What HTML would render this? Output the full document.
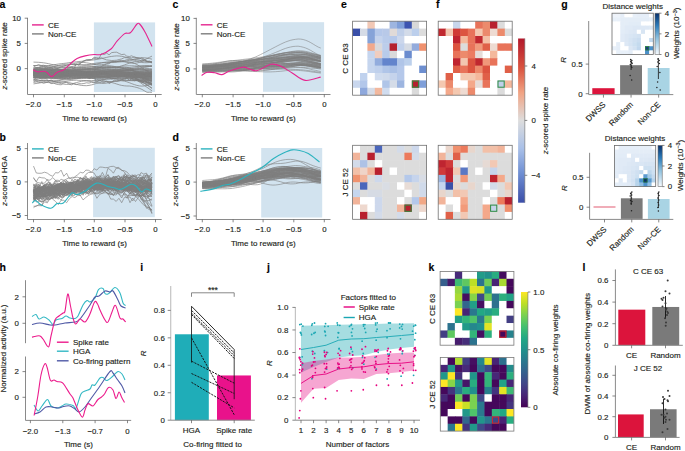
<!DOCTYPE html>
<html><head><meta charset="utf-8"><style>
html,body{margin:0;padding:0;background:#fff;overflow:hidden;}
svg{display:block;}
text{font-family:"Liberation Sans", sans-serif;stroke:#231f20;stroke-width:0.15px;}
</style></head><body>
<svg width="685" height="451" viewBox="0 0 685 451" font-family='"Liberation Sans", sans-serif'>
<rect x="93.9" y="22.4" width="61.2" height="69.6" fill="#d2e3ef" />
<path d="M33.5,73.4 36,73.4 38.5,73.5 41.1,73.5 43.6,73.6 46.1,73.7 48.6,73.8 51.1,73.9 53.7,74 56.2,74.1 58.7,74.1 61.2,74.2 63.8,74.2 66.3,74.2 68.8,74.2 71.3,74.1 73.8,74.1 76.4,74.1 78.9,74 81.4,74 83.9,74 86.4,73.9 89,73.8 91.5,73.8 94,73.7 96.5,73.6 99.1,73.5 101.6,73.4 104.1,73.3 106.6,73.2 109.1,73.1 111.7,73 114.2,73 116.7,72.9 119.2,72.9 121.7,72.9 124.3,72.9 126.8,72.9 129.3,73 131.8,73 134.4,73.1 136.9,73.2 139.4,73.3 141.9,73.3 144.4,73.4 147,73.5 149.5,73.5 152,73.5" fill="none" stroke="#7d7d7d" stroke-width="0.7" stroke-linejoin="round" />
<path d="M33.5,77.9 36,77.8 38.5,77.8 41.1,77.8 43.6,77.8 46.1,77.8 48.6,77.8 51.1,77.9 53.7,77.9 56.2,78 58.7,78.1 61.2,78.1 63.8,78.2 66.3,78.2 68.8,78.2 71.3,78.1 73.8,78.1 76.4,77.9 78.9,77.8 81.4,77.6 83.9,77.5 86.4,77.4 89,77.2 91.5,77.1 94,77.1 96.5,77 99.1,76.9 101.6,76.9 104.1,76.8 106.6,76.7 109.1,76.6 111.7,76.4 114.2,76.3 116.7,76.2 119.2,76.1 121.7,76 124.3,75.9 126.8,75.8 129.3,75.8 131.8,75.8 134.4,75.8 136.9,75.9 139.4,75.9 141.9,75.9 144.4,75.9 147,76 149.5,76 152,76" fill="none" stroke="#7d7d7d" stroke-width="0.7" stroke-linejoin="round" />
<path d="M33.5,77.5 36,77.3 38.5,77.2 41.1,77.1 43.6,77.2 46.1,77.3 48.6,77.5 51.1,77.8 53.7,78.2 56.2,78.5 58.7,78.8 61.2,79 63.8,79.2 66.3,79.2 68.8,79.1 71.3,78.9 73.8,78.6 76.4,78.2 78.9,77.8 81.4,77.3 83.9,76.9 86.4,76.6 89,76.3 91.5,76.1 94,76.1 96.5,76.1 99.1,76.2 101.6,76.5 104.1,76.8 106.6,77.2 109.1,77.7 111.7,78.2 114.2,78.8 116.7,79.3 119.2,79.8 121.7,80.2 124.3,80.5 126.8,80.6 129.3,80.6 131.8,80.5 134.4,80.4 136.9,80.2 139.4,80.1 141.9,80.1 144.4,80.2 147,80.4 149.5,80.7 152,81.2" fill="none" stroke="#7d7d7d" stroke-width="0.7" stroke-linejoin="round" />
<path d="M33.5,72.3 36,72.4 38.5,72.5 41.1,72.4 43.6,72.4 46.1,72.3 48.6,72.2 51.1,72.2 53.7,72.2 56.2,72.4 58.7,72.6 61.2,72.8 63.8,73.1 66.3,73.4 68.8,73.6 71.3,73.7 73.8,73.7 76.4,73.6 78.9,73.4 81.4,73.1 83.9,72.8 86.4,72.4 89,72.1 91.5,71.9 94,71.8 96.5,71.8 99.1,71.9 101.6,72.2 104.1,72.5 106.6,72.8 109.1,73.2 111.7,73.5 114.2,73.7 116.7,73.9 119.2,74.1 121.7,74.1 124.3,74.2 126.8,74.2 129.3,74.2 131.8,74.3 134.4,74.3 136.9,74.4 139.4,74.5 141.9,74.6 144.4,74.7 147,74.7 149.5,74.7 152,74.6" fill="none" stroke="#7d7d7d" stroke-width="0.7" stroke-linejoin="round" />
<path d="M33.5,79.5 36,79.1 38.5,78.8 41.1,78.5 43.6,78.2 46.1,78 48.6,77.8 51.1,77.7 53.7,77.7 56.2,77.7 58.7,77.7 61.2,77.7 63.8,77.7 66.3,77.7 68.8,77.6 71.3,77.5 73.8,77.5 76.4,77.4 78.9,77.4 81.4,77.4 83.9,77.4 86.4,77.5 89,77.5 91.5,77.5 94,77.4 96.5,77.3 99.1,77.1 101.6,76.9 104.1,76.6 106.6,76.3 109.1,76.1 111.7,75.9 114.2,75.7 116.7,75.6 119.2,75.6 121.7,75.7 124.3,75.9 126.8,76 129.3,76.3 131.8,76.5 134.4,76.7 136.9,76.9 139.4,77.1 141.9,77.3 144.4,77.5 147,77.7 149.5,78 152,78.4" fill="none" stroke="#7d7d7d" stroke-width="0.7" stroke-linejoin="round" />
<path d="M33.5,74.6 36,74.6 38.5,74.6 41.1,74.8 43.6,74.9 46.1,75.1 48.6,75.2 51.1,75.2 53.7,75.2 56.2,75 58.7,74.6 61.2,74.3 63.8,73.9 66.3,73.5 68.8,73.2 71.3,73.1 73.8,73 76.4,73.1 78.9,73.3 81.4,73.5 83.9,73.8 86.4,73.9 89,74 91.5,74 94,73.9 96.5,73.7 99.1,73.6 101.6,73.4 104.1,73.3 106.6,73.2 109.1,73.3 111.7,73.4 114.2,73.5 116.7,73.7 119.2,73.9 121.7,74 124.3,74.1 126.8,74.1 129.3,74.1 131.8,74.1 134.4,74.2 136.9,74.3 139.4,74.5 141.9,74.7 144.4,75 147,75.2 149.5,75.3 152,75.4" fill="none" stroke="#7d7d7d" stroke-width="0.7" stroke-linejoin="round" />
<path d="M33.5,69.6 36,69.7 38.5,69.8 41.1,69.9 43.6,70 46.1,70 48.6,70.1 51.1,70.1 53.7,70.1 56.2,70 58.7,70 61.2,69.9 63.8,69.9 66.3,69.8 68.8,69.8 71.3,69.8 73.8,69.8 76.4,69.8 78.9,69.8 81.4,69.8 83.9,69.8 86.4,69.7 89,69.7 91.5,69.6 94,69.5 96.5,69.5 99.1,69.4 101.6,69.4 104.1,69.3 106.6,69.3 109.1,69.3 111.7,69.4 114.2,69.4 116.7,69.5 119.2,69.6 121.7,69.8 124.3,70 126.8,70.2 129.3,70.4 131.8,70.6 134.4,70.8 136.9,71 139.4,71.1 141.9,71.1 144.4,71.2 147,71.1 149.5,71 152,70.9" fill="none" stroke="#7d7d7d" stroke-width="0.7" stroke-linejoin="round" />
<path d="M33.5,75 36,74.9 38.5,75 41.1,75 43.6,75.1 46.1,75.2 48.6,75.4 51.1,75.4 53.7,75.4 56.2,75.2 58.7,74.8 61.2,74.2 63.8,73.5 66.3,72.7 68.8,71.8 71.3,71 73.8,70.3 76.4,69.7 78.9,69.4 81.4,69.3 83.9,69.3 86.4,69.5 89,69.6 91.5,69.7 94,69.7 96.5,69.5 99.1,69.3 101.6,69 104.1,68.8 106.6,68.6 109.1,68.7 111.7,69 114.2,69.5 116.7,70.3 119.2,71.3 121.7,72.3 124.3,73.4 126.8,74.3 129.3,75.1 131.8,75.6 134.4,75.8 136.9,75.9 139.4,75.8 141.9,75.8 144.4,75.8 147,75.9 149.5,76.2 152,76.6" fill="none" stroke="#7d7d7d" stroke-width="0.7" stroke-linejoin="round" />
<path d="M33.5,73.3 36,73.6 38.5,73.9 41.1,74.3 43.6,74.6 46.1,74.9 48.6,75.1 51.1,75.2 53.7,75.2 56.2,75.1 58.7,74.9 61.2,74.7 63.8,74.5 66.3,74.3 68.8,74.2 71.3,74.1 73.8,74.2 76.4,74.4 78.9,74.6 81.4,74.8 83.9,75.1 86.4,75.3 89,75.4 91.5,75.4 94,75.2 96.5,75 99.1,74.7 101.6,74.4 104.1,74.1 106.6,73.8 109.1,73.6 111.7,73.5 114.2,73.4 116.7,73.4 119.2,73.5 121.7,73.6 124.3,73.7 126.8,73.9 129.3,74 131.8,74.2 134.4,74.3 136.9,74.4 139.4,74.5 141.9,74.6 144.4,74.7 147,74.9 149.5,75 152,75.1" fill="none" stroke="#7d7d7d" stroke-width="0.7" stroke-linejoin="round" />
<path d="M33.5,72.6 36,72.6 38.5,72.6 41.1,72.7 43.6,72.7 46.1,72.7 48.6,72.7 51.1,72.7 53.7,72.6 56.2,72.5 58.7,72.4 61.2,72.2 63.8,72 66.3,71.9 68.8,71.7 71.3,71.6 73.8,71.5 76.4,71.5 78.9,71.5 81.4,71.5 83.9,71.5 86.4,71.6 89,71.7 91.5,71.7 94,71.8 96.5,71.8 99.1,71.7 101.6,71.6 104.1,71.4 106.6,71.2 109.1,70.9 111.7,70.6 114.2,70.3 116.7,69.9 119.2,69.6 121.7,69.4 124.3,69.2 126.8,69.1 129.3,69.1 131.8,69.1 134.4,69.3 136.9,69.4 139.4,69.6 141.9,69.9 144.4,70.2 147,70.5 149.5,70.9 152,71.3" fill="none" stroke="#7d7d7d" stroke-width="0.7" stroke-linejoin="round" />
<path d="M33.5,73.3 36,73.3 38.5,73.3 41.1,73.3 43.6,73.4 46.1,73.5 48.6,73.7 51.1,73.9 53.7,74.2 56.2,74.4 58.7,74.6 61.2,74.8 63.8,75.1 66.3,75.3 68.8,75.5 71.3,75.7 73.8,75.9 76.4,76.1 78.9,76.2 81.4,76.3 83.9,76.2 86.4,76.2 89,76 91.5,75.7 94,75.3 96.5,75 99.1,74.6 101.6,74.2 104.1,73.8 106.6,73.6 109.1,73.4 111.7,73.4 114.2,73.4 116.7,73.5 119.2,73.7 121.7,73.9 124.3,74 126.8,74.2 129.3,74.4 131.8,75 134.4,75.6 136.9,76.2 139.4,76.9 141.9,77.7 144.4,78.5 147,79.3 149.5,80.2 152,81.1" fill="none" stroke="#7d7d7d" stroke-width="0.7" stroke-linejoin="round" />
<path d="M33.5,71.7 36,71.3 38.5,70.9 41.1,70.6 43.6,70.4 46.1,70.4 48.6,70.4 51.1,70.5 53.7,70.5 56.2,70.5 58.7,70.5 61.2,70.4 63.8,70.2 66.3,70 68.8,69.8 71.3,69.7 73.8,69.6 76.4,69.6 78.9,69.7 81.4,69.7 83.9,69.7 86.4,69.7 89,69.5 91.5,69.2 94,68.8 96.5,68.3 99.1,67.7 101.6,67.2 104.1,66.8 106.6,66.6 109.1,66.5 111.7,66.6 114.2,66.8 116.7,67.2 119.2,67.7 121.7,68.2 124.3,68.6 126.8,69 129.3,69.4 131.8,70.4 134.4,71.6 136.9,72.9 139.4,74.4 141.9,76.1 144.4,77.9 147,80 149.5,82.2 152,84.5" fill="none" stroke="#7d7d7d" stroke-width="0.7" stroke-linejoin="round" />
<path d="M33.5,72 36,72 38.5,72.1 41.1,72.2 43.6,72.3 46.1,72.5 48.6,72.7 51.1,72.8 53.7,72.9 56.2,72.9 58.7,72.8 61.2,72.6 63.8,72.4 66.3,72.1 68.8,71.8 71.3,71.5 73.8,71.2 76.4,71 78.9,70.9 81.4,70.8 83.9,70.8 86.4,70.7 89,70.8 91.5,70.8 94,70.8 96.5,70.8 99.1,70.8 101.6,70.8 104.1,70.8 106.6,70.9 109.1,71 111.7,71.1 114.2,71.1 116.7,71.2 119.2,71.1 121.7,71 124.3,70.8 126.8,70.6 129.3,70.2 131.8,69.8 134.4,69.4 136.9,69 139.4,68.7 141.9,68.5 144.4,68.4 147,68.5 149.5,68.6 152,68.9" fill="none" stroke="#7d7d7d" stroke-width="0.7" stroke-linejoin="round" />
<path d="M33.5,76.1 36,76.4 38.5,76.7 41.1,77 43.6,77.2 46.1,77.4 48.6,77.4 51.1,77.4 53.7,77.3 56.2,77.2 58.7,77.1 61.2,77 63.8,76.9 66.3,76.9 68.8,76.9 71.3,76.9 73.8,76.9 76.4,76.9 78.9,76.9 81.4,76.9 83.9,76.7 86.4,76.6 89,76.5 91.5,76.3 94,76.3 96.5,76.2 99.1,76.2 101.6,76.2 104.1,76.3 106.6,76.4 109.1,76.4 111.7,76.5 114.2,76.5 116.7,76.5 119.2,76.4 121.7,76.4 124.3,76.5 126.8,76.5 129.3,76.7 131.8,76.9 134.4,77.2 136.9,77.5 139.4,77.8 141.9,78 144.4,78.1 147,78.1 149.5,78 152,77.9" fill="none" stroke="#7d7d7d" stroke-width="0.7" stroke-linejoin="round" />
<path d="M33.5,82.4 36,82 38.5,81.4 41.1,80.9 43.6,80.5 46.1,80.3 48.6,80.4 51.1,80.8 53.7,81.4 56.2,82.2 58.7,82.9 61.2,83.6 63.8,84.1 66.3,84.4 68.8,84.3 71.3,83.9 73.8,83.3 76.4,82.6 78.9,81.9 81.4,81.3 83.9,81 86.4,80.9 89,81.2 91.5,81.6 94,82.1 96.5,82.7 99.1,83.1 101.6,83.4 104.1,83.4 106.6,83.1 109.1,82.6 111.7,82 114.2,81.4 116.7,81 119.2,80.7 121.7,80.8 124.3,81.1 126.8,81.8 129.3,82.7 131.8,83.7 134.4,84.6 136.9,85.4 139.4,85.9 141.9,86.1 144.4,85.9 147,85.4 149.5,84.7 152,83.9" fill="none" stroke="#7d7d7d" stroke-width="0.7" stroke-linejoin="round" />
<path d="M33.5,68.3 36,68.4 38.5,68.5 41.1,68.5 43.6,68.5 46.1,68.5 48.6,68.3 51.1,68.1 53.7,67.8 56.2,67.5 58.7,67.3 61.2,67.1 63.8,66.9 66.3,66.9 68.8,66.9 71.3,67.1 73.8,67.3 76.4,67.6 78.9,67.9 81.4,68.1 83.9,68.3 86.4,68.5 89,68.5 91.5,68.5 94,68.3 96.5,68.1 99.1,67.9 101.6,67.7 104.1,67.5 106.6,67.4 109.1,67.3 111.7,67.4 114.2,67.5 116.7,67.6 119.2,67.7 121.7,67.8 124.3,67.9 126.8,67.8 129.3,67.6 131.8,67.3 134.4,66.9 136.9,66.5 139.4,66.1 141.9,65.8 144.4,65.6 147,65.6 149.5,65.7 152,66" fill="none" stroke="#7d7d7d" stroke-width="0.7" stroke-linejoin="round" />
<path d="M33.5,65.5 36,65.5 38.5,65.4 41.1,65.4 43.6,65.4 46.1,65.5 48.6,65.8 51.1,66 53.7,66.4 56.2,66.7 58.7,67 61.2,67.3 63.8,67.5 66.3,67.6 68.8,67.6 71.3,67.5 73.8,67.3 76.4,67 78.9,66.7 81.4,66.5 83.9,66.3 86.4,66.2 89,66.1 91.5,66.2 94,66.4 96.5,66.6 99.1,66.9 101.6,67.1 104.1,67.3 106.6,67.4 109.1,67.4 111.7,67.3 114.2,67.1 116.7,66.9 119.2,66.6 121.7,66.3 124.3,66.1 126.8,65.9 129.3,65.8 131.8,65.8 134.4,65.9 136.9,66 139.4,66.1 141.9,66.2 144.4,66.2 147,66.1 149.5,66 152,65.8" fill="none" stroke="#7d7d7d" stroke-width="0.7" stroke-linejoin="round" />
<path d="M33.5,77.5 36,77.5 38.5,77.4 41.1,77.4 43.6,77.3 46.1,77.1 48.6,76.9 51.1,76.7 53.7,76.5 56.2,76.2 58.7,75.9 61.2,75.7 63.8,75.5 66.3,75.3 68.8,75.1 71.3,74.9 73.8,74.7 76.4,74.6 78.9,74.4 81.4,74.2 83.9,74 86.4,73.8 89,73.7 91.5,73.5 94,73.4 96.5,73.4 99.1,73.4 101.6,73.5 104.1,73.5 106.6,73.7 109.1,73.8 111.7,74 114.2,74.2 116.7,74.4 119.2,74.6 121.7,74.9 124.3,75.1 126.8,75.4 129.3,75.7 131.8,76 134.4,76.2 136.9,76.5 139.4,76.8 141.9,77 144.4,77.2 147,77.4 149.5,77.6 152,77.8" fill="none" stroke="#7d7d7d" stroke-width="0.7" stroke-linejoin="round" />
<path d="M33.5,73.4 36,73.6 38.5,73.7 41.1,73.7 43.6,73.7 46.1,73.6 48.6,73.5 51.1,73.4 53.7,73.2 56.2,73.1 58.7,73 61.2,72.9 63.8,73 66.3,73 68.8,73.2 71.3,73.3 73.8,73.5 76.4,73.7 78.9,73.8 81.4,74 83.9,74.1 86.4,74.1 89,74.1 91.5,74.1 94,74 96.5,73.9 99.1,73.8 101.6,73.6 104.1,73.5 106.6,73.5 109.1,73.4 111.7,73.4 114.2,73.5 116.7,73.7 119.2,73.9 121.7,74.2 124.3,74.5 126.8,74.8 129.3,75.3 131.8,76.4 134.4,77.7 136.9,79.1 139.4,80.4 141.9,81.8 144.4,83.2 147,84.7 149.5,86.3 152,88.1" fill="none" stroke="#7d7d7d" stroke-width="0.7" stroke-linejoin="round" />
<path d="M33.5,71.4 36,71.6 38.5,71.8 41.1,71.8 43.6,71.6 46.1,71.4 48.6,71.1 51.1,70.7 53.7,70.4 56.2,70.1 58.7,69.9 61.2,69.9 63.8,70 66.3,70.1 68.8,70.3 71.3,70.5 73.8,70.6 76.4,70.5 78.9,70.4 81.4,70.1 83.9,69.8 86.4,69.4 89,69.1 91.5,68.9 94,68.8 96.5,68.8 99.1,68.9 101.6,69 104.1,69.2 106.6,69.3 109.1,69.2 111.7,69.1 114.2,68.8 116.7,68.4 119.2,68 121.7,67.7 124.3,67.4 126.8,67.4 129.3,67.9 131.8,69.3 134.4,71.1 136.9,73.2 139.4,75.5 141.9,77.8 144.4,79.9 147,81.9 149.5,83.7 152,85.2" fill="none" stroke="#7d7d7d" stroke-width="0.7" stroke-linejoin="round" />
<path d="M33.5,71.1 36,71 38.5,71.1 41.1,71.3 43.6,71.5 46.1,71.8 48.6,72.2 51.1,72.6 53.7,73.1 56.2,73.5 58.7,73.9 61.2,74.2 63.8,74.5 66.3,74.7 68.8,74.8 71.3,74.9 73.8,74.9 76.4,74.9 78.9,74.8 81.4,74.8 83.9,74.7 86.4,74.7 89,74.6 91.5,74.6 94,74.6 96.5,74.6 99.1,74.7 101.6,74.8 104.1,74.9 106.6,75.1 109.1,75.3 111.7,75.5 114.2,75.8 116.7,76 119.2,76.2 121.7,76.4 124.3,76.5 126.8,76.6 129.3,76.8 131.8,77.3 134.4,78 136.9,78.8 139.4,79.6 141.9,80.5 144.4,81.5 147,82.5 149.5,83.7 152,84.9" fill="none" stroke="#7d7d7d" stroke-width="0.7" stroke-linejoin="round" />
<path d="M33.5,72 36,72.2 38.5,72.5 41.1,72.8 43.6,72.9 46.1,73 48.6,73 51.1,72.8 53.7,72.7 56.2,72.5 58.7,72.4 61.2,72.3 63.8,72.4 66.3,72.6 68.8,73 71.3,73.4 73.8,73.8 76.4,74.2 78.9,74.6 81.4,74.9 83.9,75 86.4,75.1 89,75 91.5,75 94,74.8 96.5,74.8 99.1,74.7 101.6,74.7 104.1,74.7 106.6,74.7 109.1,74.7 111.7,74.7 114.2,74.6 116.7,74.5 119.2,74.3 121.7,74.1 124.3,74 126.8,73.8 129.3,73.9 131.8,74.4 134.4,75.1 136.9,75.9 139.4,76.8 141.9,77.7 144.4,78.5 147,79.3 149.5,79.9 152,80.5" fill="none" stroke="#7d7d7d" stroke-width="0.7" stroke-linejoin="round" />
<path d="M33.5,73.2 36,73.2 38.5,73.3 41.1,73.3 43.6,73.3 46.1,73.4 48.6,73.4 51.1,73.4 53.7,73.4 56.2,73.5 58.7,73.5 61.2,73.6 63.8,73.6 66.3,73.7 68.8,73.7 71.3,73.7 73.8,73.6 76.4,73.5 78.9,73.3 81.4,73.1 83.9,72.8 86.4,72.5 89,72.3 91.5,72 94,71.8 96.5,71.6 99.1,71.6 101.6,71.5 104.1,71.6 106.6,71.7 109.1,71.8 111.7,72 114.2,72.2 116.7,72.4 119.2,72.6 121.7,72.8 124.3,72.9 126.8,73 129.3,73.1 131.8,73.2 134.4,73.2 136.9,73.2 139.4,73.3 141.9,73.4 144.4,73.5 147,73.6 149.5,73.8 152,74" fill="none" stroke="#7d7d7d" stroke-width="0.7" stroke-linejoin="round" />
<path d="M33.5,74.3 36,74 38.5,73.8 41.1,73.7 43.6,73.6 46.1,73.7 48.6,73.8 51.1,74 53.7,74.2 56.2,74.4 58.7,74.7 61.2,74.9 63.8,75 66.3,75.1 68.8,75.2 71.3,75.2 73.8,75.3 76.4,75.3 78.9,75.4 81.4,75.5 83.9,75.6 86.4,75.8 89,76 91.5,76.1 94,76.2 96.5,76.2 99.1,76.2 101.6,76.1 104.1,76 106.6,75.9 109.1,75.8 111.7,75.7 114.2,75.6 116.7,75.7 119.2,75.7 121.7,75.9 124.3,76 126.8,76.2 129.3,76.4 131.8,76.7 134.4,76.9 136.9,77.2 139.4,77.4 141.9,77.8 144.4,78.1 147,78.5 149.5,78.9 152,79.4" fill="none" stroke="#7d7d7d" stroke-width="0.7" stroke-linejoin="round" />
<path d="M33.5,70.2 36,70 38.5,69.9 41.1,69.9 43.6,70 46.1,70.3 48.6,70.6 51.1,71 53.7,71.4 56.2,71.8 58.7,72 61.2,72.2 63.8,72.3 66.3,72.3 68.8,72.2 71.3,72.1 73.8,72 76.4,71.9 78.9,71.8 81.4,71.8 83.9,71.8 86.4,71.9 89,71.9 91.5,72 94,72 96.5,72 99.1,71.9 101.6,71.8 104.1,71.7 106.6,71.6 109.1,71.5 111.7,71.5 114.2,71.5 116.7,71.5 119.2,71.6 121.7,71.7 124.3,71.9 126.8,72 129.3,72.2 131.8,72.4 134.4,72.5 136.9,72.7 139.4,72.9 141.9,73 144.4,73.2 147,73.3 149.5,73.5 152,73.5" fill="none" stroke="#7d7d7d" stroke-width="0.7" stroke-linejoin="round" />
<path d="M33.5,75.1 36,75 38.5,75 41.1,75 43.6,75.1 46.1,75.2 48.6,75.3 51.1,75.3 53.7,75.3 56.2,75.2 58.7,75.1 61.2,74.9 63.8,74.7 66.3,74.6 68.8,74.4 71.3,74.4 73.8,74.4 76.4,74.6 78.9,74.8 81.4,75.1 83.9,75.4 86.4,75.6 89,75.8 91.5,75.8 94,75.8 96.5,75.6 99.1,75.3 101.6,75 104.1,74.6 106.6,74.3 109.1,74.1 111.7,73.9 114.2,73.9 116.7,73.9 119.2,74.1 121.7,74.3 124.3,74.5 126.8,74.8 129.3,75 131.8,75.2 134.4,75.4 136.9,75.5 139.4,75.7 141.9,75.9 144.4,76.1 147,76.3 149.5,76.6 152,76.9" fill="none" stroke="#7d7d7d" stroke-width="0.7" stroke-linejoin="round" />
<path d="M33.5,70.3 36,70.3 38.5,70.4 41.1,70.5 43.6,70.7 46.1,70.9 48.6,71.1 51.1,71.3 53.7,71.5 56.2,71.7 58.7,71.7 61.2,71.7 63.8,71.6 66.3,71.4 68.8,71.1 71.3,70.8 73.8,70.5 76.4,70.3 78.9,70.1 81.4,70.1 83.9,70.1 86.4,70.2 89,70.4 91.5,70.6 94,70.9 96.5,71.1 99.1,71.3 101.6,71.4 104.1,71.5 106.6,71.5 109.1,71.6 111.7,71.6 114.2,71.7 116.7,71.8 119.2,71.9 121.7,72.1 124.3,72.2 126.8,72.4 129.3,72.6 131.8,72.7 134.4,72.8 136.9,72.9 139.4,73 141.9,73.1 144.4,73.2 147,73.3 149.5,73.5 152,73.6" fill="none" stroke="#7d7d7d" stroke-width="0.7" stroke-linejoin="round" />
<path d="M33.5,75.4 36,75.4 38.5,75.4 41.1,75.4 43.6,75.5 46.1,75.7 48.6,75.9 51.1,76.2 53.7,76.5 56.2,76.9 58.7,77.2 61.2,77.5 63.8,77.8 66.3,78 68.8,78.2 71.3,78.3 73.8,78.4 76.4,78.5 78.9,78.5 81.4,78.5 83.9,78.5 86.4,78.5 89,78.5 91.5,78.5 94,78.4 96.5,78.3 99.1,78.2 101.6,78 104.1,77.8 106.6,77.7 109.1,77.5 111.7,77.3 114.2,77.2 116.7,77.1 119.2,77 121.7,76.9 124.3,76.8 126.8,76.7 129.3,76.7 131.8,76.6 134.4,76.6 136.9,76.5 139.4,76.5 141.9,76.5 144.4,76.5 147,76.5 149.5,76.5 152,76.5" fill="none" stroke="#7d7d7d" stroke-width="0.7" stroke-linejoin="round" />
<path d="M33.5,74.5 36,74.4 38.5,74.3 41.1,74.2 43.6,74 46.1,73.8 48.6,73.6 51.1,73.4 53.7,73.3 56.2,73.2 58.7,73.2 61.2,73.2 63.8,73.2 66.3,73.3 68.8,73.3 71.3,73.3 73.8,73.4 76.4,73.4 78.9,73.4 81.4,73.4 83.9,73.4 86.4,73.4 89,73.4 91.5,73.4 94,73.5 96.5,73.5 99.1,73.6 101.6,73.6 104.1,73.6 106.6,73.7 109.1,73.8 111.7,73.9 114.2,74.1 116.7,74.3 119.2,74.6 121.7,74.9 124.3,75.2 126.8,75.5 129.3,75.9 131.8,76.2 134.4,76.6 136.9,76.9 139.4,77.2 141.9,77.5 144.4,77.9 147,78.2 149.5,78.5 152,78.8" fill="none" stroke="#7d7d7d" stroke-width="0.7" stroke-linejoin="round" />
<path d="M33.5,72.8 36,73 38.5,73.1 41.1,73.2 43.6,73.4 46.1,73.6 48.6,73.7 51.1,73.9 53.7,74.1 56.2,74.3 58.7,74.4 61.2,74.5 63.8,74.5 66.3,74.5 68.8,74.4 71.3,74.3 73.8,74.3 76.4,74.2 78.9,74.3 81.4,74.4 83.9,74.7 86.4,75 89,75.5 91.5,76 94,76.4 96.5,76.8 99.1,77.2 101.6,77.4 104.1,77.5 106.6,77.5 109.1,77.4 111.7,77.2 114.2,77.1 116.7,76.9 119.2,76.9 121.7,76.8 124.3,76.9 126.8,77 129.3,77.1 131.8,77.3 134.4,77.4 136.9,77.5 139.4,77.5 141.9,77.4 144.4,77.2 147,76.9 149.5,76.7 152,76.4" fill="none" stroke="#7d7d7d" stroke-width="0.7" stroke-linejoin="round" />
<path d="M33.5,74 36,73.9 38.5,73.9 41.1,73.8 43.6,73.7 46.1,73.6 48.6,73.5 51.1,73.4 53.7,73.4 56.2,73.4 58.7,73.5 61.2,73.5 63.8,73.6 66.3,73.6 68.8,73.7 71.3,73.8 73.8,73.8 76.4,73.9 78.9,74 81.4,74 83.9,74.2 86.4,74.3 89,74.4 91.5,74.5 94,74.6 96.5,74.7 99.1,74.6 101.6,74.6 104.1,74.4 106.6,74.2 109.1,74 111.7,73.8 114.2,73.6 116.7,73.5 119.2,73.4 121.7,73.4 124.3,73.5 126.8,73.7 129.3,73.9 131.8,74.6 134.4,75.3 136.9,76.1 139.4,76.9 141.9,77.7 144.4,78.5 147,79.4 149.5,80.4 152,81.5" fill="none" stroke="#7d7d7d" stroke-width="0.7" stroke-linejoin="round" />
<path d="M33.5,73 36,72.9 38.5,72.9 41.1,73 43.6,73.2 46.1,73.4 48.6,73.6 51.1,73.8 53.7,73.9 56.2,74 58.7,74.1 61.2,74 63.8,73.9 66.3,73.8 68.8,73.7 71.3,73.6 73.8,73.6 76.4,73.6 78.9,73.8 81.4,74 83.9,74.2 86.4,74.5 89,74.7 91.5,74.9 94,75 96.5,75.1 99.1,75 101.6,74.9 104.1,74.8 106.6,74.7 109.1,74.5 111.7,74.5 114.2,74.5 116.7,74.6 119.2,74.8 121.7,75.1 124.3,75.5 126.8,75.9 129.3,76.4 131.8,77.2 134.4,78.1 136.9,78.9 139.4,79.7 141.9,80.5 144.4,81.2 147,81.9 149.5,82.7 152,83.5" fill="none" stroke="#7d7d7d" stroke-width="0.7" stroke-linejoin="round" />
<path d="M33.5,75.2 36,75.2 38.5,75.2 41.1,75.1 43.6,75.1 46.1,75.1 48.6,75.2 51.1,75.3 53.7,75.5 56.2,75.6 58.7,75.8 61.2,76 63.8,76.1 66.3,76.2 68.8,76.3 71.3,76.2 73.8,76.1 76.4,76 78.9,75.8 81.4,75.5 83.9,75.2 86.4,74.9 89,74.6 91.5,74.4 94,74.1 96.5,73.9 99.1,73.7 101.6,73.6 104.1,73.5 106.6,73.5 109.1,73.5 111.7,73.5 114.2,73.5 116.7,73.6 119.2,73.6 121.7,73.6 124.3,73.6 126.8,73.5 129.3,73.4 131.8,73.3 134.4,73.3 136.9,73.2 139.4,73.2 141.9,73.3 144.4,73.5 147,73.8 149.5,74.1 152,74.5" fill="none" stroke="#7d7d7d" stroke-width="0.7" stroke-linejoin="round" />
<path d="M33.5,73.5 36,73.3 38.5,73.2 41.1,73.1 43.6,73 46.1,73 48.6,73 51.1,73 53.7,72.9 56.2,72.9 58.7,72.8 61.2,72.8 63.8,72.7 66.3,72.7 68.8,72.8 71.3,73 73.8,73.2 76.4,73.5 78.9,73.9 81.4,74.2 83.9,74.5 86.4,74.7 89,74.8 91.5,74.8 94,74.8 96.5,74.6 99.1,74.4 101.6,74.2 104.1,74 106.6,73.8 109.1,73.6 111.7,73.5 114.2,73.3 116.7,73.2 119.2,73.1 121.7,73 124.3,72.9 126.8,72.8 129.3,72.7 131.8,72.6 134.4,72.6 136.9,72.7 139.4,72.9 141.9,73.1 144.4,73.3 147,73.6 149.5,73.7 152,73.8" fill="none" stroke="#7d7d7d" stroke-width="0.7" stroke-linejoin="round" />
<path d="M33.5,70.8 36,71 38.5,71.2 41.1,71.4 43.6,71.6 46.1,71.7 48.6,71.9 51.1,72.1 53.7,72.2 56.2,72.4 58.7,72.6 61.2,72.8 63.8,73.1 66.3,73.4 68.8,73.8 71.3,74.1 73.8,74.5 76.4,74.8 78.9,75 81.4,75.1 83.9,75.2 86.4,75.1 89,75 91.5,74.9 94,74.8 96.5,74.7 99.1,74.6 101.6,74.6 104.1,74.7 106.6,74.8 109.1,75 111.7,75.1 114.2,75.3 116.7,75.5 119.2,75.6 121.7,75.7 124.3,75.8 126.8,75.9 129.3,76 131.8,76.2 134.4,76.4 136.9,76.8 139.4,77.2 141.9,77.6 144.4,78 147,78.3 149.5,78.6 152,78.7" fill="none" stroke="#7d7d7d" stroke-width="0.7" stroke-linejoin="round" />
<path d="M33.5,75.8 36,75.8 38.5,75.6 41.1,75.5 43.6,75.3 46.1,75 48.6,74.8 51.1,74.5 53.7,74.2 56.2,74 58.7,73.9 61.2,73.7 63.8,73.6 66.3,73.6 68.8,73.6 71.3,73.6 73.8,73.6 76.4,73.6 78.9,73.5 81.4,73.5 83.9,73.4 86.4,73.4 89,73.4 91.5,73.5 94,73.7 96.5,73.9 99.1,74.3 101.6,74.6 104.1,75 106.6,75.3 109.1,75.6 111.7,75.7 114.2,75.7 116.7,75.6 119.2,75.3 121.7,75 124.3,74.6 126.8,74.3 129.3,74.1 131.8,74.1 134.4,74.3 136.9,74.7 139.4,75.3 141.9,75.9 144.4,76.6 147,77.1 149.5,77.5 152,77.6" fill="none" stroke="#7d7d7d" stroke-width="0.7" stroke-linejoin="round" />
<path d="M33.5,68 36,67.7 38.5,67.5 41.1,67.4 43.6,67.4 46.1,67.3 48.6,67.2 51.1,66.9 53.7,66.5 56.2,66 58.7,65.4 61.2,64.9 63.8,64.5 66.3,64.2 68.8,64.1 71.3,64.1 73.8,64.3 76.4,64.5 78.9,64.7 81.4,64.8 83.9,64.8 86.4,64.7 89,64.4 91.5,64 94,63.5 96.5,63.1 99.1,62.8 101.6,62.6 104.1,62.4 106.6,62.4 109.1,62.4 111.7,62.3 114.2,62.3 116.7,62.2 119.2,62 121.7,61.8 124.3,61.7 126.8,61.7 129.3,61.9 131.8,62.4 134.4,63.3 136.9,64.5 139.4,66 141.9,67.6 144.4,69.4 147,71 149.5,72.4 152,73.5" fill="none" stroke="#7d7d7d" stroke-width="0.7" stroke-linejoin="round" />
<path d="M33.5,71.8 36,71.9 38.5,71.9 41.1,72 43.6,72.1 46.1,72.2 48.6,72.2 51.1,72.2 53.7,72.1 56.2,72 58.7,71.9 61.2,71.7 63.8,71.6 66.3,71.6 68.8,71.6 71.3,71.6 73.8,71.6 76.4,71.7 78.9,71.7 81.4,71.7 83.9,71.6 86.4,71.4 89,71.2 91.5,71 94,70.8 96.5,70.6 99.1,70.6 101.6,70.6 104.1,70.8 106.6,71 109.1,71.4 111.7,71.9 114.2,72.3 116.7,72.7 119.2,73.1 121.7,73.4 124.3,73.5 126.8,73.6 129.3,73.5 131.8,73.4 134.4,73.2 136.9,73 139.4,72.9 141.9,72.7 144.4,72.5 147,72.3 149.5,72.2 152,72.1" fill="none" stroke="#7d7d7d" stroke-width="0.7" stroke-linejoin="round" />
<path d="M33.5,69.3 36,69.2 38.5,69 41.1,68.9 43.6,68.8 46.1,68.7 48.6,68.7 51.1,68.7 53.7,68.7 56.2,68.8 58.7,68.8 61.2,68.9 63.8,68.9 66.3,68.9 68.8,68.9 71.3,68.8 73.8,68.6 76.4,68.4 78.9,68.2 81.4,67.9 83.9,67.6 86.4,67.4 89,67.3 91.5,67.2 94,67.3 96.5,67.6 99.1,67.9 101.6,68.3 104.1,68.8 106.6,69.3 109.1,69.7 111.7,70.1 114.2,70.3 116.7,70.5 119.2,70.4 121.7,70.3 124.3,70 126.8,69.6 129.3,69.1 131.8,68.6 134.4,68.1 136.9,67.7 139.4,67.3 141.9,66.9 144.4,66.7 147,66.6 149.5,66.5 152,66.4" fill="none" stroke="#7d7d7d" stroke-width="0.7" stroke-linejoin="round" />
<path d="M33.5,73.5 36,73.5 38.5,73.3 41.1,73.1 43.6,72.7 46.1,72.2 48.6,71.5 51.1,70.7 53.7,69.8 56.2,68.8 58.7,67.8 61.2,66.8 63.8,66 66.3,65.3 68.8,64.8 71.3,64.5 73.8,64.5 76.4,64.6 78.9,64.8 81.4,65 83.9,65.2 86.4,65.2 89,65.2 91.5,64.9 94,64.6 96.5,64.1 99.1,63.5 101.6,63 104.1,62.5 106.6,62.1 109.1,61.8 111.7,61.6 114.2,61.6 116.7,61.5 119.2,61.5 121.7,61.4 124.3,61.1 126.8,60.8 129.3,60.3 131.8,59.7 134.4,59.1 136.9,58.5 139.4,58.1 141.9,57.8 144.4,57.8 147,58.1 149.5,58.6 152,59.2" fill="none" stroke="#7d7d7d" stroke-width="0.7" stroke-linejoin="round" />
<path d="M33.5,69.6 36,69.6 38.5,69.5 41.1,69.3 43.6,69.1 46.1,68.9 48.6,68.8 51.1,68.8 53.7,68.9 56.2,69.2 58.7,69.5 61.2,70 63.8,70.6 66.3,71.1 68.8,71.6 71.3,72.1 73.8,72.4 76.4,72.5 78.9,72.6 81.4,72.6 83.9,72.6 86.4,72.5 89,72.5 91.5,72.6 94,72.6 96.5,72.7 99.1,72.8 101.6,72.9 104.1,72.9 106.6,72.9 109.1,72.7 111.7,72.5 114.2,72.2 116.7,71.8 119.2,71.5 121.7,71.2 124.3,70.9 126.8,70.6 129.3,70.4 131.8,70.3 134.4,70.2 136.9,70.1 139.4,70 141.9,69.9 144.4,69.8 147,69.7 149.5,69.7 152,69.8" fill="none" stroke="#7d7d7d" stroke-width="0.7" stroke-linejoin="round" />
<path d="M33.5,75.3 36,75.5 38.5,75.7 41.1,75.8 43.6,75.9 46.1,75.9 48.6,75.9 51.1,75.7 53.7,75.5 56.2,75.2 58.7,75 61.2,74.8 63.8,74.7 66.3,74.6 68.8,74.6 71.3,74.6 73.8,74.7 76.4,74.7 78.9,74.6 81.4,74.4 83.9,74.2 86.4,73.9 89,73.5 91.5,73.1 94,72.8 96.5,72.7 99.1,72.6 101.6,72.7 104.1,72.9 106.6,73.3 109.1,73.6 111.7,74 114.2,74.2 116.7,74.4 119.2,74.5 121.7,74.5 124.3,74.4 126.8,74.3 129.3,74.1 131.8,74 134.4,73.9 136.9,73.8 139.4,73.8 141.9,73.8 144.4,73.8 147,73.7 149.5,73.6 152,73.4" fill="none" stroke="#7d7d7d" stroke-width="0.7" stroke-linejoin="round" />
<path d="M33.5,69.8 36,69.4 38.5,69.1 41.1,68.9 43.6,68.9 46.1,69.1 48.6,69.3 51.1,69.7 53.7,70 56.2,70.4 58.7,70.7 61.2,70.8 63.8,70.9 66.3,70.7 68.8,70.5 71.3,70.1 73.8,69.7 76.4,69.2 78.9,68.8 81.4,68.6 83.9,68.4 86.4,68.5 89,68.6 91.5,68.9 94,69.3 96.5,69.7 99.1,70.1 101.6,70.5 104.1,70.7 106.6,70.8 109.1,70.7 111.7,70.6 114.2,70.3 116.7,69.9 119.2,69.6 121.7,69.2 124.3,68.9 126.8,68.7 129.3,68.6 131.8,68.6 134.4,68.7 136.9,68.9 139.4,69.1 141.9,69.4 144.4,69.6 147,69.7 149.5,69.8 152,69.9" fill="none" stroke="#7d7d7d" stroke-width="0.7" stroke-linejoin="round" />
<path d="M33.5,74.5 36,74.9 38.5,75.2 41.1,75.4 43.6,75.5 46.1,75.5 48.6,75.4 51.1,75.2 53.7,74.9 56.2,74.6 58.7,74.4 61.2,74.2 63.8,74.2 66.3,74.4 68.8,74.6 71.3,74.9 73.8,75.1 76.4,75.3 78.9,75.4 81.4,75.4 83.9,75.2 86.4,74.9 89,74.6 91.5,74.2 94,73.9 96.5,73.7 99.1,73.6 101.6,73.7 104.1,73.9 106.6,74.2 109.1,74.5 111.7,74.8 114.2,75 116.7,75 119.2,75 121.7,74.8 124.3,74.6 126.8,74.3 129.3,74.2 131.8,74.1 134.4,74.2 136.9,74.4 139.4,74.8 141.9,75.2 144.4,75.7 147,76.1 149.5,76.4 152,76.5" fill="none" stroke="#7d7d7d" stroke-width="0.7" stroke-linejoin="round" />
<path d="M33.5,80.4 36,80.5 38.5,80.6 41.1,80.6 43.6,80.6 46.1,80.6 48.6,80.5 51.1,80.4 53.7,80.3 56.2,80.3 58.7,80.2 61.2,80.1 63.8,80 66.3,79.8 68.8,79.7 71.3,79.4 73.8,79.1 76.4,78.8 78.9,78.4 81.4,78.1 83.9,77.7 86.4,77.4 89,77.1 91.5,76.9 94,76.8 96.5,76.7 99.1,76.6 101.6,76.5 104.1,76.4 106.6,76.2 109.1,76 111.7,75.8 114.2,75.5 116.7,75.2 119.2,74.9 121.7,74.7 124.3,74.5 126.8,74.4 129.3,74.4 131.8,74.4 134.4,74.5 136.9,74.6 139.4,74.7 141.9,74.7 144.4,74.8 147,74.8 149.5,74.7 152,74.7" fill="none" stroke="#7d7d7d" stroke-width="0.7" stroke-linejoin="round" />
<path d="M33.5,69.9 36,69.6 38.5,69.4 41.1,69.3 43.6,69.4 46.1,69.6 48.6,69.9 51.1,70.2 53.7,70.5 56.2,70.6 58.7,70.6 61.2,70.4 63.8,70.1 66.3,69.7 68.8,69.3 71.3,68.8 73.8,68.3 76.4,68 78.9,67.7 81.4,67.5 83.9,67.3 86.4,67.2 89,67 91.5,66.8 94,66.6 96.5,66.3 99.1,66 101.6,65.8 104.1,65.6 106.6,65.6 109.1,65.7 111.7,66 114.2,66.4 116.7,67 119.2,67.6 121.7,68.2 124.3,68.9 126.8,69.4 129.3,69.9 131.8,70.2 134.4,70.5 136.9,70.8 139.4,71 141.9,71.2 144.4,71.3 147,71.5 149.5,71.5 152,71.5" fill="none" stroke="#7d7d7d" stroke-width="0.7" stroke-linejoin="round" />
<path d="M33.5,76.5 36,76.6 38.5,76.6 41.1,76.7 43.6,76.8 46.1,76.8 48.6,76.8 51.1,76.8 53.7,76.7 56.2,76.5 58.7,76.3 61.2,76.1 63.8,75.8 66.3,75.5 68.8,75.2 71.3,75 73.8,74.8 76.4,74.7 78.9,74.7 81.4,74.7 83.9,74.8 86.4,74.8 89,74.9 91.5,74.9 94,74.8 96.5,74.7 99.1,74.5 101.6,74.3 104.1,74.1 106.6,73.8 109.1,73.7 111.7,73.5 114.2,73.4 116.7,73.4 119.2,73.5 121.7,73.6 124.3,73.7 126.8,73.8 129.3,73.9 131.8,74 134.4,74.2 136.9,74.3 139.4,74.5 141.9,74.8 144.4,75.2 147,75.6 149.5,76.2 152,76.8" fill="none" stroke="#7d7d7d" stroke-width="0.7" stroke-linejoin="round" />
<path d="M33.5,76.4 36,76.5 38.5,76.5 41.1,76.4 43.6,76.4 46.1,76.3 48.6,76.2 51.1,76.1 53.7,76.1 56.2,76.1 58.7,76.1 61.2,76.2 63.8,76.3 66.3,76.4 68.8,76.5 71.3,76.6 73.8,76.7 76.4,76.8 78.9,76.9 81.4,77 83.9,77.2 86.4,77.3 89,77.4 91.5,77.6 94,77.8 96.5,78 99.1,78.3 101.6,78.5 104.1,78.7 106.6,78.9 109.1,79 111.7,79 114.2,78.9 116.7,78.8 119.2,78.6 121.7,78.4 124.3,78.1 126.8,78 129.3,77.9 131.8,77.9 134.4,78 136.9,78.3 139.4,78.7 141.9,79.1 144.4,79.5 147,79.9 149.5,80.1 152,80.2" fill="none" stroke="#7d7d7d" stroke-width="0.7" stroke-linejoin="round" />
<path d="M33.5,74.8 36,74.9 38.5,74.9 41.1,74.8 43.6,74.7 46.1,74.6 48.6,74.5 51.1,74.4 53.7,74.4 56.2,74.5 58.7,74.7 61.2,75 63.8,75.3 66.3,75.7 68.8,76 71.3,76.3 73.8,76.5 76.4,76.6 78.9,76.6 81.4,76.5 83.9,76.3 86.4,76 89,75.7 91.5,75.4 94,75.2 96.5,74.9 99.1,74.7 101.6,74.6 104.1,74.4 106.6,74.3 109.1,74.2 111.7,74 114.2,73.9 116.7,73.8 119.2,73.7 121.7,73.7 124.3,73.7 126.8,73.6 129.3,73.6 131.8,73.6 134.4,73.6 136.9,73.6 139.4,73.6 141.9,73.5 144.4,73.4 147,73.2 149.5,73.1 152,73" fill="none" stroke="#7d7d7d" stroke-width="0.7" stroke-linejoin="round" />
<path d="M33.5,78.9 36,79.4 38.5,80 41.1,80.7 43.6,81.4 46.1,82.1 48.6,82.6 51.1,82.9 53.7,83.1 56.2,83 58.7,82.7 61.2,82.3 63.8,81.8 66.3,81.3 68.8,80.9 71.3,80.5 73.8,80.3 76.4,80.2 78.9,80.3 81.4,80.4 83.9,80.5 86.4,80.6 89,80.6 91.5,80.6 94,80.5 96.5,80.3 99.1,80 101.6,79.7 104.1,79.4 106.6,79.1 109.1,78.8 111.7,78.5 114.2,78.3 116.7,78.1 119.2,78 121.7,77.9 124.3,77.9 126.8,77.9 129.3,78.1 131.8,78.5 134.4,79.1 136.9,79.7 139.4,80.4 141.9,81.1 144.4,81.9 147,82.8 149.5,83.8 152,84.8" fill="none" stroke="#7d7d7d" stroke-width="0.7" stroke-linejoin="round" />
<path d="M33.5,75.9 36,75.8 38.5,75.7 41.1,75.6 43.6,75.4 46.1,75.3 48.6,75.1 51.1,75 53.7,74.9 56.2,74.8 58.7,74.7 61.2,74.7 63.8,74.6 66.3,74.5 68.8,74.4 71.3,74.2 73.8,74.1 76.4,74 78.9,73.9 81.4,73.8 83.9,73.7 86.4,73.6 89,73.6 91.5,73.6 94,73.7 96.5,73.7 99.1,73.8 101.6,73.9 104.1,73.9 106.6,74 109.1,74 111.7,74 114.2,74 116.7,74 119.2,74 121.7,74 124.3,74 126.8,74.1 129.3,74.3 131.8,74.4 134.4,74.6 136.9,74.8 139.4,74.9 141.9,75 144.4,75 147,74.9 149.5,74.7 152,74.5" fill="none" stroke="#7d7d7d" stroke-width="0.7" stroke-linejoin="round" />
<path d="M33.5,83.9 36,83.5 38.5,83.1 41.1,82.7 43.6,82.4 46.1,82.1 48.6,81.9 51.1,81.8 53.7,81.7 56.2,81.7 58.7,81.7 61.2,81.8 63.8,82 66.3,82.2 68.8,82.6 71.3,83.1 73.8,83.7 76.4,84.3 78.9,84.9 81.4,85.4 83.9,85.6 86.4,85.7 89,85.4 91.5,84.9 94,84.2 96.5,83.4 99.1,82.7 101.6,82.2 104.1,81.8 106.6,81.8 109.1,82 111.7,82.5 114.2,83.2 116.7,84 119.2,84.8 121.7,85.4 124.3,85.8 126.8,86 129.3,86 131.8,86.4 134.4,86.9 136.9,87.5 139.4,88.3 141.9,89.4 144.4,90.8 147,92.3 149.5,92.3 152,92.3" fill="none" stroke="#7d7d7d" stroke-width="0.7" stroke-linejoin="round" />
<path d="M33.5,75.1 36,75.3 38.5,75.5 41.1,75.6 43.6,75.6 46.1,75.4 48.6,75.2 51.1,75 53.7,74.7 56.2,74.5 58.7,74.3 61.2,74.3 63.8,74.3 66.3,74.4 68.8,74.5 71.3,74.7 73.8,74.8 76.4,74.9 78.9,75 81.4,75 83.9,74.9 86.4,74.7 89,74.6 91.5,74.4 94,74.3 96.5,74.3 99.1,74.4 101.6,74.5 104.1,74.7 106.6,74.9 109.1,75.1 111.7,75.3 114.2,75.5 116.7,75.6 119.2,75.6 121.7,75.6 124.3,75.6 126.8,75.6 129.3,75.7 131.8,76.6 134.4,77.7 136.9,79 139.4,80.4 141.9,82 144.4,83.5 147,85.1 149.5,86.8 152,88.4" fill="none" stroke="#7d7d7d" stroke-width="0.7" stroke-linejoin="round" />
<path d="M33.5,72.1 36,72.1 38.5,72.1 41.1,72 43.6,72 46.1,72 48.6,72 51.1,72 53.7,72 56.2,72.1 58.7,72.2 61.2,72.3 63.8,72.4 66.3,72.6 68.8,72.8 71.3,73 73.8,73.3 76.4,73.5 78.9,73.7 81.4,73.8 83.9,73.9 86.4,73.9 89,73.7 91.5,73.5 94,73.3 96.5,73.1 99.1,72.8 101.6,72.6 104.1,72.5 106.6,72.5 109.1,72.5 111.7,72.7 114.2,72.9 116.7,73.1 119.2,73.4 121.7,73.6 124.3,73.7 126.8,73.8 129.3,73.8 131.8,73.7 134.4,73.5 136.9,73.3 139.4,73.1 141.9,72.8 144.4,72.6 147,72.4 149.5,72.2 152,72.1" fill="none" stroke="#7d7d7d" stroke-width="0.7" stroke-linejoin="round" />
<path d="M33.5,73.3 36,73.5 38.5,73.7 41.1,73.8 43.6,73.8 46.1,73.7 48.6,73.5 51.1,73.2 53.7,72.9 56.2,72.5 58.7,72.2 61.2,71.9 63.8,71.8 66.3,71.8 68.8,71.8 71.3,72 73.8,72.2 76.4,72.5 78.9,72.7 81.4,72.8 83.9,72.8 86.4,72.8 89,72.7 91.5,72.5 94,72.4 96.5,72.3 99.1,72.3 101.6,72.4 104.1,72.6 106.6,72.9 109.1,73.3 111.7,73.7 114.2,74.1 116.7,74.4 119.2,74.6 121.7,74.7 124.3,74.7 126.8,74.6 129.3,74.6 131.8,75.2 134.4,76 136.9,77 139.4,78 141.9,79.2 144.4,80.5 147,81.8 149.5,83.2 152,84.5" fill="none" stroke="#7d7d7d" stroke-width="0.7" stroke-linejoin="round" />
<path d="M33.5,70.2 36,70.5 38.5,70.8 41.1,71 43.6,71.2 46.1,71.4 48.6,71.6 51.1,71.8 53.7,72 56.2,72.2 58.7,72.4 61.2,72.6 63.8,72.8 66.3,72.9 68.8,72.9 71.3,72.9 73.8,72.8 76.4,72.7 78.9,72.5 81.4,72.2 83.9,72 86.4,71.8 89,71.6 91.5,71.5 94,71.4 96.5,71.3 99.1,71.3 101.6,71.3 104.1,71.2 106.6,71.2 109.1,71.1 111.7,71.1 114.2,71 116.7,70.9 119.2,70.7 121.7,70.6 124.3,70.4 126.8,70.2 129.3,70 131.8,69.7 134.4,69.3 136.9,68.9 139.4,68.5 141.9,68 144.4,67.4 147,66.9 149.5,66.5 152,66.1" fill="none" stroke="#7d7d7d" stroke-width="0.7" stroke-linejoin="round" />
<path d="M33.5,72.5 36,72.8 38.5,73 41.1,73.1 43.6,73.2 46.1,73.2 48.6,73.1 51.1,72.9 53.7,72.7 56.2,72.5 58.7,72.3 61.2,72.1 63.8,71.9 66.3,71.9 68.8,71.9 71.3,71.9 73.8,72 76.4,72.2 78.9,72.3 81.4,72.5 83.9,72.6 86.4,72.7 89,72.7 91.5,72.7 94,72.6 96.5,72.4 99.1,72.3 101.6,72 104.1,71.8 106.6,71.6 109.1,71.3 111.7,71.1 114.2,70.9 116.7,70.7 119.2,70.6 121.7,70.4 124.3,70.3 126.8,70.2 129.3,70.2 131.8,70.6 134.4,71.2 136.9,71.9 139.4,72.7 141.9,73.6 144.4,74.6 147,75.7 149.5,76.8 152,78" fill="none" stroke="#7d7d7d" stroke-width="0.7" stroke-linejoin="round" />
<path d="M33.5,77.7 36,77.7 38.5,77.8 41.1,77.8 43.6,77.8 46.1,77.7 48.6,77.6 51.1,77.4 53.7,77.2 56.2,76.9 58.7,76.5 61.2,76.1 63.8,75.8 66.3,75.4 68.8,75.1 71.3,74.8 73.8,74.7 76.4,74.7 78.9,74.7 81.4,74.9 83.9,75.2 86.4,75.5 89,75.9 91.5,76.2 94,76.5 96.5,76.7 99.1,76.8 101.6,76.9 104.1,76.9 106.6,76.8 109.1,76.8 111.7,76.7 114.2,76.7 116.7,76.7 119.2,76.8 121.7,76.9 124.3,77.2 126.8,77.5 129.3,77.9 131.8,78.7 134.4,79.5 136.9,80.4 139.4,81.3 141.9,82.2 144.4,83 147,83.8 149.5,84.5 152,85.1" fill="none" stroke="#7d7d7d" stroke-width="0.7" stroke-linejoin="round" />
<path d="M33.5,72.2 36,72 38.5,71.8 41.1,71.7 43.6,71.7 46.1,71.9 48.6,72.1 51.1,72.3 53.7,72.6 56.2,72.9 58.7,73.2 61.2,73.3 63.8,73.4 66.3,73.4 68.8,73.3 71.3,73.1 73.8,72.9 76.4,72.8 78.9,72.8 81.4,72.8 83.9,72.9 86.4,73.1 89,73.2 91.5,73.3 94,73.4 96.5,73.3 99.1,73.1 101.6,72.9 104.1,72.6 106.6,72.3 109.1,72 111.7,71.9 114.2,71.8 116.7,71.8 119.2,71.9 121.7,72.1 124.3,72.3 126.8,72.4 129.3,72.7 131.8,73.5 134.4,74.4 136.9,75.4 139.4,76.5 141.9,77.7 144.4,79.1 147,80.7 149.5,82.4 152,84.3" fill="none" stroke="#7d7d7d" stroke-width="0.7" stroke-linejoin="round" />
<path d="M33.5,75.2 36,75.7 38.5,76.1 41.1,76.4 43.6,76.5 46.1,76.5 48.6,76.3 51.1,76.1 53.7,75.8 56.2,75.5 58.7,75.2 61.2,74.9 63.8,74.6 66.3,74.3 68.8,74.1 71.3,73.9 73.8,73.8 76.4,73.6 78.9,73.5 81.4,73.5 83.9,73.5 86.4,73.6 89,73.9 91.5,74.2 94,74.6 96.5,75.1 99.1,75.5 101.6,75.9 104.1,76.2 106.6,76.4 109.1,76.5 111.7,76.4 114.2,76.2 116.7,76 119.2,75.8 121.7,75.5 124.3,75.3 126.8,75.2 129.3,75.1 131.8,75.1 134.4,75.2 136.9,75.2 139.4,75.3 141.9,75.3 144.4,75.2 147,75.1 149.5,74.9 152,74.8" fill="none" stroke="#7d7d7d" stroke-width="0.7" stroke-linejoin="round" />
<path d="M33.5,77 36,77.2 38.5,77.3 41.1,77.5 43.6,77.6 46.1,77.7 48.6,77.7 51.1,77.7 53.7,77.6 56.2,77.5 58.7,77.3 61.2,77 63.8,76.7 66.3,76.4 68.8,76.1 71.3,75.7 73.8,75.4 76.4,75.1 78.9,74.8 81.4,74.7 83.9,74.6 86.4,74.5 89,74.5 91.5,74.5 94,74.4 96.5,74.3 99.1,74.2 101.6,73.9 104.1,73.7 106.6,73.4 109.1,73 111.7,72.7 114.2,72.4 116.7,72.2 119.2,72.1 121.7,72.1 124.3,72.2 126.8,72.5 129.3,72.7 131.8,73 134.4,73.4 136.9,73.7 139.4,73.9 141.9,74.1 144.4,74.2 147,74.3 149.5,74.3 152,74.3" fill="none" stroke="#7d7d7d" stroke-width="0.7" stroke-linejoin="round" />
<path d="M33.5,68.3 36,68 38.5,67.6 41.1,67.2 43.6,66.7 46.1,66.2 48.6,65.7 51.1,65.2 53.7,64.8 56.2,64.4 58.7,64 61.2,63.7 63.8,63.4 66.3,63.1 68.8,62.7 71.3,62.4 73.8,62.1 76.4,61.8 78.9,61.5 81.4,61.3 83.9,61 86.4,60.7 89,60.5 91.5,60.2 94,59.9 96.5,59.5 99.1,59 101.6,58.5 104.1,58 106.6,57.4 109.1,56.8 111.7,56.4 114.2,56.1 116.7,55.9 119.2,56 121.7,56.3 124.3,56.8 126.8,57.5 129.3,58.4 131.8,59.4 134.4,60.3 136.9,61.2 139.4,61.9 141.9,62.5 144.4,62.7 147,62.7 149.5,62.5 152,62.1" fill="none" stroke="#7d7d7d" stroke-width="0.7" stroke-linejoin="round" />
<path d="M33.5,72 36,71.9 38.5,71.8 41.1,71.7 43.6,71.6 46.1,71.4 48.6,71.3 51.1,71.2 53.7,71.1 56.2,71 58.7,71 61.2,70.9 63.8,70.8 66.3,70.8 68.8,70.8 71.3,70.8 73.8,70.9 76.4,71 78.9,71.2 81.4,71.4 83.9,71.6 86.4,71.8 89,72 91.5,72.2 94,72.3 96.5,72.4 99.1,72.4 101.6,72.5 104.1,72.5 106.6,72.5 109.1,72.5 111.7,72.4 114.2,72.4 116.7,72.4 119.2,72.4 121.7,72.3 124.3,72.2 126.8,72.1 129.3,72 131.8,71.8 134.4,71.7 136.9,71.6 139.4,71.6 141.9,71.7 144.4,72 147,72.3 149.5,72.7 152,73.1" fill="none" stroke="#7d7d7d" stroke-width="0.7" stroke-linejoin="round" />
<path d="M33.5,71.8 36,72.2 38.5,72.7 41.1,73.2 43.6,73.8 46.1,74.3 48.6,74.8 51.1,75.2 53.7,75.6 56.2,75.9 58.7,76.1 61.2,76.3 63.8,76.4 66.3,76.6 68.8,76.7 71.3,76.8 73.8,77 76.4,77.1 78.9,77.3 81.4,77.5 83.9,77.7 86.4,77.9 89,78 91.5,78 94,77.9 96.5,77.8 99.1,77.5 101.6,77.2 104.1,76.8 106.6,76.4 109.1,76 111.7,75.6 114.2,75.4 116.7,75.2 119.2,75.1 121.7,75.1 124.3,75.1 126.8,75.2 129.3,75.2 131.8,75.2 134.4,75 136.9,74.8 139.4,74.5 141.9,74.1 144.4,73.7 147,73.3 149.5,73 152,72.9" fill="none" stroke="#7d7d7d" stroke-width="0.7" stroke-linejoin="round" />
<path d="M33.5,77.4 36,77.5 38.5,77.7 41.1,77.8 43.6,78 46.1,78.2 48.6,78.3 51.1,78.5 53.7,78.6 56.2,78.6 58.7,78.6 61.2,78.5 63.8,78.4 66.3,78.2 68.8,78 71.3,77.7 73.8,77.4 76.4,77 78.9,76.6 81.4,76.1 83.9,75.6 86.4,75.1 89,74.6 91.5,74.2 94,73.8 96.5,73.6 99.1,73.6 101.6,73.7 104.1,73.9 106.6,74.3 109.1,74.9 111.7,75.5 114.2,76.2 116.7,76.9 119.2,77.5 121.7,78.1 124.3,78.5 126.8,78.8 129.3,79.1 131.8,79.6 134.4,80.1 136.9,80.5 139.4,81 141.9,81.4 144.4,81.9 147,82.3 149.5,82.8 152,83.4" fill="none" stroke="#7d7d7d" stroke-width="0.7" stroke-linejoin="round" />
<path d="M33.5,75.6 36,75.5 38.5,75.4 41.1,75.4 43.6,75.4 46.1,75.4 48.6,75.5 51.1,75.7 53.7,75.9 56.2,76 58.7,76.1 61.2,76.1 63.8,76.1 66.3,75.9 68.8,75.7 71.3,75.4 73.8,75.2 76.4,75 78.9,74.9 81.4,74.9 83.9,75.1 86.4,75.3 89,75.5 91.5,75.7 94,75.9 96.5,76.1 99.1,76.1 101.6,76.1 104.1,76 106.6,75.9 109.1,75.7 111.7,75.6 114.2,75.6 116.7,75.6 119.2,75.7 121.7,75.9 124.3,76.1 126.8,76.3 129.3,76.5 131.8,76.6 134.4,76.7 136.9,76.7 139.4,76.7 141.9,76.7 144.4,76.6 147,76.6 149.5,76.7 152,76.9" fill="none" stroke="#7d7d7d" stroke-width="0.7" stroke-linejoin="round" />
<path d="M33.5,77.1 36,77 38.5,77.1 41.1,77.2 43.6,77.3 46.1,77.5 48.6,77.5 51.1,77.3 53.7,77.1 56.2,76.6 58.7,76.1 61.2,75.5 63.8,75 66.3,74.6 68.8,74.3 71.3,74.2 73.8,74.3 76.4,74.6 78.9,75 81.4,75.6 83.9,76.2 86.4,76.8 89,77.5 91.5,78.1 94,78.7 96.5,79.3 99.1,79.9 101.6,80.4 104.1,80.9 106.6,81.3 109.1,81.5 111.7,81.5 114.2,81.3 116.7,80.9 119.2,80.4 121.7,79.7 124.3,78.9 126.8,78.2 129.3,77.8 131.8,78.2 134.4,79.1 136.9,80.4 139.4,81.9 141.9,83.7 144.4,85.5 147,87.3 149.5,89.1 152,90.8" fill="none" stroke="#7d7d7d" stroke-width="0.7" stroke-linejoin="round" />
<path d="M33.5,62.1 36,62.2 38.5,62.3 41.1,62.5 43.6,62.8 46.1,63.2 48.6,63.7 51.1,64.3 53.7,64.8 56.2,65.3 58.7,65.7 61.2,65.8 63.8,65.7 66.3,65.4 68.8,64.9 71.3,64.2 73.8,63.6 76.4,63 78.9,62.6 81.4,62.4 83.9,62.5 86.4,62.8 89,63.2 91.5,63.8 94,64.3 96.5,64.7 99.1,64.8 101.6,64.7 104.1,64.3 106.6,63.6 109.1,62.9 111.7,62.2 114.2,61.6 116.7,61.2 119.2,61.1 121.7,61.3 124.3,61.7 126.8,62.3 129.3,62.8 131.8,63.2 134.4,63.3 136.9,63 139.4,62.4 141.9,61.3 144.4,60 147,58.6 149.5,57.3 152,56.1" fill="none" stroke="#7d7d7d" stroke-width="0.7" stroke-linejoin="round" />
<path d="M33.5,72.2 36,72.2 38.5,72.2 41.1,72.2 43.6,72.1 46.1,72.1 48.6,72 51.1,71.9 53.7,71.8 56.2,71.7 58.7,71.6 61.2,71.5 63.8,71.4 66.3,71.3 68.8,71.3 71.3,71.3 73.8,71.3 76.4,71.3 78.9,71.4 81.4,71.4 83.9,71.5 86.4,71.6 89,71.8 91.5,71.9 94,72 96.5,72.2 99.1,72.4 101.6,72.6 104.1,72.8 106.6,73 109.1,73.3 111.7,73.6 114.2,73.9 116.7,74.2 119.2,74.6 121.7,74.9 124.3,75.2 126.8,75.4 129.3,75.7 131.8,76.1 134.4,76.6 136.9,77.1 139.4,77.6 141.9,78 144.4,78.5 147,78.9 149.5,79.4 152,80" fill="none" stroke="#7d7d7d" stroke-width="0.7" stroke-linejoin="round" />
<path d="M33.5,74.2 36,74.1 38.5,74.1 41.1,74.2 43.6,74.3 46.1,74.5 48.6,74.8 51.1,75 53.7,75.3 56.2,75.5 58.7,75.6 61.2,75.6 63.8,75.5 66.3,75.3 68.8,75 71.3,74.5 73.8,74.1 76.4,73.6 78.9,73.2 81.4,72.9 83.9,72.7 86.4,72.6 89,72.6 91.5,72.7 94,72.8 96.5,73 99.1,73.2 101.6,73.4 104.1,73.6 106.6,73.8 109.1,73.9 111.7,74.1 114.2,74.3 116.7,74.4 119.2,74.6 121.7,74.8 124.3,74.9 126.8,75 129.3,75.1 131.8,75.2 134.4,75.2 136.9,75.1 139.4,75.1 141.9,75 144.4,75 147,75 149.5,75.1 152,75.2" fill="none" stroke="#7d7d7d" stroke-width="0.7" stroke-linejoin="round" />
<path d="M33.5,71.2 36,70.9 38.5,70.5 41.1,70.2 43.6,69.9 46.1,69.7 48.6,69.6 51.1,69.6 53.7,69.6 56.2,69.7 58.7,69.8 61.2,70 63.8,70.1 66.3,70.3 68.8,70.5 71.3,70.7 73.8,70.9 76.4,71.1 78.9,71.3 81.4,71.5 83.9,71.6 86.4,71.7 89,71.7 91.5,71.6 94,71.5 96.5,71.3 99.1,71.2 101.6,71 104.1,70.9 106.6,70.9 109.1,70.9 111.7,71 114.2,71.2 116.7,71.5 119.2,71.8 121.7,72 124.3,72.3 126.8,72.4 129.3,72.5 131.8,72.5 134.4,72.5 136.9,72.5 139.4,72.6 141.9,72.7 144.4,73 147,73.4 149.5,73.9 152,74.4" fill="none" stroke="#7d7d7d" stroke-width="0.7" stroke-linejoin="round" />
<path d="M33.5,73.2 36,73.1 38.5,73.1 41.1,73.1 43.6,73.2 46.1,73.5 48.6,73.8 51.1,74.2 53.7,74.6 56.2,75 58.7,75.4 61.2,75.6 63.8,75.7 66.3,75.6 68.8,75.5 71.3,75.2 73.8,75 76.4,74.7 78.9,74.4 81.4,74.3 83.9,74.2 86.4,74.1 89,74.1 91.5,74.1 94,74 96.5,73.8 99.1,73.6 101.6,73.3 104.1,72.9 106.6,72.6 109.1,72.2 111.7,71.8 114.2,71.5 116.7,71.3 119.2,71.2 121.7,71.2 124.3,71.2 126.8,71.3 129.3,71.5 131.8,72.2 134.4,73 136.9,74 139.4,75.1 141.9,76.3 144.4,77.6 147,79.1 149.5,80.7 152,82.4" fill="none" stroke="#7d7d7d" stroke-width="0.7" stroke-linejoin="round" />
<path d="M33.5,74.3 36,74.2 38.5,74 41.1,73.8 43.6,73.6 46.1,73.4 48.6,73.3 51.1,73.2 53.7,73.2 56.2,73.3 58.7,73.5 61.2,73.6 63.8,73.7 66.3,73.9 68.8,73.9 71.3,73.9 73.8,73.8 76.4,73.7 78.9,73.5 81.4,73.4 83.9,73.3 86.4,73.3 89,73.3 91.5,73.4 94,73.5 96.5,73.7 99.1,73.7 101.6,73.8 104.1,73.7 106.6,73.6 109.1,73.4 111.7,73.1 114.2,72.8 116.7,72.6 119.2,72.4 121.7,72.2 124.3,72.1 126.8,72 129.3,72 131.8,71.9 134.4,71.8 136.9,71.7 139.4,71.4 141.9,71.1 144.4,70.8 147,70.5 149.5,70.2 152,70" fill="none" stroke="#7d7d7d" stroke-width="0.7" stroke-linejoin="round" />
<path d="M33.5,72 36,72.2 38.5,72.4 41.1,72.7 43.6,72.9 46.1,73.2 48.6,73.4 51.1,73.5 53.7,73.5 56.2,73.5 58.7,73.3 61.2,73.1 63.8,72.8 66.3,72.5 68.8,72.1 71.3,71.8 73.8,71.5 76.4,71.3 78.9,71.1 81.4,71 83.9,71 86.4,71.1 89,71.3 91.5,71.5 94,71.7 96.5,71.9 99.1,72.2 101.6,72.4 104.1,72.6 106.6,72.8 109.1,73 111.7,73.1 114.2,73.2 116.7,73.3 119.2,73.4 121.7,73.5 124.3,73.5 126.8,73.6 129.3,73.7 131.8,73.7 134.4,73.8 136.9,73.8 139.4,73.8 141.9,73.7 144.4,73.6 147,73.5 149.5,73.3 152,73.1" fill="none" stroke="#7d7d7d" stroke-width="0.7" stroke-linejoin="round" />
<path d="M33.5,74.6 36,74.8 38.5,75.2 41.1,75.6 43.6,76.1 46.1,76.6 48.6,77.1 51.1,77.6 53.7,77.8 56.2,78 58.7,77.9 61.2,77.7 63.8,77.4 66.3,76.9 68.8,76.4 71.3,75.8 73.8,75.2 76.4,74.8 78.9,74.4 81.4,74.1 83.9,74 86.4,73.9 89,73.9 91.5,74 94,74.1 96.5,74.3 99.1,74.5 101.6,74.7 104.1,74.8 106.6,75 109.1,75.2 111.7,75.3 114.2,75.5 116.7,75.5 119.2,75.5 121.7,75.5 124.3,75.3 126.8,75.1 129.3,74.8 131.8,74.5 134.4,74.2 136.9,73.9 139.4,73.8 141.9,73.7 144.4,73.7 147,73.8 149.5,74 152,74.2" fill="none" stroke="#7d7d7d" stroke-width="0.7" stroke-linejoin="round" />
<path d="M33.5,76 36,76.2 38.5,76.5 41.1,76.7 43.6,76.8 46.1,76.8 48.6,76.8 51.1,76.7 53.7,76.5 56.2,76.3 58.7,76.2 61.2,76 63.8,75.9 66.3,75.8 68.8,75.6 71.3,75.5 73.8,75.3 76.4,75.1 78.9,74.9 81.4,74.6 83.9,74.3 86.4,74 89,73.7 91.5,73.4 94,73.3 96.5,73.2 99.1,73.2 101.6,73.3 104.1,73.5 106.6,73.7 109.1,73.9 111.7,74.2 114.2,74.5 116.7,74.7 119.2,74.9 121.7,75.1 124.3,75.3 126.8,75.4 129.3,75.4 131.8,75.5 134.4,75.4 136.9,75.4 139.4,75.3 141.9,75.2 144.4,75.1 147,75 149.5,75 152,75.1" fill="none" stroke="#7d7d7d" stroke-width="0.7" stroke-linejoin="round" />
<path d="M33.5,73.1 36,73.1 38.5,73.1 41.1,73.2 43.6,73.4 46.1,73.5 48.6,73.7 51.1,73.8 53.7,73.9 56.2,74 58.7,74 61.2,74.1 63.8,74.1 66.3,74.2 68.8,74.3 71.3,74.4 73.8,74.5 76.4,74.6 78.9,74.6 81.4,74.5 83.9,74.4 86.4,74.2 89,74 91.5,73.7 94,73.5 96.5,73.3 99.1,73.2 101.6,73.2 104.1,73.2 106.6,73.3 109.1,73.5 111.7,73.8 114.2,74 116.7,74.3 119.2,74.5 121.7,74.7 124.3,74.8 126.8,75 129.3,75.1 131.8,75.2 134.4,75.3 136.9,75.4 139.4,75.5 141.9,75.6 144.4,75.7 147,75.7 149.5,75.7 152,75.7" fill="none" stroke="#7d7d7d" stroke-width="0.7" stroke-linejoin="round" />
<path d="M33.5,74.2 36,74.3 38.5,74.2 41.1,74.1 43.6,73.9 46.1,73.8 48.6,73.6 51.1,73.5 53.7,73.4 56.2,73.3 58.7,73.1 61.2,73 63.8,72.8 66.3,72.6 68.8,72.3 71.3,72.1 73.8,71.9 76.4,71.8 78.9,71.8 81.4,71.8 83.9,72 86.4,72.2 89,72.4 91.5,72.7 94,72.9 96.5,73 99.1,73.1 101.6,73.1 104.1,73.1 106.6,73.1 109.1,73.1 111.7,73.2 114.2,73.4 116.7,73.7 119.2,74.1 121.7,74.5 124.3,74.8 126.8,75.1 129.3,75.3 131.8,75.4 134.4,75.2 136.9,75 139.4,74.5 141.9,74 144.4,73.5 147,73 149.5,72.6 152,72.4" fill="none" stroke="#7d7d7d" stroke-width="0.7" stroke-linejoin="round" />
<path d="M33.5,67.9 36,68.4 38.5,68.8 41.1,69.2 43.6,69.5 46.1,69.7 48.6,69.7 51.1,69.7 53.7,69.7 56.2,69.6 58.7,69.5 61.2,69.5 63.8,69.6 66.3,69.8 68.8,69.9 71.3,70.1 73.8,70.2 76.4,70.3 78.9,70.2 81.4,69.9 83.9,69.6 86.4,69.1 89,68.6 91.5,68.1 94,67.6 96.5,67.3 99.1,67.1 101.6,67.1 104.1,67.2 106.6,67.3 109.1,67.5 111.7,67.5 114.2,67.4 116.7,67.1 119.2,66.6 121.7,65.9 124.3,65 126.8,64.1 129.3,63.1 131.8,62.3 134.4,61.6 136.9,61.1 139.4,60.8 141.9,60.8 144.4,61 147,61.3 149.5,61.8 152,62.2" fill="none" stroke="#7d7d7d" stroke-width="0.7" stroke-linejoin="round" />
<path d="M33.5,75.2 36,75.5 38.5,75.7 41.1,75.8 43.6,75.8 46.1,75.7 48.6,75.6 51.1,75.4 53.7,75.2 56.2,75 58.7,74.9 61.2,74.8 63.8,74.7 66.3,74.7 68.8,74.7 71.3,74.8 73.8,74.9 76.4,75 78.9,75.2 81.4,75.3 83.9,75.5 86.4,75.7 89,75.9 91.5,76.1 94,76.3 96.5,76.5 99.1,76.7 101.6,76.8 104.1,77 106.6,77.2 109.1,77.5 111.7,77.8 114.2,78.2 116.7,78.6 119.2,79 121.7,79.5 124.3,79.9 126.8,80.3 129.3,80.5 131.8,80.7 134.4,80.7 136.9,80.7 139.4,80.5 141.9,80.4 144.4,80.1 147,80 149.5,79.9 152,79.9" fill="none" stroke="#7d7d7d" stroke-width="0.7" stroke-linejoin="round" />
<path d="M33.5,66 36,67.4 38.5,67.3 41.1,66.4 43.6,66.6 46.1,67.8 48.6,67.1 51.1,67.5 53.7,69.7 56.2,69.1 58.7,69 61.2,70.1 63.8,71.4 66.3,69.7 68.8,68.5 71.3,67 73.8,68.8 76.4,63.8 78.9,65.2 81.4,62.3 83.9,60.9 86.4,59.9 89,59.5 91.5,59.6 94,57.4 96.5,57.6 99.1,58.3 101.6,53.6 104.1,54.6 106.6,53.2 109.1,54.8 111.7,52.6 114.2,52.3 116.7,52.2 119.2,53.5 121.7,54.6 124.3,54.2 126.8,56.2 129.3,56.5 131.8,55.8 134.4,57.4 136.9,57.6 139.4,58.5 141.9,57.9 144.4,59.4 147,61.3 149.5,61.1 152,63.2" fill="none" stroke="#7d7d7d" stroke-width="0.7" stroke-linejoin="round" />
<path d="M33.5,81.7 36,80.9 38.5,82.7 41.1,82.2 43.6,83.3 46.1,82.5 48.6,81.6 51.1,83.6 53.7,83.1 56.2,84.2 58.7,84.6 61.2,84.8 63.8,82.9 66.3,82.3 68.8,83.8 71.3,84.9 73.8,83.9 76.4,84.6 78.9,83.7 81.4,83.8 83.9,83.5 86.4,82.8 89,83.1 91.5,82.3 94,82.7 96.5,81.1 99.1,81.2 101.6,79.7 104.1,79.8 106.6,78.6 109.1,77.9 111.7,79 114.2,78.3 116.7,78.1 119.2,76.6 121.7,75.6 124.3,76.2 126.8,77.2 129.3,76.1 131.8,78.8 134.4,77 136.9,79.4 139.4,81.8 141.9,78.5 144.4,80.1 147,82.8 149.5,82.4 152,83.2" fill="none" stroke="#7d7d7d" stroke-width="0.7" stroke-linejoin="round" />
<path d="M33.5,70 36,71.1 38.5,71.1 41.1,70.9 43.6,71.6 46.1,71.5 48.6,72.4 51.1,71.3 53.7,72.7 56.2,71.8 58.7,72.3 61.2,71.2 63.8,68.9 66.3,69.1 68.8,67.4 71.3,66.7 73.8,66.1 76.4,64.8 78.9,63.8 81.4,62.7 83.9,61 86.4,60 89,59.9 91.5,59.5 94,58.6 96.5,58.7 99.1,58.2 101.6,57.8 104.1,59.1 106.6,59.9 109.1,60.2 111.7,60.5 114.2,60.4 116.7,60.2 119.2,59.5 121.7,58.9 124.3,57.7 126.8,57.8 129.3,57.5 131.8,58 134.4,56.8 136.9,57.8 139.4,57.9 141.9,59.3 144.4,59.9 147,61.6 149.5,61.8 152,61.4" fill="none" stroke="#7d7d7d" stroke-width="0.7" stroke-linejoin="round" />
<path d="M33.5,80.1 36,77.9 38.5,77.5 41.1,79.1 43.6,79 46.1,78.7 48.6,81 51.1,80 53.7,81.4 56.2,81.1 58.7,80.7 61.2,79.8 63.8,78.9 66.3,77.8 68.8,79 71.3,74.7 73.8,74.8 76.4,74.7 78.9,75.6 81.4,75.4 83.9,75.1 86.4,75.8 89,78.8 91.5,77.4 94,76.2 96.5,82.2 99.1,80.1 101.6,81.5 104.1,82.4 106.6,81 109.1,83.7 111.7,82 114.2,80.2 116.7,81.4 119.2,81 121.7,80 124.3,80.2 126.8,77.9 129.3,80.3 131.8,78.5 134.4,80.8 136.9,79.1 139.4,80.2 141.9,83.1 144.4,80.7 147,82.1 149.5,81.7 152,79.8" fill="none" stroke="#7d7d7d" stroke-width="0.7" stroke-linejoin="round" />
<path d="M33.5,65.5 36,65.7 38.5,64.6 41.1,65.6 43.6,65.3 46.1,66.3 48.6,67.4 51.1,67.5 53.7,67.3 56.2,68 58.7,69.1 61.2,69.6 63.8,70.4 66.3,71.3 68.8,70.6 71.3,72.3 73.8,73.6 76.4,74 78.9,73.9 81.4,74.1 83.9,74.3 86.4,74.1 89,72.9 91.5,72.7 94,71.1 96.5,68.6 99.1,68 101.6,66.4 104.1,64.9 106.6,64.2 109.1,63.7 111.7,61.9 114.2,62 116.7,61.9 119.2,60.8 121.7,60.4 124.3,60.6 126.8,59.7 129.3,59.6 131.8,60.4 134.4,59.4 136.9,59.6 139.4,60 141.9,61 144.4,60.9 147,61.3 149.5,61.6 152,62.6" fill="none" stroke="#7d7d7d" stroke-width="0.7" stroke-linejoin="round" />
<path d="M33.2,69.7 C33.9,70 35.4,71.5 37.2,71.8 C39,72.1 42.3,71.2 43.9,71.3 C45.5,71.4 45.7,71.6 47,72.5 C48.3,73.4 50.2,76.6 51.9,76.6 C53.6,76.6 55.2,73.4 57.2,72.3 C59.2,71.2 61.4,71.3 63.8,69.7 C66.2,68.1 69.6,64.4 71.8,62.5 C74,60.6 74.9,59.6 77.1,58.5 C79.3,57.4 82.2,56.6 85.1,55.9 C88,55.2 91.8,54.7 94.4,54.5 C97.1,54.3 98.2,55.4 101,54.5 C103.8,53.6 108.3,51.2 111,49 C113.7,46.8 114.7,43.8 117,41.2 C119.3,38.6 122.5,35 124.7,33.6 C126.9,32.2 128.2,34.3 130.3,32.7 C132.4,31.1 135.4,25.4 137,24 C138.6,22.6 138.3,22.7 139.6,24 C140.9,25.3 142.9,28.2 145,31.9 C147.1,35.6 150.8,44 152,46.4" fill="none" stroke="#e5258f" stroke-width="1.1" stroke-linejoin="round" />
<line x1="27.5" y1="17.8" x2="27.5" y2="94.5" stroke="#8a8a8a" stroke-width="1" />
<line x1="24.7" y1="18.2" x2="27.5" y2="18.2" stroke="#555555" stroke-width="0.7" />
<text x="21" y="21.03" font-size="7.9" text-anchor="end" fill="#231f20">10</text>
<line x1="24.7" y1="43.4" x2="27.5" y2="43.4" stroke="#555555" stroke-width="0.7" />
<text x="21" y="46.23" font-size="7.9" text-anchor="end" fill="#231f20">5</text>
<line x1="24.7" y1="68.6" x2="27.5" y2="68.6" stroke="#555555" stroke-width="0.7" />
<text x="21" y="71.43" font-size="7.9" text-anchor="end" fill="#231f20">0</text>
<line x1="27.5" y1="94.5" x2="161.7" y2="94.5" stroke="#8a8a8a" stroke-width="1" />
<line x1="33.5" y1="94.5" x2="33.5" y2="97.3" stroke="#555555" stroke-width="0.7" />
<text x="33.5" y="107.1" font-size="7.8" text-anchor="middle" fill="#231f20">−2.0</text>
<line x1="64.3" y1="94.5" x2="64.3" y2="97.3" stroke="#555555" stroke-width="0.7" />
<text x="64.3" y="107.1" font-size="7.8" text-anchor="middle" fill="#231f20">−1.5</text>
<line x1="94.3" y1="94.5" x2="94.3" y2="97.3" stroke="#555555" stroke-width="0.7" />
<text x="94.3" y="107.1" font-size="7.8" text-anchor="middle" fill="#231f20">−1.0</text>
<line x1="125" y1="94.5" x2="125" y2="97.3" stroke="#555555" stroke-width="0.7" />
<text x="125" y="107.1" font-size="7.8" text-anchor="middle" fill="#231f20">−0.5</text>
<line x1="155.5" y1="94.5" x2="155.5" y2="97.3" stroke="#555555" stroke-width="0.7" />
<text x="155.5" y="107.1" font-size="7.8" text-anchor="middle" fill="#231f20">0</text>
<text x="94.5" y="121.1" font-size="8.0" text-anchor="middle" fill="#231f20">Time to reward (s)</text>
<text x="7" y="56" font-size="8.0" text-anchor="middle" fill="#231f20" transform="rotate(-90 7 56)"><tspan font-style="italic">z</tspan>-scored spike rate</text>
<line x1="32" y1="24.9" x2="43.7" y2="24.9" stroke="#e5258f" stroke-width="1.4" />
<line x1="32" y1="33.9" x2="43.7" y2="33.9" stroke="#7d7d7d" stroke-width="1.4" />
<text x="48" y="27.7" font-size="8.0" text-anchor="start" fill="#231f20">CE</text>
<text x="48" y="36.7" font-size="8.0" text-anchor="start" fill="#231f20">Non-CE</text>
<text x="-0.6" y="8" font-size="10.5" text-anchor="start" fill="#000" font-weight="bold">a</text>
<rect x="93.1" y="147.8" width="61.7" height="69.4" fill="#d2e3ef" />
<path d="M33.5,201.6 36.3,198.5 39,200.7 41.8,202.1 44.5,200.5 47.3,201.4 50,198.3 52.8,196.1 55.5,198.1 58.3,195.8 61.1,192.2 63.8,194.4 66.6,192.5 69.3,194.4 72.1,193.7 74.8,193 77.6,187.8 80.3,192.5 83.1,192.6 85.9,192.4 88.6,191.4 91.4,189.7 94.1,190.4 96.9,186.8 99.6,190.2 102.4,188.1 105.2,190.6 107.9,190.3 110.7,194.7 113.4,192.7 116.2,193.2 118.9,194 121.7,198 124.4,192.7 127.2,195.4 130,195.7 132.7,195.3 135.5,195.1 138.2,193.6 141,196.2 143.7,194.9 146.5,192 149.2,191.6 152,192.1" fill="none" stroke="#7d7d7d" stroke-width="0.65" stroke-linejoin="round" />
<path d="M33.5,197.6 36.3,195.2 39,193.5 41.8,193.1 44.5,195.6 47.3,195.1 50,195.4 52.8,192.9 55.5,197.6 58.3,191.4 61.1,194.5 63.8,194.8 66.6,192.5 69.3,191.1 72.1,192.4 74.8,191 77.6,192.4 80.3,189.8 83.1,188.9 85.9,190.3 88.6,186.2 91.4,187.5 94.1,186.7 96.9,188.1 99.6,186.6 102.4,184.4 105.2,188.1 107.9,184.1 110.7,184.3 113.4,184.1 116.2,188.5 118.9,184.5 121.7,183.2 124.4,185.9 127.2,184.5 130,189.1 132.7,183.3 135.5,185.6 138.2,182.6 141,187.6 143.7,183 146.5,185 149.2,183.3 152,186.9" fill="none" stroke="#7d7d7d" stroke-width="0.65" stroke-linejoin="round" />
<path d="M33.5,195.6 36.3,193.5 39,195.6 41.8,198.3 44.5,194.9 47.3,192.5 50,195.7 52.8,196 55.5,192.7 58.3,194.3 61.1,196.5 63.8,194.9 66.6,195 69.3,192.2 72.1,191.6 74.8,188.7 77.6,188.6 80.3,192.2 83.1,188.1 85.9,186.9 88.6,187.5 91.4,186.3 94.1,188.9 96.9,189.3 99.6,185.4 102.4,188.8 105.2,190.6 107.9,184.8 110.7,188.4 113.4,188.3 116.2,191.1 118.9,191.8 121.7,192.1 124.4,191 127.2,189.7 130,194.6 132.7,188.8 135.5,192.1 138.2,191.6 141,188.1 143.7,189.3 146.5,191.9 149.2,185.4 152,190.2" fill="none" stroke="#7d7d7d" stroke-width="0.65" stroke-linejoin="round" />
<path d="M33.5,190.5 36.3,190.1 39,191.2 41.8,187.6 44.5,191.8 47.3,188.2 50,187.6 52.8,186.8 55.5,185.2 58.3,187.6 61.1,183.8 63.8,184.8 66.6,185.4 69.3,186.5 72.1,186.1 74.8,183.1 77.6,185.5 80.3,183.4 83.1,181.1 85.9,180.5 88.6,178.8 91.4,181.5 94.1,182.4 96.9,178 99.6,179.1 102.4,177.6 105.2,179.7 107.9,177.5 110.7,178.1 113.4,178.2 116.2,178.4 118.9,178.6 121.7,179.1 124.4,179.6 127.2,178.9 130,182.6 132.7,179.3 135.5,183.5 138.2,181.9 141,184.1 143.7,184.4 146.5,180.1 149.2,184.3 152,186" fill="none" stroke="#7d7d7d" stroke-width="0.65" stroke-linejoin="round" />
<path d="M33.5,184.3 36.3,188.4 39,186.5 41.8,189 44.5,188.8 47.3,188.6 50,187.9 52.8,184.9 55.5,185.7 58.3,185.2 61.1,184.7 63.8,183 66.6,185 69.3,184.2 72.1,183.3 74.8,184.2 77.6,183.2 80.3,183.8 83.1,178.5 85.9,179.4 88.6,180.6 91.4,181.2 94.1,176.8 96.9,180.1 99.6,180.7 102.4,179.8 105.2,179.7 107.9,177.5 110.7,180.1 113.4,176.1 116.2,181.5 118.9,178.4 121.7,181.2 124.4,175.4 127.2,178.8 130,177.8 132.7,175.6 135.5,174.9 138.2,179.5 141,178.6 143.7,181.2 146.5,178.9 149.2,179.7 152,180.2" fill="none" stroke="#7d7d7d" stroke-width="0.65" stroke-linejoin="round" />
<path d="M33.5,198.4 36.3,197.3 39,192.4 41.8,192.2 44.5,195.7 47.3,195.8 50,194 52.8,192.8 55.5,193.7 58.3,189.4 61.1,190.8 63.8,189.8 66.6,185.3 69.3,188.1 72.1,187 74.8,185.9 77.6,185.7 80.3,187.8 83.1,186.9 85.9,188.2 88.6,183.2 91.4,185.1 94.1,188.5 96.9,186.8 99.6,185.8 102.4,186.6 105.2,184.4 107.9,185.4 110.7,189 113.4,188.2 116.2,190.5 118.9,187.7 121.7,187.9 124.4,183.3 127.2,188.2 130,192.3 132.7,189.7 135.5,188.3 138.2,190.9 141,190.2 143.7,189.2 146.5,187.8 149.2,188.6 152,189.6" fill="none" stroke="#7d7d7d" stroke-width="0.65" stroke-linejoin="round" />
<path d="M33.5,197.8 36.3,196.9 39,200.5 41.8,195.9 44.5,195.1 47.3,199.4 50,199.4 52.8,195.7 55.5,196.9 58.3,199.3 61.1,192.7 63.8,193.1 66.6,193.5 69.3,187.9 72.1,190.7 74.8,191.6 77.6,189.2 80.3,190.7 83.1,189.7 85.9,187.2 88.6,188.7 91.4,188.4 94.1,184.4 96.9,185.9 99.6,185.9 102.4,186.3 105.2,186.2 107.9,184.1 110.7,186.5 113.4,182.6 116.2,187.4 118.9,185.7 121.7,187.6 124.4,185.6 127.2,184.2 130,182.8 132.7,187.2 135.5,186.3 138.2,187.1 141,187.8 143.7,188.3 146.5,185.6 149.2,188.5 152,184.9" fill="none" stroke="#7d7d7d" stroke-width="0.65" stroke-linejoin="round" />
<path d="M33.5,194.3 36.3,197 39,193.4 41.8,193.7 44.5,189.9 47.3,193.6 50,192 52.8,189.5 55.5,186.1 58.3,188 61.1,185.2 63.8,186.1 66.6,188 69.3,188 72.1,188.8 74.8,191 77.6,187.3 80.3,192.4 83.1,187.9 85.9,188.9 88.6,191.6 91.4,193.9 94.1,193.8 96.9,193.1 99.6,192.7 102.4,193.3 105.2,191.4 107.9,193.8 110.7,192.1 113.4,195.6 116.2,191.8 118.9,193.9 121.7,195.9 124.4,193.8 127.2,195.5 130,202.7 132.7,198 135.5,201.5 138.2,197.5 141,195.5 143.7,201.5 146.5,200.5 149.2,200.7 152,198.8" fill="none" stroke="#7d7d7d" stroke-width="0.65" stroke-linejoin="round" />
<path d="M33.5,202.2 36.3,195.9 39,198.4 41.8,198 44.5,198.6 47.3,199.4 50,195.7 52.8,195.3 55.5,192.2 58.3,195 61.1,188.8 63.8,190.2 66.6,190.5 69.3,190.7 72.1,190.2 74.8,190.2 77.6,188.5 80.3,187 83.1,187 85.9,188.9 88.6,186.5 91.4,187.2 94.1,184.9 96.9,181.3 99.6,183.2 102.4,184.6 105.2,187 107.9,186.6 110.7,187.4 113.4,183.2 116.2,186.3 118.9,185.1 121.7,186.6 124.4,185.5 127.2,183.3 130,187.5 132.7,187.1 135.5,188.3 138.2,185.3 141,188.8 143.7,188.9 146.5,189.2 149.2,189.2 152,185.8" fill="none" stroke="#7d7d7d" stroke-width="0.65" stroke-linejoin="round" />
<path d="M33.5,193.7 36.3,190.6 39,191.1 41.8,190.1 44.5,186.9 47.3,190.1 50,189 52.8,192.6 55.5,189.4 58.3,188.7 61.1,189.7 63.8,189 66.6,183.4 69.3,188.6 72.1,187.9 74.8,187.3 77.6,183.4 80.3,181.5 83.1,184.4 85.9,185.5 88.6,184 91.4,180.3 94.1,183.2 96.9,178.3 99.6,178.3 102.4,181 105.2,180.1 107.9,180.1 110.7,178.7 113.4,183.5 116.2,179.3 118.9,182.2 121.7,183.2 124.4,182 127.2,183.1 130,185.2 132.7,186.8 135.5,185.8 138.2,181.4 141,180.4 143.7,182.6 146.5,181.3 149.2,184.2 152,183.2" fill="none" stroke="#7d7d7d" stroke-width="0.65" stroke-linejoin="round" />
<path d="M33.5,199.1 36.3,196.3 39,196.8 41.8,198.7 44.5,193.5 47.3,193.6 50,196.2 52.8,193.3 55.5,196 58.3,192.2 61.1,194.2 63.8,194.6 66.6,192.9 69.3,192.8 72.1,190.2 74.8,189.4 77.6,189.1 80.3,189.8 83.1,195.3 85.9,188 88.6,191.3 91.4,186.9 94.1,184.8 96.9,186 99.6,186.8 102.4,186.2 105.2,186 107.9,186.9 110.7,187.2 113.4,188.3 116.2,184.8 118.9,187.4 121.7,185.9 124.4,188.3 127.2,187.8 130,188.4 132.7,187.4 135.5,187 138.2,188.5 141,190.7 143.7,191.5 146.5,187.5 149.2,191.6 152,192" fill="none" stroke="#7d7d7d" stroke-width="0.65" stroke-linejoin="round" />
<path d="M33.5,199.1 36.3,193.7 39,192.9 41.8,190.8 44.5,191.3 47.3,191 50,191 52.8,189.3 55.5,186.9 58.3,190.7 61.1,188.8 63.8,190.1 66.6,184.3 69.3,184.8 72.1,185.8 74.8,189.4 77.6,186.7 80.3,187.2 83.1,186.3 85.9,186.6 88.6,185 91.4,186.5 94.1,184 96.9,184.9 99.6,185.5 102.4,184.7 105.2,184.7 107.9,181.8 110.7,183.4 113.4,182.2 116.2,183.6 118.9,186 121.7,182 124.4,186.2 127.2,183.3 130,184 132.7,187.8 135.5,186.3 138.2,185.4 141,186 143.7,187 146.5,183.9 149.2,186.3 152,185.5" fill="none" stroke="#7d7d7d" stroke-width="0.65" stroke-linejoin="round" />
<path d="M33.5,194.2 36.3,193.1 39,194.4 41.8,193.8 44.5,196.8 47.3,195.2 50,193.8 52.8,191.6 55.5,193.6 58.3,193.6 61.1,190.8 63.8,190 66.6,187.7 69.3,187.9 72.1,189.7 74.8,188.8 77.6,189 80.3,188.9 83.1,189.2 85.9,190.9 88.6,193 91.4,189.8 94.1,191.7 96.9,187.1 99.6,186.6 102.4,189.3 105.2,184.5 107.9,184 110.7,185.4 113.4,182.6 116.2,182.3 118.9,188.3 121.7,184.4 124.4,185.9 127.2,186.5 130,186.1 132.7,189.8 135.5,190.2 138.2,191.1 141,191.2 143.7,190 146.5,192.3 149.2,191.2 152,187.8" fill="none" stroke="#7d7d7d" stroke-width="0.65" stroke-linejoin="round" />
<path d="M33.5,192.2 36.3,193.3 39,190.9 41.8,192.8 44.5,196.2 47.3,189.3 50,191 52.8,192.8 55.5,190.4 58.3,191.2 61.1,185.3 63.8,188.2 66.6,192 69.3,188.1 72.1,189.8 74.8,185.2 77.6,190.4 80.3,192 83.1,187.1 85.9,187.2 88.6,186.7 91.4,189.5 94.1,184.4 96.9,181.8 99.6,188.3 102.4,182.4 105.2,185.6 107.9,180.1 110.7,183.6 113.4,184.7 116.2,182.3 118.9,183.2 121.7,185.2 124.4,182.6 127.2,185 130,187.6 132.7,181 135.5,186.1 138.2,187.3 141,186.2 143.7,190.2 146.5,190.1 149.2,188.5 152,188.4" fill="none" stroke="#7d7d7d" stroke-width="0.65" stroke-linejoin="round" />
<path d="M33.5,193.3 36.3,194.6 39,193.5 41.8,192.6 44.5,189 47.3,188.6 50,191.5 52.8,187.7 55.5,190.4 58.3,189.1 61.1,187.7 63.8,188.2 66.6,183.8 69.3,187.4 72.1,189.8 74.8,185 77.6,188.2 80.3,188.1 83.1,193.2 85.9,185.9 88.6,186.3 91.4,186.3 94.1,185.9 96.9,184.5 99.6,187.6 102.4,185.7 105.2,188.8 107.9,188.1 110.7,185.4 113.4,186.6 116.2,189.6 118.9,186.1 121.7,186.7 124.4,187.3 127.2,184.5 130,186.5 132.7,190.5 135.5,192.2 138.2,190 141,199.6 143.7,200.1 146.5,203.1 149.2,206.8 152,213.9" fill="none" stroke="#7d7d7d" stroke-width="0.65" stroke-linejoin="round" />
<path d="M33.5,191.1 36.3,195.4 39,195.9 41.8,192.5 44.5,191.7 47.3,188.1 50,190.3 52.8,192.4 55.5,188.7 58.3,191.3 61.1,192.1 63.8,184.4 66.6,188.6 69.3,188 72.1,188.4 74.8,186.1 77.6,189 80.3,187.3 83.1,191.5 85.9,192.3 88.6,187.1 91.4,187.1 94.1,189 96.9,189.4 99.6,189.3 102.4,190.7 105.2,186.3 107.9,187.9 110.7,188.2 113.4,188.8 116.2,187.9 118.9,189.4 121.7,189.2 124.4,192.8 127.2,189.5 130,186.8 132.7,193.4 135.5,194.6 138.2,195.1 141,197.7 143.7,201.2 146.5,208.3 149.2,207.1 152,213" fill="none" stroke="#7d7d7d" stroke-width="0.65" stroke-linejoin="round" />
<path d="M33.5,192.6 36.3,194.3 39,196.2 41.8,197 44.5,192.8 47.3,195.4 50,191.8 52.8,187.3 55.5,187.1 58.3,186.9 61.1,183.2 63.8,186 66.6,182.8 69.3,183.6 72.1,183.7 74.8,180.7 77.6,182.8 80.3,177 83.1,181.2 85.9,175.9 88.6,181.2 91.4,177.5 94.1,180.3 96.9,180 99.6,176.8 102.4,175.6 105.2,179.1 107.9,174.6 110.7,178.5 113.4,176.9 116.2,176.5 118.9,176 121.7,180.3 124.4,173.8 127.2,175.8 130,177.9 132.7,179.6 135.5,181.4 138.2,181.4 141,178.3 143.7,180.2 146.5,181.7 149.2,180.6 152,176.9" fill="none" stroke="#7d7d7d" stroke-width="0.65" stroke-linejoin="round" />
<path d="M33.5,188.9 36.3,190.1 39,187.8 41.8,189.2 44.5,190.6 47.3,188.4 50,184.7 52.8,189 55.5,185.1 58.3,184.1 61.1,183.1 63.8,186.6 66.6,180.4 69.3,183.1 72.1,182.9 74.8,182.3 77.6,180.4 80.3,181.4 83.1,181.9 85.9,179.4 88.6,183.2 91.4,183.7 94.1,180.1 96.9,179.9 99.6,178.9 102.4,182.8 105.2,178.8 107.9,180.1 110.7,178 113.4,183.9 116.2,181.5 118.9,182.5 121.7,185.1 124.4,183.5 127.2,180.2 130,183.6 132.7,185 135.5,183.1 138.2,183.9 141,184.9 143.7,189.3 146.5,189.2 149.2,188.7 152,193.6" fill="none" stroke="#7d7d7d" stroke-width="0.65" stroke-linejoin="round" />
<path d="M33.5,195.5 36.3,196 39,196.7 41.8,195.9 44.5,193 47.3,192.3 50,188.6 52.8,190.7 55.5,186.5 58.3,187.3 61.1,187.2 63.8,190.6 66.6,189 69.3,184.8 72.1,182.9 74.8,184.5 77.6,182.7 80.3,184.3 83.1,183.8 85.9,184.3 88.6,181.5 91.4,183.1 94.1,184.8 96.9,185.6 99.6,184.5 102.4,185.2 105.2,187.4 107.9,182.6 110.7,185.3 113.4,185.8 116.2,183.4 118.9,184.8 121.7,187.6 124.4,187.4 127.2,191.4 130,191.6 132.7,195.6 135.5,189.8 138.2,196.3 141,192.3 143.7,195.9 146.5,197 149.2,196.4 152,196.2" fill="none" stroke="#7d7d7d" stroke-width="0.65" stroke-linejoin="round" />
<path d="M33.5,198.5 36.3,191.3 39,191.3 41.8,192.5 44.5,194.4 47.3,193 50,195 52.8,191.5 55.5,194.8 58.3,193 61.1,190.1 63.8,193.4 66.6,191.2 69.3,189.3 72.1,191.4 74.8,186.1 77.6,187.3 80.3,190.7 83.1,188 85.9,189.2 88.6,188.6 91.4,186.6 94.1,187.3 96.9,183.3 99.6,185.7 102.4,182 105.2,183.6 107.9,181.9 110.7,184.7 113.4,184.8 116.2,186.2 118.9,183.1 121.7,182.4 124.4,180.1 127.2,181.4 130,183 132.7,183.4 135.5,181.9 138.2,182.3 141,179.4 143.7,180.7 146.5,184.7 149.2,185.2 152,182.1" fill="none" stroke="#7d7d7d" stroke-width="0.65" stroke-linejoin="round" />
<path d="M33.5,190.3 36.3,191 39,188.9 41.8,188.6 44.5,192.8 47.3,188.1 50,188.7 52.8,187.3 55.5,187.7 58.3,190.4 61.1,189.7 63.8,183.5 66.6,185.8 69.3,188.3 72.1,184.3 74.8,185 77.6,187.2 80.3,187.6 83.1,185.9 85.9,182 88.6,182.3 91.4,182.3 94.1,181 96.9,180.2 99.6,185.1 102.4,181.6 105.2,182.6 107.9,183.3 110.7,182 113.4,181.2 116.2,181.5 118.9,183.7 121.7,181.9 124.4,177.4 127.2,183.3 130,185.5 132.7,184 135.5,186 138.2,188.9 141,194.7 143.7,193.7 146.5,200.1 149.2,204.1 152,206.5" fill="none" stroke="#7d7d7d" stroke-width="0.65" stroke-linejoin="round" />
<path d="M33.5,195.2 36.3,195.5 39,193.9 41.8,194.4 44.5,193.2 47.3,194.8 50,193.3 52.8,193.9 55.5,193.2 58.3,191.5 61.1,191 63.8,192.4 66.6,186.8 69.3,189.5 72.1,191.3 74.8,186.2 77.6,189.4 80.3,187.1 83.1,188.3 85.9,188.1 88.6,188.3 91.4,189.5 94.1,187.8 96.9,183.2 99.6,190.2 102.4,185.2 105.2,184.2 107.9,187.2 110.7,188.6 113.4,182.9 116.2,188.5 118.9,184.4 121.7,187.1 124.4,187.4 127.2,185.8 130,185 132.7,184.5 135.5,186.9 138.2,189 141,190.9 143.7,190.7 146.5,193.7 149.2,199.1 152,200.2" fill="none" stroke="#7d7d7d" stroke-width="0.65" stroke-linejoin="round" />
<path d="M33.5,207.7 36.3,205.6 39,205.6 41.8,205.8 44.5,199.1 47.3,196.3 50,193.5 52.8,190.4 55.5,188.7 58.3,190.1 61.1,192.3 63.8,192.1 66.6,186.4 69.3,186.8 72.1,187 74.8,187.5 77.6,186.7 80.3,187.4 83.1,189.3 85.9,191.3 88.6,187 91.4,191.1 94.1,192.8 96.9,194 99.6,193 102.4,190.7 105.2,191.5 107.9,194.2 110.7,194.3 113.4,194.7 116.2,195 118.9,188.6 121.7,188 124.4,182 127.2,186.7 130,185.1 132.7,183.7 135.5,187 138.2,190.5 141,191.2 143.7,190.7 146.5,191.7 149.2,194.1 152,193.6" fill="none" stroke="#7d7d7d" stroke-width="0.65" stroke-linejoin="round" />
<path d="M33.5,193.4 36.3,196.2 39,191.3 41.8,195 44.5,194.1 47.3,193.5 50,193.7 52.8,191 55.5,191.2 58.3,187.6 61.1,188.8 63.8,188.1 66.6,188.6 69.3,190 72.1,186.8 74.8,187.6 77.6,183.8 80.3,185.4 83.1,182.1 85.9,183.8 88.6,183.7 91.4,185 94.1,185.3 96.9,184.8 99.6,184.7 102.4,188 105.2,185.9 107.9,181.8 110.7,186.7 113.4,186.7 116.2,187.2 118.9,188.4 121.7,183.3 124.4,185.4 127.2,184.9 130,182.1 132.7,180.9 135.5,187.3 138.2,183.9 141,185 143.7,186 146.5,186.5 149.2,188 152,185.3" fill="none" stroke="#7d7d7d" stroke-width="0.65" stroke-linejoin="round" />
<path d="M33.5,191.4 36.3,189.3 39,188.8 41.8,190.4 44.5,192.7 47.3,191.1 50,190.7 52.8,188.3 55.5,190.3 58.3,185.8 61.1,184.2 63.8,185.4 66.6,184.1 69.3,186.5 72.1,187.2 74.8,185.2 77.6,181.2 80.3,180.9 83.1,183.2 85.9,179.8 88.6,182.6 91.4,179.1 94.1,181 96.9,182.5 99.6,179.6 102.4,181.9 105.2,181.6 107.9,182 110.7,178.6 113.4,179.3 116.2,179.6 118.9,180.6 121.7,177.4 124.4,180.9 127.2,181.5 130,177.7 132.7,177.5 135.5,179.7 138.2,184 141,182.4 143.7,180.5 146.5,181.8 149.2,178.8 152,183.9" fill="none" stroke="#7d7d7d" stroke-width="0.65" stroke-linejoin="round" />
<path d="M33.5,187.7 36.3,188.2 39,190 41.8,189.3 44.5,185.6 47.3,190.2 50,189.7 52.8,188 55.5,188.3 58.3,187.3 61.1,185.2 63.8,182.6 66.6,189 69.3,185.5 72.1,185.1 74.8,185.1 77.6,184.9 80.3,184.9 83.1,182.1 85.9,184.6 88.6,183.6 91.4,183 94.1,182.3 96.9,182.2 99.6,179.5 102.4,180.9 105.2,180.3 107.9,180.7 110.7,182.6 113.4,182.7 116.2,183.7 118.9,181.9 121.7,184.1 124.4,185.2 127.2,183.1 130,182.7 132.7,187 135.5,180.4 138.2,183.2 141,183 143.7,180.3 146.5,181.7 149.2,182.6 152,177.3" fill="none" stroke="#7d7d7d" stroke-width="0.65" stroke-linejoin="round" />
<path d="M33.5,189.6 36.3,190.5 39,189.2 41.8,190.6 44.5,185.8 47.3,184.4 50,188.8 52.8,187 55.5,187.7 58.3,184.4 61.1,185.4 63.8,185.4 66.6,185.4 69.3,184.1 72.1,185.5 74.8,181.8 77.6,183.8 80.3,181 83.1,181.4 85.9,179.5 88.6,181.6 91.4,179.8 94.1,183.6 96.9,180.8 99.6,182.3 102.4,181.4 105.2,181.5 107.9,179.8 110.7,185.5 113.4,181.4 116.2,185.3 118.9,180.7 121.7,187 124.4,185.4 127.2,186.9 130,180.9 132.7,186.7 135.5,184.6 138.2,186.5 141,189.6 143.7,187.6 146.5,186.2 149.2,188 152,185.8" fill="none" stroke="#7d7d7d" stroke-width="0.65" stroke-linejoin="round" />
<path d="M33.5,197.2 36.3,191.6 39,189.7 41.8,192.6 44.5,195.9 47.3,189.3 50,192.9 52.8,190.9 55.5,193.2 58.3,193.6 61.1,193 63.8,188.5 66.6,187.5 69.3,193.2 72.1,190.2 74.8,184.6 77.6,188.1 80.3,189.5 83.1,186.5 85.9,186.3 88.6,185.9 91.4,186.4 94.1,186 96.9,186.4 99.6,185 102.4,187.2 105.2,186.2 107.9,185.9 110.7,183.2 113.4,185.1 116.2,186.5 118.9,185.9 121.7,186.7 124.4,185.9 127.2,187.2 130,184.6 132.7,185 135.5,186.9 138.2,187 141,184.2 143.7,184.7 146.5,186 149.2,189 152,190.1" fill="none" stroke="#7d7d7d" stroke-width="0.65" stroke-linejoin="round" />
<path d="M33.5,189.8 36.3,189.6 39,190.1 41.8,187.6 44.5,185.9 47.3,189.4 50,189 52.8,192.1 55.5,187.6 58.3,187.7 61.1,190.5 63.8,185.5 66.6,184.7 69.3,187 72.1,186.2 74.8,187.2 77.6,183.8 80.3,187.7 83.1,185.1 85.9,180.6 88.6,183.8 91.4,182.9 94.1,184.1 96.9,186.4 99.6,184.7 102.4,184.3 105.2,187.4 107.9,185.1 110.7,183.5 113.4,183.7 116.2,188.5 118.9,187.1 121.7,188.1 124.4,183 127.2,183.9 130,183.9 132.7,187.2 135.5,188.1 138.2,186.3 141,186.8 143.7,189 146.5,187.5 149.2,186.8 152,187.7" fill="none" stroke="#7d7d7d" stroke-width="0.65" stroke-linejoin="round" />
<path d="M33.5,192.3 36.3,194 39,192.8 41.8,192.4 44.5,193.3 47.3,193.3 50,192.3 52.8,190.9 55.5,190.7 58.3,190 61.1,189.8 63.8,190.9 66.6,189.4 69.3,190.3 72.1,186.5 74.8,192.2 77.6,188.6 80.3,183.5 83.1,188.3 85.9,189.4 88.6,187 91.4,184.4 94.1,187 96.9,185.7 99.6,186.7 102.4,187.6 105.2,180.9 107.9,186.4 110.7,187.4 113.4,187.2 116.2,185.6 118.9,185.6 121.7,185 124.4,186.1 127.2,188.9 130,184.9 132.7,186.2 135.5,185.9 138.2,188.1 141,186.6 143.7,187.2 146.5,186.4 149.2,189.4 152,186.8" fill="none" stroke="#7d7d7d" stroke-width="0.65" stroke-linejoin="round" />
<path d="M33.5,206.2 36.3,206.4 39,204.3 41.8,205.2 44.5,201.8 47.3,202.9 50,198.6 52.8,196.9 55.5,195.8 58.3,194.8 61.1,192.7 63.8,197.1 66.6,188.8 69.3,189.3 72.1,187.4 74.8,187.1 77.6,188.5 80.3,186.6 83.1,184.4 85.9,183.1 88.6,187.2 91.4,188 94.1,183.8 96.9,188.2 99.6,182.7 102.4,186.4 105.2,188 107.9,184.6 110.7,183.4 113.4,189.5 116.2,184.1 118.9,187.8 121.7,184.7 124.4,188.3 127.2,190.7 130,187.8 132.7,189.1 135.5,189.5 138.2,193.3 141,198.3 143.7,203.1 146.5,206.3 149.2,208.1 152,210.8" fill="none" stroke="#7d7d7d" stroke-width="0.65" stroke-linejoin="round" />
<path d="M33.5,194.7 36.3,198.5 39,194.7 41.8,196.1 44.5,194.7 47.3,193 50,194.9 52.8,194.9 55.5,198.1 58.3,197.7 61.1,195 63.8,192.9 66.6,192.5 69.3,189.9 72.1,192.7 74.8,192 77.6,189.9 80.3,191.3 83.1,191.1 85.9,192.7 88.6,188.5 91.4,191.9 94.1,188.3 96.9,191.4 99.6,186.2 102.4,189.8 105.2,186.2 107.9,190.7 110.7,188.5 113.4,185.5 116.2,189.2 118.9,187.4 121.7,188.2 124.4,191.3 127.2,186.1 130,185.6 132.7,188 135.5,184.4 138.2,186.3 141,185.9 143.7,183.2 146.5,183.7 149.2,177.5 152,184" fill="none" stroke="#7d7d7d" stroke-width="0.65" stroke-linejoin="round" />
<path d="M33.5,199.5 36.3,196.6 39,196.6 41.8,195.7 44.5,196.4 47.3,192.2 50,193.4 52.8,198.2 55.5,193.9 58.3,192.7 61.1,190.7 63.8,192.9 66.6,192.7 69.3,193.1 72.1,190.2 74.8,191.8 77.6,191.7 80.3,191.8 83.1,189.4 85.9,191.6 88.6,194.2 91.4,190.4 94.1,193.4 96.9,191.8 99.6,192 102.4,190.5 105.2,190.8 107.9,193.8 110.7,193.1 113.4,195.3 116.2,190 118.9,192.6 121.7,191.1 124.4,194.7 127.2,198.4 130,192.2 132.7,195.4 135.5,195.8 138.2,196.3 141,195.4 143.7,195.6 146.5,199.4 149.2,194.1 152,196.8" fill="none" stroke="#7d7d7d" stroke-width="0.65" stroke-linejoin="round" />
<path d="M33.5,190.6 36.3,193.4 39,189.7 41.8,187 44.5,184.9 47.3,186.2 50,186.8 52.8,187.6 55.5,188.4 58.3,187.1 61.1,185.4 63.8,187.7 66.6,184.4 69.3,188 72.1,189.4 74.8,187.8 77.6,188.6 80.3,187.4 83.1,181.9 85.9,183.6 88.6,182.2 91.4,180.1 94.1,179.9 96.9,183.4 99.6,180.2 102.4,182.2 105.2,182.8 107.9,181.7 110.7,184.8 113.4,183.3 116.2,182 118.9,180.8 121.7,183.1 124.4,183.2 127.2,181.6 130,181 132.7,182.1 135.5,180.9 138.2,183.8 141,183.6 143.7,182.7 146.5,184.5 149.2,185.6 152,182.2" fill="none" stroke="#7d7d7d" stroke-width="0.65" stroke-linejoin="round" />
<path d="M33.5,189.8 36.3,194.4 39,193.1 41.8,194.9 44.5,192.9 47.3,193.4 50,188.2 52.8,189.4 55.5,186.9 58.3,188.4 61.1,187.4 63.8,183.6 66.6,187.5 69.3,188.8 72.1,184.5 74.8,187 77.6,185.3 80.3,182.2 83.1,184.8 85.9,181 88.6,183.4 91.4,178.9 94.1,178.9 96.9,182.2 99.6,181.8 102.4,183.1 105.2,181.4 107.9,179.9 110.7,184.8 113.4,180.3 116.2,184.3 118.9,183.2 121.7,184.6 124.4,177.1 127.2,180.8 130,180.5 132.7,182.4 135.5,179.4 138.2,185.6 141,181.7 143.7,177.7 146.5,182.3 149.2,181.3 152,179.8" fill="none" stroke="#7d7d7d" stroke-width="0.65" stroke-linejoin="round" />
<path d="M33.5,190.5 36.3,191.2 39,187.3 41.8,188.7 44.5,191.3 47.3,194 50,193 52.8,190.1 55.5,191.7 58.3,187.7 61.1,187.5 63.8,186.5 66.6,184.9 69.3,184.5 72.1,186.6 74.8,185.3 77.6,180.1 80.3,186.7 83.1,185.2 85.9,182.3 88.6,184.6 91.4,185.7 94.1,186.4 96.9,182.5 99.6,181 102.4,179.6 105.2,181.4 107.9,179.1 110.7,182.8 113.4,180.6 116.2,182.5 118.9,181.4 121.7,180.6 124.4,180.3 127.2,184.2 130,180.1 132.7,183.4 135.5,184.6 138.2,183.3 141,186 143.7,183.5 146.5,183.1 149.2,183.9 152,182.3" fill="none" stroke="#7d7d7d" stroke-width="0.65" stroke-linejoin="round" />
<path d="M33.5,197.9 36.3,196.1 39,196.5 41.8,196 44.5,195.6 47.3,196.8 50,197.4 52.8,194.2 55.5,194.1 58.3,195.1 61.1,195.3 63.8,190 66.6,195.4 69.3,193.9 72.1,192.5 74.8,194.5 77.6,191.4 80.3,187.5 83.1,188.5 85.9,188.5 88.6,188.2 91.4,188.8 94.1,187.1 96.9,189.1 99.6,189.5 102.4,188.4 105.2,186.6 107.9,187.3 110.7,186.3 113.4,191.1 116.2,185 118.9,183.1 121.7,185.4 124.4,189.2 127.2,190.9 130,189.5 132.7,192.4 135.5,189.6 138.2,192 141,189.1 143.7,188.2 146.5,194.4 149.2,190.1 152,192.1" fill="none" stroke="#7d7d7d" stroke-width="0.65" stroke-linejoin="round" />
<path d="M33.5,191.7 36.3,187.4 39,187.3 41.8,188.5 44.5,190.6 47.3,188.8 50,188.6 52.8,192.3 55.5,189.5 58.3,188.5 61.1,188.8 63.8,185.4 66.6,185.2 69.3,188.3 72.1,186.1 74.8,187.8 77.6,185.3 80.3,188.3 83.1,185.2 85.9,186.3 88.6,185.1 91.4,187.1 94.1,189.3 96.9,183.2 99.6,186.8 102.4,183.9 105.2,185.8 107.9,185.5 110.7,183.5 113.4,186.4 116.2,184.5 118.9,189.9 121.7,185.6 124.4,187.8 127.2,187.6 130,187.3 132.7,186.6 135.5,184.1 138.2,190.6 141,187.1 143.7,188.8 146.5,185.7 149.2,189.1 152,187.9" fill="none" stroke="#7d7d7d" stroke-width="0.65" stroke-linejoin="round" />
<path d="M33.5,186.3 36.3,183.2 39,184.9 41.8,187 44.5,184.9 47.3,182.9 50,182.2 52.8,186.6 55.5,184.5 58.3,186.6 61.1,186 63.8,186.2 66.6,189.7 69.3,191.6 72.1,187.7 74.8,184.5 77.6,185.8 80.3,185.8 83.1,180.7 85.9,185.9 88.6,181.1 91.4,182.8 94.1,181.1 96.9,180.9 99.6,178.6 102.4,183.6 105.2,183.3 107.9,185.4 110.7,181.3 113.4,182.4 116.2,180.1 118.9,182.2 121.7,180.4 124.4,177.4 127.2,179.3 130,177.2 132.7,176.4 135.5,176.9 138.2,178 141,172.6 143.7,174 146.5,173.1 149.2,179.7 152,180.4" fill="none" stroke="#7d7d7d" stroke-width="0.65" stroke-linejoin="round" />
<path d="M33.5,194.8 36.3,189.8 39,189.7 41.8,194.1 44.5,188.4 47.3,188.4 50,190.2 52.8,187.1 55.5,191.3 58.3,190.4 61.1,190.7 63.8,189.8 66.6,185.7 69.3,189.3 72.1,188.4 74.8,187.5 77.6,185 80.3,185.7 83.1,183.2 85.9,186 88.6,186.8 91.4,185.2 94.1,184 96.9,185.7 99.6,183.4 102.4,180.4 105.2,184.7 107.9,183.4 110.7,180.8 113.4,184.3 116.2,184.6 118.9,185 121.7,182.3 124.4,182.2 127.2,183.7 130,183.6 132.7,181.4 135.5,182.2 138.2,186.3 141,183.4 143.7,182.9 146.5,181.5 149.2,183.1 152,183.9" fill="none" stroke="#7d7d7d" stroke-width="0.65" stroke-linejoin="round" />
<path d="M33.5,189.6 36.3,190.9 39,191.1 41.8,189.7 44.5,190.9 47.3,189.2 50,187.7 52.8,188.1 55.5,190.3 58.3,191.9 61.1,189.4 63.8,189.4 66.6,186.8 69.3,189.2 72.1,188.4 74.8,186.1 77.6,187.8 80.3,186.7 83.1,182.8 85.9,182.9 88.6,184.3 91.4,184.9 94.1,187.1 96.9,184.2 99.6,185.1 102.4,184.9 105.2,186.3 107.9,185.5 110.7,186 113.4,185.3 116.2,183.5 118.9,185.6 121.7,189.5 124.4,188.2 127.2,189.4 130,187.9 132.7,185.5 135.5,186 138.2,188.1 141,186.8 143.7,189 146.5,190.4 149.2,190.4 152,189.3" fill="none" stroke="#7d7d7d" stroke-width="0.65" stroke-linejoin="round" />
<path d="M33.5,191.1 36.3,195.4 39,193.7 41.8,195.4 44.5,194.4 47.3,192.6 50,191.2 52.8,189.1 55.5,189 58.3,187.8 61.1,188.5 63.8,190 66.6,186.6 69.3,189 72.1,188.5 74.8,183.8 77.6,184.4 80.3,185 83.1,183.6 85.9,183.2 88.6,187.3 91.4,184.9 94.1,186.7 96.9,184.1 99.6,185.2 102.4,181 105.2,182.3 107.9,184.5 110.7,182.8 113.4,184.8 116.2,182.2 118.9,181 121.7,181.1 124.4,184.9 127.2,181.7 130,180 132.7,180.5 135.5,179.1 138.2,183.8 141,180.5 143.7,182.7 146.5,181 149.2,180.4 152,179.6" fill="none" stroke="#7d7d7d" stroke-width="0.65" stroke-linejoin="round" />
<path d="M33.5,195.7 36.3,200.6 39,197.1 41.8,195.4 44.5,200.4 47.3,198 50,199.2 52.8,197.7 55.5,198.1 58.3,194.9 61.1,197 63.8,197.4 66.6,194.5 69.3,196.2 72.1,195.5 74.8,189.8 77.6,194.8 80.3,193.5 83.1,191.7 85.9,193 88.6,194.1 91.4,187.4 94.1,190.1 96.9,189.3 99.6,188.8 102.4,189.9 105.2,190.3 107.9,188.2 110.7,184.2 113.4,187.5 116.2,187.6 118.9,191.7 121.7,188.8 124.4,190.8 127.2,186.9 130,188.5 132.7,187.8 135.5,187.9 138.2,188.7 141,190.3 143.7,186.3 146.5,189.8 149.2,189.2 152,187.4" fill="none" stroke="#7d7d7d" stroke-width="0.65" stroke-linejoin="round" />
<path d="M33.5,190.9 36.3,189.7 39,192.3 41.8,190.9 44.5,189.4 47.3,192.6 50,189.3 52.8,184.8 55.5,182.9 58.3,186.4 61.1,182.1 63.8,186 66.6,186.1 69.3,188.4 72.1,182.1 74.8,184.4 77.6,179.3 80.3,183.1 83.1,183.7 85.9,187.8 88.6,182 91.4,185.8 94.1,185.4 96.9,189 99.6,182.7 102.4,182 105.2,184.3 107.9,182.4 110.7,181.5 113.4,180.2 116.2,181.8 118.9,178.9 121.7,182.7 124.4,183.5 127.2,183.3 130,187.4 132.7,184.9 135.5,182.2 138.2,184.3 141,187.2 143.7,186 146.5,191.9 149.2,190.7 152,191.7" fill="none" stroke="#7d7d7d" stroke-width="0.65" stroke-linejoin="round" />
<path d="M33.5,191.9 36.3,189.5 39,189.5 41.8,187.9 44.5,186.7 47.3,188.1 50,182.8 52.8,187.6 55.5,186.1 58.3,184.7 61.1,187.5 63.8,184.2 66.6,184.3 69.3,186.1 72.1,181.9 74.8,185.1 77.6,184.3 80.3,186 83.1,186.5 85.9,183.7 88.6,182.3 91.4,181.9 94.1,179.1 96.9,184.7 99.6,182.2 102.4,183.5 105.2,177.6 107.9,181.2 110.7,180.9 113.4,181.7 116.2,177.4 118.9,179.3 121.7,177.5 124.4,181.1 127.2,174.8 130,176.4 132.7,176.8 135.5,176.7 138.2,180.7 141,182.1 143.7,182 146.5,184 149.2,186.6 152,187.5" fill="none" stroke="#7d7d7d" stroke-width="0.65" stroke-linejoin="round" />
<path d="M33.5,191.4 36.3,193.2 39,193 41.8,190.6 44.5,186.7 47.3,187.1 50,189.2 52.8,185.6 55.5,189.1 58.3,184.8 61.1,187.4 63.8,185.2 66.6,185.4 69.3,187 72.1,185.8 74.8,188.4 77.6,186.5 80.3,184.5 83.1,178.9 85.9,185.4 88.6,186.5 91.4,188.4 94.1,184.3 96.9,189 99.6,187 102.4,184.5 105.2,187.2 107.9,182.1 110.7,183.3 113.4,186.9 116.2,187.5 118.9,189.6 121.7,190.4 124.4,187.6 127.2,187.8 130,188.8 132.7,189.3 135.5,191.2 138.2,189.6 141,193.1 143.7,190.4 146.5,187.6 149.2,187.9 152,191.3" fill="none" stroke="#7d7d7d" stroke-width="0.65" stroke-linejoin="round" />
<path d="M33.5,194 36.3,190.5 39,189.4 41.8,190.8 44.5,192 47.3,187.9 50,192.5 52.8,191.5 55.5,185.5 58.3,184.7 61.1,183.2 63.8,184.8 66.6,186.4 69.3,184.7 72.1,182.5 74.8,184.6 77.6,184 80.3,184.6 83.1,183.5 85.9,179.1 88.6,179.3 91.4,182.1 94.1,181.7 96.9,180.7 99.6,178.5 102.4,181.5 105.2,179.5 107.9,183 110.7,181.1 113.4,177.8 116.2,176.7 118.9,180.3 121.7,179.3 124.4,175.9 127.2,177.7 130,177.7 132.7,175.5 135.5,176.2 138.2,174.6 141,175.4 143.7,178.2 146.5,177.5 149.2,177.5 152,180.1" fill="none" stroke="#7d7d7d" stroke-width="0.65" stroke-linejoin="round" />
<path d="M33.5,197.8 36.3,196.8 39,197.6 41.8,196.5 44.5,194.5 47.3,198.7 50,192.6 52.8,194.9 55.5,190.6 58.3,192.1 61.1,190.4 63.8,191.7 66.6,191 69.3,193 72.1,194.5 74.8,191.2 77.6,190.4 80.3,187.1 83.1,194.2 85.9,190.5 88.6,188.1 91.4,192.6 94.1,190.9 96.9,186.6 99.6,187.8 102.4,191.9 105.2,187.4 107.9,187.7 110.7,188.7 113.4,189.9 116.2,190.8 118.9,193.3 121.7,192.9 124.4,190.5 127.2,191.4 130,187.8 132.7,191.7 135.5,195.8 138.2,192.5 141,192.2 143.7,193 146.5,194.3 149.2,196.3 152,191.9" fill="none" stroke="#7d7d7d" stroke-width="0.65" stroke-linejoin="round" />
<path d="M33.5,194.3 36.3,193.7 39,194.2 41.8,191.7 44.5,192.7 47.3,192.5 50,187.3 52.8,189.1 55.5,188 58.3,190 61.1,188 63.8,188.1 66.6,187.2 69.3,184.9 72.1,189.7 74.8,188.8 77.6,189.5 80.3,196 83.1,192.1 85.9,189.6 88.6,188.6 91.4,191.1 94.1,188.2 96.9,188.2 99.6,191.7 102.4,188.4 105.2,187.8 107.9,190 110.7,192.4 113.4,187.5 116.2,190.2 118.9,190.3 121.7,189.2 124.4,190.2 127.2,187.1 130,187.5 132.7,186.7 135.5,187.8 138.2,190.4 141,189.2 143.7,187.1 146.5,189.3 149.2,182.6 152,187.9" fill="none" stroke="#7d7d7d" stroke-width="0.65" stroke-linejoin="round" />
<path d="M33.5,191.1 36.3,188.3 39,189.9 41.8,193.7 44.5,188.6 47.3,189.7 50,189.3 52.8,187.4 55.5,188.7 58.3,190.1 61.1,187.7 63.8,187.9 66.6,187.7 69.3,186.4 72.1,185.6 74.8,186 77.6,185.7 80.3,184.4 83.1,185.8 85.9,185.9 88.6,180.8 91.4,183.3 94.1,182.8 96.9,183.1 99.6,182.9 102.4,183.1 105.2,183.1 107.9,184.7 110.7,181.3 113.4,184.2 116.2,181 118.9,186.6 121.7,185.2 124.4,181.7 127.2,184.1 130,185.2 132.7,183.2 135.5,185.7 138.2,183.6 141,188 143.7,185.2 146.5,186.2 149.2,184.6 152,184.3" fill="none" stroke="#7d7d7d" stroke-width="0.65" stroke-linejoin="round" />
<path d="M33.5,190.5 36.3,191.7 39,187.6 41.8,187.4 44.5,188.5 47.3,186.9 50,186.6 52.8,187.8 55.5,185.3 58.3,187.2 61.1,185.3 63.8,188 66.6,185.8 69.3,184.9 72.1,186.9 74.8,185.9 77.6,185.8 80.3,183.3 83.1,185.8 85.9,183.7 88.6,181.7 91.4,184.1 94.1,188 96.9,185 99.6,183.5 102.4,186.2 105.2,183.8 107.9,184.8 110.7,185.4 113.4,187 116.2,187.9 118.9,187.9 121.7,187.9 124.4,187.5 127.2,188.2 130,189.9 132.7,189.4 135.5,188.8 138.2,192.6 141,190.9 143.7,190.9 146.5,189.7 149.2,189.9 152,189.9" fill="none" stroke="#7d7d7d" stroke-width="0.65" stroke-linejoin="round" />
<path d="M33.5,191.4 36.3,185.6 39,188.4 41.8,189.6 44.5,188.8 47.3,187.6 50,187.3 52.8,188.3 55.5,187 58.3,186.2 61.1,190.8 63.8,188.9 66.6,189.3 69.3,187 72.1,184.2 74.8,185.6 77.6,188.9 80.3,187.6 83.1,185.4 85.9,188.4 88.6,187.7 91.4,186.8 94.1,190.5 96.9,185.4 99.6,186 102.4,185.5 105.2,188.5 107.9,188.5 110.7,188.8 113.4,187.9 116.2,188.7 118.9,188.8 121.7,185.7 124.4,186.3 127.2,189.8 130,189.6 132.7,185.3 135.5,189.5 138.2,186.9 141,187 143.7,191.2 146.5,190.6 149.2,189.5 152,190.6" fill="none" stroke="#7d7d7d" stroke-width="0.65" stroke-linejoin="round" />
<path d="M33.5,190.7 36.3,193.9 39,191.1 41.8,190.6 44.5,194.3 47.3,189.2 50,191.6 52.8,191 55.5,193.1 58.3,190.8 61.1,189.5 63.8,189.6 66.6,187.6 69.3,190.4 72.1,182.8 74.8,186.4 77.6,187.6 80.3,184.7 83.1,184 85.9,181 88.6,183.5 91.4,181.2 94.1,183.6 96.9,178 99.6,181.4 102.4,179.1 105.2,184.8 107.9,181.8 110.7,184.8 113.4,181.7 116.2,181.2 118.9,185.2 121.7,184.1 124.4,184.1 127.2,184.9 130,183.6 132.7,184.2 135.5,185.2 138.2,182.4 141,181.5 143.7,184.9 146.5,183.4 149.2,182.3 152,182.8" fill="none" stroke="#7d7d7d" stroke-width="0.65" stroke-linejoin="round" />
<path d="M33.5,195.3 36.3,193.3 39,191.9 41.8,191.4 44.5,190.6 47.3,193.2 50,189.9 52.8,190.8 55.5,191 58.3,189.9 61.1,186 63.8,184 66.6,188.1 69.3,182.1 72.1,182.7 74.8,186.3 77.6,186.4 80.3,185.4 83.1,182.9 85.9,184.7 88.6,185.4 91.4,182.3 94.1,186.6 96.9,182.5 99.6,180.6 102.4,182.1 105.2,181 107.9,181.2 110.7,180.5 113.4,181.5 116.2,183.6 118.9,183 121.7,183.5 124.4,181.7 127.2,181.5 130,183.8 132.7,185.7 135.5,185.3 138.2,184.1 141,181.3 143.7,183.8 146.5,185.3 149.2,187.3 152,184.5" fill="none" stroke="#7d7d7d" stroke-width="0.65" stroke-linejoin="round" />
<path d="M33.5,191.7 36.3,197.7 39,194.2 41.8,194.5 44.5,197.3 47.3,191.8 50,192 52.8,192.3 55.5,192.1 58.3,184.4 61.1,191 63.8,193.6 66.6,191.8 69.3,190.4 72.1,189.8 74.8,188.3 77.6,189.1 80.3,185.1 83.1,186.2 85.9,187.3 88.6,185.9 91.4,184.9 94.1,182.6 96.9,183.1 99.6,184.4 102.4,183.3 105.2,182.3 107.9,178.2 110.7,182.6 113.4,180 116.2,179.2 118.9,182 121.7,179.7 124.4,179.7 127.2,180.9 130,179.1 132.7,178.4 135.5,178.4 138.2,181.1 141,180.6 143.7,176.6 146.5,183.1 149.2,180.7 152,179.8" fill="none" stroke="#7d7d7d" stroke-width="0.65" stroke-linejoin="round" />
<path d="M33.5,191.7 36.3,192.4 39,189.6 41.8,191 44.5,188.1 47.3,187.6 50,192.4 52.8,190.6 55.5,190.1 58.3,191.6 61.1,191.4 63.8,189 66.6,189.2 69.3,191.4 72.1,188.5 74.8,185.5 77.6,187.7 80.3,186.4 83.1,181.3 85.9,181.8 88.6,187.6 91.4,187.6 94.1,184.8 96.9,187.9 99.6,186.1 102.4,186.1 105.2,183.8 107.9,189.3 110.7,188.7 113.4,187.1 116.2,183.3 118.9,185.9 121.7,189 124.4,185 127.2,184.5 130,186.2 132.7,186.4 135.5,185.3 138.2,184.3 141,187 143.7,187 146.5,188.6 149.2,189.5 152,190.4" fill="none" stroke="#7d7d7d" stroke-width="0.65" stroke-linejoin="round" />
<path d="M33.5,190.2 36.3,187.9 39,192.5 41.8,192.5 44.5,194.2 47.3,189.6 50,187.7 52.8,189.3 55.5,186.7 58.3,189.4 61.1,187.5 63.8,190.7 66.6,194.1 69.3,193.8 72.1,195.4 74.8,195.3 77.6,190.8 80.3,188.8 83.1,185.9 85.9,188.9 88.6,188.5 91.4,189.6 94.1,185.2 96.9,186.1 99.6,187.9 102.4,185.7 105.2,186.3 107.9,191.3 110.7,187 113.4,188.6 116.2,189.8 118.9,189.8 121.7,185.5 124.4,185.6 127.2,184.8 130,190.3 132.7,189.5 135.5,187 138.2,191.4 141,190.9 143.7,193.1 146.5,186.3 149.2,187.8 152,189.1" fill="none" stroke="#7d7d7d" stroke-width="0.65" stroke-linejoin="round" />
<path d="M33.5,200.3 36.3,198.3 39,198.5 41.8,197.1 44.5,194.1 47.3,196.3 50,193.5 52.8,192.9 55.5,196.9 58.3,195.4 61.1,193.3 63.8,192.9 66.6,190.3 69.3,193.6 72.1,187.7 74.8,186.9 77.6,187.9 80.3,189.6 83.1,186.7 85.9,187.5 88.6,185.4 91.4,186.7 94.1,185.3 96.9,187.6 99.6,184.1 102.4,190.9 105.2,188.2 107.9,185.1 110.7,188.8 113.4,184.8 116.2,189 118.9,187.3 121.7,189.9 124.4,189.6 127.2,188.6 130,188.9 132.7,188.9 135.5,183.6 138.2,187.3 141,189.1 143.7,185.9 146.5,186.8 149.2,186.8 152,186.3" fill="none" stroke="#7d7d7d" stroke-width="0.65" stroke-linejoin="round" />
<path d="M33.5,187.5 36.3,188.5 39,187.7 41.8,181.6 44.5,187.9 47.3,189.9 50,188.5 52.8,190.6 55.5,191.3 58.3,191.1 61.1,189.1 63.8,189.5 66.6,191.5 69.3,189 72.1,187.7 74.8,189.4 77.6,186.4 80.3,186.8 83.1,189.5 85.9,186.1 88.6,181.8 91.4,181.5 94.1,183.8 96.9,181.5 99.6,184.2 102.4,185.4 105.2,181.2 107.9,180.9 110.7,179.3 113.4,179.1 116.2,177.4 118.9,178.3 121.7,176.3 124.4,175.9 127.2,178.1 130,177.1 132.7,182.5 135.5,181.2 138.2,177.6 141,177.7 143.7,181.3 146.5,182.8 149.2,185.6 152,182.9" fill="none" stroke="#7d7d7d" stroke-width="0.65" stroke-linejoin="round" />
<path d="M33.5,192.6 36.3,194.2 39,192.9 41.8,191.1 44.5,191.9 47.3,186.2 50,191.3 52.8,190.1 55.5,189 58.3,188.1 61.1,186.3 63.8,185.9 66.6,187.6 69.3,187.4 72.1,186.4 74.8,184.7 77.6,184.8 80.3,186.8 83.1,189.4 85.9,181.2 88.6,183.1 91.4,184.2 94.1,184 96.9,185.7 99.6,186.9 102.4,185.9 105.2,185.8 107.9,186.6 110.7,187.9 113.4,185.4 116.2,183.2 118.9,184.7 121.7,183.3 124.4,186.9 127.2,183.3 130,183 132.7,185 135.5,185.6 138.2,181.2 141,182.9 143.7,180 146.5,181.3 149.2,179.3 152,181.3" fill="none" stroke="#7d7d7d" stroke-width="0.65" stroke-linejoin="round" />
<path d="M33.5,200.3 36.3,195.9 39,199.2 41.8,195.3 44.5,195 47.3,192.4 50,190.6 52.8,192.1 55.5,192.9 58.3,193.2 61.1,191.6 63.8,189.3 66.6,192.5 69.3,187.8 72.1,187.3 74.8,185.6 77.6,187.1 80.3,186.1 83.1,187.5 85.9,187 88.6,189.5 91.4,185.9 94.1,183.1 96.9,185.5 99.6,184.9 102.4,187.1 105.2,182.2 107.9,186.1 110.7,182.9 113.4,184.1 116.2,186 118.9,182.2 121.7,184.1 124.4,183.8 127.2,183.4 130,184.6 132.7,185.6 135.5,184.5 138.2,186.6 141,186.1 143.7,187.8 146.5,189.5 149.2,188 152,187.7" fill="none" stroke="#7d7d7d" stroke-width="0.65" stroke-linejoin="round" />
<path d="M33.5,201.7 36.3,198.2 39,199.8 41.8,201.9 44.5,201 47.3,197.3 50,199.2 52.8,198 55.5,196.6 58.3,197.4 61.1,200.2 63.8,195.8 66.6,194.6 69.3,193.8 72.1,191.3 74.8,192.4 77.6,190.5 80.3,187.9 83.1,190.5 85.9,185.9 88.6,185.2 91.4,186.5 94.1,184.1 96.9,185.7 99.6,188.8 102.4,185.2 105.2,187 107.9,187.2 110.7,188.1 113.4,186.2 116.2,188.1 118.9,190.6 121.7,188.5 124.4,188.1 127.2,191 130,190.6 132.7,190.9 135.5,191.8 138.2,190.6 141,190 143.7,188.9 146.5,190.7 149.2,191.3 152,191.2" fill="none" stroke="#7d7d7d" stroke-width="0.65" stroke-linejoin="round" />
<path d="M33.5,192.4 36.3,188.3 39,188 41.8,189.8 44.5,187.2 47.3,190.3 50,192.2 52.8,189 55.5,189.7 58.3,190.4 61.1,189.7 63.8,182.6 66.6,187.8 69.3,186.9 72.1,188 74.8,186.2 77.6,186.3 80.3,185.9 83.1,186.6 85.9,186.3 88.6,184.7 91.4,182.8 94.1,179.8 96.9,182.2 99.6,181.2 102.4,183.8 105.2,184.8 107.9,186.6 110.7,183.5 113.4,186.9 116.2,183 118.9,179.2 121.7,181.7 124.4,180.6 127.2,183.8 130,186 132.7,184.6 135.5,184.4 138.2,181.1 141,179.3 143.7,184.1 146.5,183.2 149.2,182.9 152,183.6" fill="none" stroke="#7d7d7d" stroke-width="0.65" stroke-linejoin="round" />
<path d="M33.5,190.9 36.3,191.9 39,191 41.8,189.5 44.5,195.6 47.3,191.8 50,191.9 52.8,191.1 55.5,193.6 58.3,187.9 61.1,190.4 63.8,188.9 66.6,189.1 69.3,191 72.1,188.2 74.8,190.1 77.6,187.5 80.3,185.5 83.1,184.4 85.9,184 88.6,184.5 91.4,180.7 94.1,184.4 96.9,187.9 99.6,186.9 102.4,186.7 105.2,185.3 107.9,185.5 110.7,185.6 113.4,180.8 116.2,184 118.9,185.2 121.7,185.7 124.4,186.3 127.2,183.7 130,185.6 132.7,184.4 135.5,192.1 138.2,185.4 141,183.7 143.7,181.7 146.5,185.1 149.2,188.3 152,184" fill="none" stroke="#7d7d7d" stroke-width="0.65" stroke-linejoin="round" />
<path d="M33.5,189.8 36.3,192.4 39,193.5 41.8,195 44.5,197.1 47.3,195.4 50,193.9 52.8,193.9 55.5,192.4 58.3,190.2 61.1,189.8 63.8,189.2 66.6,187.9 69.3,188.4 72.1,188.6 74.8,187.5 77.6,191.3 80.3,185.3 83.1,189.3 85.9,184.6 88.6,185.3 91.4,182.6 94.1,184.2 96.9,186 99.6,182.4 102.4,184.5 105.2,185 107.9,185.5 110.7,184 113.4,184.5 116.2,185.7 118.9,189.2 121.7,187.5 124.4,187.2 127.2,184.9 130,188.5 132.7,190.3 135.5,188.5 138.2,191.3 141,191.2 143.7,190.6 146.5,193.4 149.2,188.6 152,189.4" fill="none" stroke="#7d7d7d" stroke-width="0.65" stroke-linejoin="round" />
<path d="M33.5,196.3 36.3,191.3 39,189.1 41.8,187.1 44.5,189.6 47.3,183.3 50,185.1 52.8,186.8 55.5,185.5 58.3,186.5 61.1,187.2 63.8,184.6 66.6,186 69.3,187.4 72.1,185.7 74.8,184.7 77.6,186.7 80.3,182.8 83.1,187.5 85.9,182.5 88.6,184.1 91.4,187.3 94.1,185.1 96.9,182.9 99.6,185.3 102.4,187.1 105.2,184.7 107.9,181.2 110.7,187.6 113.4,183.5 116.2,184.3 118.9,184.2 121.7,184.5 124.4,184.3 127.2,181.8 130,183.7 132.7,188.9 135.5,186.9 138.2,195.4 141,195.1 143.7,199.6 146.5,201.6 149.2,207.2 152,210.2" fill="none" stroke="#7d7d7d" stroke-width="0.65" stroke-linejoin="round" />
<path d="M33.5,184.2 36.3,185.5 39,186.4 41.8,189.3 44.5,185.1 47.3,184.9 50,187.2 52.8,184.7 55.5,183.4 58.3,185.2 61.1,183 63.8,184 66.6,187.5 69.3,184.7 72.1,184.1 74.8,181.8 77.6,183.7 80.3,182.3 83.1,182.8 85.9,180.7 88.6,180.2 91.4,178.4 94.1,178.5 96.9,179.4 99.6,178.8 102.4,178.5 105.2,178 107.9,174.8 110.7,182.1 113.4,177.7 116.2,176.9 118.9,175.5 121.7,179.8 124.4,177.3 127.2,176.4 130,179 132.7,181.9 135.5,179.2 138.2,180.9 141,177.3 143.7,179.7 146.5,174.2 149.2,176.5 152,177.5" fill="none" stroke="#7d7d7d" stroke-width="0.65" stroke-linejoin="round" />
<path d="M33.5,188.9 36.3,184.1 39,187.9 41.8,188.9 44.5,186.4 47.3,187 50,191.6 52.8,187.4 55.5,190 58.3,188.4 61.1,184.7 63.8,186.9 66.6,183.8 69.3,184.5 72.1,179.6 74.8,183.1 77.6,184.9 80.3,184.9 83.1,184.7 85.9,183.1 88.6,183.7 91.4,182.3 94.1,184.1 96.9,184.3 99.6,183.9 102.4,184.5 105.2,183.4 107.9,182.2 110.7,182 113.4,184.4 116.2,186.8 118.9,185.3 121.7,183.6 124.4,189.1 127.2,185.7 130,184.8 132.7,188.4 135.5,191.3 138.2,188.1 141,191.1 143.7,196.6 146.5,196.2 149.2,198.9 152,206.2" fill="none" stroke="#7d7d7d" stroke-width="0.65" stroke-linejoin="round" />
<path d="M33.5,197.7 36.3,196.3 39,195.5 41.8,195.2 44.5,196.1 47.3,194.3 50,196.5 52.8,198.9 55.5,193.4 58.3,196.1 61.1,194.5 63.8,194.7 66.6,191 69.3,194 72.1,190.9 74.8,192 77.6,193 80.3,193.3 83.1,189 85.9,188.6 88.6,187.2 91.4,184.7 94.1,187.2 96.9,187.1 99.6,187.9 102.4,187.6 105.2,188.6 107.9,189.7 110.7,184.2 113.4,191.2 116.2,187 118.9,186.6 121.7,187.3 124.4,189.7 127.2,188.9 130,190 132.7,191.6 135.5,189.9 138.2,190.7 141,190.9 143.7,188.5 146.5,191.8 149.2,189.3 152,191.5" fill="none" stroke="#7d7d7d" stroke-width="0.65" stroke-linejoin="round" />
<path d="M33.5,192.8 36.3,194.5 39,189.4 41.8,194.9 44.5,194.5 47.3,192.3 50,193.6 52.8,189.3 55.5,194.5 58.3,192.1 61.1,189.4 63.8,187.9 66.6,186.3 69.3,187 72.1,183.1 74.8,187.8 77.6,186.3 80.3,184.6 83.1,186.2 85.9,185.4 88.6,184.9 91.4,184.4 94.1,184.7 96.9,183.3 99.6,184.9 102.4,181.4 105.2,185.2 107.9,178.5 110.7,179.4 113.4,180.7 116.2,183.4 118.9,184.4 121.7,181.3 124.4,183.6 127.2,183.1 130,185.5 132.7,182.1 135.5,185.3 138.2,183.3 141,186.4 143.7,184.3 146.5,182.4 149.2,184.8 152,185.6" fill="none" stroke="#7d7d7d" stroke-width="0.65" stroke-linejoin="round" />
<path d="M33.5,184.7 36.3,191 39,184.7 41.8,189.5 44.5,185.3 47.3,188.2 50,190.6 52.8,188.2 55.5,188.3 58.3,188.6 61.1,188.5 63.8,192.8 66.6,190.4 69.3,189.8 72.1,191 74.8,191.3 77.6,190.4 80.3,186.4 83.1,185.8 85.9,188.7 88.6,189.7 91.4,185.1 94.1,190.3 96.9,187 99.6,188.5 102.4,189.8 105.2,186 107.9,186.3 110.7,183.2 113.4,181.9 116.2,186.7 118.9,184.7 121.7,184.7 124.4,187.5 127.2,188 130,183.2 132.7,186.8 135.5,186.3 138.2,187.1 141,187.1 143.7,188.2 146.5,185.6 149.2,184.1 152,186.1" fill="none" stroke="#7d7d7d" stroke-width="0.65" stroke-linejoin="round" />
<path d="M33.5,198.4 36.3,198.5 39,195 41.8,196.4 44.5,193 47.3,193.8 50,190.5 52.8,192.3 55.5,191.9 58.3,193.6 61.1,191.5 63.8,188.1 66.6,184.1 69.3,192.6 72.1,192.9 74.8,191 77.6,191.1 80.3,193.3 83.1,191.7 85.9,194.4 88.6,191.5 91.4,188.9 94.1,187.3 96.9,190.5 99.6,190.6 102.4,189.2 105.2,187.9 107.9,188.9 110.7,191.1 113.4,189.1 116.2,188.1 118.9,191.5 121.7,192.9 124.4,189.7 127.2,190.2 130,189.8 132.7,193.1 135.5,196.5 138.2,198.5 141,202.3 143.7,204.9 146.5,207.1 149.2,209.7 152,209.4" fill="none" stroke="#7d7d7d" stroke-width="0.65" stroke-linejoin="round" />
<path d="M33.5,190.3 36.3,188.8 39,186.9 41.8,190.6 44.5,189.3 47.3,190.3 50,185.7 52.8,187.1 55.5,188.3 58.3,190.4 61.1,187.7 63.8,185.4 66.6,187.6 69.3,187.6 72.1,185.1 74.8,188 77.6,184.9 80.3,183.3 83.1,185.3 85.9,184.9 88.6,182.6 91.4,183 94.1,183.1 96.9,182.1 99.6,181.8 102.4,183.7 105.2,183 107.9,180.7 110.7,179.4 113.4,178.9 116.2,182.9 118.9,179.2 121.7,179.8 124.4,181.1 127.2,180.1 130,179.4 132.7,177.7 135.5,183 138.2,180 141,181.3 143.7,181.4 146.5,178.9 149.2,179.5 152,183.1" fill="none" stroke="#7d7d7d" stroke-width="0.65" stroke-linejoin="round" />
<path d="M33.5,197.9 36.3,202.1 39,201.1 41.8,201.4 44.5,196.1 47.3,200 50,195.4 52.8,193.4 55.5,195.5 58.3,193.2 61.1,197.9 63.8,194 66.6,195.8 69.3,192 72.1,191.9 74.8,193.1 77.6,189.8 80.3,190.8 83.1,192.2 85.9,191.9 88.6,193.3 91.4,190.4 94.1,185.6 96.9,190.4 99.6,188 102.4,189.7 105.2,187.2 107.9,187.9 110.7,189.2 113.4,192 116.2,189.5 118.9,186.1 121.7,188.5 124.4,186.5 127.2,188.3 130,190.7 132.7,186.4 135.5,186.5 138.2,188.1 141,187.7 143.7,186.4 146.5,188.2 149.2,186.8 152,188.3" fill="none" stroke="#7d7d7d" stroke-width="0.65" stroke-linejoin="round" />
<path d="M33.5,196.8 36.3,192.9 39,194.4 41.8,188.8 44.5,188 47.3,187.2 50,188.4 52.8,190.6 55.5,187.9 58.3,190.1 61.1,188.8 63.8,191.8 66.6,191.4 69.3,189.4 72.1,186.8 74.8,189.7 77.6,185 80.3,183.4 83.1,190.3 85.9,187.4 88.6,188.7 91.4,187 94.1,187.5 96.9,186.5 99.6,184.4 102.4,184.1 105.2,184.9 107.9,185 110.7,184.6 113.4,184.6 116.2,184.2 118.9,186 121.7,186.1 124.4,190.5 127.2,187.6 130,186.5 132.7,189.8 135.5,192.8 138.2,187.5 141,190.5 143.7,195.2 146.5,190.1 149.2,188.8 152,189.4" fill="none" stroke="#7d7d7d" stroke-width="0.65" stroke-linejoin="round" />
<path d="M33.5,187.1 36.3,186.5 39,188.5 41.8,187.4 44.5,191.6 47.3,189.1 50,190.3 52.8,192.2 55.5,189.8 58.3,189.8 61.1,188.9 63.8,186.9 66.6,184.4 69.3,186.5 72.1,185.4 74.8,188.2 77.6,185.3 80.3,183.5 83.1,184.3 85.9,185.1 88.6,187.2 91.4,188.3 94.1,186.9 96.9,189.3 99.6,189.2 102.4,185.3 105.2,188.9 107.9,184 110.7,190.2 113.4,187.1 116.2,190.4 118.9,188.3 121.7,190.8 124.4,189 127.2,189.6 130,190.4 132.7,188.8 135.5,187.2 138.2,191.3 141,188.7 143.7,190.4 146.5,190.7 149.2,186.7 152,194.9" fill="none" stroke="#7d7d7d" stroke-width="0.65" stroke-linejoin="round" />
<path d="M33.5,195.3 36.3,193.8 39,194.8 41.8,194.6 44.5,197.3 47.3,196.2 50,193.2 52.8,196.3 55.5,192.4 58.3,193.7 61.1,193.4 63.8,190 66.6,191.6 69.3,191 72.1,189.6 74.8,187.1 77.6,181.2 80.3,189.6 83.1,185.3 85.9,185.5 88.6,183.3 91.4,185.9 94.1,189.9 96.9,183 99.6,187.5 102.4,185.5 105.2,188 107.9,187.5 110.7,186.6 113.4,184.3 116.2,184.7 118.9,187.7 121.7,185.9 124.4,187.7 127.2,186.9 130,186.8 132.7,185.8 135.5,188.1 138.2,187.2 141,186.8 143.7,187.4 146.5,189.6 149.2,185.6 152,190.2" fill="none" stroke="#7d7d7d" stroke-width="0.65" stroke-linejoin="round" />
<path d="M33.5,189.8 36.3,185.1 39,184.7 41.8,186.7 44.5,184.7 47.3,184.2 50,185.3 52.8,185.1 55.5,185 58.3,184 61.1,185.8 63.8,183.3 66.6,185.9 69.3,182.8 72.1,182.9 74.8,184.3 77.6,180.5 80.3,178.3 83.1,179.3 85.9,184.3 88.6,179.5 91.4,181.6 94.1,182.3 96.9,183.5 99.6,182.7 102.4,180.4 105.2,182.3 107.9,184.4 110.7,185.2 113.4,185 116.2,183.3 118.9,180.9 121.7,186.3 124.4,184.3 127.2,185.2 130,186.2 132.7,184.7 135.5,185.2 138.2,189.7 141,189.7 143.7,186.1 146.5,188 149.2,187.8 152,189.7" fill="none" stroke="#7d7d7d" stroke-width="0.65" stroke-linejoin="round" />
<path d="M33.5,200 36.3,197.2 39,195.8 41.8,200.1 44.5,195.9 47.3,196.1 50,195.1 52.8,193.8 55.5,195.2 58.3,194.6 61.1,191.1 63.8,190.3 66.6,192.3 69.3,193.3 72.1,185.7 74.8,187.5 77.6,188.5 80.3,190.8 83.1,189.7 85.9,187.9 88.6,189.8 91.4,184.8 94.1,187.3 96.9,186.7 99.6,189.2 102.4,188.9 105.2,188.5 107.9,186.2 110.7,186.8 113.4,186.4 116.2,184.9 118.9,184.8 121.7,182.4 124.4,185.5 127.2,187.2 130,185.5 132.7,182.7 135.5,186.3 138.2,184.8 141,185.2 143.7,183.5 146.5,183.6 149.2,185.6 152,184.6" fill="none" stroke="#7d7d7d" stroke-width="0.65" stroke-linejoin="round" />
<path d="M33.5,192.5 36.3,192 39,194.1 41.8,191.8 44.5,190.8 47.3,190.2 50,190.4 52.8,188.9 55.5,186.2 58.3,189.1 61.1,188.8 63.8,188.7 66.6,182.8 69.3,184.1 72.1,185.8 74.8,185.5 77.6,188.2 80.3,187.4 83.1,186.7 85.9,186.8 88.6,188.2 91.4,187.6 94.1,184.7 96.9,184.7 99.6,188.8 102.4,184.5 105.2,182.2 107.9,185.5 110.7,183.6 113.4,186.5 116.2,182.2 118.9,185.7 121.7,186 124.4,184.5 127.2,179.8 130,185.4 132.7,186.7 135.5,183.5 138.2,183.6 141,180.5 143.7,185.3 146.5,185.2 149.2,182.3 152,180.6" fill="none" stroke="#7d7d7d" stroke-width="0.65" stroke-linejoin="round" />
<path d="M33.5,166.1 36.3,173 39,173.3 41.8,173.2 44.5,172.2 47.3,173.1 50,175.1 52.8,176.3 55.5,172.6 58.3,173 61.1,170.1 63.8,176.3 66.6,173.2 69.3,178.7 72.1,177.3 74.8,177.5 77.6,177.2 80.3,178.4 83.1,178.3 85.9,177.8 88.6,178.9 91.4,176.7 94.1,178.2 96.9,178.2 99.6,175.7 102.4,179 105.2,180.7 107.9,182.8 110.7,184.5 113.4,185.1 116.2,189 118.9,186.1 121.7,186.2 124.4,187.7 127.2,191.4 130,193.8 132.7,191.7 135.5,190.5 138.2,188.9 141,190.5 143.7,190.3 146.5,186.4 149.2,190.4 152,186.8" fill="none" stroke="#7d7d7d" stroke-width="0.65" stroke-linejoin="round" />
<path d="M33.5,178.4 36.3,181.6 39,177.1 41.8,177.8 44.5,178 47.3,179.9 50,180.2 52.8,177.6 55.5,180.4 58.3,180.2 61.1,183.2 63.8,181.4 66.6,180.8 69.3,182.7 72.1,182.7 74.8,179.1 77.6,180.8 80.3,184.2 83.1,183.8 85.9,183.1 88.6,180.9 91.4,185.5 94.1,181.2 96.9,176 99.6,177.6 102.4,172.4 105.2,177.9 107.9,168.3 110.7,170 113.4,173.2 116.2,168.2 118.9,168.6 121.7,169.9 124.4,172 127.2,176.5 130,180 132.7,181.4 135.5,182.3 138.2,183 141,186 143.7,186.1 146.5,185.4 149.2,187 152,183.5" fill="none" stroke="#7d7d7d" stroke-width="0.65" stroke-linejoin="round" />
<path d="M33.5,189.1 36.3,191.8 39,190.6 41.8,190.6 44.5,189.7 47.3,187.1 50,187.8 52.8,187 55.5,185.4 58.3,183.5 61.1,184.1 63.8,183.8 66.6,182.5 69.3,182.9 72.1,182.5 74.8,181.3 77.6,182 80.3,179.2 83.1,178.1 85.9,174.4 88.6,172.4 91.4,172.5 94.1,168.7 96.9,170.1 99.6,167 102.4,167.2 105.2,167.7 107.9,167.5 110.7,166.5 113.4,166.3 116.2,167.6 118.9,167.4 121.7,170.6 124.4,170.7 127.2,172.2 130,175.6 132.7,175 135.5,177.6 138.2,179.4 141,177.7 143.7,177.3 146.5,175.9 149.2,176.9 152,174.6" fill="none" stroke="#7d7d7d" stroke-width="0.65" stroke-linejoin="round" />
<path d="M33.5,187 36.3,188.5 39,189 41.8,192.3 44.5,195.7 47.3,195 50,196.2 52.8,199.3 55.5,201.4 58.3,204.6 61.1,200.2 63.8,200.3 66.6,202.7 69.3,198.8 72.1,196.5 74.8,197.6 77.6,195.6 80.3,195.5 83.1,199.9 85.9,197.4 88.6,195.4 91.4,193.9 94.1,192.3 96.9,198.3 99.6,194.5 102.4,193.2 105.2,192.8 107.9,192.8 110.7,199.1 113.4,199.1 116.2,201.4 118.9,198.3 121.7,202.7 124.4,197.4 127.2,197.2 130,197 132.7,201 135.5,196.9 138.2,193.1 141,196.7 143.7,194.2 146.5,194.1 149.2,192.5 152,194.1" fill="none" stroke="#7d7d7d" stroke-width="0.65" stroke-linejoin="round" />
<path d="M33.5,185.5 36.3,186.8 39,186.7 41.8,187 44.5,185.6 47.3,186.2 50,183.7 52.8,186.1 55.5,181 58.3,181.7 61.1,179.3 63.8,180.3 66.6,179 69.3,177.6 72.1,179.3 74.8,176.8 77.6,174.8 80.3,172.3 83.1,173 85.9,170.1 88.6,170.3 91.4,172 94.1,173.1 96.9,177.8 99.6,176.9 102.4,181 105.2,181.8 107.9,187.4 110.7,189.2 113.4,188.1 116.2,190.9 118.9,188.3 121.7,189.3 124.4,188.8 127.2,188.6 130,189.9 132.7,188.8 135.5,191.8 138.2,195.5 141,193.3 143.7,196.8 146.5,194.9 149.2,196.4 152,195.5" fill="none" stroke="#7d7d7d" stroke-width="0.65" stroke-linejoin="round" />
<path d="M33.5,177.4 36.3,182 39,182.9 41.8,183.3 44.5,183.2 47.3,179.6 50,184.5 52.8,184.2 55.5,180.3 58.3,184.5 61.1,182.5 63.8,180 66.6,182.8 69.3,184.3 72.1,184.9 74.8,185.2 77.6,184.1 80.3,181.9 83.1,178.9 85.9,178.9 88.6,181.8 91.4,182.5 94.1,180.4 96.9,186.4 99.6,184.3 102.4,184.2 105.2,185.3 107.9,183.7 110.7,179.5 113.4,182 116.2,179.2 118.9,178.3 121.7,177.1 124.4,180.6 127.2,176.8 130,180.3 132.7,180.5 135.5,180.5 138.2,180.4 141,180.1 143.7,174.9 146.5,175.9 149.2,175.8 152,173" fill="none" stroke="#7d7d7d" stroke-width="0.65" stroke-linejoin="round" />
<path d="M32.3,203 C32.8,202.6 33.9,200.2 35.4,200.5 C36.9,200.8 38.4,203.5 41,204.8 C43.6,206.1 48.2,208.5 50.9,208.3 C53.6,208.1 54.9,204.5 57,203.6 C59.1,202.7 60.8,204.8 63.3,203 C65.8,201.2 69.7,194.4 72,193 C74.3,191.6 74.7,194.9 76.9,194.6 C79.1,194.3 81.7,193.1 85,191.2 C88.3,189.3 93,183.9 96.8,183.1 C100.6,182.3 105,185.7 108,186.5 C111,187.3 112.8,187.5 115,188 C117.2,188.5 118.3,189.9 121,189.3 C123.7,188.7 128.4,184.9 130.9,184.3 C133.4,183.8 134.2,184.8 136,186 C137.8,187.2 139.8,191.3 141.5,191.8 C143.2,192.3 144.3,189.2 146,189 C147.7,188.8 150.5,190.6 151.4,190.9" fill="none" stroke="#2cb3bf" stroke-width="1.1" stroke-linejoin="round" />
<line x1="27.5" y1="143" x2="27.5" y2="219.5" stroke="#8a8a8a" stroke-width="1" />
<line x1="24.7" y1="148.6" x2="27.5" y2="148.6" stroke="#555555" stroke-width="0.7" />
<text x="21" y="151.43" font-size="7.9" text-anchor="end" fill="#231f20">5</text>
<line x1="24.7" y1="181.9" x2="27.5" y2="181.9" stroke="#555555" stroke-width="0.7" />
<text x="21" y="184.73" font-size="7.9" text-anchor="end" fill="#231f20">0</text>
<line x1="24.7" y1="215.5" x2="27.5" y2="215.5" stroke="#555555" stroke-width="0.7" />
<text x="21" y="218.33" font-size="7.9" text-anchor="end" fill="#231f20">−5</text>
<line x1="27.5" y1="219.5" x2="161.7" y2="219.5" stroke="#8a8a8a" stroke-width="1" />
<line x1="33.5" y1="219.5" x2="33.5" y2="222.3" stroke="#555555" stroke-width="0.7" />
<text x="33.5" y="232.1" font-size="7.8" text-anchor="middle" fill="#231f20">−2.0</text>
<line x1="64.3" y1="219.5" x2="64.3" y2="222.3" stroke="#555555" stroke-width="0.7" />
<text x="64.3" y="232.1" font-size="7.8" text-anchor="middle" fill="#231f20">−1.5</text>
<line x1="94.3" y1="219.5" x2="94.3" y2="222.3" stroke="#555555" stroke-width="0.7" />
<text x="94.3" y="232.1" font-size="7.8" text-anchor="middle" fill="#231f20">−1.0</text>
<line x1="125" y1="219.5" x2="125" y2="222.3" stroke="#555555" stroke-width="0.7" />
<text x="125" y="232.1" font-size="7.8" text-anchor="middle" fill="#231f20">−0.5</text>
<line x1="155.5" y1="219.5" x2="155.5" y2="222.3" stroke="#555555" stroke-width="0.7" />
<text x="155.5" y="232.1" font-size="7.8" text-anchor="middle" fill="#231f20">0</text>
<text x="94.5" y="246.1" font-size="8.0" text-anchor="middle" fill="#231f20">Time to reward (s)</text>
<text x="7" y="181" font-size="8.0" text-anchor="middle" fill="#231f20" transform="rotate(-90 7 181)"><tspan font-style="italic">z</tspan>-scored HGA</text>
<line x1="32" y1="148.9" x2="43.7" y2="148.9" stroke="#2cb3bf" stroke-width="1.4" />
<line x1="32" y1="157.9" x2="43.7" y2="157.9" stroke="#7d7d7d" stroke-width="1.4" />
<text x="48" y="151.7" font-size="8.0" text-anchor="start" fill="#231f20">CE</text>
<text x="48" y="160.7" font-size="8.0" text-anchor="start" fill="#231f20">Non-CE</text>
<text x="-0.6" y="141.2" font-size="10.5" text-anchor="start" fill="#000" font-weight="bold">b</text>
<rect x="263" y="22.2" width="61.1" height="69.6" fill="#d2e3ef" />
<path d="M202.3,67.2 204.8,67.1 207.3,66.9 209.9,66.7 212.4,66.5 214.9,66.2 217.4,65.9 219.9,65.6 222.5,65.3 225,65 227.5,64.7 230,64.4 232.6,64.2 235.1,63.9 237.6,63.6 240.1,63.4 242.6,63.1 245.2,62.8 247.7,62.5 250.2,62.2 252.7,61.9 255.2,61.6 257.8,61.2 260.3,60.8 262.8,60.4 265.3,60.1 267.9,59.7 270.4,59.4 272.9,59 275.4,58.8 277.9,58.5 280.5,58.2 283,58 285.5,57.8 288,57.6 290.5,57.5 293.1,57.3 295.6,57.1 298.1,57 300.6,57 303.2,57.1 305.7,57.2 308.2,57.5 310.7,57.9 313.2,58.3 315.8,58.7 318.3,59.2 320.8,59.5" fill="none" stroke="#7d7d7d" stroke-width="0.55" stroke-linejoin="round" />
<path d="M202.3,69.7 204.8,69.7 207.3,69.7 209.9,69.6 212.4,69.5 214.9,69.3 217.4,69.1 219.9,68.9 222.5,68.8 225,68.6 227.5,68.4 230,68.3 232.6,68.2 235.1,68.2 237.6,68.2 240.1,68.3 242.6,68.3 245.2,68.4 247.7,68.4 250.2,68.4 252.7,68.3 255.2,68.1 257.8,67.9 260.3,67.7 262.8,67.3 265.3,67 267.9,66.7 270.4,66.4 272.9,66.1 275.4,65.8 277.9,65.6 280.5,65.3 283,65.1 285.5,64.8 288,64.5 290.5,64.2 293.1,63.7 295.6,63.2 298.1,62.7 300.6,62.4 303.2,62.1 305.7,62 308.2,62.1 310.7,62.4 313.2,62.9 315.8,63.5 318.3,64.2 320.8,65" fill="none" stroke="#7d7d7d" stroke-width="0.55" stroke-linejoin="round" />
<path d="M202.3,67.6 204.8,67.5 207.3,67.4 209.9,67.3 212.4,67.1 214.9,67 217.4,66.8 219.9,66.6 222.5,66.4 225,66.2 227.5,66 230,65.8 232.6,65.6 235.1,65.4 237.6,65.3 240.1,65.1 242.6,64.9 245.2,64.6 247.7,64.4 250.2,64.1 252.7,63.9 255.2,63.6 257.8,63.2 260.3,62.9 262.8,62.5 265.3,62.1 267.9,61.7 270.4,61.4 272.9,61 275.4,60.6 277.9,60.2 280.5,59.9 283,59.6 285.5,59.3 288,59.1 290.5,58.8 293.1,58.6 295.6,58.4 298.1,58.3 300.6,58.3 303.2,58.5 305.7,58.7 308.2,59 310.7,59.3 313.2,59.8 315.8,60.2 318.3,60.6 320.8,61" fill="none" stroke="#7d7d7d" stroke-width="0.55" stroke-linejoin="round" />
<path d="M202.3,70.6 204.8,70.6 207.3,70.6 209.9,70.5 212.4,70.5 214.9,70.4 217.4,70.3 219.9,70.3 222.5,70.2 225,70.2 227.5,70.2 230,70.2 232.6,70.3 235.1,70.3 237.6,70.5 240.1,70.6 242.6,70.7 245.2,70.8 247.7,70.9 250.2,71 252.7,71 255.2,71 257.8,70.9 260.3,70.8 262.8,70.6 265.3,70.4 267.9,70.1 270.4,69.7 272.9,69.4 275.4,68.9 277.9,68.5 280.5,68.1 283,67.6 285.5,67.2 288,66.8 290.5,66.5 293.1,66.1 295.6,65.8 298.1,65.6 300.6,65.5 303.2,65.5 305.7,65.5 308.2,65.6 310.7,65.7 313.2,65.9 315.8,65.9 318.3,66 320.8,66" fill="none" stroke="#7d7d7d" stroke-width="0.55" stroke-linejoin="round" />
<path d="M202.3,66.2 204.8,66.1 207.3,65.9 209.9,65.7 212.4,65.5 214.9,65.3 217.4,65 219.9,64.8 222.5,64.6 225,64.4 227.5,64.2 230,64 232.6,63.8 235.1,63.6 237.6,63.4 240.1,63.1 242.6,62.9 245.2,62.5 247.7,62.2 250.2,61.8 252.7,61.4 255.2,60.9 257.8,60.4 260.3,59.8 262.8,59.2 265.3,58.5 267.9,57.9 270.4,57.3 272.9,56.7 275.4,56.1 277.9,55.7 280.5,55.3 283,55 285.5,54.8 288,54.8 290.5,54.9 293.1,55 295.6,55.2 298.1,55.6 300.6,56 303.2,56.6 305.7,57.1 308.2,57.7 310.7,58.4 313.2,58.9 315.8,59.3 318.3,59.6 320.8,59.8" fill="none" stroke="#7d7d7d" stroke-width="0.55" stroke-linejoin="round" />
<path d="M202.3,67.6 204.8,67.5 207.3,67.4 209.9,67.2 212.4,67 214.9,66.8 217.4,66.6 219.9,66.3 222.5,66 225,65.8 227.5,65.5 230,65.2 232.6,64.9 235.1,64.7 237.6,64.4 240.1,64.2 242.6,63.9 245.2,63.6 247.7,63.4 250.2,63.1 252.7,62.8 255.2,62.5 257.8,62.2 260.3,61.9 262.8,61.5 265.3,61.2 267.9,60.8 270.4,60.4 272.9,60 275.4,59.5 277.9,59.1 280.5,58.6 283,58.1 285.5,57.7 288,57.3 290.5,57 293.1,56.7 295.6,56.5 298.1,56.4 300.6,56.5 303.2,56.8 305.7,57.3 308.2,57.8 310.7,58.5 313.2,59.1 315.8,59.8 318.3,60.4 320.8,60.9" fill="none" stroke="#7d7d7d" stroke-width="0.55" stroke-linejoin="round" />
<path d="M202.3,71.3 204.8,71.4 207.3,71.4 209.9,71.4 212.4,71.3 214.9,71.2 217.4,71 219.9,70.9 222.5,70.7 225,70.5 227.5,70.3 230,70.2 232.6,70 235.1,69.9 237.6,69.8 240.1,69.7 242.6,69.6 245.2,69.5 247.7,69.3 250.2,69.2 252.7,69 255.2,68.8 257.8,68.7 260.3,68.5 262.8,68.3 265.3,68.2 267.9,68.2 270.4,68.1 272.9,68.1 275.4,68 277.9,68 280.5,67.9 283,67.7 285.5,67.5 288,67.2 290.5,66.9 293.1,66.5 295.6,66 298.1,65.7 300.6,65.4 303.2,65.3 305.7,65.4 308.2,65.7 310.7,66.1 313.2,66.5 315.8,67 318.3,67.6 320.8,68" fill="none" stroke="#7d7d7d" stroke-width="0.55" stroke-linejoin="round" />
<path d="M202.3,68 204.8,67.9 207.3,67.8 209.9,67.7 212.4,67.6 214.9,67.4 217.4,67.3 219.9,67.2 222.5,67.1 225,66.9 227.5,66.8 230,66.7 232.6,66.6 235.1,66.5 237.6,66.3 240.1,66.2 242.6,66.1 245.2,65.9 247.7,65.8 250.2,65.6 252.7,65.4 255.2,65.3 257.8,65.1 260.3,64.9 262.8,64.7 265.3,64.6 267.9,64.4 270.4,64.1 272.9,63.9 275.4,63.6 277.9,63.3 280.5,62.9 283,62.5 285.5,62.1 288,61.6 290.5,61.2 293.1,60.8 295.6,60.4 298.1,60.2 300.6,60.1 303.2,60.2 305.7,60.5 308.2,61 310.7,61.6 313.2,62.2 315.8,62.9 318.3,63.6 320.8,64.2" fill="none" stroke="#7d7d7d" stroke-width="0.55" stroke-linejoin="round" />
<path d="M202.3,65.7 204.8,65.6 207.3,65.4 209.9,65.2 212.4,64.9 214.9,64.7 217.4,64.4 219.9,64.1 222.5,63.8 225,63.5 227.5,63.2 230,62.8 232.6,62.5 235.1,62.2 237.6,61.8 240.1,61.5 242.6,61.2 245.2,60.8 247.7,60.5 250.2,60.2 252.7,59.9 255.2,59.7 257.8,59.4 260.3,59.1 262.8,58.8 265.3,58.6 267.9,58.2 270.4,57.9 272.9,57.5 275.4,57 277.9,56.4 280.5,55.9 283,55.3 285.5,54.7 288,54.1 290.5,53.6 293.1,53.2 295.6,52.8 298.1,52.6 300.6,52.7 303.2,53 305.7,53.4 308.2,54 310.7,54.7 313.2,55.4 315.8,56.1 318.3,56.7 320.8,57.3" fill="none" stroke="#7d7d7d" stroke-width="0.55" stroke-linejoin="round" />
<path d="M202.3,68.6 204.8,68.5 207.3,68.4 209.9,68.2 212.4,68 214.9,67.8 217.4,67.5 219.9,67.3 222.5,67 225,66.8 227.5,66.6 230,66.4 232.6,66.2 235.1,65.9 237.6,65.7 240.1,65.5 242.6,65.2 245.2,64.9 247.7,64.5 250.2,64.2 252.7,63.8 255.2,63.5 257.8,63.1 260.3,62.8 262.8,62.4 265.3,62.1 267.9,61.8 270.4,61.6 272.9,61.3 275.4,61 277.9,60.7 280.5,60.4 283,60 285.5,59.7 288,59.3 290.5,59 293.1,58.6 295.6,58.3 298.1,58.2 300.6,58.2 303.2,58.3 305.7,58.7 308.2,59.1 310.7,59.7 313.2,60.2 315.8,60.8 318.3,61.4 320.8,61.8" fill="none" stroke="#7d7d7d" stroke-width="0.55" stroke-linejoin="round" />
<path d="M202.3,70.3 204.8,70.2 207.3,70.2 209.9,70.1 212.4,70.1 214.9,70 217.4,70 219.9,70 222.5,70 225,70 227.5,70 230,70 232.6,70 235.1,70 237.6,70 240.1,69.9 242.6,69.8 245.2,69.7 247.7,69.5 250.2,69.3 252.7,69.1 255.2,68.9 257.8,68.7 260.3,68.5 262.8,68.3 265.3,68.1 267.9,68 270.4,67.8 272.9,67.6 275.4,67.3 277.9,67.1 280.5,66.8 283,66.5 285.5,66.1 288,65.8 290.5,65.5 293.1,65.2 295.6,65 298.1,64.9 300.6,64.9 303.2,65.2 305.7,65.5 308.2,66 310.7,66.6 313.2,67.3 315.8,67.9 318.3,68.6 320.8,69.1" fill="none" stroke="#7d7d7d" stroke-width="0.55" stroke-linejoin="round" />
<path d="M202.3,68.7 204.8,68.5 207.3,68.2 209.9,67.9 212.4,67.7 214.9,67.4 217.4,67.2 219.9,67 222.5,66.9 225,66.8 227.5,66.8 230,66.8 232.6,66.8 235.1,66.7 237.6,66.6 240.1,66.5 242.6,66.3 245.2,66.1 247.7,65.7 250.2,65.3 252.7,64.9 255.2,64.4 257.8,63.8 260.3,63.3 262.8,62.8 265.3,62.3 267.9,61.8 270.4,61.4 272.9,61 275.4,60.7 277.9,60.4 280.5,60.1 283,59.9 285.5,59.7 288,59.5 290.5,59.3 293.1,59.2 295.6,59 298.1,59 300.6,59 303.2,59.2 305.7,59.4 308.2,59.8 310.7,60.2 313.2,60.6 315.8,61 318.3,61.5 320.8,61.8" fill="none" stroke="#7d7d7d" stroke-width="0.55" stroke-linejoin="round" />
<path d="M202.3,70.6 204.8,70.6 207.3,70.6 209.9,70.5 212.4,70.5 214.9,70.4 217.4,70.3 219.9,70.2 222.5,70.1 225,70 227.5,69.8 230,69.7 232.6,69.5 235.1,69.3 237.6,69.1 240.1,68.9 242.6,68.7 245.2,68.6 247.7,68.4 250.2,68.3 252.7,68.2 255.2,68 257.8,67.9 260.3,67.7 262.8,67.5 265.3,67.3 267.9,67 270.4,66.8 272.9,66.4 275.4,66.1 277.9,65.8 280.5,65.4 283,65.1 285.5,64.9 288,64.7 290.5,64.5 293.1,64.4 295.6,64.4 298.1,64.4 300.6,64.5 303.2,64.8 305.7,65.1 308.2,65.4 310.7,65.9 313.2,66.3 315.8,66.7 318.3,67.1 320.8,67.5" fill="none" stroke="#7d7d7d" stroke-width="0.55" stroke-linejoin="round" />
<path d="M202.3,72.4 204.8,72.4 207.3,72.3 209.9,72.2 212.4,72 214.9,71.9 217.4,71.8 219.9,71.7 222.5,71.5 225,71.4 227.5,71.3 230,71.1 232.6,71 235.1,70.8 237.6,70.6 240.1,70.4 242.6,70.2 245.2,70 247.7,69.9 250.2,69.7 252.7,69.5 255.2,69.3 257.8,69.1 260.3,69 262.8,68.9 265.3,68.9 267.9,68.9 270.4,68.9 272.9,68.9 275.4,68.9 277.9,69 280.5,69.1 283,69.1 285.5,69.2 288,69.3 290.5,69.4 293.1,69.4 295.6,69.5 298.1,69.5 300.6,69.7 303.2,69.9 305.7,70.2 308.2,70.5 310.7,70.9 313.2,71.3 315.8,71.7 318.3,72.1 320.8,72.4" fill="none" stroke="#7d7d7d" stroke-width="0.55" stroke-linejoin="round" />
<path d="M202.3,69.7 204.8,69.6 207.3,69.5 209.9,69.4 212.4,69.3 214.9,69.2 217.4,69.2 219.9,69.2 222.5,69.2 225,69.2 227.5,69.3 230,69.4 232.6,69.5 235.1,69.6 237.6,69.6 240.1,69.7 242.6,69.7 245.2,69.7 247.7,69.6 250.2,69.5 252.7,69.4 255.2,69.2 257.8,69.1 260.3,68.9 262.8,68.7 265.3,68.6 267.9,68.4 270.4,68.2 272.9,68 275.4,67.8 277.9,67.5 280.5,67.2 283,66.8 285.5,66.4 288,66 290.5,65.6 293.1,65.1 295.6,64.6 298.1,64.3 300.6,64.1 303.2,64.1 305.7,64.2 308.2,64.5 310.7,65 313.2,65.5 315.8,66 318.3,66.5 320.8,67" fill="none" stroke="#7d7d7d" stroke-width="0.55" stroke-linejoin="round" />
<path d="M202.3,69.7 204.8,69.6 207.3,69.5 209.9,69.4 212.4,69.2 214.9,69.1 217.4,68.9 219.9,68.7 222.5,68.5 225,68.4 227.5,68.2 230,68 232.6,67.8 235.1,67.6 237.6,67.4 240.1,67.1 242.6,66.9 245.2,66.5 247.7,66.2 250.2,65.8 252.7,65.4 255.2,65 257.8,64.6 260.3,64.2 262.8,63.9 265.3,63.6 267.9,63.3 270.4,63.1 272.9,62.9 275.4,62.7 277.9,62.4 280.5,62.2 283,61.9 285.5,61.6 288,61.2 290.5,60.8 293.1,60.4 295.6,60.1 298.1,59.8 300.6,59.8 303.2,59.9 305.7,60.2 308.2,60.7 310.7,61.3 313.2,62 315.8,62.6 318.3,63.3 320.8,63.9" fill="none" stroke="#7d7d7d" stroke-width="0.55" stroke-linejoin="round" />
<path d="M202.3,67.6 204.8,67.4 207.3,67.2 209.9,67 212.4,66.8 214.9,66.6 217.4,66.4 219.9,66.2 222.5,66 225,65.8 227.5,65.6 230,65.4 232.6,65.2 235.1,65 237.6,64.7 240.1,64.5 242.6,64.2 245.2,63.9 247.7,63.7 250.2,63.4 252.7,63 255.2,62.7 257.8,62.3 260.3,61.9 262.8,61.5 265.3,61 267.9,60.5 270.4,60 272.9,59.5 275.4,59 277.9,58.4 280.5,57.9 283,57.5 285.5,57.1 288,56.7 290.5,56.4 293.1,56.2 295.6,55.9 298.1,55.9 300.6,55.9 303.2,56.1 305.7,56.3 308.2,56.7 310.7,57.2 313.2,57.6 315.8,58.1 318.3,58.7 320.8,59.1" fill="none" stroke="#7d7d7d" stroke-width="0.55" stroke-linejoin="round" />
<path d="M202.3,68.7 204.8,68.6 207.3,68.5 209.9,68.4 212.4,68.2 214.9,68 217.4,67.8 219.9,67.6 222.5,67.4 225,67.2 227.5,67 230,66.7 232.6,66.5 235.1,66.2 237.6,65.9 240.1,65.7 242.6,65.4 245.2,65.1 247.7,64.9 250.2,64.7 252.7,64.5 255.2,64.3 257.8,64.1 260.3,63.9 262.8,63.7 265.3,63.4 267.9,63.2 270.4,62.8 272.9,62.5 275.4,62.1 277.9,61.7 280.5,61.4 283,61 285.5,60.8 288,60.6 290.5,60.5 293.1,60.5 295.6,60.6 298.1,60.8 300.6,61.1 303.2,61.5 305.7,62 308.2,62.4 310.7,62.9 313.2,63.4 315.8,63.7 318.3,64 320.8,64.2" fill="none" stroke="#7d7d7d" stroke-width="0.55" stroke-linejoin="round" />
<path d="M202.3,70.2 204.8,70.4 207.3,70.4 209.9,70.5 212.4,70.6 214.9,70.6 217.4,70.6 219.9,70.5 222.5,70.4 225,70.3 227.5,70.2 230,70.1 232.6,70 235.1,69.9 237.6,69.8 240.1,69.7 242.6,69.5 245.2,69.4 247.7,69.2 250.2,69 252.7,68.8 255.2,68.6 257.8,68.3 260.3,68.1 262.8,67.8 265.3,67.5 267.9,67.3 270.4,67.1 272.9,66.9 275.4,66.7 277.9,66.6 280.5,66.5 283,66.3 285.5,66.1 288,65.9 290.5,65.7 293.1,65.3 295.6,64.9 298.1,64.6 300.6,64.3 303.2,64.1 305.7,64 308.2,64 310.7,64.2 313.2,64.4 315.8,64.6 318.3,65 320.8,65.3" fill="none" stroke="#7d7d7d" stroke-width="0.55" stroke-linejoin="round" />
<path d="M202.3,69.8 204.8,69.8 207.3,69.7 209.9,69.6 212.4,69.4 214.9,69.2 217.4,68.9 219.9,68.6 222.5,68.3 225,68 227.5,67.7 230,67.4 232.6,67.1 235.1,66.8 237.6,66.7 240.1,66.5 242.6,66.4 245.2,66.4 247.7,66.3 250.2,66.3 252.7,66.3 255.2,66.2 257.8,66.1 260.3,66 262.8,65.8 265.3,65.5 267.9,65.3 270.4,64.9 272.9,64.6 275.4,64.3 277.9,64 280.5,63.7 283,63.5 285.5,63.3 288,63.2 290.5,63.1 293.1,63.1 295.6,63.1 298.1,63.2 300.6,63.3 303.2,63.5 305.7,63.8 308.2,64.1 310.7,64.5 313.2,64.9 315.8,65.3 318.3,65.8 320.8,66.2" fill="none" stroke="#7d7d7d" stroke-width="0.55" stroke-linejoin="round" />
<path d="M202.3,64.1 204.8,63.9 207.3,63.7 209.9,63.4 212.4,63.1 214.9,62.8 217.4,62.5 219.9,62.2 222.5,61.9 225,61.6 227.5,61.3 230,61 232.6,60.7 235.1,60.4 237.6,60.1 240.1,59.8 242.6,59.5 245.2,59.2 247.7,58.9 250.2,58.6 252.7,58.2 255.2,57.9 257.8,57.6 260.3,57.2 262.8,56.9 265.3,56.5 267.9,56.1 270.4,55.7 272.9,55.2 275.4,54.7 277.9,54.2 280.5,53.7 283,53.2 285.5,52.7 288,52.3 290.5,51.9 293.1,51.6 295.6,51.4 298.1,51.3 300.6,51.5 303.2,51.7 305.7,52.2 308.2,52.7 310.7,53.3 313.2,53.8 315.8,54.4 318.3,54.9 320.8,55.3" fill="none" stroke="#7d7d7d" stroke-width="0.55" stroke-linejoin="round" />
<path d="M202.3,67.1 204.8,66.9 207.3,66.7 209.9,66.5 212.4,66.2 214.9,66 217.4,65.8 219.9,65.5 222.5,65.3 225,65.1 227.5,64.9 230,64.7 232.6,64.5 235.1,64.3 237.6,64.1 240.1,63.9 242.6,63.7 245.2,63.4 247.7,63.2 250.2,62.9 252.7,62.5 255.2,62.1 257.8,61.7 260.3,61.2 262.8,60.7 265.3,60.1 267.9,59.5 270.4,58.9 272.9,58.3 275.4,57.7 277.9,57.2 280.5,56.6 283,56.1 285.5,55.6 288,55.2 290.5,54.9 293.1,54.5 295.6,54.3 298.1,54.1 300.6,54.1 303.2,54.3 305.7,54.5 308.2,54.9 310.7,55.3 313.2,55.8 315.8,56.3 318.3,56.7 320.8,57.1" fill="none" stroke="#7d7d7d" stroke-width="0.55" stroke-linejoin="round" />
<path d="M202.3,66.9 204.8,66.8 207.3,66.6 209.9,66.3 212.4,66.1 214.9,65.8 217.4,65.5 219.9,65.2 222.5,65 225,64.8 227.5,64.5 230,64.3 232.6,64.1 235.1,63.9 237.6,63.6 240.1,63.4 242.6,63.1 245.2,62.7 247.7,62.3 250.2,61.9 252.7,61.4 255.2,60.9 257.8,60.4 260.3,59.9 262.8,59.4 265.3,59 267.9,58.7 270.4,58.4 272.9,58.2 275.4,58 277.9,57.8 280.5,57.6 283,57.3 285.5,57 288,56.7 290.5,56.3 293.1,55.8 295.6,55.3 298.1,54.9 300.6,54.7 303.2,54.7 305.7,54.9 308.2,55.3 310.7,55.9 313.2,56.6 315.8,57.4 318.3,58.2 320.8,58.9" fill="none" stroke="#7d7d7d" stroke-width="0.55" stroke-linejoin="round" />
<path d="M202.3,68.6 204.8,68.5 207.3,68.4 209.9,68.3 212.4,68.2 214.9,68.1 217.4,67.9 219.9,67.8 222.5,67.6 225,67.4 227.5,67.2 230,67 232.6,66.8 235.1,66.5 237.6,66.3 240.1,66 242.6,65.7 245.2,65.4 247.7,65.2 250.2,64.9 252.7,64.7 255.2,64.4 257.8,64.2 260.3,64 262.8,63.7 265.3,63.4 267.9,63.1 270.4,62.8 272.9,62.5 275.4,62.1 277.9,61.7 280.5,61.3 283,60.9 285.5,60.6 288,60.3 290.5,60 293.1,59.8 295.6,59.6 298.1,59.6 300.6,59.7 303.2,60 305.7,60.5 308.2,61 310.7,61.6 313.2,62.3 315.8,63 318.3,63.6 320.8,64.2" fill="none" stroke="#7d7d7d" stroke-width="0.55" stroke-linejoin="round" />
<path d="M202.3,68.7 204.8,68.6 207.3,68.6 209.9,68.6 212.4,68.6 214.9,68.7 217.4,68.7 219.9,68.8 222.5,68.8 225,68.8 227.5,68.8 230,68.7 232.6,68.5 235.1,68.3 237.6,68.1 240.1,67.9 242.6,67.6 245.2,67.4 247.7,67.1 250.2,66.9 252.7,66.7 255.2,66.5 257.8,66.2 260.3,66 262.8,65.8 265.3,65.6 267.9,65.3 270.4,65.1 272.9,64.9 275.4,64.6 277.9,64.4 280.5,64.2 283,64 285.5,63.8 288,63.6 290.5,63.4 293.1,63.3 295.6,63 298.1,62.9 300.6,62.9 303.2,62.9 305.7,63 308.2,63.3 310.7,63.7 313.2,64.1 315.8,64.6 318.3,65.2 320.8,65.7" fill="none" stroke="#7d7d7d" stroke-width="0.55" stroke-linejoin="round" />
<path d="M202.3,65.5 204.8,65.4 207.3,65.4 209.9,65.3 212.4,65.1 214.9,65 217.4,64.9 219.9,64.7 222.5,64.5 225,64.3 227.5,64 230,63.7 232.6,63.4 235.1,63 237.6,62.6 240.1,62.2 242.6,61.8 245.2,61.4 247.7,61 250.2,60.6 252.7,60.3 255.2,60 257.8,59.7 260.3,59.3 262.8,59 265.3,58.6 267.9,58.2 270.4,57.8 272.9,57.3 275.4,56.8 277.9,56.2 280.5,55.6 283,55 285.5,54.5 288,53.9 290.5,53.4 293.1,53 295.6,52.7 298.1,52.6 300.6,52.6 303.2,52.9 305.7,53.3 308.2,53.9 310.7,54.6 313.2,55.3 315.8,56 318.3,56.7 320.8,57.2" fill="none" stroke="#7d7d7d" stroke-width="0.55" stroke-linejoin="round" />
<path d="M202.3,70 204.8,69.9 207.3,69.7 209.9,69.5 212.4,69.3 214.9,69.1 217.4,68.8 219.9,68.6 222.5,68.4 225,68.3 227.5,68.1 230,68 232.6,68 235.1,67.9 237.6,67.9 240.1,67.9 242.6,67.9 245.2,67.9 247.7,67.9 250.2,67.8 252.7,67.7 255.2,67.6 257.8,67.4 260.3,67.2 262.8,67 265.3,66.7 267.9,66.4 270.4,66.1 272.9,65.8 275.4,65.5 277.9,65.2 280.5,64.9 283,64.6 285.5,64.4 288,64.1 290.5,64 293.1,63.8 295.6,63.7 298.1,63.7 300.6,63.9 303.2,64.1 305.7,64.5 308.2,65 310.7,65.5 313.2,66.1 315.8,66.6 318.3,67.2 320.8,67.6" fill="none" stroke="#7d7d7d" stroke-width="0.55" stroke-linejoin="round" />
<path d="M202.3,65.4 204.8,65.3 207.3,65.1 209.9,64.9 212.4,64.7 214.9,64.5 217.4,64.2 219.9,64 222.5,63.7 225,63.5 227.5,63.2 230,62.9 232.6,62.6 235.1,62.3 237.6,62 240.1,61.7 242.6,61.4 245.2,61 247.7,60.7 250.2,60.4 252.7,60 255.2,59.6 257.8,59.2 260.3,58.7 262.8,58.2 265.3,57.6 267.9,57 270.4,56.4 272.9,55.8 275.4,55.2 277.9,54.6 280.5,54.1 283,53.6 285.5,53.2 288,52.8 290.5,52.5 293.1,52.3 295.6,52 298.1,51.9 300.6,52 303.2,52.2 305.7,52.5 308.2,53 310.7,53.7 313.2,54.3 315.8,55.1 318.3,55.8 320.8,56.5" fill="none" stroke="#7d7d7d" stroke-width="0.55" stroke-linejoin="round" />
<path d="M202.3,66.8 204.8,66.7 207.3,66.6 209.9,66.4 212.4,66.3 214.9,66 217.4,65.8 219.9,65.5 222.5,65.3 225,65 227.5,64.6 230,64.3 232.6,63.9 235.1,63.6 237.6,63.2 240.1,62.8 242.6,62.4 245.2,62.1 247.7,61.7 250.2,61.4 252.7,61 255.2,60.7 257.8,60.3 260.3,60 262.8,59.6 265.3,59.2 267.9,58.9 270.4,58.5 272.9,58.2 275.4,57.8 277.9,57.5 280.5,57.2 283,56.9 285.5,56.6 288,56.4 290.5,56.3 293.1,56.1 295.6,55.9 298.1,55.9 300.6,55.9 303.2,56 305.7,56.2 308.2,56.5 310.7,56.8 313.2,57.1 315.8,57.4 318.3,57.7 320.8,57.9" fill="none" stroke="#7d7d7d" stroke-width="0.55" stroke-linejoin="round" />
<path d="M202.3,69.6 204.8,69.5 207.3,69.5 209.9,69.4 212.4,69.3 214.9,69.2 217.4,69.1 219.9,69.1 222.5,69 225,69 227.5,68.9 230,68.9 232.6,68.8 235.1,68.7 237.6,68.7 240.1,68.6 242.6,68.4 245.2,68.3 247.7,68.1 250.2,67.9 252.7,67.7 255.2,67.5 257.8,67.3 260.3,67.1 262.8,67 265.3,66.8 267.9,66.7 270.4,66.6 272.9,66.5 275.4,66.5 277.9,66.5 280.5,66.5 283,66.6 285.5,66.7 288,66.8 290.5,66.9 293.1,66.9 295.6,67 298.1,67.1 300.6,67.3 303.2,67.4 305.7,67.6 308.2,67.9 310.7,68.1 313.2,68.3 315.8,68.4 318.3,68.6 320.8,68.6" fill="none" stroke="#7d7d7d" stroke-width="0.55" stroke-linejoin="round" />
<path d="M202.3,68.1 204.8,67.9 207.3,67.7 209.9,67.5 212.4,67.3 214.9,67 217.4,66.7 219.9,66.4 222.5,66 225,65.7 227.5,65.3 230,64.9 232.6,64.5 235.1,64.2 237.6,63.8 240.1,63.5 242.6,63.2 245.2,62.8 247.7,62.6 250.2,62.3 252.7,62 255.2,61.7 257.8,61.4 260.3,61.1 262.8,60.7 265.3,60.4 267.9,60 270.4,59.6 272.9,59.2 275.4,58.9 277.9,58.5 280.5,58.2 283,58 285.5,57.8 288,57.7 290.5,57.6 293.1,57.5 295.6,57.4 298.1,57.5 300.6,57.6 303.2,57.8 305.7,58.2 308.2,58.6 310.7,59.1 313.2,59.6 315.8,60.2 318.3,60.9 320.8,61.4" fill="none" stroke="#7d7d7d" stroke-width="0.55" stroke-linejoin="round" />
<path d="M202.3,64.2 204.8,64.1 207.3,64 209.9,63.9 212.4,63.8 214.9,63.6 217.4,63.4 219.9,63.1 222.5,62.8 225,62.5 227.5,62.2 230,61.9 232.6,61.5 235.1,61.2 237.6,60.8 240.1,60.5 242.6,60.3 245.2,60 247.7,59.7 250.2,59.5 252.7,59.2 255.2,58.9 257.8,58.6 260.3,58.2 262.8,57.7 265.3,57.2 267.9,56.6 270.4,56.1 272.9,55.5 275.4,54.9 277.9,54.3 280.5,53.7 283,53.1 285.5,52.6 288,52.2 290.5,51.7 293.1,51.3 295.6,51 298.1,50.8 300.6,50.8 303.2,51 305.7,51.4 308.2,51.9 310.7,52.6 313.2,53.4 315.8,54.3 318.3,55.2 320.8,55.9" fill="none" stroke="#7d7d7d" stroke-width="0.55" stroke-linejoin="round" />
<path d="M202.3,66.7 204.8,66.6 207.3,66.5 209.9,66.4 212.4,66.2 214.9,65.9 217.4,65.7 219.9,65.4 222.5,65 225,64.7 227.5,64.3 230,63.8 232.6,63.4 235.1,62.9 237.6,62.5 240.1,62 242.6,61.6 245.2,61.1 247.7,60.7 250.2,60.2 252.7,59.8 255.2,59.3 257.8,58.8 260.3,58.2 262.8,57.6 265.3,57 267.9,56.3 270.4,55.7 272.9,55.1 275.4,54.5 277.9,53.9 280.5,53.5 283,53.1 285.5,52.8 288,52.7 290.5,52.6 293.1,52.5 295.6,52.5 298.1,52.5 300.6,52.7 303.2,53 305.7,53.3 308.2,53.7 310.7,54.1 313.2,54.6 315.8,55 318.3,55.5 320.8,56" fill="none" stroke="#7d7d7d" stroke-width="0.55" stroke-linejoin="round" />
<path d="M202.3,65.7 204.8,65.7 207.3,65.6 209.9,65.6 212.4,65.4 214.9,65.3 217.4,65 219.9,64.8 222.5,64.5 225,64.2 227.5,63.8 230,63.4 232.6,63 235.1,62.7 237.6,62.4 240.1,62.1 242.6,61.8 245.2,61.6 247.7,61.4 250.2,61.2 252.7,60.9 255.2,60.6 257.8,60.3 260.3,59.9 262.8,59.5 265.3,58.9 267.9,58.4 270.4,57.8 272.9,57.2 275.4,56.7 277.9,56.1 280.5,55.7 283,55.3 285.5,55 288,54.8 290.5,54.6 293.1,54.5 295.6,54.4 298.1,54.3 300.6,54.4 303.2,54.6 305.7,54.9 308.2,55.3 310.7,55.8 313.2,56.3 315.8,56.9 318.3,57.4 320.8,58" fill="none" stroke="#7d7d7d" stroke-width="0.55" stroke-linejoin="round" />
<path d="M202.3,66 204.8,65.9 207.3,65.8 209.9,65.6 212.4,65.4 214.9,65.1 217.4,64.8 219.9,64.5 222.5,64.1 225,63.8 227.5,63.4 230,63 232.6,62.6 235.1,62.3 237.6,61.9 240.1,61.6 242.6,61.2 245.2,60.9 247.7,60.6 250.2,60.4 252.7,60.1 255.2,59.9 257.8,59.7 260.3,59.5 262.8,59.3 265.3,59.1 267.9,59 270.4,58.8 272.9,58.7 275.4,58.5 277.9,58.4 280.5,58.1 283,57.9 285.5,57.7 288,57.4 290.5,57.1 293.1,56.8 295.6,56.4 298.1,56.2 300.6,56 303.2,56 305.7,56 308.2,56.2 310.7,56.5 313.2,56.9 315.8,57.2 318.3,57.7 320.8,58" fill="none" stroke="#7d7d7d" stroke-width="0.55" stroke-linejoin="round" />
<path d="M202.3,69.9 204.8,69.9 207.3,69.8 209.9,69.7 212.4,69.6 214.9,69.5 217.4,69.4 219.9,69.3 222.5,69.2 225,69.1 227.5,69 230,69 232.6,68.9 235.1,68.9 237.6,68.8 240.1,68.8 242.6,68.7 245.2,68.6 247.7,68.4 250.2,68.2 252.7,68 255.2,67.7 257.8,67.3 260.3,67 262.8,66.6 265.3,66.2 267.9,65.8 270.4,65.4 272.9,65 275.4,64.7 277.9,64.3 280.5,64 283,63.8 285.5,63.5 288,63.3 290.5,63.1 293.1,62.9 295.6,62.7 298.1,62.6 300.6,62.6 303.2,62.8 305.7,63.2 308.2,63.6 310.7,64.2 313.2,64.9 315.8,65.6 318.3,66.4 320.8,67.2" fill="none" stroke="#7d7d7d" stroke-width="0.55" stroke-linejoin="round" />
<path d="M202.3,67.3 204.8,67.1 207.3,67 209.9,66.8 212.4,66.6 214.9,66.4 217.4,66.2 219.9,66.1 222.5,66 225,65.9 227.5,65.9 230,65.8 232.6,65.8 235.1,65.8 237.6,65.7 240.1,65.6 242.6,65.5 245.2,65.3 247.7,65 250.2,64.8 252.7,64.5 255.2,64.1 257.8,63.8 260.3,63.4 262.8,63 265.3,62.6 267.9,62.1 270.4,61.7 272.9,61.3 275.4,60.8 277.9,60.3 280.5,59.8 283,59.4 285.5,59 288,58.6 290.5,58.3 293.1,58 295.6,57.8 298.1,57.8 300.6,57.9 303.2,58.1 305.7,58.4 308.2,58.9 310.7,59.3 313.2,59.8 315.8,60.1 318.3,60.5 320.8,60.7" fill="none" stroke="#7d7d7d" stroke-width="0.55" stroke-linejoin="round" />
<path d="M202.3,67.3 204.8,67.3 207.3,67.2 209.9,67.1 212.4,67 214.9,67 217.4,66.9 219.9,66.8 222.5,66.7 225,66.5 227.5,66.4 230,66.2 232.6,66 235.1,65.7 237.6,65.5 240.1,65.1 242.6,64.8 245.2,64.4 247.7,64.1 250.2,63.7 252.7,63.3 255.2,62.9 257.8,62.5 260.3,62 262.8,61.6 265.3,61.2 267.9,60.9 270.4,60.5 272.9,60.1 275.4,59.8 277.9,59.4 280.5,59.1 283,58.8 285.5,58.5 288,58.2 290.5,58 293.1,57.7 295.6,57.4 298.1,57.3 300.6,57.3 303.2,57.4 305.7,57.7 308.2,58.1 310.7,58.7 313.2,59.3 315.8,59.9 318.3,60.6 320.8,61.3" fill="none" stroke="#7d7d7d" stroke-width="0.55" stroke-linejoin="round" />
<path d="M202.3,69.6 204.8,69.5 207.3,69.4 209.9,69.3 212.4,69.1 214.9,69 217.4,68.8 219.9,68.7 222.5,68.6 225,68.4 227.5,68.3 230,68.1 232.6,67.9 235.1,67.7 237.6,67.4 240.1,67.2 242.6,66.9 245.2,66.6 247.7,66.3 250.2,66 252.7,65.8 255.2,65.5 257.8,65.2 260.3,64.9 262.8,64.6 265.3,64.2 267.9,63.8 270.4,63.4 272.9,62.9 275.4,62.3 277.9,61.7 280.5,61.1 283,60.4 285.5,59.8 288,59.3 290.5,58.8 293.1,58.5 295.6,58.2 298.1,58.1 300.6,58.3 303.2,58.6 305.7,59.1 308.2,59.8 310.7,60.5 313.2,61.3 315.8,62.1 318.3,62.8 320.8,63.5" fill="none" stroke="#7d7d7d" stroke-width="0.55" stroke-linejoin="round" />
<path d="M202.3,67.7 204.8,67.6 207.3,67.5 209.9,67.4 212.4,67.3 214.9,67.1 217.4,66.9 219.9,66.7 222.5,66.5 225,66.2 227.5,65.9 230,65.6 232.6,65.3 235.1,64.9 237.6,64.6 240.1,64.3 242.6,64.1 245.2,63.8 247.7,63.6 250.2,63.5 252.7,63.3 255.2,63.1 257.8,62.9 260.3,62.7 262.8,62.4 265.3,62.1 267.9,61.7 270.4,61.4 272.9,60.9 275.4,60.5 277.9,60.1 280.5,59.8 283,59.5 285.5,59.3 288,59.1 290.5,59 293.1,58.9 295.6,58.9 298.1,58.9 300.6,59 303.2,59.2 305.7,59.5 308.2,59.7 310.7,60.1 313.2,60.4 315.8,60.8 318.3,61.1 320.8,61.4" fill="none" stroke="#7d7d7d" stroke-width="0.55" stroke-linejoin="round" />
<path d="M202.3,66.7 204.8,66.6 207.3,66.5 209.9,66.3 212.4,66.2 214.9,65.9 217.4,65.7 219.9,65.5 222.5,65.3 225,65 227.5,64.8 230,64.6 232.6,64.4 235.1,64.1 237.6,63.9 240.1,63.7 242.6,63.5 245.2,63.3 247.7,63.1 250.2,62.8 252.7,62.6 255.2,62.4 257.8,62.1 260.3,61.8 262.8,61.6 265.3,61.3 267.9,61 270.4,60.8 272.9,60.5 275.4,60.2 277.9,60 280.5,59.7 283,59.4 285.5,59.1 288,58.8 290.5,58.5 293.1,58.2 295.6,57.9 298.1,57.6 300.6,57.4 303.2,57.3 305.7,57.3 308.2,57.4 310.7,57.6 313.2,57.9 315.8,58.1 318.3,58.5 320.8,58.7" fill="none" stroke="#7d7d7d" stroke-width="0.55" stroke-linejoin="round" />
<path d="M202.3,70 204.8,69.9 207.3,69.7 209.9,69.6 212.4,69.4 214.9,69.1 217.4,68.9 219.9,68.7 222.5,68.4 225,68.1 227.5,67.8 230,67.5 232.6,67.3 235.1,67 237.6,66.8 240.1,66.6 242.6,66.5 245.2,66.4 247.7,66.3 250.2,66.3 252.7,66.3 255.2,66.2 257.8,66.2 260.3,66.2 262.8,66.1 265.3,66 267.9,65.8 270.4,65.7 272.9,65.5 275.4,65.4 277.9,65.3 280.5,65.2 283,65.1 285.5,65.1 288,65.1 290.5,65.2 293.1,65.2 295.6,65.3 298.1,65.4 300.6,65.6 303.2,65.8 305.7,66 308.2,66.3 310.7,66.6 313.2,66.9 315.8,67.2 318.3,67.5 320.8,67.7" fill="none" stroke="#7d7d7d" stroke-width="0.55" stroke-linejoin="round" />
<path d="M202.3,70.5 204.8,70.6 207.3,70.6 209.9,70.6 212.4,70.5 214.9,70.4 217.4,70.3 219.9,70.1 222.5,70.1 225,70 227.5,70.1 230,70.2 232.6,70.3 235.1,70.5 237.6,70.6 240.1,70.7 242.6,70.7 245.2,70.5 247.7,70.2 250.2,69.7 252.7,69.1 255.2,68.3 257.8,67.6 260.3,66.8 262.8,66.2 265.3,65.8 267.9,65.5 270.4,65.4 272.9,65.6 275.4,65.9 277.9,66.3 280.5,66.7 283,67 285.5,67.2 288,67.2 290.5,66.9 293.1,66.5 295.6,65.9 298.1,65.3 300.6,64.7 303.2,64.3 305.7,64.1 308.2,64.2 310.7,64.5 313.2,64.9 315.8,65.5 318.3,66.1 320.8,66.5" fill="none" stroke="#7d7d7d" stroke-width="0.55" stroke-linejoin="round" />
<path d="M202.3,67.6 204.8,67.5 207.3,67.4 209.9,67.2 212.4,67 214.9,66.9 217.4,66.6 219.9,66.4 222.5,66.2 225,65.9 227.5,65.7 230,65.4 232.6,65.1 235.1,64.9 237.6,64.8 240.1,64.7 242.6,64.6 245.2,64.7 247.7,64.7 250.2,64.8 252.7,64.9 255.2,64.9 257.8,64.9 260.3,64.8 262.8,64.5 265.3,64.2 267.9,63.8 270.4,63.2 272.9,62.7 275.4,62.1 277.9,61.5 280.5,61 283,60.6 285.5,60.4 288,60.2 290.5,60.2 293.1,60.3 295.6,60.4 298.1,60.6 300.6,60.8 303.2,61.2 305.7,61.5 308.2,61.9 310.7,62.4 313.2,62.8 315.8,63.2 318.3,63.7 320.8,64.2" fill="none" stroke="#7d7d7d" stroke-width="0.55" stroke-linejoin="round" />
<path d="M202.3,65.9 204.8,65.8 207.3,65.7 209.9,65.6 212.4,65.3 214.9,65.1 217.4,64.8 219.9,64.5 222.5,64.2 225,63.9 227.5,63.6 230,63.2 232.6,62.9 235.1,62.6 237.6,62.3 240.1,61.9 242.6,61.6 245.2,61.2 247.7,60.8 250.2,60.4 252.7,59.9 255.2,59.4 257.8,58.8 260.3,58.3 262.8,57.7 265.3,57.2 267.9,56.6 270.4,56.1 272.9,55.7 275.4,55.3 277.9,55 280.5,54.7 283,54.5 285.5,54.3 288,54.2 290.5,54.1 293.1,54 295.6,53.9 298.1,53.9 300.6,54 303.2,54.2 305.7,54.5 308.2,54.9 310.7,55.4 313.2,55.9 315.8,56.4 318.3,56.9 320.8,57.3" fill="none" stroke="#7d7d7d" stroke-width="0.55" stroke-linejoin="round" />
<path d="M202.3,71.5 204.8,71.5 207.3,71.4 209.9,71.4 212.4,71.4 214.9,71.4 217.4,71.5 219.9,71.6 222.5,71.8 225,71.9 227.5,72 230,72 232.6,72 235.1,71.8 237.6,71.5 240.1,71.1 242.6,70.6 245.2,70 247.7,69.4 250.2,68.8 252.7,68.3 255.2,67.8 257.8,67.3 260.3,67 262.8,66.8 265.3,66.7 267.9,66.6 270.4,66.6 272.9,66.5 275.4,66.5 277.9,66.3 280.5,66.1 283,65.8 285.5,65.5 288,65.1 290.5,64.8 293.1,64.4 295.6,64.1 298.1,63.9 300.6,63.9 303.2,64 305.7,64.4 308.2,64.8 310.7,65.4 313.2,66 315.8,66.5 318.3,67.1 320.8,67.6" fill="none" stroke="#7d7d7d" stroke-width="0.55" stroke-linejoin="round" />
<path d="M202.3,67.2 204.8,67 207.3,66.8 209.9,66.6 212.4,66.4 214.9,66.2 217.4,66 219.9,65.9 222.5,65.7 225,65.7 227.5,65.6 230,65.5 232.6,65.5 235.1,65.4 237.6,65.3 240.1,65.1 242.6,64.9 245.2,64.6 247.7,64.3 250.2,63.9 252.7,63.5 255.2,63 257.8,62.6 260.3,62.1 262.8,61.7 265.3,61.4 267.9,61 270.4,60.8 272.9,60.5 275.4,60.3 277.9,60.1 280.5,59.8 283,59.5 285.5,59.2 288,58.9 290.5,58.5 293.1,58.1 295.6,57.7 298.1,57.3 300.6,57.2 303.2,57.1 305.7,57.3 308.2,57.6 310.7,58.2 313.2,58.8 315.8,59.5 318.3,60.2 320.8,60.9" fill="none" stroke="#7d7d7d" stroke-width="0.55" stroke-linejoin="round" />
<path d="M202.3,72.1 204.8,72.1 207.3,72.1 209.9,72 212.4,72 214.9,72 217.4,71.9 219.9,71.8 222.5,71.7 225,71.6 227.5,71.5 230,71.3 232.6,71.2 235.1,71 237.6,70.9 240.1,70.8 242.6,70.6 245.2,70.5 247.7,70.4 250.2,70.3 252.7,70.3 255.2,70.2 257.8,70.1 260.3,70.1 262.8,70 265.3,69.9 267.9,69.7 270.4,69.6 272.9,69.4 275.4,69.2 277.9,69 280.5,68.7 283,68.5 285.5,68.3 288,68.1 290.5,67.9 293.1,67.7 295.6,67.6 298.1,67.6 300.6,67.7 303.2,67.9 305.7,68.3 308.2,68.7 310.7,69.3 313.2,69.9 315.8,70.4 318.3,71 320.8,71.5" fill="none" stroke="#7d7d7d" stroke-width="0.55" stroke-linejoin="round" />
<path d="M202.3,68.5 204.8,68.5 207.3,68.4 209.9,68.4 212.4,68.3 214.9,68.2 217.4,68.1 219.9,68.1 222.5,68 225,67.8 227.5,67.7 230,67.6 232.6,67.4 235.1,67.2 237.6,67 240.1,66.8 242.6,66.6 245.2,66.3 247.7,66.1 250.2,65.8 252.7,65.5 255.2,65.2 257.8,64.8 260.3,64.5 262.8,64.1 265.3,63.7 267.9,63.3 270.4,63 272.9,62.6 275.4,62.3 277.9,62 280.5,61.7 283,61.5 285.5,61.3 288,61.2 290.5,61.2 293.1,61.2 295.6,61.1 298.1,61.2 300.6,61.4 303.2,61.7 305.7,62.1 308.2,62.5 310.7,63 313.2,63.5 315.8,64 318.3,64.5 320.8,64.8" fill="none" stroke="#7d7d7d" stroke-width="0.55" stroke-linejoin="round" />
<path d="M202.3,71.1 204.8,70.7 207.3,70.4 209.9,70 212.4,69.6 214.9,69.2 217.4,68.9 219.9,68.6 222.5,68.4 225,68.2 227.5,68.1 230,68.1 232.6,68 235.1,67.9 237.6,67.8 240.1,67.7 242.6,67.5 245.2,67.3 247.7,67 250.2,66.8 252.7,66.5 255.2,66.2 257.8,65.9 260.3,65.7 262.8,65.4 265.3,65.2 267.9,64.9 270.4,64.6 272.9,64.2 275.4,63.8 277.9,63.3 280.5,62.8 283,62.3 285.5,61.8 288,61.3 290.5,60.9 293.1,60.5 295.6,60.2 298.1,60.1 300.6,60.2 303.2,60.3 305.7,60.7 308.2,61.1 310.7,61.6 313.2,62.1 315.8,62.6 318.3,63.1 320.8,63.6" fill="none" stroke="#7d7d7d" stroke-width="0.55" stroke-linejoin="round" />
<path d="M202.3,70.3 204.8,70 207.3,69.7 209.9,69.4 212.4,69 214.9,68.7 217.4,68.4 219.9,68.1 222.5,67.9 225,67.7 227.5,67.6 230,67.5 232.6,67.5 235.1,67.3 237.6,67.2 240.1,66.9 242.6,66.6 245.2,66.2 247.7,65.7 250.2,65.2 252.7,64.7 255.2,64.2 257.8,63.8 260.3,63.5 262.8,63.2 265.3,63.1 267.9,63 270.4,62.8 272.9,62.7 275.4,62.5 277.9,62.2 280.5,61.8 283,61.3 285.5,60.8 288,60.2 290.5,59.8 293.1,59.4 295.6,59.2 298.1,59.2 300.6,59.5 303.2,60.1 305.7,60.9 308.2,61.7 310.7,62.7 313.2,63.5 315.8,64.3 318.3,64.9 320.8,65.2" fill="none" stroke="#7d7d7d" stroke-width="0.55" stroke-linejoin="round" />
<path d="M202.3,70.1 204.8,70.3 207.3,70.3 209.9,70.3 212.4,70.2 214.9,69.9 217.4,69.6 219.9,69.2 222.5,68.7 225,68.3 227.5,67.8 230,67.4 232.6,67.1 235.1,66.9 237.6,66.7 240.1,66.6 242.6,66.6 245.2,66.6 247.7,66.7 250.2,66.7 252.7,66.6 255.2,66.5 257.8,66.3 260.3,66.1 262.8,65.7 265.3,65.3 267.9,64.8 270.4,64.3 272.9,63.6 275.4,63 277.9,62.3 280.5,61.6 283,60.8 285.5,60.1 288,59.4 290.5,58.7 293.1,58.1 295.6,57.5 298.1,57.1 300.6,57 303.2,57 305.7,57.3 308.2,57.7 310.7,58.4 313.2,59.1 315.8,59.8 318.3,60.5 320.8,61.1" fill="none" stroke="#7d7d7d" stroke-width="0.55" stroke-linejoin="round" />
<path d="M202.3,67.2 204.8,67 207.3,66.8 209.9,66.6 212.4,66.3 214.9,66.1 217.4,65.8 219.9,65.5 222.5,65.1 225,64.8 227.5,64.4 230,64 232.6,63.6 235.1,63.2 237.6,62.7 240.1,62.2 242.6,61.5 245.2,60.8 247.7,60 250.2,59.1 252.7,58.1 255.2,57.1 257.8,55.9 260.3,54.7 262.8,53.4 265.3,52.2 267.9,50.8 270.4,49.5 272.9,48.2 275.4,46.9 277.9,45.6 280.5,44.3 283,43.1 285.5,42 288,41.1 290.5,40.3 293.1,39.7 295.6,39.3 298.1,39 300.6,39.1 303.2,39.5 305.7,40.3 308.2,41.3 310.7,42.6 313.2,44.1 315.8,45.7 318.3,47.1 320.8,48.1" fill="none" stroke="#7d7d7d" stroke-width="0.55" stroke-linejoin="round" />
<path d="M202.3,67.7 204.8,67.5 207.3,67.3 209.9,67.1 212.4,66.8 214.9,66.6 217.4,66.3 219.9,66 222.5,65.6 225,65.3 227.5,65 230,64.6 232.6,64.3 235.1,63.9 237.6,63.6 240.1,63.2 242.6,62.8 245.2,62.3 247.7,61.8 250.2,61.1 252.7,60.5 255.2,59.7 257.8,58.9 260.3,58.1 262.8,57.2 265.3,56.3 267.9,55.4 270.4,54.5 272.9,53.5 275.4,52.5 277.9,51.5 280.5,50.4 283,49.3 285.5,48.4 288,47.6 290.5,47 293.1,46.5 295.6,46.3 298.1,46.2 300.6,46.6 303.2,47.2 305.7,48 308.2,49.1 310.7,50.4 313.2,51.9 315.8,53.4 318.3,54.7 320.8,55.8" fill="none" stroke="#7d7d7d" stroke-width="0.55" stroke-linejoin="round" />
<path d="M202.3,71.3 204.8,71.3 207.3,71.2 209.9,71.2 212.4,71.1 214.9,71 217.4,70.9 219.9,70.8 222.5,70.7 225,70.7 227.5,70.6 230,70.6 232.6,70.6 235.1,70.6 237.6,70.6 240.1,70.7 242.6,70.8 245.2,70.9 247.7,71 250.2,71.2 252.7,71.3 255.2,71.5 257.8,71.6 260.3,71.7 262.8,71.8 265.3,71.9 267.9,71.9 270.4,71.9 272.9,71.8 275.4,71.7 277.9,71.5 280.5,71.3 283,71 285.5,70.7 288,70.5 290.5,70.4 293.1,70.3 295.6,70.3 298.1,70.4 300.6,70.6 303.2,70.8 305.7,71.1 308.2,71.4 310.7,71.8 313.2,72.2 315.8,72.5 318.3,72.8 320.8,73.1" fill="none" stroke="#7d7d7d" stroke-width="0.55" stroke-linejoin="round" />
<path d="M202.3,64.7 204.8,64.6 207.3,64.5 209.9,64.3 212.4,64.1 214.9,63.7 217.4,63.3 219.9,62.8 222.5,62.1 225,61.5 227.5,61 230,60.6 232.6,60.5 235.1,60.6 237.6,60.8 240.1,61.2 242.6,61.6 245.2,61.9 247.7,62.1 250.2,62.1 252.7,62 255.2,61.7 257.8,61.5 260.3,61.4 262.8,61.4 265.3,61.5 267.9,61.7 270.4,62 272.9,62.3 275.4,62.6 277.9,62.9 280.5,63.1 283,63.3 285.5,63.5 288,63.7 290.5,63.9 293.1,64.2 295.6,64.5 298.1,64.8 300.6,65.1 303.2,65.5 305.7,65.8 308.2,66.2 310.7,66.5 313.2,66.9 315.8,67.2 318.3,67.4 320.8,67.6" fill="none" stroke="#7d7d7d" stroke-width="0.55" stroke-linejoin="round" />
<path d="M201.6,75.4 C202.5,74.9 205,72.8 207.2,72.3 C209.4,71.8 212.1,72.3 214.6,72.7 C217.1,73.1 219.5,74.9 222,74.6 C224.5,74.3 226,72.3 229.5,71.1 C233,69.8 239.8,67.4 243.2,67.1 C246.6,66.8 247.6,68.6 250,69.2 C252.4,69.8 253.9,71.3 257.4,70.5 C260.9,69.7 267.2,65 271.1,64.3 C275,63.6 277.5,64.8 281,66.2 C284.5,67.7 288.2,70.6 292.2,73 C296.2,75.4 300.4,79.7 305.2,80.4 C309.9,81.1 318.1,77.6 320.7,77.1" fill="none" stroke="#e5258f" stroke-width="1.1" stroke-linejoin="round" />
<line x1="196.3" y1="17.8" x2="196.3" y2="94.5" stroke="#8a8a8a" stroke-width="1" />
<line x1="193.5" y1="18.4" x2="196.3" y2="18.4" stroke="#555555" stroke-width="0.7" />
<text x="189.8" y="21.23" font-size="7.9" text-anchor="end" fill="#231f20">10</text>
<line x1="193.5" y1="43.4" x2="196.3" y2="43.4" stroke="#555555" stroke-width="0.7" />
<text x="189.8" y="46.23" font-size="7.9" text-anchor="end" fill="#231f20">5</text>
<line x1="193.5" y1="68.9" x2="196.3" y2="68.9" stroke="#555555" stroke-width="0.7" />
<text x="189.8" y="71.73" font-size="7.9" text-anchor="end" fill="#231f20">0</text>
<line x1="196.3" y1="94.5" x2="330.5" y2="94.5" stroke="#8a8a8a" stroke-width="1" />
<line x1="202.3" y1="94.5" x2="202.3" y2="97.3" stroke="#555555" stroke-width="0.7" />
<text x="202.3" y="107.1" font-size="7.8" text-anchor="middle" fill="#231f20">−2.0</text>
<line x1="233.1" y1="94.5" x2="233.1" y2="97.3" stroke="#555555" stroke-width="0.7" />
<text x="233.1" y="107.1" font-size="7.8" text-anchor="middle" fill="#231f20">−1.5</text>
<line x1="263.1" y1="94.5" x2="263.1" y2="97.3" stroke="#555555" stroke-width="0.7" />
<text x="263.1" y="107.1" font-size="7.8" text-anchor="middle" fill="#231f20">−1.0</text>
<line x1="293.8" y1="94.5" x2="293.8" y2="97.3" stroke="#555555" stroke-width="0.7" />
<text x="293.8" y="107.1" font-size="7.8" text-anchor="middle" fill="#231f20">−0.5</text>
<line x1="324.3" y1="94.5" x2="324.3" y2="97.3" stroke="#555555" stroke-width="0.7" />
<text x="324.3" y="107.1" font-size="7.8" text-anchor="middle" fill="#231f20">0</text>
<text x="263.3" y="121.1" font-size="8.0" text-anchor="middle" fill="#231f20">Time to reward (s)</text>
<text x="178.6" y="57" font-size="8.0" text-anchor="middle" fill="#231f20" transform="rotate(-90 178.6 57)"><tspan font-style="italic">z</tspan>-scored spike rate</text>
<line x1="200.8" y1="24.8" x2="212.5" y2="24.8" stroke="#e5258f" stroke-width="1.4" />
<line x1="200.8" y1="33.8" x2="212.5" y2="33.8" stroke="#7d7d7d" stroke-width="1.4" />
<text x="216.8" y="27.6" font-size="8.0" text-anchor="start" fill="#231f20">CE</text>
<text x="216.8" y="36.6" font-size="8.0" text-anchor="start" fill="#231f20">Non-CE</text>
<text x="172.4" y="7.8" font-size="10.5" text-anchor="start" fill="#000" font-weight="bold">c</text>
<rect x="261.2" y="148" width="61" height="69.5" fill="#d2e3ef" />
<path d="M202.3,183.6 204.8,183.6 207.3,183.6 209.9,183.5 212.4,183.3 214.9,183.1 217.4,183 219.9,182.9 222.5,182.9 225,183 227.5,183 230,182.9 232.6,182.6 235.1,182.1 237.6,181.4 240.1,180.7 242.6,180.1 245.2,179.6 247.7,179.4 250.2,179.2 252.7,179.1 255.2,178.7 257.8,178 260.3,177 262.8,175.8 265.3,174.6 267.9,173.6 270.4,173 272.9,172.8 275.4,172.9 277.9,173.2 280.5,173.4 283,173.4 285.5,173 288,172.3 290.5,171.5 293.1,170.8 295.6,170.3 298.1,170.2 300.6,170.4 303.2,171 305.7,171.7 308.2,172.4 310.7,173.1 313.2,173.9 315.8,174.7 318.3,175.6 320.8,176.5" fill="none" stroke="#7d7d7d" stroke-width="0.6" stroke-linejoin="round" />
<path d="M202.3,187.4 204.8,187.3 207.3,187.2 209.9,187 212.4,186.7 214.9,186.3 217.4,185.9 219.9,185.7 222.5,185.5 225,185.3 227.5,185.2 230,185.1 232.6,184.9 235.1,184.6 237.6,184.2 240.1,183.7 242.6,183.1 245.2,182.5 247.7,181.9 250.2,181.4 252.7,180.8 255.2,180.2 257.8,179.6 260.3,178.9 262.8,178.3 265.3,177.7 267.9,177.2 270.4,176.9 272.9,176.8 275.4,176.7 277.9,176.6 280.5,176.4 283,176 285.5,175.6 288,175.1 290.5,174.7 293.1,174.4 295.6,174.3 298.1,174.4 300.6,174.7 303.2,175.1 305.7,175.7 308.2,176.3 310.7,177 313.2,177.8 315.8,178.7 318.3,179.7 320.8,180.5" fill="none" stroke="#7d7d7d" stroke-width="0.6" stroke-linejoin="round" />
<path d="M202.3,183.4 204.8,183.3 207.3,183.3 209.9,183.2 212.4,183.2 214.9,183.1 217.4,182.9 219.9,182.6 222.5,182.3 225,182 227.5,181.7 230,181.4 232.6,181.1 235.1,180.9 237.6,180.7 240.1,180.4 242.6,180 245.2,179.4 247.7,178.7 250.2,177.9 252.7,177 255.2,176.1 257.8,175.2 260.3,174.4 262.8,173.6 265.3,172.8 267.9,172 270.4,171.3 272.9,170.5 275.4,169.9 277.9,169.5 280.5,169.2 283,169.2 285.5,169.5 288,170.1 290.5,170.7 293.1,171.3 295.6,171.9 298.1,172.4 300.6,172.9 303.2,173.5 305.7,174.2 308.2,175.1 310.7,176.1 313.2,177.1 315.8,178.1 318.3,179 320.8,179.7" fill="none" stroke="#7d7d7d" stroke-width="0.6" stroke-linejoin="round" />
<path d="M202.3,180.5 204.8,180.3 207.3,180.1 209.9,179.9 212.4,179.7 214.9,179.5 217.4,179.1 219.9,178.6 222.5,178 225,177.4 227.5,176.6 230,176 232.6,175.5 235.1,175.1 237.6,175 240.1,174.9 242.6,174.9 245.2,174.8 247.7,174.7 250.2,174.5 252.7,174.3 255.2,174.1 257.8,174 260.3,174 262.8,174.1 265.3,174.3 267.9,174.3 270.4,174.2 272.9,174 275.4,173.5 277.9,172.9 280.5,172.2 283,171.5 285.5,170.9 288,170.3 290.5,169.8 293.1,169.3 295.6,168.8 298.1,168.4 300.6,168 303.2,167.8 305.7,167.9 308.2,168.1 310.7,168.5 313.2,169.1 315.8,169.9 318.3,170.6 320.8,171.4" fill="none" stroke="#7d7d7d" stroke-width="0.6" stroke-linejoin="round" />
<path d="M202.3,186.5 204.8,186.4 207.3,186.3 209.9,186.2 212.4,185.9 214.9,185.5 217.4,185 219.9,184.4 222.5,183.7 225,183 227.5,182.4 230,181.9 232.6,181.5 235.1,181.2 237.6,181 240.1,180.6 242.6,180.2 245.2,179.6 247.7,179 250.2,178.4 252.7,177.9 255.2,177.5 257.8,177.3 260.3,177.1 262.8,177.1 265.3,177 267.9,176.8 270.4,176.6 272.9,176.3 275.4,176 277.9,175.7 280.5,175.5 283,175.5 285.5,175.6 288,175.7 290.5,175.8 293.1,175.8 295.6,175.7 298.1,175.7 300.6,175.8 303.2,176.1 305.7,176.6 308.2,177.2 310.7,178 313.2,178.8 315.8,179.4 318.3,179.8 320.8,180" fill="none" stroke="#7d7d7d" stroke-width="0.6" stroke-linejoin="round" />
<path d="M202.3,186.9 204.8,187 207.3,187 209.9,187 212.4,187 214.9,187 217.4,186.8 219.9,186.5 222.5,186.2 225,185.7 227.5,185.3 230,184.9 232.6,184.7 235.1,184.5 237.6,184.3 240.1,184 242.6,183.5 245.2,182.7 247.7,181.8 250.2,180.7 252.7,179.7 255.2,178.6 257.8,177.7 260.3,176.9 262.8,176.3 265.3,175.6 267.9,175.1 270.4,174.6 272.9,174.2 275.4,173.9 277.9,173.7 280.5,173.7 283,173.6 285.5,173.5 288,173.2 290.5,172.6 293.1,171.9 295.6,171.2 298.1,170.7 300.6,170.5 303.2,170.7 305.7,171.3 308.2,172.1 310.7,173.1 313.2,173.9 315.8,174.6 318.3,175.2 320.8,175.6" fill="none" stroke="#7d7d7d" stroke-width="0.6" stroke-linejoin="round" />
<path d="M202.3,186.3 204.8,186.3 207.3,186.2 209.9,186.1 212.4,185.9 214.9,185.6 217.4,185.3 219.9,185 222.5,184.6 225,184.2 227.5,183.8 230,183.4 232.6,183 235.1,182.7 237.6,182.4 240.1,182 242.6,181.6 245.2,181 247.7,180.4 250.2,179.7 252.7,179 255.2,178.3 257.8,177.6 260.3,177 262.8,176.5 265.3,176.1 267.9,175.7 270.4,175.3 272.9,174.9 275.4,174.6 277.9,174.2 280.5,173.9 283,173.8 285.5,173.7 288,173.8 290.5,174 293.1,174.2 295.6,174.4 298.1,174.6 300.6,174.8 303.2,175.1 305.7,175.5 308.2,175.9 310.7,176.5 313.2,177.1 315.8,177.8 318.3,178.6 320.8,179.2" fill="none" stroke="#7d7d7d" stroke-width="0.6" stroke-linejoin="round" />
<path d="M202.3,183.2 204.8,183.1 207.3,183 209.9,182.8 212.4,182.5 214.9,182.1 217.4,181.6 219.9,181.1 222.5,180.6 225,180.2 227.5,179.9 230,179.6 232.6,179.4 235.1,179.2 237.6,178.8 240.1,178.3 242.6,177.6 245.2,176.8 247.7,175.8 250.2,174.9 252.7,174 255.2,173.2 257.8,172.5 260.3,171.7 262.8,171 265.3,170.3 267.9,169.5 270.4,168.7 272.9,168 275.4,167.3 277.9,166.8 280.5,166.5 283,166.4 285.5,166.5 288,166.8 290.5,167.1 293.1,167.4 295.6,167.7 298.1,167.8 300.6,168 303.2,168.2 305.7,168.4 308.2,168.7 310.7,169.1 313.2,169.5 315.8,169.9 318.3,170.3 320.8,170.5" fill="none" stroke="#7d7d7d" stroke-width="0.6" stroke-linejoin="round" />
<path d="M202.3,184.4 204.8,184.4 207.3,184.3 209.9,184.2 212.4,184 214.9,183.7 217.4,183.3 219.9,182.9 222.5,182.5 225,182 227.5,181.6 230,181.3 232.6,181 235.1,180.7 237.6,180.5 240.1,180.3 242.6,180.1 245.2,179.7 247.7,179.2 250.2,178.6 252.7,177.9 255.2,177.1 257.8,176.3 260.3,175.7 262.8,175.1 265.3,174.6 267.9,174.2 270.4,173.7 272.9,173.2 275.4,172.6 277.9,171.9 280.5,171.1 283,170.5 285.5,170.1 288,170 290.5,170.1 293.1,170.3 295.6,170.5 298.1,170.7 300.6,170.8 303.2,171 305.7,171.2 308.2,171.6 310.7,172.3 313.2,173 315.8,173.9 318.3,174.8 320.8,175.5" fill="none" stroke="#7d7d7d" stroke-width="0.6" stroke-linejoin="round" />
<path d="M202.3,185.6 204.8,185.8 207.3,186 209.9,186.2 212.4,186.2 214.9,186.1 217.4,185.9 219.9,185.7 222.5,185.5 225,185.3 227.5,185.1 230,184.9 232.6,184.7 235.1,184.5 237.6,184.4 240.1,184.3 242.6,184.2 245.2,184.1 247.7,184 250.2,183.9 252.7,183.6 255.2,183.2 257.8,182.6 260.3,181.7 262.8,180.6 265.3,179.3 267.9,178 270.4,176.7 272.9,175.7 275.4,174.8 277.9,174.2 280.5,173.9 283,173.9 285.5,174 288,174.3 290.5,174.6 293.1,174.9 295.6,174.9 298.1,174.8 300.6,174.6 303.2,174.3 305.7,174 308.2,173.8 310.7,174 313.2,174.3 315.8,175 318.3,175.9 320.8,176.8" fill="none" stroke="#7d7d7d" stroke-width="0.6" stroke-linejoin="round" />
<path d="M202.3,188.6 204.8,188.8 207.3,188.8 209.9,188.9 212.4,188.9 214.9,188.8 217.4,188.8 219.9,188.8 222.5,188.8 225,188.8 227.5,188.7 230,188.6 232.6,188.3 235.1,187.9 237.6,187.5 240.1,187 242.6,186.5 245.2,185.9 247.7,185.3 250.2,184.6 252.7,184 255.2,183.2 257.8,182.5 260.3,181.8 262.8,181.1 265.3,180.6 267.9,180.3 270.4,180 272.9,179.7 275.4,179.4 277.9,178.9 280.5,178.2 283,177.4 285.5,176.5 288,175.7 290.5,175 293.1,174.5 295.6,174.1 298.1,173.9 300.6,173.8 303.2,173.7 305.7,173.7 308.2,173.7 310.7,173.8 313.2,174 315.8,174.4 318.3,175 320.8,175.6" fill="none" stroke="#7d7d7d" stroke-width="0.6" stroke-linejoin="round" />
<path d="M202.3,182.2 204.8,182.1 207.3,182 209.9,181.9 212.4,181.7 214.9,181.5 217.4,181.3 219.9,181 222.5,180.6 225,180.2 227.5,179.7 230,179.2 232.6,178.8 235.1,178.4 237.6,178.1 240.1,177.8 242.6,177.5 245.2,177.1 247.7,176.6 250.2,176.1 252.7,175.5 255.2,174.9 257.8,174.3 260.3,173.9 262.8,173.5 265.3,173.2 267.9,173 270.4,172.8 272.9,172.7 275.4,172.5 277.9,172.4 280.5,172.3 283,172.2 285.5,172.2 288,172.2 290.5,172.3 293.1,172.3 295.6,172.3 298.1,172.5 300.6,172.8 303.2,173.3 305.7,174 308.2,174.7 310.7,175.6 313.2,176.2 315.8,176.7 318.3,177 320.8,177.1" fill="none" stroke="#7d7d7d" stroke-width="0.6" stroke-linejoin="round" />
<path d="M202.3,183.4 204.8,183.5 207.3,183.6 209.9,183.5 212.4,183.2 214.9,182.7 217.4,182 219.9,181.3 222.5,180.5 225,179.8 227.5,179.2 230,178.7 232.6,178.3 235.1,177.8 237.6,177.3 240.1,176.8 242.6,176.2 245.2,175.6 247.7,175.2 250.2,174.8 252.7,174.6 255.2,174.3 257.8,173.8 260.3,173.1 262.8,172.2 265.3,171 267.9,169.9 270.4,168.8 272.9,168 275.4,167.5 277.9,167.2 280.5,167 283,166.9 285.5,166.7 288,166.4 290.5,166.1 293.1,165.8 295.6,165.6 298.1,165.7 300.6,165.9 303.2,166.3 305.7,166.7 308.2,167 310.7,167.4 313.2,167.8 315.8,168.4 318.3,169.2 320.8,170.2" fill="none" stroke="#7d7d7d" stroke-width="0.6" stroke-linejoin="round" />
<path d="M202.3,184.3 204.8,184.4 207.3,184.4 209.9,184.3 212.4,184.1 214.9,183.9 217.4,183.6 219.9,183.3 222.5,183 225,182.8 227.5,182.4 230,181.9 232.6,181.3 235.1,180.4 237.6,179.5 240.1,178.6 242.6,177.8 245.2,177.2 247.7,176.8 250.2,176.4 252.7,175.9 255.2,175.3 257.8,174.4 260.3,173.3 262.8,172.2 265.3,171.2 267.9,170.4 270.4,170 272.9,169.9 275.4,170 277.9,170.2 280.5,170.4 283,170.5 285.5,170.5 288,170.5 290.5,170.7 293.1,170.9 295.6,171.1 298.1,171.4 300.6,171.6 303.2,171.7 305.7,171.8 308.2,171.8 310.7,171.9 313.2,172.2 315.8,172.8 318.3,173.5 320.8,174.3" fill="none" stroke="#7d7d7d" stroke-width="0.6" stroke-linejoin="round" />
<path d="M202.3,183 204.8,182.9 207.3,182.7 209.9,182.6 212.4,182.4 214.9,182.2 217.4,182 219.9,181.8 222.5,181.4 225,180.9 227.5,180.2 230,179.5 232.6,178.8 235.1,178.2 237.6,177.8 240.1,177.5 242.6,177.2 245.2,177 247.7,176.6 250.2,176.2 252.7,175.6 255.2,174.9 257.8,174.3 260.3,173.8 262.8,173.6 265.3,173.5 267.9,173.4 270.4,173.4 272.9,173.1 275.4,172.6 277.9,171.8 280.5,170.8 283,169.9 285.5,169.2 288,168.8 290.5,168.6 293.1,168.7 295.6,168.8 298.1,168.9 300.6,169.1 303.2,169.4 305.7,169.8 308.2,170.4 310.7,171.2 313.2,172.1 315.8,172.9 318.3,173.7 320.8,174.3" fill="none" stroke="#7d7d7d" stroke-width="0.6" stroke-linejoin="round" />
<path d="M202.3,182.8 204.8,183 207.3,183.2 209.9,183.4 212.4,183.5 214.9,183.5 217.4,183.3 219.9,183 222.5,182.6 225,182.2 227.5,181.8 230,181.5 232.6,181.3 235.1,181 237.6,180.7 240.1,180.2 242.6,179.6 245.2,179 247.7,178.4 250.2,177.8 252.7,177.4 255.2,177 257.8,176.7 260.3,176.4 262.8,176 265.3,175.5 267.9,174.9 270.4,174.3 272.9,173.8 275.4,173.3 277.9,172.8 280.5,172.3 283,171.9 285.5,171.4 288,171 290.5,170.7 293.1,170.7 295.6,170.8 298.1,171.3 300.6,172 303.2,172.9 305.7,173.7 308.2,174.4 310.7,175 313.2,175.6 315.8,176.1 318.3,176.6 320.8,177.3" fill="none" stroke="#7d7d7d" stroke-width="0.6" stroke-linejoin="round" />
<path d="M202.3,182.6 204.8,182.4 207.3,182.2 209.9,181.9 212.4,181.5 214.9,181.1 217.4,180.7 219.9,180.2 222.5,179.6 225,179 227.5,178.3 230,177.6 232.6,177.1 235.1,176.7 237.6,176.5 240.1,176.3 242.6,176.2 245.2,175.9 247.7,175.5 250.2,175.1 252.7,174.5 255.2,174 257.8,173.6 260.3,173.3 262.8,173 265.3,172.7 267.9,172.4 270.4,171.9 272.9,171.3 275.4,170.6 277.9,169.9 280.5,169.3 283,168.8 285.5,168.5 288,168.3 290.5,168.2 293.1,168 295.6,167.8 298.1,167.8 300.6,168.1 303.2,168.8 305.7,169.8 308.2,171.2 310.7,172.7 313.2,174.1 315.8,175.2 318.3,176.1 320.8,176.6" fill="none" stroke="#7d7d7d" stroke-width="0.6" stroke-linejoin="round" />
<path d="M202.3,186.9 204.8,186.9 207.3,186.8 209.9,186.7 212.4,186.5 214.9,186.2 217.4,185.9 219.9,185.5 222.5,185.1 225,184.7 227.5,184.3 230,183.9 232.6,183.6 235.1,183.3 237.6,183 240.1,182.8 242.6,182.6 245.2,182.4 247.7,182.2 250.2,182 252.7,181.8 255.2,181.6 257.8,181.2 260.3,180.8 262.8,180.2 265.3,179.6 267.9,178.8 270.4,178.1 272.9,177.5 275.4,176.9 277.9,176.5 280.5,176.2 283,176 285.5,176 288,176.1 290.5,176.2 293.1,176.3 295.6,176.5 298.1,176.8 300.6,177.2 303.2,177.7 305.7,178.2 308.2,178.9 310.7,179.5 313.2,180 315.8,180.5 318.3,180.9 320.8,181.2" fill="none" stroke="#7d7d7d" stroke-width="0.6" stroke-linejoin="round" />
<path d="M202.3,186.3 204.8,186.2 207.3,186 209.9,185.9 212.4,185.8 214.9,185.7 217.4,185.7 219.9,185.7 222.5,185.7 225,185.6 227.5,185.3 230,184.9 232.6,184.4 235.1,183.8 237.6,183.3 240.1,182.9 242.6,182.5 245.2,182.2 247.7,182 250.2,181.6 252.7,181.1 255.2,180.5 257.8,179.7 260.3,178.8 262.8,177.9 265.3,177.1 267.9,176.4 270.4,175.9 272.9,175.4 275.4,175 277.9,174.5 280.5,174 283,173.5 285.5,173 288,172.7 290.5,172.7 293.1,172.8 295.6,173.2 298.1,173.8 300.6,174.6 303.2,175.3 305.7,175.9 308.2,176.5 310.7,177.1 313.2,177.5 315.8,178.1 318.3,178.7 320.8,179.3" fill="none" stroke="#7d7d7d" stroke-width="0.6" stroke-linejoin="round" />
<path d="M202.3,185.7 204.8,185.7 207.3,185.6 209.9,185.5 212.4,185.2 214.9,184.8 217.4,184.4 219.9,184 222.5,183.6 225,183.2 227.5,182.9 230,182.6 232.6,182.4 235.1,182.1 237.6,181.7 240.1,181 242.6,180.3 245.2,179.3 247.7,178.4 250.2,177.4 252.7,176.7 255.2,176.1 257.8,175.6 260.3,175.2 262.8,174.8 265.3,174.4 267.9,173.8 270.4,173.1 272.9,172.5 275.4,171.9 277.9,171.4 280.5,171.1 283,171 285.5,171 288,171 290.5,171 293.1,170.9 295.6,170.7 298.1,170.6 300.6,170.6 303.2,170.9 305.7,171.3 308.2,171.8 310.7,172.5 313.2,173.1 315.8,173.7 318.3,174.4 320.8,175" fill="none" stroke="#7d7d7d" stroke-width="0.6" stroke-linejoin="round" />
<path d="M202.3,185.7 204.8,185.4 207.3,185.2 209.9,185.1 212.4,185 214.9,185 217.4,185.1 219.9,185 222.5,184.9 225,184.6 227.5,184.1 230,183.5 232.6,182.9 235.1,182.4 237.6,181.9 240.1,181.4 242.6,180.8 245.2,180.2 247.7,179.4 250.2,178.6 252.7,177.8 255.2,177.1 257.8,176.5 260.3,176.1 262.8,175.7 265.3,175.3 267.9,174.8 270.4,174.1 272.9,173.3 275.4,172.3 277.9,171.2 280.5,170.3 283,169.6 285.5,169.3 288,169.3 290.5,169.5 293.1,169.8 295.6,170.2 298.1,170.7 300.6,171.3 303.2,172 305.7,172.9 308.2,173.7 310.7,174.5 313.2,175.2 315.8,175.6 318.3,175.9 320.8,176" fill="none" stroke="#7d7d7d" stroke-width="0.6" stroke-linejoin="round" />
<path d="M202.3,184 204.8,183.5 207.3,183 209.9,182.4 212.4,181.8 214.9,181.4 217.4,181.1 219.9,180.9 222.5,180.8 225,180.7 227.5,180.5 230,180.1 232.6,179.5 235.1,178.6 237.6,177.7 240.1,176.7 242.6,175.7 245.2,174.9 247.7,174.3 250.2,173.7 252.7,173.3 255.2,172.8 257.8,172.3 260.3,171.8 262.8,171.3 265.3,170.9 267.9,170.6 270.4,170.5 272.9,170.5 275.4,170.5 277.9,170.4 280.5,170.1 283,169.7 285.5,169.1 288,168.6 290.5,168.1 293.1,167.7 295.6,167.4 298.1,167.4 300.6,167.6 303.2,167.9 305.7,168.3 308.2,168.7 310.7,169.1 313.2,169.6 315.8,170.2 318.3,170.9 320.8,171.7" fill="none" stroke="#7d7d7d" stroke-width="0.6" stroke-linejoin="round" />
<path d="M202.3,183.2 204.8,183.5 207.3,183.7 209.9,183.9 212.4,184 214.9,184 217.4,184.1 219.9,184.1 222.5,184 225,183.9 227.5,183.8 230,183.5 232.6,183 235.1,182.4 237.6,181.7 240.1,180.8 242.6,179.9 245.2,179.1 247.7,178.3 250.2,177.7 252.7,177.2 255.2,176.8 257.8,176.4 260.3,175.9 262.8,175.2 265.3,174.3 267.9,173.3 270.4,172.1 272.9,170.9 275.4,169.8 277.9,169 280.5,168.4 283,168.2 285.5,168.2 288,168.4 290.5,168.6 293.1,168.6 295.6,168.5 298.1,168.3 300.6,168.1 303.2,168 305.7,168.1 308.2,168.4 310.7,169.1 313.2,170 315.8,171 318.3,172.1 320.8,173.1" fill="none" stroke="#7d7d7d" stroke-width="0.6" stroke-linejoin="round" />
<path d="M202.3,185.9 204.8,185.8 207.3,185.7 209.9,185.6 212.4,185.5 214.9,185.5 217.4,185.5 219.9,185.4 222.5,185.4 225,185.3 227.5,185 230,184.6 232.6,184 235.1,183.3 237.6,182.6 240.1,181.9 242.6,181.3 245.2,180.9 247.7,180.6 250.2,180.6 252.7,180.6 255.2,180.7 257.8,180.7 260.3,180.7 262.8,180.5 265.3,180 267.9,179.4 270.4,178.7 272.9,178.1 275.4,177.6 277.9,177.2 280.5,177.2 283,177.3 285.5,177.7 288,178 290.5,178.2 293.1,178.3 295.6,178.2 298.1,178.1 300.6,178.2 303.2,178.5 305.7,179 308.2,179.7 310.7,180.5 313.2,181.1 315.8,181.4 318.3,181.4 320.8,181.1" fill="none" stroke="#7d7d7d" stroke-width="0.6" stroke-linejoin="round" />
<path d="M202.3,184.4 204.8,184.3 207.3,184.1 209.9,183.8 212.4,183.4 214.9,183 217.4,182.6 219.9,182.1 222.5,181.6 225,181.1 227.5,180.6 230,180.2 232.6,179.8 235.1,179.4 237.6,178.9 240.1,178.4 242.6,177.9 245.2,177.2 247.7,176.4 250.2,175.6 252.7,174.7 255.2,173.8 257.8,172.9 260.3,172 262.8,171.1 265.3,170.3 267.9,169.6 270.4,169.1 272.9,168.7 275.4,168.5 277.9,168.4 280.5,168.5 283,168.8 285.5,169.1 288,169.4 290.5,169.7 293.1,169.8 295.6,169.7 298.1,169.6 300.6,169.6 303.2,169.6 305.7,169.8 308.2,170.2 310.7,170.8 313.2,171.5 315.8,172.2 318.3,173 320.8,173.8" fill="none" stroke="#7d7d7d" stroke-width="0.6" stroke-linejoin="round" />
<path d="M202.3,183.3 204.8,183.3 207.3,183.4 209.9,183.4 212.4,183.4 214.9,183.2 217.4,182.9 219.9,182.5 222.5,182.1 225,181.5 227.5,181 230,180.5 232.6,180.1 235.1,179.6 237.6,179.2 240.1,178.7 242.6,178.2 245.2,177.6 247.7,177 250.2,176.5 252.7,176 255.2,175.4 257.8,174.8 260.3,174.1 262.8,173.3 265.3,172.3 267.9,171.3 270.4,170.4 272.9,169.6 275.4,169 277.9,168.6 280.5,168.4 283,168.2 285.5,168.1 288,167.9 290.5,167.8 293.1,167.8 295.6,168 298.1,168.4 300.6,169 303.2,169.8 305.7,170.7 308.2,171.4 310.7,172 313.2,172.4 315.8,172.8 318.3,173.2 320.8,173.7" fill="none" stroke="#7d7d7d" stroke-width="0.6" stroke-linejoin="round" />
<path d="M202.3,182.1 204.8,182 207.3,182 209.9,181.9 212.4,181.7 214.9,181.6 217.4,181.4 219.9,181.1 222.5,180.8 225,180.4 227.5,179.9 230,179.3 232.6,178.6 235.1,177.9 237.6,177.1 240.1,176.3 242.6,175.6 245.2,174.9 247.7,174.4 250.2,174.1 252.7,173.9 255.2,173.7 257.8,173.6 260.3,173.5 262.8,173.2 265.3,172.8 267.9,172.3 270.4,171.6 272.9,170.8 275.4,170.1 277.9,169.5 280.5,169.1 283,168.9 285.5,169 288,169.2 290.5,169.4 293.1,169.7 295.6,169.8 298.1,170 300.6,170.3 303.2,170.6 305.7,171 308.2,171.5 310.7,172 313.2,172.4 315.8,172.6 318.3,172.8 320.8,172.8" fill="none" stroke="#7d7d7d" stroke-width="0.6" stroke-linejoin="round" />
<path d="M202.3,185.5 204.8,185.6 207.3,185.7 209.9,185.7 212.4,185.6 214.9,185.6 217.4,185.5 219.9,185.4 222.5,185.2 225,185 227.5,184.6 230,184.1 232.6,183.6 235.1,182.9 237.6,182.3 240.1,181.6 242.6,181 245.2,180.4 247.7,179.9 250.2,179.4 252.7,179 255.2,178.7 257.8,178.4 260.3,178.1 262.8,177.8 265.3,177.6 267.9,177.3 270.4,177.1 272.9,176.7 275.4,176.2 277.9,175.6 280.5,174.9 283,174.3 285.5,173.7 288,173.4 290.5,173.3 293.1,173.4 295.6,173.7 298.1,174.2 300.6,174.7 303.2,175.4 305.7,176.1 308.2,176.9 310.7,177.6 313.2,178.4 315.8,179 318.3,179.6 320.8,180" fill="none" stroke="#7d7d7d" stroke-width="0.6" stroke-linejoin="round" />
<path d="M202.3,185.1 204.8,184.7 207.3,184.4 209.9,184.1 212.4,183.7 214.9,183.4 217.4,183.1 219.9,182.7 222.5,182.3 225,181.9 227.5,181.4 230,180.9 232.6,180.6 235.1,180.3 237.6,180.1 240.1,179.9 242.6,179.7 245.2,179.4 247.7,178.9 250.2,178.2 252.7,177.3 255.2,176.3 257.8,175.1 260.3,173.8 262.8,172.5 265.3,171.3 267.9,170.3 270.4,169.5 272.9,169 275.4,168.7 277.9,168.6 280.5,168.7 283,168.8 285.5,169.1 288,169.3 290.5,169.6 293.1,169.9 295.6,170.3 298.1,170.8 300.6,171.3 303.2,172 305.7,172.6 308.2,173.2 310.7,173.6 313.2,173.9 315.8,174 318.3,174.1 320.8,174.2" fill="none" stroke="#7d7d7d" stroke-width="0.6" stroke-linejoin="round" />
<path d="M202.3,182.4 204.8,182.5 207.3,182.5 209.9,182.3 212.4,182 214.9,181.4 217.4,180.9 219.9,180.3 222.5,179.8 225,179.4 227.5,179.2 230,179 232.6,178.8 235.1,178.6 237.6,178.3 240.1,177.8 242.6,177.3 245.2,176.7 247.7,176.3 250.2,176 252.7,175.8 255.2,175.7 257.8,175.6 260.3,175.4 262.8,175.1 265.3,174.4 267.9,173.6 270.4,172.6 272.9,171.6 275.4,170.6 277.9,169.7 280.5,169 283,168.4 285.5,168.1 288,168 290.5,167.9 293.1,167.9 295.6,168 298.1,168.1 300.6,168.5 303.2,169 305.7,169.6 308.2,170.2 310.7,170.8 313.2,171.3 315.8,171.7 318.3,172 320.8,172.1" fill="none" stroke="#7d7d7d" stroke-width="0.6" stroke-linejoin="round" />
<path d="M202.3,187.2 204.8,187 207.3,186.8 209.9,186.5 212.4,186.3 214.9,186 217.4,185.7 219.9,185.4 222.5,185.1 225,184.7 227.5,184.3 230,183.9 232.6,183.5 235.1,183.2 237.6,182.9 240.1,182.6 242.6,182.3 245.2,181.9 247.7,181.4 250.2,180.9 252.7,180.2 255.2,179.6 257.8,178.9 260.3,178.3 262.8,177.9 265.3,177.5 267.9,177.3 270.4,177.1 272.9,177 275.4,176.7 277.9,176.4 280.5,176 283,175.6 285.5,175.3 288,175.2 290.5,175.2 293.1,175.5 295.6,175.9 298.1,176.3 300.6,176.7 303.2,176.9 305.7,177.1 308.2,177.2 310.7,177.3 313.2,177.5 315.8,177.8 318.3,178.3 320.8,178.8" fill="none" stroke="#7d7d7d" stroke-width="0.6" stroke-linejoin="round" />
<path d="M202.3,182.2 204.8,182 207.3,181.8 209.9,181.6 212.4,181.2 214.9,180.7 217.4,180.1 219.9,179.5 222.5,178.7 225,177.9 227.5,177.1 230,176.4 232.6,175.7 235.1,175.3 237.6,174.9 240.1,174.5 242.6,174.2 245.2,173.8 247.7,173.2 250.2,172.4 252.7,171.4 255.2,170.3 257.8,169.1 260.3,167.8 262.8,166.6 265.3,165.6 267.9,164.7 270.4,164.2 272.9,163.9 275.4,163.7 277.9,163.6 280.5,163.5 283,163.3 285.5,163 288,162.5 290.5,162 293.1,161.5 295.6,161.1 298.1,161 300.6,161.2 303.2,161.8 305.7,162.6 308.2,163.6 310.7,164.7 313.2,165.7 315.8,166.6 318.3,167.4 320.8,168.1" fill="none" stroke="#7d7d7d" stroke-width="0.6" stroke-linejoin="round" />
<path d="M202.3,183.4 204.8,183.3 207.3,183.2 209.9,183 212.4,182.7 214.9,182.3 217.4,181.8 219.9,181.3 222.5,180.7 225,180.1 227.5,179.5 230,178.8 232.6,178.1 235.1,177.4 237.6,176.6 240.1,175.7 242.6,174.9 245.2,174 247.7,173.3 250.2,172.6 252.7,171.9 255.2,171.2 257.8,170.4 260.3,169.5 262.8,168.4 265.3,167.1 267.9,165.8 270.4,164.5 272.9,163.3 275.4,162.2 277.9,161.3 280.5,160.5 283,160 285.5,159.6 288,159.4 290.5,159.4 293.1,159.6 295.6,160.1 298.1,160.8 300.6,161.9 303.2,163.2 305.7,164.7 308.2,166.1 310.7,167.6 313.2,169 315.8,170.2 318.3,171.2 320.8,172.1" fill="none" stroke="#7d7d7d" stroke-width="0.6" stroke-linejoin="round" />
<path d="M202.3,188.2 204.8,188.4 207.3,188.5 209.9,188.6 212.4,188.5 214.9,188.4 217.4,188.1 219.9,187.8 222.5,187.4 225,187.1 227.5,186.9 230,186.7 232.6,186.5 235.1,186.3 237.6,186.1 240.1,185.7 242.6,185.2 245.2,184.6 247.7,183.9 250.2,183.4 252.7,182.9 255.2,182.5 257.8,182.2 260.3,181.9 262.8,181.5 265.3,180.9 267.9,180.3 270.4,179.6 272.9,178.9 275.4,178.4 277.9,178.2 280.5,178.2 283,178.3 285.5,178.6 288,178.8 290.5,178.8 293.1,178.7 295.6,178.4 298.1,178.1 300.6,178 303.2,178 305.7,178.2 308.2,178.6 310.7,179 313.2,179.2 315.8,179.2 318.3,179 320.8,178.6" fill="none" stroke="#7d7d7d" stroke-width="0.6" stroke-linejoin="round" />
<path d="M202.3,184.6 204.8,184.4 207.3,184.2 209.9,184 212.4,183.8 214.9,183.7 217.4,183.8 219.9,184 222.5,184.2 225,184.2 227.5,183.9 230,183.4 232.6,182.6 235.1,181.6 237.6,180.8 240.1,180 242.6,179.5 245.2,179.1 247.7,178.8 250.2,178.4 252.7,177.8 255.2,177 257.8,176.1 260.3,175.1 262.8,174.1 265.3,173.2 267.9,172.3 270.4,171.4 272.9,170.4 275.4,169.4 277.9,168.3 280.5,167.4 283,166.8 285.5,166.6 288,167 290.5,167.8 293.1,168.9 295.6,170 298.1,170.9 300.6,171.8 303.2,172.4 305.7,173 308.2,173.5 310.7,174.1 313.2,174.8 315.8,175.4 318.3,176 320.8,176.4" fill="none" stroke="#7d7d7d" stroke-width="0.6" stroke-linejoin="round" />
<path d="M202.3,186.3 204.8,186.3 207.3,186.3 209.9,186.1 212.4,186 214.9,185.7 217.4,185.5 219.9,185.3 222.5,185 225,184.8 227.5,184.5 230,184.1 232.6,183.7 235.1,183.3 237.6,182.8 240.1,182.2 242.6,181.6 245.2,181.1 247.7,180.6 250.2,180.1 252.7,179.7 255.2,179.4 257.8,179 260.3,178.6 262.8,178.2 265.3,177.5 267.9,176.8 270.4,176 272.9,175.2 275.4,174.4 277.9,173.7 280.5,173.3 283,173 285.5,173 288,173.1 290.5,173.4 293.1,173.7 295.6,174 298.1,174.4 300.6,174.8 303.2,175.4 305.7,176 308.2,176.7 310.7,177.5 313.2,178.3 315.8,179 318.3,179.6 320.8,180.1" fill="none" stroke="#7d7d7d" stroke-width="0.6" stroke-linejoin="round" />
<path d="M202.3,183.3 204.8,182.9 207.3,182.4 209.9,181.9 212.4,181.3 214.9,180.9 217.4,180.6 219.9,180.4 222.5,180.3 225,180.2 227.5,179.9 230,179.5 232.6,178.9 235.1,178.3 237.6,177.8 240.1,177.4 242.6,177.1 245.2,177 247.7,176.8 250.2,176.4 252.7,175.7 255.2,174.9 257.8,173.9 260.3,172.9 262.8,172.2 265.3,171.7 267.9,171.5 270.4,171.4 272.9,171.3 275.4,171 277.9,170.3 280.5,169.5 283,168.6 285.5,167.9 288,167.5 290.5,167.4 293.1,167.7 295.6,168.2 298.1,168.7 300.6,169.2 303.2,169.7 305.7,170 308.2,170.4 310.7,170.9 313.2,171.4 315.8,171.9 318.3,172.3 320.8,172.6" fill="none" stroke="#7d7d7d" stroke-width="0.6" stroke-linejoin="round" />
<path d="M202.3,186.6 204.8,186.4 207.3,186.3 209.9,186.2 212.4,186.1 214.9,185.9 217.4,185.7 219.9,185.3 222.5,184.7 225,183.8 227.5,182.9 230,182 232.6,181.3 235.1,180.9 237.6,180.9 240.1,181.1 242.6,181.4 245.2,181.6 247.7,181.6 250.2,181.3 252.7,180.8 255.2,180.1 257.8,179.3 260.3,178.6 262.8,178.1 265.3,177.6 267.9,177.3 270.4,176.9 272.9,176.4 275.4,175.7 277.9,174.9 280.5,174 283,173.3 285.5,172.7 288,172.5 290.5,172.6 293.1,172.9 295.6,173.3 298.1,173.8 300.6,174.3 303.2,174.9 305.7,175.6 308.2,176.6 310.7,177.7 313.2,178.8 315.8,179.9 318.3,180.7 320.8,181.1" fill="none" stroke="#7d7d7d" stroke-width="0.6" stroke-linejoin="round" />
<path d="M202.3,188.1 204.8,188.1 207.3,188.1 209.9,187.9 212.4,187.7 214.9,187.5 217.4,187.3 219.9,187.2 222.5,187.2 225,187.1 227.5,187 230,186.8 232.6,186.5 235.1,186 237.6,185.4 240.1,184.9 242.6,184.4 245.2,184.2 247.7,184.2 250.2,184.4 252.7,184.7 255.2,184.8 257.8,184.7 260.3,184.1 262.8,183.1 265.3,181.7 267.9,180.1 270.4,178.5 272.9,177.1 275.4,176 277.9,175.4 280.5,175.2 283,175.2 285.5,175.4 288,175.6 290.5,175.7 293.1,175.7 295.6,175.6 298.1,175.6 300.6,175.7 303.2,176 305.7,176.5 308.2,177.2 310.7,177.8 313.2,178.4 315.8,178.8 318.3,179.1 320.8,179.2" fill="none" stroke="#7d7d7d" stroke-width="0.6" stroke-linejoin="round" />
<path d="M202.3,185.1 204.8,185 207.3,184.9 209.9,184.6 212.4,184.2 214.9,183.6 217.4,183.1 219.9,182.5 222.5,182.1 225,181.7 227.5,181.4 230,181.2 232.6,181 235.1,180.8 237.6,180.5 240.1,180 242.6,179.6 245.2,179.2 247.7,178.8 250.2,178.6 252.7,178.4 255.2,178.3 257.8,178.1 260.3,177.8 262.8,177.2 265.3,176.6 267.9,175.8 270.4,175.1 272.9,174.6 275.4,174.3 277.9,174.1 280.5,174.2 283,174.3 285.5,174.3 288,174.2 290.5,173.9 293.1,173.6 295.6,173.4 298.1,173.4 300.6,173.7 303.2,174.5 305.7,175.4 308.2,176.4 310.7,177.4 313.2,178.1 315.8,178.6 318.3,178.9 320.8,179.1" fill="none" stroke="#7d7d7d" stroke-width="0.6" stroke-linejoin="round" />
<path d="M202.3,185.1 204.8,185 207.3,184.8 209.9,184.6 212.4,184.3 214.9,184 217.4,183.7 219.9,183.4 222.5,183 225,182.5 227.5,181.9 230,181.3 232.6,180.6 235.1,180 237.6,179.4 240.1,179 242.6,178.7 245.2,178.5 247.7,178.2 250.2,178 252.7,177.7 255.2,177.3 257.8,176.9 260.3,176.4 262.8,175.8 265.3,175.3 267.9,174.8 270.4,174.3 272.9,173.8 275.4,173.3 277.9,172.8 280.5,172.4 283,172.2 285.5,172.1 288,172.2 290.5,172.6 293.1,173.2 295.6,173.8 298.1,174.6 300.6,175.2 303.2,175.8 305.7,176.1 308.2,176.3 310.7,176.3 313.2,176.2 315.8,176.2 318.3,176.2 320.8,176.2" fill="none" stroke="#7d7d7d" stroke-width="0.6" stroke-linejoin="round" />
<path d="M202.3,185.1 204.8,185.2 207.3,185.3 209.9,185.3 212.4,185.3 214.9,185.2 217.4,185.1 219.9,185 222.5,184.9 225,184.8 227.5,184.7 230,184.5 232.6,184.3 235.1,184 237.6,183.6 240.1,183.2 242.6,182.6 245.2,182.2 247.7,181.9 250.2,181.6 252.7,181.5 255.2,181.5 257.8,181.3 260.3,181.1 262.8,180.6 265.3,180.1 267.9,179.5 270.4,179 272.9,178.6 275.4,178.4 277.9,178.2 280.5,178 283,177.8 285.5,177.4 288,177 290.5,176.5 293.1,176.1 295.6,175.8 298.1,175.7 300.6,175.8 303.2,176 305.7,176.1 308.2,176.2 310.7,176.2 313.2,176.2 315.8,176.1 318.3,176.1 320.8,176.2" fill="none" stroke="#7d7d7d" stroke-width="0.6" stroke-linejoin="round" />
<path d="M202.3,188 204.8,187.8 207.3,187.6 209.9,187.4 212.4,187.3 214.9,187.1 217.4,186.9 219.9,186.7 222.5,186.4 225,185.9 227.5,185.3 230,184.5 232.6,183.8 235.1,183.1 237.6,182.6 240.1,182.1 242.6,181.7 245.2,181.2 247.7,180.5 250.2,179.8 252.7,178.9 255.2,178 257.8,177.2 260.3,176.6 262.8,176.3 265.3,176 267.9,175.9 270.4,175.7 272.9,175.5 275.4,175.2 277.9,174.9 280.5,174.7 283,174.7 285.5,175.1 288,175.7 290.5,176.4 293.1,177.2 295.6,177.9 298.1,178.4 300.6,179 303.2,179.4 305.7,179.9 308.2,180.5 310.7,181.1 313.2,181.6 315.8,182 318.3,182.3 320.8,182.6" fill="none" stroke="#7d7d7d" stroke-width="0.6" stroke-linejoin="round" />
<path d="M202.3,185.2 204.8,185.1 207.3,185 209.9,185 212.4,184.8 214.9,184.7 217.4,184.5 219.9,184.2 222.5,183.9 225,183.5 227.5,183 230,182.4 232.6,181.7 235.1,181 237.6,180.3 240.1,179.7 242.6,179.1 245.2,178.7 247.7,178.3 250.2,178.1 252.7,177.8 255.2,177.6 257.8,177.2 260.3,176.8 262.8,176.3 265.3,175.7 267.9,175.1 270.4,174.6 272.9,174.3 275.4,174 277.9,173.8 280.5,173.8 283,173.8 285.5,173.9 288,174 290.5,174.1 293.1,174.2 295.6,174.3 298.1,174.4 300.6,174.5 303.2,174.7 305.7,174.9 308.2,175.2 310.7,175.6 313.2,176.2 315.8,176.8 318.3,177.6 320.8,178.5" fill="none" stroke="#7d7d7d" stroke-width="0.6" stroke-linejoin="round" />
<path d="M202.3,182 204.8,181.9 207.3,181.8 209.9,181.8 212.4,181.8 214.9,181.8 217.4,181.7 219.9,181.6 222.5,181.3 225,180.9 227.5,180.4 230,179.8 232.6,179.1 235.1,178.4 237.6,177.7 240.1,177 242.6,176.3 245.2,175.7 247.7,175.1 250.2,174.6 252.7,174.1 255.2,173.6 257.8,173.2 260.3,172.8 262.8,172.5 265.3,172.1 267.9,171.7 270.4,171.3 272.9,171 275.4,170.6 277.9,170.3 280.5,170 283,169.7 285.5,169.4 288,169.1 290.5,168.8 293.1,168.6 295.6,168.3 298.1,168.2 300.6,168.2 303.2,168.5 305.7,169.1 308.2,169.8 310.7,170.6 313.2,171.5 315.8,172.2 318.3,172.8 320.8,173.1" fill="none" stroke="#7d7d7d" stroke-width="0.6" stroke-linejoin="round" />
<path d="M202.3,185.1 204.8,185.1 207.3,185.1 209.9,184.9 212.4,184.5 214.9,184 217.4,183.5 219.9,182.9 222.5,182.4 225,181.9 227.5,181.6 230,181.4 232.6,181.3 235.1,181.2 237.6,181.1 240.1,180.9 242.6,180.6 245.2,180.3 247.7,179.8 250.2,179.3 252.7,178.8 255.2,178.2 257.8,177.6 260.3,177.1 262.8,176.5 265.3,176.1 267.9,175.6 270.4,175.3 272.9,175 275.4,174.6 277.9,174.3 280.5,173.9 283,173.4 285.5,173 288,172.6 290.5,172.1 293.1,171.8 295.6,171.5 298.1,171.4 300.6,171.5 303.2,171.8 305.7,172.2 308.2,172.7 310.7,173.3 313.2,173.9 315.8,174.4 318.3,174.8 320.8,175" fill="none" stroke="#7d7d7d" stroke-width="0.6" stroke-linejoin="round" />
<path d="M202.3,184 204.8,183.8 207.3,183.4 209.9,183 212.4,182.5 214.9,182.1 217.4,181.7 219.9,181.5 222.5,181.4 225,181.5 227.5,181.6 230,181.6 232.6,181.5 235.1,181.2 237.6,180.8 240.1,180.2 242.6,179.7 245.2,179.3 247.7,179.2 250.2,179.2 252.7,179.3 255.2,179.4 257.8,179.4 260.3,179.2 262.8,179 265.3,178.6 267.9,178.3 270.4,177.9 272.9,177.7 275.4,177.5 277.9,177.2 280.5,177 283,176.7 285.5,176.4 288,176.2 290.5,176.1 293.1,176.2 295.6,176.4 298.1,176.7 300.6,177 303.2,177.3 305.7,177.6 308.2,177.8 310.7,178 313.2,178.4 315.8,178.8 318.3,179.2 320.8,179.7" fill="none" stroke="#7d7d7d" stroke-width="0.6" stroke-linejoin="round" />
<path d="M202.3,188 204.8,187.9 207.3,187.7 209.9,187.5 212.4,187.4 214.9,187.3 217.4,187.1 219.9,187 222.5,186.8 225,186.4 227.5,185.9 230,185.3 232.6,184.7 235.1,184.1 237.6,183.7 240.1,183.4 242.6,183.3 245.2,183.2 247.7,183.2 250.2,183 252.7,182.7 255.2,182.3 257.8,181.9 260.3,181.5 262.8,181.1 265.3,180.8 267.9,180.5 270.4,180.1 272.9,179.6 275.4,179 277.9,178.4 280.5,177.8 283,177.5 285.5,177.3 288,177.2 290.5,177.2 293.1,177.2 295.6,176.9 298.1,176.7 300.6,176.4 303.2,176.4 305.7,176.7 308.2,177.3 310.7,178.3 313.2,179.5 315.8,180.6 318.3,181.6 320.8,182.3" fill="none" stroke="#7d7d7d" stroke-width="0.6" stroke-linejoin="round" />
<path d="M202.3,185.1 204.8,184.9 207.3,184.8 209.9,184.5 212.4,184.2 214.9,183.9 217.4,183.7 219.9,183.5 222.5,183.3 225,183 227.5,182.8 230,182.4 232.6,181.9 235.1,181.3 237.6,180.5 240.1,179.7 242.6,178.9 245.2,178.1 247.7,177.5 250.2,176.9 252.7,176.5 255.2,176.2 257.8,175.8 260.3,175.4 262.8,174.9 265.3,174.2 267.9,173.4 270.4,172.6 272.9,171.7 275.4,171 277.9,170.5 280.5,170.1 283,170 285.5,170 288,170.2 290.5,170.4 293.1,170.6 295.6,170.9 298.1,171.1 300.6,171.5 303.2,172 305.7,172.6 308.2,173.2 310.7,173.9 313.2,174.5 315.8,175.1 318.3,175.7 320.8,176.1" fill="none" stroke="#7d7d7d" stroke-width="0.6" stroke-linejoin="round" />
<path d="M202.3,183.5 204.8,183.4 207.3,183.2 209.9,183 212.4,182.8 214.9,182.6 217.4,182.5 219.9,182.4 222.5,182.4 225,182.3 227.5,182.1 230,181.8 232.6,181.3 235.1,180.8 237.6,180.1 240.1,179.5 242.6,179 245.2,178.5 247.7,178.1 250.2,177.7 252.7,177.3 255.2,177 257.8,176.5 260.3,176.1 262.8,175.7 265.3,175.3 267.9,174.9 270.4,174.6 272.9,174.4 275.4,174.1 277.9,173.7 280.5,173.2 283,172.6 285.5,172 288,171.4 290.5,170.9 293.1,170.4 295.6,170.2 298.1,170.1 300.6,170.3 303.2,170.7 305.7,171.3 308.2,171.9 310.7,172.6 313.2,173.4 315.8,174.1 318.3,174.8 320.8,175.4" fill="none" stroke="#7d7d7d" stroke-width="0.6" stroke-linejoin="round" />
<path d="M202.3,185.9 204.8,185.9 207.3,185.7 209.9,185.5 212.4,185.1 214.9,184.7 217.4,184.3 219.9,183.8 222.5,183.4 225,183 227.5,182.7 230,182.3 232.6,181.9 235.1,181.4 237.6,180.9 240.1,180.2 242.6,179.6 245.2,179 247.7,178.5 250.2,178.2 252.7,178.1 255.2,178.1 257.8,178.2 260.3,178.3 262.8,178.2 265.3,178 267.9,177.4 270.4,176.7 272.9,175.9 275.4,175 277.9,174.2 280.5,173.7 283,173.5 285.5,173.6 288,174 290.5,174.6 293.1,175.3 295.6,176 298.1,176.7 300.6,177.4 303.2,178.1 305.7,178.8 308.2,179.6 310.7,180.3 313.2,181 315.8,181.6 318.3,182.1 320.8,182.5" fill="none" stroke="#7d7d7d" stroke-width="0.6" stroke-linejoin="round" />
<path d="M202.3,186.8 204.8,186.9 207.3,186.9 209.9,186.8 212.4,186.7 214.9,186.5 217.4,186.2 219.9,185.9 222.5,185.7 225,185.6 227.5,185.6 230,185.6 232.6,185.6 235.1,185.5 237.6,185.1 240.1,184.4 242.6,183.5 245.2,182.5 247.7,181.5 250.2,180.6 252.7,179.9 255.2,179.5 257.8,179.2 260.3,179 262.8,178.8 265.3,178.5 267.9,178.1 270.4,177.8 272.9,177.4 275.4,177 277.9,176.8 280.5,176.6 283,176.6 285.5,176.5 288,176.6 290.5,176.5 293.1,176.5 295.6,176.4 298.1,176.4 300.6,176.4 303.2,176.5 305.7,176.5 308.2,176.7 310.7,177 313.2,177.4 315.8,178 318.3,178.8 320.8,179.8" fill="none" stroke="#7d7d7d" stroke-width="0.6" stroke-linejoin="round" />
<path d="M202.3,184.3 204.8,184.3 207.3,184.3 209.9,184.3 212.4,184.1 214.9,183.9 217.4,183.7 219.9,183.4 222.5,183.1 225,182.7 227.5,182.2 230,181.7 232.6,181.2 235.1,180.6 237.6,179.9 240.1,179.3 242.6,178.6 245.2,178 247.7,177.4 250.2,176.8 252.7,176.4 255.2,176 257.8,175.6 260.3,175.1 262.8,174.7 265.3,174.1 267.9,173.6 270.4,173.1 272.9,172.6 275.4,172.1 277.9,171.7 280.5,171.4 283,171.3 285.5,171.2 288,171.2 290.5,171.2 293.1,171.1 295.6,171 298.1,170.8 300.6,170.6 303.2,170.5 305.7,170.4 308.2,170.4 310.7,170.5 313.2,170.7 315.8,171.1 318.3,171.7 320.8,172.3" fill="none" stroke="#7d7d7d" stroke-width="0.6" stroke-linejoin="round" />
<path d="M202.3,184.9 204.8,184.8 207.3,184.6 209.9,184.5 212.4,184.3 214.9,184.2 217.4,184.1 219.9,184.1 222.5,184 225,183.9 227.5,183.7 230,183.5 232.6,183.1 235.1,182.7 237.6,182.2 240.1,181.7 242.6,181.3 245.2,180.9 247.7,180.6 250.2,180.3 252.7,180 255.2,179.8 257.8,179.4 260.3,179 262.8,178.6 265.3,178.1 267.9,177.5 270.4,176.9 272.9,176.3 275.4,175.7 277.9,175 280.5,174.4 283,173.9 285.5,173.6 288,173.5 290.5,173.6 293.1,173.8 295.6,174.2 298.1,174.6 300.6,175.2 303.2,175.7 305.7,176.2 308.2,176.6 310.7,177 313.2,177.3 315.8,177.5 318.3,177.7 320.8,177.8" fill="none" stroke="#7d7d7d" stroke-width="0.6" stroke-linejoin="round" />
<path d="M202.3,185.2 204.8,185.4 207.3,185.5 209.9,185.5 212.4,185.4 214.9,185.2 217.4,184.9 219.9,184.7 222.5,184.4 225,184.2 227.5,184 230,183.8 232.6,183.5 235.1,183.1 237.6,182.6 240.1,182 242.6,181.4 245.2,180.8 247.7,180.3 250.2,180 252.7,179.7 255.2,179.5 257.8,179.3 260.3,179.1 262.8,178.7 265.3,178.2 267.9,177.7 270.4,177.3 272.9,177 275.4,176.9 277.9,176.9 280.5,176.9 283,176.9 285.5,176.7 288,176.3 290.5,175.6 293.1,174.9 295.6,174.3 298.1,174 300.6,174.3 303.2,175.1 305.7,176.3 308.2,177.8 310.7,179.4 313.2,180.7 315.8,181.6 318.3,182.1 320.8,182.1" fill="none" stroke="#7d7d7d" stroke-width="0.6" stroke-linejoin="round" />
<path d="M202.3,182.2 204.8,182 207.3,181.8 209.9,181.7 212.4,181.6 214.9,181.5 217.4,181.3 219.9,181.1 222.5,180.7 225,180.1 227.5,179.5 230,178.7 232.6,178 235.1,177.4 237.6,177 240.1,176.6 242.6,176.4 245.2,176.1 247.7,175.7 250.2,175.1 252.7,174.5 255.2,173.8 257.8,173.3 260.3,172.8 262.8,172.6 265.3,172.5 267.9,172.6 270.4,172.6 272.9,172.5 275.4,172.3 277.9,171.9 280.5,171.3 283,170.7 285.5,170.3 288,169.9 290.5,169.8 293.1,169.7 295.6,169.7 298.1,169.8 300.6,170.1 303.2,170.4 305.7,170.9 308.2,171.6 310.7,172.4 313.2,173.2 315.8,174.1 318.3,174.8 320.8,175.3" fill="none" stroke="#7d7d7d" stroke-width="0.6" stroke-linejoin="round" />
<path d="M202.3,182.9 204.8,182.7 207.3,182.6 209.9,182.5 212.4,182.3 214.9,182.1 217.4,181.8 219.9,181.6 222.5,181.3 225,181 227.5,180.6 230,180.2 232.6,179.8 235.1,179.4 237.6,179 240.1,178.6 242.6,178.1 245.2,177.5 247.7,176.9 250.2,176.2 252.7,175.6 255.2,174.9 257.8,174.3 260.3,173.7 262.8,173.1 265.3,172.3 267.9,171.6 270.4,170.8 272.9,169.9 275.4,169.2 277.9,168.6 280.5,168.2 283,168 285.5,168 288,168.2 290.5,168.5 293.1,168.7 295.6,168.9 298.1,169.1 300.6,169.3 303.2,169.6 305.7,169.9 308.2,170.3 310.7,170.7 313.2,171.1 315.8,171.4 318.3,171.8 320.8,172" fill="none" stroke="#7d7d7d" stroke-width="0.6" stroke-linejoin="round" />
<path d="M202.3,186.8 204.8,186.5 207.3,186.2 209.9,186 212.4,185.8 214.9,185.5 217.4,185.3 219.9,185 222.5,184.8 225,184.5 227.5,184.1 230,183.8 232.6,183.5 235.1,183.2 237.6,182.7 240.1,182.2 242.6,181.5 245.2,180.7 247.7,179.9 250.2,179.2 252.7,178.6 255.2,178.1 257.8,177.8 260.3,177.6 262.8,177.3 265.3,176.8 267.9,176.2 270.4,175.5 272.9,174.7 275.4,173.9 277.9,173.3 280.5,172.8 283,172.6 285.5,172.5 288,172.5 290.5,172.4 293.1,172.1 295.6,171.8 298.1,171.5 300.6,171.4 303.2,171.6 305.7,172.1 308.2,172.8 310.7,173.7 313.2,174.5 315.8,175.2 318.3,175.8 320.8,176.2" fill="none" stroke="#7d7d7d" stroke-width="0.6" stroke-linejoin="round" />
<path d="M202.3,182.5 204.8,182.2 207.3,181.9 209.9,181.4 212.4,180.9 214.9,180.3 217.4,179.7 219.9,179.1 222.5,178.6 225,178.1 227.5,177.6 230,177.1 232.6,176.6 235.1,176.2 237.6,175.9 240.1,175.5 242.6,175.1 245.2,174.8 247.7,174.4 250.2,173.9 252.7,173.5 255.2,173 257.8,172.5 260.3,172 262.8,171.7 265.3,171.5 267.9,171.4 270.4,171.3 272.9,171.1 275.4,170.7 277.9,170.2 280.5,169.6 283,169 285.5,168.6 288,168.4 290.5,168.6 293.1,169 295.6,169.6 298.1,170.2 300.6,170.7 303.2,171 305.7,171.1 308.2,171.2 310.7,171.2 313.2,171.2 315.8,171.3 318.3,171.5 320.8,171.8" fill="none" stroke="#7d7d7d" stroke-width="0.6" stroke-linejoin="round" />
<path d="M202.3,184.2 204.8,183.8 207.3,183.5 209.9,183.2 212.4,182.9 214.9,182.6 217.4,182.2 219.9,181.6 222.5,180.9 225,180.2 227.5,179.4 230,178.7 232.6,178.1 235.1,177.8 237.6,177.4 240.1,177.1 242.6,176.5 245.2,175.8 247.7,174.9 250.2,174 252.7,173 255.2,172.3 257.8,171.7 260.3,171.3 262.8,170.9 265.3,170.6 267.9,170.2 270.4,169.8 272.9,169.4 275.4,169.1 277.9,169 280.5,168.9 283,169 285.5,169 288,168.9 290.5,168.7 293.1,168.4 295.6,168.1 298.1,168.2 300.6,168.6 303.2,169.5 305.7,170.6 308.2,171.7 310.7,172.7 313.2,173.2 315.8,173.3 318.3,173.2 320.8,173" fill="none" stroke="#7d7d7d" stroke-width="0.6" stroke-linejoin="round" />
<path d="M202.3,186.6 204.8,186.3 207.3,186 209.9,185.7 212.4,185.3 214.9,185 217.4,184.7 219.9,184.4 222.5,184.1 225,183.9 227.5,183.7 230,183.4 232.6,183.2 235.1,182.9 237.6,182.6 240.1,182.1 242.6,181.5 245.2,180.8 247.7,179.9 250.2,178.9 252.7,177.8 255.2,176.7 257.8,175.7 260.3,174.8 262.8,174 265.3,173.4 267.9,172.9 270.4,172.4 272.9,172 275.4,171.6 277.9,171.1 280.5,170.5 283,169.9 285.5,169.4 288,169.1 290.5,169 293.1,169.3 295.6,169.9 298.1,170.9 300.6,172 303.2,173.2 305.7,174.3 308.2,175.3 310.7,176 313.2,176.5 315.8,176.7 318.3,176.7 320.8,176.6" fill="none" stroke="#7d7d7d" stroke-width="0.6" stroke-linejoin="round" />
<path d="M202.3,185.6 204.8,185.4 207.3,185 209.9,184.7 212.4,184.4 214.9,184.1 217.4,183.8 219.9,183.5 222.5,183.2 225,182.7 227.5,182.1 230,181.4 232.6,180.7 235.1,180.1 237.6,179.6 240.1,179.3 242.6,179 245.2,178.8 247.7,178.5 250.2,178.1 252.7,177.6 255.2,177 257.8,176.4 260.3,175.9 262.8,175.6 265.3,175.4 267.9,175.5 270.4,175.6 272.9,175.6 275.4,175.6 277.9,175.4 280.5,175 283,174.5 285.5,173.9 288,173.4 290.5,172.9 293.1,172.6 295.6,172.5 298.1,172.5 300.6,172.8 303.2,173.3 305.7,173.8 308.2,174.4 310.7,175 313.2,175.5 315.8,175.9 318.3,176.3 320.8,176.7" fill="none" stroke="#7d7d7d" stroke-width="0.6" stroke-linejoin="round" />
<path d="M202.3,184.6 204.8,184.5 207.3,184.3 209.9,184.1 212.4,183.9 214.9,183.6 217.4,183.4 219.9,183.2 222.5,183 225,182.7 227.5,182.3 230,181.7 232.6,180.9 235.1,180 237.6,178.9 240.1,177.8 242.6,176.8 245.2,176.2 247.7,175.9 250.2,175.9 252.7,176.1 255.2,176.7 257.8,177.4 260.3,178 262.8,178.5 265.3,178.9 267.9,179.3 270.4,179.6 272.9,180 275.4,180.5 277.9,181.1 280.5,181.7 283,182.5 285.5,183.2 288,183.7 290.5,183.9 293.1,183.9 295.6,183.7 298.1,183.2 300.6,182.6 303.2,182.2 305.7,182 308.2,181.9 310.7,182.1 313.2,182.4 315.8,182.9 318.3,183.3 320.8,183.6" fill="none" stroke="#7d7d7d" stroke-width="0.6" stroke-linejoin="round" />
<path d="M202.3,184 204.8,183.9 207.3,183.9 209.9,183.8 212.4,183.6 214.9,183.3 217.4,183 219.9,182.6 222.5,182.2 225,181.7 227.5,181.1 230,180.5 232.6,179.8 235.1,179.2 237.6,178.5 240.1,178 242.6,177.7 245.2,177.6 247.7,177.9 250.2,178.4 252.7,179.2 255.2,180.2 257.8,181.3 260.3,182.3 262.8,183.2 265.3,183.9 267.9,184.5 270.4,184.9 272.9,185.1 275.4,185 277.9,184.7 280.5,184.3 283,183.7 285.5,183 288,182.4 290.5,182.1 293.1,182 295.6,182.1 298.1,182.4 300.6,182.7 303.2,182.9 305.7,182.9 308.2,182.8 310.7,182.4 313.2,181.8 315.8,181.1 318.3,180.6 320.8,180.1" fill="none" stroke="#7d7d7d" stroke-width="0.6" stroke-linejoin="round" />
<path d="M200.4,191.4 C202.6,191 209.6,189.9 213.4,188.9 C217.2,187.9 220.6,186 223.3,185.2 C226,184.4 226.8,185.2 229.5,184.3 C232.2,183.4 236,181.7 239.4,180 C242.8,178.3 246.2,176.1 250,174 C253.8,171.9 258.5,169.8 262.4,167.2 C266.3,164.6 270.1,160.9 273.6,158.5 C277.1,156.1 280.4,154.4 283.5,153 C286.6,151.6 289.5,150.3 292.2,149.9 C294.9,149.5 296.9,149.9 299.6,150.5 C302.3,151.1 305,151.7 308.3,153.6 C311.6,155.5 317.6,160.6 319.5,162" fill="none" stroke="#2cb3bf" stroke-width="1.1" stroke-linejoin="round" />
<line x1="196.3" y1="143" x2="196.3" y2="219.5" stroke="#8a8a8a" stroke-width="1" />
<line x1="193.5" y1="148.6" x2="196.3" y2="148.6" stroke="#555555" stroke-width="0.7" />
<text x="189.8" y="151.43" font-size="7.9" text-anchor="end" fill="#231f20">5</text>
<line x1="193.5" y1="182.1" x2="196.3" y2="182.1" stroke="#555555" stroke-width="0.7" />
<text x="189.8" y="184.93" font-size="7.9" text-anchor="end" fill="#231f20">0</text>
<line x1="193.5" y1="216" x2="196.3" y2="216" stroke="#555555" stroke-width="0.7" />
<text x="189.8" y="218.83" font-size="7.9" text-anchor="end" fill="#231f20">−5</text>
<line x1="196.3" y1="219.5" x2="330.5" y2="219.5" stroke="#8a8a8a" stroke-width="1" />
<line x1="202.3" y1="219.5" x2="202.3" y2="222.3" stroke="#555555" stroke-width="0.7" />
<text x="202.3" y="232.1" font-size="7.8" text-anchor="middle" fill="#231f20">−2.0</text>
<line x1="233.1" y1="219.5" x2="233.1" y2="222.3" stroke="#555555" stroke-width="0.7" />
<text x="233.1" y="232.1" font-size="7.8" text-anchor="middle" fill="#231f20">−1.5</text>
<line x1="263.1" y1="219.5" x2="263.1" y2="222.3" stroke="#555555" stroke-width="0.7" />
<text x="263.1" y="232.1" font-size="7.8" text-anchor="middle" fill="#231f20">−1.0</text>
<line x1="293.8" y1="219.5" x2="293.8" y2="222.3" stroke="#555555" stroke-width="0.7" />
<text x="293.8" y="232.1" font-size="7.8" text-anchor="middle" fill="#231f20">−0.5</text>
<line x1="324.3" y1="219.5" x2="324.3" y2="222.3" stroke="#555555" stroke-width="0.7" />
<text x="324.3" y="232.1" font-size="7.8" text-anchor="middle" fill="#231f20">0</text>
<text x="263.3" y="246.1" font-size="8.0" text-anchor="middle" fill="#231f20">Time to reward (s)</text>
<text x="177.5" y="181" font-size="8.0" text-anchor="middle" fill="#231f20" transform="rotate(-90 177.5 181)"><tspan font-style="italic">z</tspan>-scored HGA</text>
<line x1="200.8" y1="148.9" x2="212.5" y2="148.9" stroke="#2cb3bf" stroke-width="1.4" />
<line x1="200.8" y1="157.9" x2="212.5" y2="157.9" stroke="#7d7d7d" stroke-width="1.4" />
<text x="216.8" y="151.7" font-size="8.0" text-anchor="start" fill="#231f20">CE</text>
<text x="216.8" y="160.7" font-size="8.0" text-anchor="start" fill="#231f20">Non-CE</text>
<text x="172.4" y="141.2" font-size="10.5" text-anchor="start" fill="#000" font-weight="bold">d</text>
<rect x="352.6" y="21.2" width="7.85" height="7.85" fill="#ffffff" />
<rect x="360" y="21.2" width="7.85" height="7.85" fill="#ffffff" />
<rect x="367.4" y="21.2" width="7.85" height="7.85" fill="#f2c8b5" />
<rect x="374.8" y="21.2" width="7.85" height="7.85" fill="#ffffff" />
<rect x="382.2" y="21.2" width="7.85" height="7.85" fill="#ffffff" />
<rect x="389.6" y="21.2" width="7.85" height="7.85" fill="#9db5e0" />
<rect x="397" y="21.2" width="7.85" height="7.85" fill="#7f9fd9" />
<rect x="404.4" y="21.2" width="7.85" height="7.85" fill="#3c54b0" />
<rect x="411.8" y="21.2" width="7.85" height="7.85" fill="#d8d8d8" />
<rect x="419.2" y="21.2" width="7.4" height="7.85" fill="#ffffff" />
<rect x="352.6" y="28.6" width="7.85" height="7.85" fill="#3a4fa8" />
<rect x="360" y="28.6" width="7.85" height="7.85" fill="#d5dbe6" />
<rect x="367.4" y="28.6" width="7.85" height="7.85" fill="#86a3d8" />
<rect x="374.8" y="28.6" width="7.85" height="7.85" fill="#b5c8ea" />
<rect x="382.2" y="28.6" width="7.85" height="7.85" fill="#b8c9e8" />
<rect x="389.6" y="28.6" width="7.85" height="7.85" fill="#e0dad8" />
<rect x="397" y="28.6" width="7.85" height="7.85" fill="#c0cfe9" />
<rect x="404.4" y="28.6" width="7.85" height="7.85" fill="#d3dbe9" />
<rect x="411.8" y="28.6" width="7.85" height="7.85" fill="#bccfec" />
<rect x="419.2" y="28.6" width="7.4" height="7.85" fill="#dcdcdc" />
<rect x="352.6" y="36" width="7.85" height="7.85" fill="#ffffff" />
<rect x="360" y="36" width="7.85" height="7.85" fill="#ffffff" />
<rect x="367.4" y="36" width="7.85" height="7.85" fill="#86a3d8" />
<rect x="374.8" y="36" width="7.85" height="7.85" fill="#c5d3ec" />
<rect x="382.2" y="36" width="7.85" height="7.85" fill="#b9cbea" />
<rect x="389.6" y="36" width="7.85" height="7.85" fill="#b5c8ea" />
<rect x="397" y="36" width="7.85" height="7.85" fill="#ccd7ec" />
<rect x="404.4" y="36" width="7.85" height="7.85" fill="#ffffff" />
<rect x="411.8" y="36" width="7.85" height="7.85" fill="#ffffff" />
<rect x="419.2" y="36" width="7.4" height="7.85" fill="#ffffff" />
<rect x="352.6" y="43.4" width="7.85" height="7.85" fill="#ffffff" />
<rect x="360" y="43.4" width="7.85" height="7.85" fill="#ffffff" />
<rect x="367.4" y="43.4" width="7.85" height="7.85" fill="#f2a98c" />
<rect x="374.8" y="43.4" width="7.85" height="7.85" fill="#d9d9dc" />
<rect x="382.2" y="43.4" width="7.85" height="7.85" fill="#bccdea" />
<rect x="389.6" y="43.4" width="7.85" height="7.85" fill="#b5202e" />
<rect x="397" y="43.4" width="7.85" height="7.85" fill="#c2d1ec" />
<rect x="404.4" y="43.4" width="7.85" height="7.85" fill="#d6dbe4" />
<rect x="411.8" y="43.4" width="7.85" height="7.85" fill="#93abdc" />
<rect x="419.2" y="43.4" width="7.4" height="7.85" fill="#f0916e" />
<rect x="352.6" y="50.8" width="7.85" height="7.85" fill="#ffffff" />
<rect x="360" y="50.8" width="7.85" height="7.85" fill="#ffffff" />
<rect x="367.4" y="50.8" width="7.85" height="7.85" fill="#c5d5ee" />
<rect x="374.8" y="50.8" width="7.85" height="7.85" fill="#f0cdbf" />
<rect x="382.2" y="50.8" width="7.85" height="7.85" fill="#b8cbea" />
<rect x="389.6" y="50.8" width="7.85" height="7.85" fill="#dadada" />
<rect x="397" y="50.8" width="7.85" height="7.85" fill="#ffffff" />
<rect x="404.4" y="50.8" width="7.85" height="7.85" fill="#6b8ccf" />
<rect x="411.8" y="50.8" width="7.85" height="7.85" fill="#ffffff" />
<rect x="419.2" y="50.8" width="7.4" height="7.85" fill="#ffffff" />
<rect x="352.6" y="58.2" width="7.85" height="7.85" fill="#ffffff" />
<rect x="360" y="58.2" width="7.85" height="7.85" fill="#ffffff" />
<rect x="367.4" y="58.2" width="7.85" height="7.85" fill="#c5d5ee" />
<rect x="374.8" y="58.2" width="7.85" height="7.85" fill="#92acdd" />
<rect x="382.2" y="58.2" width="7.85" height="7.85" fill="#6384cc" />
<rect x="389.6" y="58.2" width="7.85" height="7.85" fill="#6384cc" />
<rect x="397" y="58.2" width="7.85" height="7.85" fill="#b0c5e8" />
<rect x="404.4" y="58.2" width="7.85" height="7.85" fill="#bcd0ec" />
<rect x="411.8" y="58.2" width="7.85" height="7.85" fill="#ffffff" />
<rect x="419.2" y="58.2" width="7.4" height="7.85" fill="#ffffff" />
<rect x="352.6" y="65.6" width="7.85" height="7.85" fill="#ffffff" />
<rect x="360" y="65.6" width="7.85" height="7.85" fill="#ffffff" />
<rect x="367.4" y="65.6" width="7.85" height="7.85" fill="#c5d5ee" />
<rect x="374.8" y="65.6" width="7.85" height="7.85" fill="#bfd0ec" />
<rect x="382.2" y="65.6" width="7.85" height="7.85" fill="#b0c5e8" />
<rect x="389.6" y="65.6" width="7.85" height="7.85" fill="#aac0e6" />
<rect x="397" y="65.6" width="7.85" height="7.85" fill="#b5c8ea" />
<rect x="404.4" y="65.6" width="7.85" height="7.85" fill="#ffffff" />
<rect x="411.8" y="65.6" width="7.85" height="7.85" fill="#ffffff" />
<rect x="419.2" y="65.6" width="7.4" height="7.85" fill="#6e8fd0" />
<rect x="352.6" y="73" width="7.85" height="7.85" fill="#ffffff" />
<rect x="360" y="73" width="7.85" height="7.85" fill="#c0d2ee" />
<rect x="367.4" y="73" width="7.85" height="7.85" fill="#ffffff" />
<rect x="374.8" y="73" width="7.85" height="7.85" fill="#d0dcef" />
<rect x="382.2" y="73" width="7.85" height="7.85" fill="#cfdaec" />
<rect x="389.6" y="73" width="7.85" height="7.85" fill="#c5d3ec" />
<rect x="397" y="73" width="7.85" height="7.85" fill="#b5c8ea" />
<rect x="404.4" y="73" width="7.85" height="7.85" fill="#ffffff" />
<rect x="411.8" y="73" width="7.85" height="7.85" fill="#ffffff" />
<rect x="419.2" y="73" width="7.4" height="7.85" fill="#ffffff" />
<rect x="352.6" y="80.4" width="7.85" height="7.85" fill="#c9d7ee" />
<rect x="360" y="80.4" width="7.85" height="7.85" fill="#b3c7ea" />
<rect x="367.4" y="80.4" width="7.85" height="7.85" fill="#ffffff" />
<rect x="374.8" y="80.4" width="7.85" height="7.85" fill="#ffffff" />
<rect x="382.2" y="80.4" width="7.85" height="7.85" fill="#b0c5e8" />
<rect x="389.6" y="80.4" width="7.85" height="7.85" fill="#d5dce8" />
<rect x="397" y="80.4" width="7.85" height="7.85" fill="#9db5e0" />
<rect x="404.4" y="80.4" width="7.85" height="7.85" fill="#ffffff" />
<rect x="411.8" y="80.4" width="7.85" height="7.85" fill="#b5202e" />
<rect x="419.2" y="80.4" width="7.4" height="7.85" fill="#7f9fd9" />
<rect x="352.6" y="87.8" width="7.85" height="7.4" fill="#ffffff" />
<rect x="360" y="87.8" width="7.85" height="7.4" fill="#8ea8dc" />
<rect x="367.4" y="87.8" width="7.85" height="7.4" fill="#d5dce8" />
<rect x="374.8" y="87.8" width="7.85" height="7.4" fill="#f2b89e" />
<rect x="382.2" y="87.8" width="7.85" height="7.4" fill="#d0dcef" />
<rect x="389.6" y="87.8" width="7.85" height="7.4" fill="#ffffff" />
<rect x="397" y="87.8" width="7.85" height="7.4" fill="#ffffff" />
<rect x="404.4" y="87.8" width="7.85" height="7.4" fill="#ffffff" />
<rect x="411.8" y="87.8" width="7.85" height="7.4" fill="#dadada" />
<rect x="419.2" y="87.8" width="7.4" height="7.4" fill="#ffffff" />
<rect x="412.4" y="81" width="6.2" height="6.2" fill="none" stroke="#2e8b3e" stroke-width="1"/>
<rect x="352.6" y="21.2" width="74" height="74" fill="none" stroke="#707070" stroke-width="0.8"/>
<rect x="438.2" y="21.2" width="7.85" height="7.85" fill="#ffffff" />
<rect x="445.6" y="21.2" width="7.85" height="7.85" fill="#ffffff" />
<rect x="453" y="21.2" width="7.85" height="7.85" fill="#c8d6ec" />
<rect x="460.4" y="21.2" width="7.85" height="7.85" fill="#ffffff" />
<rect x="467.8" y="21.2" width="7.85" height="7.85" fill="#ffffff" />
<rect x="475.2" y="21.2" width="7.85" height="7.85" fill="#e8735a" />
<rect x="482.6" y="21.2" width="7.85" height="7.85" fill="#ec8a6c" />
<rect x="490" y="21.2" width="7.85" height="7.85" fill="#b8202e" />
<rect x="497.4" y="21.2" width="7.85" height="7.85" fill="#dcdcdc" />
<rect x="504.8" y="21.2" width="7.4" height="7.85" fill="#ffffff" />
<rect x="438.2" y="28.6" width="7.85" height="7.85" fill="#c0282f" />
<rect x="445.6" y="28.6" width="7.85" height="7.85" fill="#f2c6b0" />
<rect x="453" y="28.6" width="7.85" height="7.85" fill="#d03a35" />
<rect x="460.4" y="28.6" width="7.85" height="7.85" fill="#dc5440" />
<rect x="467.8" y="28.6" width="7.85" height="7.85" fill="#e8735a" />
<rect x="475.2" y="28.6" width="7.85" height="7.85" fill="#f4c8b0" />
<rect x="482.6" y="28.6" width="7.85" height="7.85" fill="#ec8a6c" />
<rect x="490" y="28.6" width="7.85" height="7.85" fill="#eedbd2" />
<rect x="497.4" y="28.6" width="7.85" height="7.85" fill="#ec8a6c" />
<rect x="504.8" y="28.6" width="7.4" height="7.85" fill="#dcdcdc" />
<rect x="438.2" y="36" width="7.85" height="7.85" fill="#ffffff" />
<rect x="445.6" y="36" width="7.85" height="7.85" fill="#ffffff" />
<rect x="453" y="36" width="7.85" height="7.85" fill="#bf2430" />
<rect x="460.4" y="36" width="7.85" height="7.85" fill="#f4b89c" />
<rect x="467.8" y="36" width="7.85" height="7.85" fill="#e8735a" />
<rect x="475.2" y="36" width="7.85" height="7.85" fill="#c0282f" />
<rect x="482.6" y="36" width="7.85" height="7.85" fill="#f4c0a6" />
<rect x="490" y="36" width="7.85" height="7.85" fill="#ffffff" />
<rect x="497.4" y="36" width="7.85" height="7.85" fill="#ffffff" />
<rect x="504.8" y="36" width="7.4" height="7.85" fill="#ffffff" />
<rect x="438.2" y="43.4" width="7.85" height="7.85" fill="#ffffff" />
<rect x="445.6" y="43.4" width="7.85" height="7.85" fill="#ffffff" />
<rect x="453" y="43.4" width="7.85" height="7.85" fill="#dc5440" />
<rect x="460.4" y="43.4" width="7.85" height="7.85" fill="#dcdcdc" />
<rect x="467.8" y="43.4" width="7.85" height="7.85" fill="#e8735a" />
<rect x="475.2" y="43.4" width="7.85" height="7.85" fill="#f09a7c" />
<rect x="482.6" y="43.4" width="7.85" height="7.85" fill="#e06048" />
<rect x="490" y="43.4" width="7.85" height="7.85" fill="#eedbd2" />
<rect x="497.4" y="43.4" width="7.85" height="7.85" fill="#e8735a" />
<rect x="504.8" y="43.4" width="7.4" height="7.85" fill="#e8735a" />
<rect x="438.2" y="50.8" width="7.85" height="7.85" fill="#ffffff" />
<rect x="445.6" y="50.8" width="7.85" height="7.85" fill="#ffffff" />
<rect x="453" y="50.8" width="7.85" height="7.85" fill="#e8735a" />
<rect x="460.4" y="50.8" width="7.85" height="7.85" fill="#ec8a6c" />
<rect x="467.8" y="50.8" width="7.85" height="7.85" fill="#ec7c62" />
<rect x="475.2" y="50.8" width="7.85" height="7.85" fill="#e6dcd8" />
<rect x="482.6" y="50.8" width="7.85" height="7.85" fill="#ffffff" />
<rect x="490" y="50.8" width="7.85" height="7.85" fill="#f4b89c" />
<rect x="497.4" y="50.8" width="7.85" height="7.85" fill="#ffffff" />
<rect x="504.8" y="50.8" width="7.4" height="7.85" fill="#ffffff" />
<rect x="438.2" y="58.2" width="7.85" height="7.85" fill="#ffffff" />
<rect x="445.6" y="58.2" width="7.85" height="7.85" fill="#ffffff" />
<rect x="453" y="58.2" width="7.85" height="7.85" fill="#bf2430" />
<rect x="460.4" y="58.2" width="7.85" height="7.85" fill="#f2c6b0" />
<rect x="467.8" y="58.2" width="7.85" height="7.85" fill="#dc5440" />
<rect x="475.2" y="58.2" width="7.85" height="7.85" fill="#c0282f" />
<rect x="482.6" y="58.2" width="7.85" height="7.85" fill="#f0987a" />
<rect x="490" y="58.2" width="7.85" height="7.85" fill="#e8735a" />
<rect x="497.4" y="58.2" width="7.85" height="7.85" fill="#ffffff" />
<rect x="504.8" y="58.2" width="7.4" height="7.85" fill="#ffffff" />
<rect x="438.2" y="65.6" width="7.85" height="7.85" fill="#ffffff" />
<rect x="445.6" y="65.6" width="7.85" height="7.85" fill="#ffffff" />
<rect x="453" y="65.6" width="7.85" height="7.85" fill="#e06048" />
<rect x="460.4" y="65.6" width="7.85" height="7.85" fill="#e8735a" />
<rect x="467.8" y="65.6" width="7.85" height="7.85" fill="#dc5440" />
<rect x="475.2" y="65.6" width="7.85" height="7.85" fill="#ec8a6c" />
<rect x="482.6" y="65.6" width="7.85" height="7.85" fill="#dc5440" />
<rect x="490" y="65.6" width="7.85" height="7.85" fill="#ffffff" />
<rect x="497.4" y="65.6" width="7.85" height="7.85" fill="#ffffff" />
<rect x="504.8" y="65.6" width="7.4" height="7.85" fill="#e06048" />
<rect x="438.2" y="73" width="7.85" height="7.85" fill="#ffffff" />
<rect x="445.6" y="73" width="7.85" height="7.85" fill="#e06048" />
<rect x="453" y="73" width="7.85" height="7.85" fill="#ffffff" />
<rect x="460.4" y="73" width="7.85" height="7.85" fill="#f4c8b0" />
<rect x="467.8" y="73" width="7.85" height="7.85" fill="#f4c8b0" />
<rect x="475.2" y="73" width="7.85" height="7.85" fill="#f4b89c" />
<rect x="482.6" y="73" width="7.85" height="7.85" fill="#e06048" />
<rect x="490" y="73" width="7.85" height="7.85" fill="#ffffff" />
<rect x="497.4" y="73" width="7.85" height="7.85" fill="#ffffff" />
<rect x="504.8" y="73" width="7.4" height="7.85" fill="#ffffff" />
<rect x="438.2" y="80.4" width="7.85" height="7.85" fill="#f4c8b0" />
<rect x="445.6" y="80.4" width="7.85" height="7.85" fill="#ec8a6c" />
<rect x="453" y="80.4" width="7.85" height="7.85" fill="#ffffff" />
<rect x="460.4" y="80.4" width="7.85" height="7.85" fill="#ffffff" />
<rect x="467.8" y="80.4" width="7.85" height="7.85" fill="#f4a88a" />
<rect x="475.2" y="80.4" width="7.85" height="7.85" fill="#e6dcd8" />
<rect x="482.6" y="80.4" width="7.85" height="7.85" fill="#e8735a" />
<rect x="490" y="80.4" width="7.85" height="7.85" fill="#ffffff" />
<rect x="497.4" y="80.4" width="7.85" height="7.85" fill="#c0d0ea" />
<rect x="504.8" y="80.4" width="7.4" height="7.85" fill="#f4b89c" />
<rect x="438.2" y="87.8" width="7.85" height="7.4" fill="#ffffff" />
<rect x="445.6" y="87.8" width="7.85" height="7.4" fill="#f4a88a" />
<rect x="453" y="87.8" width="7.85" height="7.4" fill="#f4c8b0" />
<rect x="460.4" y="87.8" width="7.85" height="7.4" fill="#eedbd2" />
<rect x="467.8" y="87.8" width="7.85" height="7.4" fill="#ec8a6c" />
<rect x="475.2" y="87.8" width="7.85" height="7.4" fill="#ffffff" />
<rect x="482.6" y="87.8" width="7.85" height="7.4" fill="#ffffff" />
<rect x="490" y="87.8" width="7.85" height="7.4" fill="#ffffff" />
<rect x="497.4" y="87.8" width="7.85" height="7.4" fill="#dcdcdc" />
<rect x="504.8" y="87.8" width="7.4" height="7.4" fill="#ffffff" />
<rect x="498" y="81" width="6.2" height="6.2" fill="none" stroke="#2e8b3e" stroke-width="1"/>
<rect x="438.2" y="21.2" width="74" height="74" fill="none" stroke="#707070" stroke-width="0.8"/>
<rect x="352.6" y="145.3" width="7.85" height="7.85" fill="#ffffff" />
<rect x="360" y="145.3" width="7.85" height="7.85" fill="#dcdcdc" />
<rect x="367.4" y="145.3" width="7.85" height="7.85" fill="#dcdcdc" />
<rect x="374.8" y="145.3" width="7.85" height="7.85" fill="#4a66bb" />
<rect x="382.2" y="145.3" width="7.85" height="7.85" fill="#dcdcdc" />
<rect x="389.6" y="145.3" width="7.85" height="7.85" fill="#dcdcdc" />
<rect x="397" y="145.3" width="7.85" height="7.85" fill="#d3dbe9" />
<rect x="404.4" y="145.3" width="7.85" height="7.85" fill="#dcdcdc" />
<rect x="411.8" y="145.3" width="7.85" height="7.85" fill="#cdd8ec" />
<rect x="419.2" y="145.3" width="7.4" height="7.85" fill="#ffffff" />
<rect x="352.6" y="152.7" width="7.85" height="7.85" fill="#f2b49a" />
<rect x="360" y="152.7" width="7.85" height="7.85" fill="#dcdcdc" />
<rect x="367.4" y="152.7" width="7.85" height="7.85" fill="#b8202e" />
<rect x="374.8" y="152.7" width="7.85" height="7.85" fill="#dcdcdc" />
<rect x="382.2" y="152.7" width="7.85" height="7.85" fill="#dcdcdc" />
<rect x="389.6" y="152.7" width="7.85" height="7.85" fill="#dcdcdc" />
<rect x="397" y="152.7" width="7.85" height="7.85" fill="#dcdcdc" />
<rect x="404.4" y="152.7" width="7.85" height="7.85" fill="#ec7a5c" />
<rect x="411.8" y="152.7" width="7.85" height="7.85" fill="#d3dbe9" />
<rect x="419.2" y="152.7" width="7.4" height="7.85" fill="#dcdcdc" />
<rect x="352.6" y="160.1" width="7.85" height="7.85" fill="#d3dbe9" />
<rect x="360" y="160.1" width="7.85" height="7.85" fill="#aec2e6" />
<rect x="367.4" y="160.1" width="7.85" height="7.85" fill="#dcdcdc" />
<rect x="374.8" y="160.1" width="7.85" height="7.85" fill="#ffffff" />
<rect x="382.2" y="160.1" width="7.85" height="7.85" fill="#dcdcdc" />
<rect x="389.6" y="160.1" width="7.85" height="7.85" fill="#dcdcdc" />
<rect x="397" y="160.1" width="7.85" height="7.85" fill="#dcdcdc" />
<rect x="404.4" y="160.1" width="7.85" height="7.85" fill="#dcdcdc" />
<rect x="411.8" y="160.1" width="7.85" height="7.85" fill="#dcdcdc" />
<rect x="419.2" y="160.1" width="7.4" height="7.85" fill="#dcdcdc" />
<rect x="352.6" y="167.5" width="7.85" height="7.85" fill="#f2c0a8" />
<rect x="360" y="167.5" width="7.85" height="7.85" fill="#efd4c8" />
<rect x="367.4" y="167.5" width="7.85" height="7.85" fill="#f2b49a" />
<rect x="374.8" y="167.5" width="7.85" height="7.85" fill="#b8202e" />
<rect x="382.2" y="167.5" width="7.85" height="7.85" fill="#dcdcdc" />
<rect x="389.6" y="167.5" width="7.85" height="7.85" fill="#ffffff" />
<rect x="397" y="167.5" width="7.85" height="7.85" fill="#dcdcdc" />
<rect x="404.4" y="167.5" width="7.85" height="7.85" fill="#dcdcdc" />
<rect x="411.8" y="167.5" width="7.85" height="7.85" fill="#dcdcdc" />
<rect x="419.2" y="167.5" width="7.4" height="7.85" fill="#dcdcdc" />
<rect x="352.6" y="174.9" width="7.85" height="7.85" fill="#f0926e" />
<rect x="360" y="174.9" width="7.85" height="7.85" fill="#f2b49a" />
<rect x="367.4" y="174.9" width="7.85" height="7.85" fill="#dcdcdc" />
<rect x="374.8" y="174.9" width="7.85" height="7.85" fill="#cdd8ec" />
<rect x="382.2" y="174.9" width="7.85" height="7.85" fill="#dcdcdc" />
<rect x="389.6" y="174.9" width="7.85" height="7.85" fill="#dcdcdc" />
<rect x="397" y="174.9" width="7.85" height="7.85" fill="#dcdcdc" />
<rect x="404.4" y="174.9" width="7.85" height="7.85" fill="#b4c8ea" />
<rect x="411.8" y="174.9" width="7.85" height="7.85" fill="#c6d4ec" />
<rect x="419.2" y="174.9" width="7.4" height="7.85" fill="#d8dce4" />
<rect x="352.6" y="182.3" width="7.85" height="7.85" fill="#dcdcdc" />
<rect x="360" y="182.3" width="7.85" height="7.85" fill="#4a66bb" />
<rect x="367.4" y="182.3" width="7.85" height="7.85" fill="#dcdcdc" />
<rect x="374.8" y="182.3" width="7.85" height="7.85" fill="#dcdcdc" />
<rect x="382.2" y="182.3" width="7.85" height="7.85" fill="#d9dde4" />
<rect x="389.6" y="182.3" width="7.85" height="7.85" fill="#dcdcdc" />
<rect x="397" y="182.3" width="7.85" height="7.85" fill="#ffffff" />
<rect x="404.4" y="182.3" width="7.85" height="7.85" fill="#e8dcd6" />
<rect x="411.8" y="182.3" width="7.85" height="7.85" fill="#dcdcdc" />
<rect x="419.2" y="182.3" width="7.4" height="7.85" fill="#d0daea" />
<rect x="352.6" y="189.7" width="7.85" height="7.85" fill="#c6d6ee" />
<rect x="360" y="189.7" width="7.85" height="7.85" fill="#dcdcdc" />
<rect x="367.4" y="189.7" width="7.85" height="7.85" fill="#d6dbe4" />
<rect x="374.8" y="189.7" width="7.85" height="7.85" fill="#d6dbe4" />
<rect x="382.2" y="189.7" width="7.85" height="7.85" fill="#dcdcdc" />
<rect x="389.6" y="189.7" width="7.85" height="7.85" fill="#dcdcdc" />
<rect x="397" y="189.7" width="7.85" height="7.85" fill="#dcdcdc" />
<rect x="404.4" y="189.7" width="7.85" height="7.85" fill="#ffffff" />
<rect x="411.8" y="189.7" width="7.85" height="7.85" fill="#dcdcdc" />
<rect x="419.2" y="189.7" width="7.4" height="7.85" fill="#d0daea" />
<rect x="352.6" y="197.1" width="7.85" height="7.85" fill="#f2b49a" />
<rect x="360" y="197.1" width="7.85" height="7.85" fill="#ffffff" />
<rect x="367.4" y="197.1" width="7.85" height="7.85" fill="#ffffff" />
<rect x="374.8" y="197.1" width="7.85" height="7.85" fill="#cdd8ec" />
<rect x="382.2" y="197.1" width="7.85" height="7.85" fill="#dcdcdc" />
<rect x="389.6" y="197.1" width="7.85" height="7.85" fill="#dcdcdc" />
<rect x="397" y="197.1" width="7.85" height="7.85" fill="#ffffff" />
<rect x="404.4" y="197.1" width="7.85" height="7.85" fill="#dcdcdc" />
<rect x="411.8" y="197.1" width="7.85" height="7.85" fill="#b4c8ea" />
<rect x="419.2" y="197.1" width="7.4" height="7.85" fill="#f2a886" />
<rect x="352.6" y="204.5" width="7.85" height="7.85" fill="#ffffff" />
<rect x="360" y="204.5" width="7.85" height="7.85" fill="#eed8ce" />
<rect x="367.4" y="204.5" width="7.85" height="7.85" fill="#ffffff" />
<rect x="374.8" y="204.5" width="7.85" height="7.85" fill="#cdd8ec" />
<rect x="382.2" y="204.5" width="7.85" height="7.85" fill="#dcdcdc" />
<rect x="389.6" y="204.5" width="7.85" height="7.85" fill="#dcdcdc" />
<rect x="397" y="204.5" width="7.85" height="7.85" fill="#f2b49a" />
<rect x="404.4" y="204.5" width="7.85" height="7.85" fill="#b8202e" />
<rect x="411.8" y="204.5" width="7.85" height="7.85" fill="#dcdcdc" />
<rect x="419.2" y="204.5" width="7.4" height="7.85" fill="#eed8ce" />
<rect x="352.6" y="211.9" width="7.85" height="7.4" fill="#ffffff" />
<rect x="360" y="211.9" width="7.85" height="7.4" fill="#b8202e" />
<rect x="367.4" y="211.9" width="7.85" height="7.4" fill="#dcdcdc" />
<rect x="374.8" y="211.9" width="7.85" height="7.4" fill="#d3dbe9" />
<rect x="382.2" y="211.9" width="7.85" height="7.4" fill="#dcdcdc" />
<rect x="389.6" y="211.9" width="7.85" height="7.4" fill="#dcdcdc" />
<rect x="397" y="211.9" width="7.85" height="7.4" fill="#d3dbe9" />
<rect x="404.4" y="211.9" width="7.85" height="7.4" fill="#dcdcdc" />
<rect x="411.8" y="211.9" width="7.85" height="7.4" fill="#dcdcdc" />
<rect x="419.2" y="211.9" width="7.4" height="7.4" fill="#ffffff" />
<rect x="405" y="205.1" width="6.2" height="6.2" fill="none" stroke="#2e8b3e" stroke-width="1"/>
<rect x="352.6" y="145.3" width="74" height="74" fill="none" stroke="#707070" stroke-width="0.8"/>
<rect x="438.2" y="145.3" width="7.85" height="7.85" fill="#ffffff" />
<rect x="445.6" y="145.3" width="7.85" height="7.85" fill="#ead6cc" />
<rect x="453" y="145.3" width="7.85" height="7.85" fill="#f0906e" />
<rect x="460.4" y="145.3" width="7.85" height="7.85" fill="#ec7a5c" />
<rect x="467.8" y="145.3" width="7.85" height="7.85" fill="#e8d6cc" />
<rect x="475.2" y="145.3" width="7.85" height="7.85" fill="#dcdcdc" />
<rect x="482.6" y="145.3" width="7.85" height="7.85" fill="#f2c0a8" />
<rect x="490" y="145.3" width="7.85" height="7.85" fill="#f2c0a8" />
<rect x="497.4" y="145.3" width="7.85" height="7.85" fill="#f2b49a" />
<rect x="504.8" y="145.3" width="7.4" height="7.85" fill="#ffffff" />
<rect x="438.2" y="152.7" width="7.85" height="7.85" fill="#f2b49a" />
<rect x="445.6" y="152.7" width="7.85" height="7.85" fill="#dcdcdc" />
<rect x="453" y="152.7" width="7.85" height="7.85" fill="#e06048" />
<rect x="460.4" y="152.7" width="7.85" height="7.85" fill="#e0dcda" />
<rect x="467.8" y="152.7" width="7.85" height="7.85" fill="#dcdcdc" />
<rect x="475.2" y="152.7" width="7.85" height="7.85" fill="#dcdcdc" />
<rect x="482.6" y="152.7" width="7.85" height="7.85" fill="#dcdcdc" />
<rect x="490" y="152.7" width="7.85" height="7.85" fill="#dcdcdc" />
<rect x="497.4" y="152.7" width="7.85" height="7.85" fill="#dcdcdc" />
<rect x="504.8" y="152.7" width="7.4" height="7.85" fill="#dcdcdc" />
<rect x="438.2" y="160.1" width="7.85" height="7.85" fill="#bf2430" />
<rect x="445.6" y="160.1" width="7.85" height="7.85" fill="#d0393a" />
<rect x="453" y="160.1" width="7.85" height="7.85" fill="#dcdcdc" />
<rect x="460.4" y="160.1" width="7.85" height="7.85" fill="#ffffff" />
<rect x="467.8" y="160.1" width="7.85" height="7.85" fill="#dcdcdc" />
<rect x="475.2" y="160.1" width="7.85" height="7.85" fill="#dcdcdc" />
<rect x="482.6" y="160.1" width="7.85" height="7.85" fill="#e6dad4" />
<rect x="490" y="160.1" width="7.85" height="7.85" fill="#f2c8b4" />
<rect x="497.4" y="160.1" width="7.85" height="7.85" fill="#dcdcdc" />
<rect x="504.8" y="160.1" width="7.4" height="7.85" fill="#dcdcdc" />
<rect x="438.2" y="167.5" width="7.85" height="7.85" fill="#d0393a" />
<rect x="445.6" y="167.5" width="7.85" height="7.85" fill="#bf2430" />
<rect x="453" y="167.5" width="7.85" height="7.85" fill="#f2c8b4" />
<rect x="460.4" y="167.5" width="7.85" height="7.85" fill="#5a78c4" />
<rect x="467.8" y="167.5" width="7.85" height="7.85" fill="#dcdcdc" />
<rect x="475.2" y="167.5" width="7.85" height="7.85" fill="#ffffff" />
<rect x="482.6" y="167.5" width="7.85" height="7.85" fill="#dcdcdc" />
<rect x="490" y="167.5" width="7.85" height="7.85" fill="#c6d4ec" />
<rect x="497.4" y="167.5" width="7.85" height="7.85" fill="#dcdcdc" />
<rect x="504.8" y="167.5" width="7.4" height="7.85" fill="#dcdcdc" />
<rect x="438.2" y="174.9" width="7.85" height="7.85" fill="#9ab4e0" />
<rect x="445.6" y="174.9" width="7.85" height="7.85" fill="#bf2430" />
<rect x="453" y="174.9" width="7.85" height="7.85" fill="#dcdcdc" />
<rect x="460.4" y="174.9" width="7.85" height="7.85" fill="#f29a7a" />
<rect x="467.8" y="174.9" width="7.85" height="7.85" fill="#dcdcdc" />
<rect x="475.2" y="174.9" width="7.85" height="7.85" fill="#dcdcdc" />
<rect x="482.6" y="174.9" width="7.85" height="7.85" fill="#dcdcdc" />
<rect x="490" y="174.9" width="7.85" height="7.85" fill="#bf2430" />
<rect x="497.4" y="174.9" width="7.85" height="7.85" fill="#f4a88a" />
<rect x="504.8" y="174.9" width="7.4" height="7.85" fill="#dcdcdc" />
<rect x="438.2" y="182.3" width="7.85" height="7.85" fill="#c6d6ee" />
<rect x="445.6" y="182.3" width="7.85" height="7.85" fill="#3a50a8" />
<rect x="453" y="182.3" width="7.85" height="7.85" fill="#e8d6cc" />
<rect x="460.4" y="182.3" width="7.85" height="7.85" fill="#dcdcdc" />
<rect x="467.8" y="182.3" width="7.85" height="7.85" fill="#e8d6cc" />
<rect x="475.2" y="182.3" width="7.85" height="7.85" fill="#dcdcdc" />
<rect x="482.6" y="182.3" width="7.85" height="7.85" fill="#ffffff" />
<rect x="490" y="182.3" width="7.85" height="7.85" fill="#d3dbe9" />
<rect x="497.4" y="182.3" width="7.85" height="7.85" fill="#dcdcdc" />
<rect x="504.8" y="182.3" width="7.4" height="7.85" fill="#f2c8b4" />
<rect x="438.2" y="189.7" width="7.85" height="7.85" fill="#e8d6cc" />
<rect x="445.6" y="189.7" width="7.85" height="7.85" fill="#dcdcdc" />
<rect x="453" y="189.7" width="7.85" height="7.85" fill="#f2c0a8" />
<rect x="460.4" y="189.7" width="7.85" height="7.85" fill="#f2c8b4" />
<rect x="467.8" y="189.7" width="7.85" height="7.85" fill="#dcdcdc" />
<rect x="475.2" y="189.7" width="7.85" height="7.85" fill="#dcdcdc" />
<rect x="482.6" y="189.7" width="7.85" height="7.85" fill="#dcdcdc" />
<rect x="490" y="189.7" width="7.85" height="7.85" fill="#ffffff" />
<rect x="497.4" y="189.7" width="7.85" height="7.85" fill="#dcdcdc" />
<rect x="504.8" y="189.7" width="7.4" height="7.85" fill="#e8d6cc" />
<rect x="438.2" y="197.1" width="7.85" height="7.85" fill="#f2b49a" />
<rect x="445.6" y="197.1" width="7.85" height="7.85" fill="#ffffff" />
<rect x="453" y="197.1" width="7.85" height="7.85" fill="#ffffff" />
<rect x="460.4" y="197.1" width="7.85" height="7.85" fill="#f4a88a" />
<rect x="467.8" y="197.1" width="7.85" height="7.85" fill="#dcdcdc" />
<rect x="475.2" y="197.1" width="7.85" height="7.85" fill="#dcdcdc" />
<rect x="482.6" y="197.1" width="7.85" height="7.85" fill="#ffffff" />
<rect x="490" y="197.1" width="7.85" height="7.85" fill="#dcdcdc" />
<rect x="497.4" y="197.1" width="7.85" height="7.85" fill="#ec7a5c" />
<rect x="504.8" y="197.1" width="7.4" height="7.85" fill="#b8202e" />
<rect x="438.2" y="204.5" width="7.85" height="7.85" fill="#ffffff" />
<rect x="445.6" y="204.5" width="7.85" height="7.85" fill="#dcdcdc" />
<rect x="453" y="204.5" width="7.85" height="7.85" fill="#ffffff" />
<rect x="460.4" y="204.5" width="7.85" height="7.85" fill="#f29a7a" />
<rect x="467.8" y="204.5" width="7.85" height="7.85" fill="#dcdcdc" />
<rect x="475.2" y="204.5" width="7.85" height="7.85" fill="#dcdcdc" />
<rect x="482.6" y="204.5" width="7.85" height="7.85" fill="#f4a88a" />
<rect x="490" y="204.5" width="7.85" height="7.85" fill="#c6d4ec" />
<rect x="497.4" y="204.5" width="7.85" height="7.85" fill="#dcdcdc" />
<rect x="504.8" y="204.5" width="7.4" height="7.85" fill="#f0906e" />
<rect x="438.2" y="211.9" width="7.85" height="7.4" fill="#ffffff" />
<rect x="445.6" y="211.9" width="7.85" height="7.4" fill="#e06048" />
<rect x="453" y="211.9" width="7.85" height="7.4" fill="#dcdcdc" />
<rect x="460.4" y="211.9" width="7.85" height="7.4" fill="#f2c8b4" />
<rect x="467.8" y="211.9" width="7.85" height="7.4" fill="#dcdcdc" />
<rect x="475.2" y="211.9" width="7.85" height="7.4" fill="#dcdcdc" />
<rect x="482.6" y="211.9" width="7.85" height="7.4" fill="#f4a88a" />
<rect x="490" y="211.9" width="7.85" height="7.4" fill="#dcdcdc" />
<rect x="497.4" y="211.9" width="7.85" height="7.4" fill="#dcdcdc" />
<rect x="504.8" y="211.9" width="7.4" height="7.4" fill="#ffffff" />
<rect x="490.6" y="205.1" width="6.2" height="6.2" fill="none" stroke="#2e8b3e" stroke-width="1"/>
<rect x="438.2" y="145.3" width="74" height="74" fill="none" stroke="#707070" stroke-width="0.8"/>
<text x="341" y="7.8" font-size="10.5" text-anchor="start" fill="#000" font-weight="bold">e</text>
<text x="436" y="7.8" font-size="10.5" text-anchor="start" fill="#000" font-weight="bold">f</text>
<text x="348" y="58.5" font-size="8.0" text-anchor="middle" fill="#231f20" transform="rotate(-90 348 58.5)">C CE 63</text>
<text x="348" y="182.3" font-size="8.0" text-anchor="middle" fill="#231f20" transform="rotate(-90 348 182.3)">J CE 52</text>
<defs><linearGradient id="cw" x1="0" y1="0" x2="0" y2="1"><stop offset="0" stop-color="#b2182b"/><stop offset="0.18" stop-color="#d9533f"/><stop offset="0.33" stop-color="#f1a383"/><stop offset="0.5" stop-color="#dddddd"/><stop offset="0.67" stop-color="#a9c0e8"/><stop offset="0.82" stop-color="#6f8fd3"/><stop offset="1" stop-color="#3b4ea8"/></linearGradient></defs>
<rect x="518.1" y="38.5" width="6.7" height="164.2" fill="url(#cw)" />
<line x1="524.8" y1="38.5" x2="524.8" y2="202.7" stroke="#6a6a6a" stroke-width="0.6" />
<line x1="524.8" y1="66" x2="527.3" y2="66" stroke="#555555" stroke-width="0.7" />
<text x="531.5" y="68.83" font-size="7.9" text-anchor="start" fill="#231f20">4</text>
<line x1="524.8" y1="120.4" x2="527.3" y2="120.4" stroke="#555555" stroke-width="0.7" />
<text x="531.5" y="123.23" font-size="7.9" text-anchor="start" fill="#231f20">0</text>
<line x1="524.8" y1="175.3" x2="527.3" y2="175.3" stroke="#555555" stroke-width="0.7" />
<text x="531.5" y="178.13" font-size="7.9" text-anchor="start" fill="#231f20">−4</text>
<text x="547.5" y="120.5" font-size="8.0" text-anchor="middle" fill="#231f20" transform="rotate(-90 547.5 120.5)"><tspan font-style="italic">z</tspan>-scored spike rate</text>
<defs><linearGradient id="bl" x1="0" y1="0" x2="0" y2="1"><stop offset="0" stop-color="#08306b"/><stop offset="0.3" stop-color="#2b7bba"/><stop offset="0.6" stop-color="#8dc0de"/><stop offset="1" stop-color="#f7fbff"/></linearGradient></defs>
<rect x="612" y="13.2" width="4.58" height="4.58" fill="#eef3fa" />
<rect x="616.13" y="13.2" width="4.58" height="4.58" fill="#eef3fa" />
<rect x="620.26" y="13.2" width="4.58" height="4.58" fill="#e6eef8" />
<rect x="624.39" y="13.2" width="4.58" height="4.58" fill="#ffffff" />
<rect x="628.52" y="13.2" width="4.58" height="4.58" fill="#ffffff" />
<rect x="632.65" y="13.2" width="4.58" height="4.58" fill="#e8f0f9" />
<rect x="636.78" y="13.2" width="4.58" height="4.58" fill="#e6eef8" />
<rect x="640.91" y="13.2" width="4.58" height="4.58" fill="#e6eef8" />
<rect x="645.04" y="13.2" width="4.58" height="4.58" fill="#e6eef8" />
<rect x="649.17" y="13.2" width="4.13" height="4.58" fill="#ffffff" />
<rect x="612" y="17.33" width="4.58" height="4.58" fill="#e8f0f9" />
<rect x="616.13" y="17.33" width="4.58" height="4.58" fill="#e8f0f9" />
<rect x="620.26" y="17.33" width="4.58" height="4.58" fill="#e4edf7" />
<rect x="624.39" y="17.33" width="4.58" height="4.58" fill="#e4edf7" />
<rect x="628.52" y="17.33" width="4.58" height="4.58" fill="#e4edf7" />
<rect x="632.65" y="17.33" width="4.58" height="4.58" fill="#e4edf7" />
<rect x="636.78" y="17.33" width="4.58" height="4.58" fill="#e4edf7" />
<rect x="640.91" y="17.33" width="4.58" height="4.58" fill="#e4edf7" />
<rect x="645.04" y="17.33" width="4.58" height="4.58" fill="#e4edf7" />
<rect x="649.17" y="17.33" width="4.13" height="4.58" fill="#e8f0f9" />
<rect x="612" y="21.46" width="4.58" height="4.58" fill="#ffffff" />
<rect x="616.13" y="21.46" width="4.58" height="4.58" fill="#ffffff" />
<rect x="620.26" y="21.46" width="4.58" height="4.58" fill="#e4edf7" />
<rect x="624.39" y="21.46" width="4.58" height="4.58" fill="#e4edf7" />
<rect x="628.52" y="21.46" width="4.58" height="4.58" fill="#e2ecf7" />
<rect x="632.65" y="21.46" width="4.58" height="4.58" fill="#e2ecf7" />
<rect x="636.78" y="21.46" width="4.58" height="4.58" fill="#e2ecf7" />
<rect x="640.91" y="21.46" width="4.58" height="4.58" fill="#ffffff" />
<rect x="645.04" y="21.46" width="4.58" height="4.58" fill="#ffffff" />
<rect x="649.17" y="21.46" width="4.13" height="4.58" fill="#ffffff" />
<rect x="612" y="25.59" width="4.58" height="4.58" fill="#ffffff" />
<rect x="616.13" y="25.59" width="4.58" height="4.58" fill="#ffffff" />
<rect x="620.26" y="25.59" width="4.58" height="4.58" fill="#e4edf7" />
<rect x="624.39" y="25.59" width="4.58" height="4.58" fill="#e0eaf6" />
<rect x="628.52" y="25.59" width="4.58" height="4.58" fill="#e0eaf6" />
<rect x="632.65" y="25.59" width="4.58" height="4.58" fill="#dde8f5" />
<rect x="636.78" y="25.59" width="4.58" height="4.58" fill="#dde8f5" />
<rect x="640.91" y="25.59" width="4.58" height="4.58" fill="#dde8f5" />
<rect x="645.04" y="25.59" width="4.58" height="4.58" fill="#dde8f5" />
<rect x="649.17" y="25.59" width="4.13" height="4.58" fill="#dde8f5" />
<rect x="612" y="29.72" width="4.58" height="4.58" fill="#ffffff" />
<rect x="616.13" y="29.72" width="4.58" height="4.58" fill="#ffffff" />
<rect x="620.26" y="29.72" width="4.58" height="4.58" fill="#e2ecf7" />
<rect x="624.39" y="29.72" width="4.58" height="4.58" fill="#e0eaf6" />
<rect x="628.52" y="29.72" width="4.58" height="4.58" fill="#dde8f5" />
<rect x="632.65" y="29.72" width="4.58" height="4.58" fill="#dce7f4" />
<rect x="636.78" y="29.72" width="4.58" height="4.58" fill="#ffffff" />
<rect x="640.91" y="29.72" width="4.58" height="4.58" fill="#d8e5f3" />
<rect x="645.04" y="29.72" width="4.58" height="4.58" fill="#ffffff" />
<rect x="649.17" y="29.72" width="4.13" height="4.58" fill="#ffffff" />
<rect x="612" y="33.85" width="4.58" height="4.58" fill="#ffffff" />
<rect x="616.13" y="33.85" width="4.58" height="4.58" fill="#ffffff" />
<rect x="620.26" y="33.85" width="4.58" height="4.58" fill="#e0eaf6" />
<rect x="624.39" y="33.85" width="4.58" height="4.58" fill="#dce7f4" />
<rect x="628.52" y="33.85" width="4.58" height="4.58" fill="#d9e6f4" />
<rect x="632.65" y="33.85" width="4.58" height="4.58" fill="#d6e4f3" />
<rect x="636.78" y="33.85" width="4.58" height="4.58" fill="#d3e2f2" />
<rect x="640.91" y="33.85" width="4.58" height="4.58" fill="#ffffff" />
<rect x="645.04" y="33.85" width="4.58" height="4.58" fill="#ffffff" />
<rect x="649.17" y="33.85" width="4.13" height="4.58" fill="#ffffff" />
<rect x="612" y="37.98" width="4.58" height="4.58" fill="#ffffff" />
<rect x="616.13" y="37.98" width="4.58" height="4.58" fill="#ffffff" />
<rect x="620.26" y="37.98" width="4.58" height="4.58" fill="#e0eaf6" />
<rect x="624.39" y="37.98" width="4.58" height="4.58" fill="#dce7f4" />
<rect x="628.52" y="37.98" width="4.58" height="4.58" fill="#d6e4f3" />
<rect x="632.65" y="37.98" width="4.58" height="4.58" fill="#d0e0f1" />
<rect x="636.78" y="37.98" width="4.58" height="4.58" fill="#cbddf0" />
<rect x="640.91" y="37.98" width="4.58" height="4.58" fill="#ffffff" />
<rect x="645.04" y="37.98" width="4.58" height="4.58" fill="#ffffff" />
<rect x="649.17" y="37.98" width="4.13" height="4.58" fill="#c2d9ee" />
<rect x="612" y="42.11" width="4.58" height="4.58" fill="#ffffff" />
<rect x="616.13" y="42.11" width="4.58" height="4.58" fill="#e4edf7" />
<rect x="620.26" y="42.11" width="4.58" height="4.58" fill="#ffffff" />
<rect x="624.39" y="42.11" width="4.58" height="4.58" fill="#dde8f5" />
<rect x="628.52" y="42.11" width="4.58" height="4.58" fill="#d6e4f3" />
<rect x="632.65" y="42.11" width="4.58" height="4.58" fill="#cde0f1" />
<rect x="636.78" y="42.11" width="4.58" height="4.58" fill="#c4daee" />
<rect x="640.91" y="42.11" width="4.58" height="4.58" fill="#ffffff" />
<rect x="645.04" y="42.11" width="4.58" height="4.58" fill="#ffffff" />
<rect x="649.17" y="42.11" width="4.13" height="4.58" fill="#ffffff" />
<rect x="612" y="46.24" width="4.58" height="4.58" fill="#e8f0f9" />
<rect x="616.13" y="46.24" width="4.58" height="4.58" fill="#e4edf7" />
<rect x="620.26" y="46.24" width="4.58" height="4.58" fill="#ffffff" />
<rect x="624.39" y="46.24" width="4.58" height="4.58" fill="#ffffff" />
<rect x="628.52" y="46.24" width="4.58" height="4.58" fill="#dce7f4" />
<rect x="632.65" y="46.24" width="4.58" height="4.58" fill="#d3e2f2" />
<rect x="636.78" y="46.24" width="4.58" height="4.58" fill="#c2d8ee" />
<rect x="640.91" y="46.24" width="4.58" height="4.58" fill="#ffffff" />
<rect x="645.04" y="46.24" width="4.58" height="4.58" fill="#1b3f7a" />
<rect x="649.17" y="46.24" width="4.13" height="4.58" fill="#4b91c9" />
<rect x="612" y="50.37" width="4.58" height="4.13" fill="#ffffff" />
<rect x="616.13" y="50.37" width="4.58" height="4.13" fill="#e8f0f9" />
<rect x="620.26" y="50.37" width="4.58" height="4.13" fill="#e8f0f9" />
<rect x="624.39" y="50.37" width="4.58" height="4.13" fill="#e8f0f9" />
<rect x="628.52" y="50.37" width="4.58" height="4.13" fill="#e4edf7" />
<rect x="632.65" y="50.37" width="4.58" height="4.13" fill="#ffffff" />
<rect x="636.78" y="50.37" width="4.58" height="4.13" fill="#ffffff" />
<rect x="640.91" y="50.37" width="4.58" height="4.13" fill="#ffffff" />
<rect x="645.04" y="50.37" width="4.58" height="4.13" fill="#4b91c9" />
<rect x="649.17" y="50.37" width="4.13" height="4.13" fill="#ffffff" />
<rect x="645.39" y="46.59" width="3.43" height="3.43" fill="none" stroke="#2e8b3e" stroke-width="0.7"/>
<rect x="612" y="13.2" width="41.3" height="41.3" fill="none" stroke="#6a6a6a" stroke-width="0.8"/>
<rect x="655" y="13.2" width="4.2" height="41.3" fill="url(#bl)" />
<rect x="655" y="13.2" width="4.2" height="41.3" fill="none" stroke="#6a6a6a" stroke-width="0.6"/>
<line x1="659.2" y1="13.2" x2="661.5" y2="13.2" stroke="#555555" stroke-width="0.7" />
<text x="664.8" y="16.03" font-size="7.9" text-anchor="start" fill="#231f20">4</text>
<line x1="659.2" y1="33.85" x2="661.5" y2="33.85" stroke="#555555" stroke-width="0.7" />
<text x="664.8" y="36.68" font-size="7.9" text-anchor="start" fill="#231f20">2</text>
<line x1="659.2" y1="54.5" x2="661.5" y2="54.5" stroke="#555555" stroke-width="0.7" />
<text x="664.8" y="57.33" font-size="7.9" text-anchor="start" fill="#231f20">0</text>
<text x="632.65" y="8.6" font-size="8.0" text-anchor="middle" fill="#231f20">Distance weights</text>
<text x="679.5" y="33.35" font-size="8.0" text-anchor="middle" fill="#231f20" transform="rotate(-90 679.5 33.35)">Weights (10<tspan dy="-2.5" font-size="5.5">−3</tspan><tspan dy="2.5">)</tspan></text>
<rect x="592.3" y="88.2" width="22.3" height="5.9" fill="#dc143c" />
<rect x="620.1" y="65.2" width="21.9" height="28.9" fill="#7a7a7a" />
<rect x="647.7" y="68" width="21.9" height="26.1" fill="#a9d4e4" />
<line x1="588.7" y1="21" x2="588.7" y2="94.6" stroke="#8a8a8a" stroke-width="1" />
<line x1="588.7" y1="94.6" x2="673.3" y2="94.6" stroke="#8a8a8a" stroke-width="1" />
<line x1="585.7" y1="64.1" x2="588.7" y2="64.1" stroke="#555555" stroke-width="0.7" />
<text x="582.6" y="66.93" font-size="7.9" text-anchor="end" fill="#231f20">0.5</text>
<line x1="585.7" y1="93.7" x2="588.7" y2="93.7" stroke="#555555" stroke-width="0.7" />
<text x="582.6" y="96.53" font-size="7.9" text-anchor="end" fill="#231f20">0</text>
<text x="566.2" y="59.9" font-size="8.0" text-anchor="middle" fill="#231f20" font-style="italic" transform="rotate(-90 566.2 59.9)">R</text>
<line x1="603.45" y1="94.6" x2="603.45" y2="97.6" stroke="#555555" stroke-width="0.7" />
<text x="605.95" y="105.1" font-size="8.0" text-anchor="end" fill="#231f20" transform="rotate(-45 605.95 105.1)">DWSS</text>
<line x1="631.05" y1="94.6" x2="631.05" y2="97.6" stroke="#555555" stroke-width="0.7" />
<text x="633.55" y="105.1" font-size="8.0" text-anchor="end" fill="#231f20" transform="rotate(-45 633.55 105.1)">Random</text>
<line x1="658.65" y1="94.6" x2="658.65" y2="97.6" stroke="#555555" stroke-width="0.7" />
<text x="661.15" y="105.1" font-size="8.0" text-anchor="end" fill="#231f20" transform="rotate(-45 661.15 105.1)">Non-CE</text>
<line x1="631.1" y1="59.5" x2="631.1" y2="70" stroke="#111" stroke-width="0.8" />
<circle cx="630.6" cy="59.5" r="0.75" fill="#222"/>
<circle cx="631.9" cy="60.5" r="0.75" fill="#222"/>
<circle cx="630.8" cy="61.5" r="0.75" fill="#222"/>
<circle cx="631.6" cy="62.5" r="0.75" fill="#222"/>
<circle cx="632.1" cy="63.5" r="0.75" fill="#222"/>
<circle cx="630.3" cy="64.5" r="0.75" fill="#222"/>
<circle cx="631.3" cy="66" r="0.75" fill="#222"/>
<circle cx="631.8" cy="67.5" r="0.75" fill="#222"/>
<circle cx="630.1" cy="75.5" r="0.75" fill="#222"/>
<circle cx="631.7" cy="80" r="0.75" fill="#222"/>
<line x1="658.4" y1="58" x2="658.4" y2="79" stroke="#111" stroke-width="0.8" />
<circle cx="657.9" cy="59" r="0.75" fill="#222"/>
<circle cx="659.2" cy="60.5" r="0.75" fill="#222"/>
<circle cx="657.8" cy="62" r="0.75" fill="#222"/>
<circle cx="659.4" cy="63.5" r="0.75" fill="#222"/>
<circle cx="657.2" cy="66.5" r="0.75" fill="#222"/>
<circle cx="659.9" cy="72.5" r="0.75" fill="#222"/>
<circle cx="657.6" cy="82" r="0.75" fill="#222"/>
<circle cx="656.9" cy="87.5" r="0.75" fill="#222"/>
<circle cx="660.2" cy="90" r="0.75" fill="#222"/>
<rect x="614.5" y="145.4" width="4.57" height="4.57" fill="#ffffff" />
<rect x="618.62" y="145.4" width="4.57" height="4.57" fill="#e6eef8" />
<rect x="622.74" y="145.4" width="4.57" height="4.57" fill="#e6eef8" />
<rect x="626.86" y="145.4" width="4.57" height="4.57" fill="#e6eef8" />
<rect x="630.98" y="145.4" width="4.57" height="4.57" fill="#e6eef8" />
<rect x="635.1" y="145.4" width="4.57" height="4.57" fill="#e6eef8" />
<rect x="639.22" y="145.4" width="4.57" height="4.57" fill="#e6eef8" />
<rect x="643.34" y="145.4" width="4.57" height="4.57" fill="#e6eef8" />
<rect x="647.46" y="145.4" width="4.57" height="4.57" fill="#e6eef8" />
<rect x="651.58" y="145.4" width="4.12" height="4.57" fill="#ffffff" />
<rect x="614.5" y="149.52" width="4.57" height="4.57" fill="#e6eef8" />
<rect x="618.62" y="149.52" width="4.57" height="4.57" fill="#e4edf7" />
<rect x="622.74" y="149.52" width="4.57" height="4.57" fill="#e4edf7" />
<rect x="626.86" y="149.52" width="4.57" height="4.57" fill="#e4edf7" />
<rect x="630.98" y="149.52" width="4.57" height="4.57" fill="#e4edf7" />
<rect x="635.1" y="149.52" width="4.57" height="4.57" fill="#e4edf7" />
<rect x="639.22" y="149.52" width="4.57" height="4.57" fill="#e4edf7" />
<rect x="643.34" y="149.52" width="4.57" height="4.57" fill="#e4edf7" />
<rect x="647.46" y="149.52" width="4.57" height="4.57" fill="#e4edf7" />
<rect x="651.58" y="149.52" width="4.12" height="4.57" fill="#e4edf7" />
<rect x="614.5" y="153.64" width="4.57" height="4.57" fill="#e4edf7" />
<rect x="618.62" y="153.64" width="4.57" height="4.57" fill="#e2ecf7" />
<rect x="622.74" y="153.64" width="4.57" height="4.57" fill="#e2ecf7" />
<rect x="626.86" y="153.64" width="4.57" height="4.57" fill="#ffffff" />
<rect x="630.98" y="153.64" width="4.57" height="4.57" fill="#e0eaf6" />
<rect x="635.1" y="153.64" width="4.57" height="4.57" fill="#e0eaf6" />
<rect x="639.22" y="153.64" width="4.57" height="4.57" fill="#e0eaf6" />
<rect x="643.34" y="153.64" width="4.57" height="4.57" fill="#e0eaf6" />
<rect x="647.46" y="153.64" width="4.57" height="4.57" fill="#e0eaf6" />
<rect x="651.58" y="153.64" width="4.12" height="4.57" fill="#e0eaf6" />
<rect x="614.5" y="157.76" width="4.57" height="4.57" fill="#e2ecf7" />
<rect x="618.62" y="157.76" width="4.57" height="4.57" fill="#e0eaf6" />
<rect x="622.74" y="157.76" width="4.57" height="4.57" fill="#e0eaf6" />
<rect x="626.86" y="157.76" width="4.57" height="4.57" fill="#e0eaf6" />
<rect x="630.98" y="157.76" width="4.57" height="4.57" fill="#dde8f5" />
<rect x="635.1" y="157.76" width="4.57" height="4.57" fill="#ffffff" />
<rect x="639.22" y="157.76" width="4.57" height="4.57" fill="#dde8f5" />
<rect x="643.34" y="157.76" width="4.57" height="4.57" fill="#dde8f5" />
<rect x="647.46" y="157.76" width="4.57" height="4.57" fill="#dce7f4" />
<rect x="651.58" y="157.76" width="4.12" height="4.57" fill="#dce7f4" />
<rect x="614.5" y="161.88" width="4.57" height="4.57" fill="#e2ecf7" />
<rect x="618.62" y="161.88" width="4.57" height="4.57" fill="#e0eaf6" />
<rect x="622.74" y="161.88" width="4.57" height="4.57" fill="#e0eaf6" />
<rect x="626.86" y="161.88" width="4.57" height="4.57" fill="#dde8f5" />
<rect x="630.98" y="161.88" width="4.57" height="4.57" fill="#dce7f4" />
<rect x="635.1" y="161.88" width="4.57" height="4.57" fill="#d9e6f4" />
<rect x="639.22" y="161.88" width="4.57" height="4.57" fill="#d9e6f4" />
<rect x="643.34" y="161.88" width="4.57" height="4.57" fill="#d6e4f3" />
<rect x="647.46" y="161.88" width="4.57" height="4.57" fill="#d6e4f3" />
<rect x="651.58" y="161.88" width="4.12" height="4.57" fill="#d6e4f3" />
<rect x="614.5" y="166" width="4.57" height="4.57" fill="#e2ecf7" />
<rect x="618.62" y="166" width="4.57" height="4.57" fill="#e0eaf6" />
<rect x="622.74" y="166" width="4.57" height="4.57" fill="#dde8f5" />
<rect x="626.86" y="166" width="4.57" height="4.57" fill="#dce7f4" />
<rect x="630.98" y="166" width="4.57" height="4.57" fill="#d9e6f4" />
<rect x="635.1" y="166" width="4.57" height="4.57" fill="#d6e4f3" />
<rect x="639.22" y="166" width="4.57" height="4.57" fill="#ffffff" />
<rect x="643.34" y="166" width="4.57" height="4.57" fill="#cde0f1" />
<rect x="647.46" y="166" width="4.57" height="4.57" fill="#cde0f1" />
<rect x="651.58" y="166" width="4.12" height="4.57" fill="#d3e2f2" />
<rect x="614.5" y="170.12" width="4.57" height="4.57" fill="#e2ecf7" />
<rect x="618.62" y="170.12" width="4.57" height="4.57" fill="#e0eaf6" />
<rect x="622.74" y="170.12" width="4.57" height="4.57" fill="#dde8f5" />
<rect x="626.86" y="170.12" width="4.57" height="4.57" fill="#dce7f4" />
<rect x="630.98" y="170.12" width="4.57" height="4.57" fill="#d6e4f3" />
<rect x="635.1" y="170.12" width="4.57" height="4.57" fill="#d0e0f1" />
<rect x="639.22" y="170.12" width="4.57" height="4.57" fill="#c4daee" />
<rect x="643.34" y="170.12" width="4.57" height="4.57" fill="#ffffff" />
<rect x="647.46" y="170.12" width="4.57" height="4.57" fill="#bcd6ec" />
<rect x="651.58" y="170.12" width="4.12" height="4.57" fill="#cde0f1" />
<rect x="614.5" y="174.24" width="4.57" height="4.57" fill="#e2ecf7" />
<rect x="618.62" y="174.24" width="4.57" height="4.57" fill="#ffffff" />
<rect x="622.74" y="174.24" width="4.57" height="4.57" fill="#ffffff" />
<rect x="626.86" y="174.24" width="4.57" height="4.57" fill="#dce7f4" />
<rect x="630.98" y="174.24" width="4.57" height="4.57" fill="#d6e4f3" />
<rect x="635.1" y="174.24" width="4.57" height="4.57" fill="#cde0f1" />
<rect x="639.22" y="174.24" width="4.57" height="4.57" fill="#ffffff" />
<rect x="643.34" y="174.24" width="4.57" height="4.57" fill="#5b9bd0" />
<rect x="647.46" y="174.24" width="4.57" height="4.57" fill="#a6cbe6" />
<rect x="651.58" y="174.24" width="4.12" height="4.57" fill="#c4daee" />
<rect x="614.5" y="178.36" width="4.57" height="4.57" fill="#ffffff" />
<rect x="618.62" y="178.36" width="4.57" height="4.57" fill="#e0eaf6" />
<rect x="622.74" y="178.36" width="4.57" height="4.57" fill="#ffffff" />
<rect x="626.86" y="178.36" width="4.57" height="4.57" fill="#dce7f4" />
<rect x="630.98" y="178.36" width="4.57" height="4.57" fill="#d3e2f2" />
<rect x="635.1" y="178.36" width="4.57" height="4.57" fill="#b6d3ea" />
<rect x="639.22" y="178.36" width="4.57" height="4.57" fill="#4b91c9" />
<rect x="643.34" y="178.36" width="4.57" height="4.57" fill="#0b2f6b" />
<rect x="647.46" y="178.36" width="4.57" height="4.57" fill="#5b9bd0" />
<rect x="651.58" y="178.36" width="4.12" height="4.57" fill="#b6d3ea" />
<rect x="614.5" y="182.48" width="4.57" height="4.12" fill="#e4edf7" />
<rect x="618.62" y="182.48" width="4.57" height="4.12" fill="#e2ecf7" />
<rect x="622.74" y="182.48" width="4.57" height="4.12" fill="#e2ecf7" />
<rect x="626.86" y="182.48" width="4.57" height="4.12" fill="#e0eaf6" />
<rect x="630.98" y="182.48" width="4.57" height="4.12" fill="#d6e4f3" />
<rect x="635.1" y="182.48" width="4.57" height="4.12" fill="#b6d3ea" />
<rect x="639.22" y="182.48" width="4.57" height="4.12" fill="#8fbde0" />
<rect x="643.34" y="182.48" width="4.57" height="4.12" fill="#4b91c9" />
<rect x="647.46" y="182.48" width="4.57" height="4.12" fill="#8fbde0" />
<rect x="651.58" y="182.48" width="4.12" height="4.12" fill="#ffffff" />
<rect x="643.69" y="178.71" width="3.42" height="3.42" fill="none" stroke="#2e8b3e" stroke-width="0.7"/>
<rect x="614.5" y="145.4" width="41.2" height="41.2" fill="none" stroke="#6a6a6a" stroke-width="0.8"/>
<rect x="658" y="145.4" width="4.2" height="41.2" fill="url(#bl)" />
<rect x="658" y="145.4" width="4.2" height="41.2" fill="none" stroke="#6a6a6a" stroke-width="0.6"/>
<line x1="662.2" y1="145.4" x2="664.5" y2="145.4" stroke="#555555" stroke-width="0.7" />
<text x="667.8" y="148.23" font-size="7.9" text-anchor="start" fill="#231f20">4</text>
<line x1="662.2" y1="166" x2="664.5" y2="166" stroke="#555555" stroke-width="0.7" />
<text x="667.8" y="168.83" font-size="7.9" text-anchor="start" fill="#231f20">2</text>
<line x1="662.2" y1="186.6" x2="664.5" y2="186.6" stroke="#555555" stroke-width="0.7" />
<text x="667.8" y="189.43" font-size="7.9" text-anchor="start" fill="#231f20">0</text>
<text x="635.1" y="141.4" font-size="8.0" text-anchor="middle" fill="#231f20">Distance weights</text>
<text x="682.5" y="165.5" font-size="8.0" text-anchor="middle" fill="#231f20" transform="rotate(-90 682.5 165.5)">Weights (10<tspan dy="-2.5" font-size="5.5">−3</tspan><tspan dy="2.5">)</tspan></text>
<rect x="620.9" y="198.3" width="21.7" height="20.6" fill="#7a7a7a" />
<rect x="647.9" y="199" width="21.7" height="19.9" fill="#a9d4e4" />
<line x1="589.6" y1="152.8" x2="589.6" y2="219.4" stroke="#8a8a8a" stroke-width="1" />
<line x1="589.6" y1="219.4" x2="673.3" y2="219.4" stroke="#8a8a8a" stroke-width="1" />
<line x1="586.6" y1="177.3" x2="589.6" y2="177.3" stroke="#555555" stroke-width="0.7" />
<text x="583.5" y="180.13" font-size="7.9" text-anchor="end" fill="#231f20">0.5</text>
<line x1="586.6" y1="207.2" x2="589.6" y2="207.2" stroke="#555555" stroke-width="0.7" />
<text x="583.5" y="210.03" font-size="7.9" text-anchor="end" fill="#231f20">0</text>
<text x="567.1" y="188.2" font-size="8.0" text-anchor="middle" fill="#231f20" font-style="italic" transform="rotate(-90 567.1 188.2)">R</text>
<line x1="604.5" y1="219.4" x2="604.5" y2="222.4" stroke="#555555" stroke-width="0.7" />
<text x="607" y="229.9" font-size="8.0" text-anchor="end" fill="#231f20" transform="rotate(-45 607 229.9)">DWSS</text>
<line x1="631.75" y1="219.4" x2="631.75" y2="222.4" stroke="#555555" stroke-width="0.7" />
<text x="634.25" y="229.9" font-size="8.0" text-anchor="end" fill="#231f20" transform="rotate(-45 634.25 229.9)">Random</text>
<line x1="658.75" y1="219.4" x2="658.75" y2="222.4" stroke="#555555" stroke-width="0.7" />
<text x="661.25" y="229.9" font-size="8.0" text-anchor="end" fill="#231f20" transform="rotate(-45 661.25 229.9)">Non-CE</text>
<line x1="593.5" y1="207" x2="615.5" y2="207" stroke="#ea8a9a" stroke-width="1.4" />
<line x1="631.2" y1="192" x2="631.2" y2="205" stroke="#111" stroke-width="0.8" />
<circle cx="631.9" cy="192" r="0.75" fill="#222"/>
<circle cx="630.6" cy="193.5" r="0.75" fill="#222"/>
<circle cx="631.7" cy="195" r="0.75" fill="#222"/>
<circle cx="630.2" cy="196" r="0.75" fill="#222"/>
<circle cx="631.5" cy="198" r="0.75" fill="#222"/>
<circle cx="630.5" cy="200.5" r="0.75" fill="#222"/>
<circle cx="632" cy="201.5" r="0.75" fill="#222"/>
<circle cx="631.2" cy="203.5" r="0.75" fill="#222"/>
<circle cx="631.5" cy="210.8" r="0.75" fill="#222"/>
<line x1="658.4" y1="192" x2="658.4" y2="208" stroke="#111" stroke-width="0.8" />
<circle cx="658.9" cy="192" r="0.75" fill="#222"/>
<circle cx="658.1" cy="193.5" r="0.75" fill="#222"/>
<circle cx="659" cy="195.5" r="0.75" fill="#222"/>
<circle cx="657.9" cy="198" r="0.75" fill="#222"/>
<circle cx="658.8" cy="200" r="0.75" fill="#222"/>
<circle cx="658.1" cy="202.5" r="0.75" fill="#222"/>
<circle cx="658.6" cy="205" r="0.75" fill="#222"/>
<circle cx="657.9" cy="207.5" r="0.75" fill="#222"/>
<circle cx="658.4" cy="211" r="0.75" fill="#222"/>
<text x="561.2" y="7.6" font-size="10.5" text-anchor="start" fill="#000" font-weight="bold">g</text>
<text x="-0.6" y="270.7" font-size="10.5" text-anchor="start" fill="#000" font-weight="bold">h</text>
<line x1="25.5" y1="280.2" x2="25.5" y2="343.2" stroke="#8a8a8a" stroke-width="1" />
<line x1="22.5" y1="296.8" x2="25.5" y2="296.8" stroke="#555555" stroke-width="0.7" />
<text x="18.9" y="299.63" font-size="7.9" text-anchor="end" fill="#231f20">2</text>
<line x1="22.5" y1="323.3" x2="25.5" y2="323.3" stroke="#555555" stroke-width="0.7" />
<text x="18.9" y="326.13" font-size="7.9" text-anchor="end" fill="#231f20">0</text>
<path d="M32,316.5 C32.7,316.2 34.8,314.1 36,314.5 C37.2,314.9 37.7,318.6 39,319 C40.3,319.4 42.3,316.8 44,317 C45.7,317.2 47.5,318.8 49,320 C50.5,321.2 51.8,324.5 53,324.5 C54.2,324.5 54.5,321 56,320 C57.5,319 60.3,319.2 62,318.5 C63.7,317.8 64.7,316.1 66,316 C67.3,315.9 68.5,317.6 70,318 C71.5,318.4 73.7,318.8 75,318.5 C76.3,318.2 76.7,318.2 78,316 C79.3,313.8 81.5,307.6 83,305 C84.5,302.4 85.8,301 87,300.5 C88.2,300 88.7,302.4 90,302 C91.3,301.6 93.6,300.1 95,298 C96.4,295.9 97.2,291.3 98.5,289.7 C99.8,288.1 101.9,287.9 103,288.5 C104.1,289.1 104.2,292.6 105,293.5 C105.8,294.4 107.2,294.2 108,294 C108.8,293.8 108.8,293.6 110,292.5 C111.2,291.4 113.3,287.4 115,287.5 C116.7,287.6 118.7,290.4 120,293 C121.3,295.6 122.1,300.9 123,303 C123.9,305.1 125.2,305.1 125.6,305.5" fill="none" stroke="#33b8c4" stroke-width="1.1" stroke-linejoin="round" />
<path d="M32,324.5 C33.3,324.2 37,322.9 40,323 C43,323.1 47.5,324.7 50,325 C52.5,325.3 52.5,325.3 55,325 C57.5,324.7 61.7,323.5 65,323 C68.3,322.5 72.5,322.7 75,322 C77.5,321.3 77.5,321.8 80,319 C82.5,316.2 87.5,308.7 90,305 C92.5,301.3 93.5,298.5 95,297 C96.5,295.5 97.3,297 99,296 C100.7,295 103.2,291.7 105,291 C106.8,290.3 108.7,292 110,292 C111.3,292 111.7,289.7 113,291 C114.3,292.3 116.7,297.5 118,300 C119.3,302.5 119.7,304.7 121,306 C122.3,307.3 124.8,307.7 125.6,308" fill="none" stroke="#505aa6" stroke-width="1.1" stroke-linejoin="round" />
<path d="M32,337.2 C32.7,337 34.7,336.4 36,336.2 C37.3,336 38.8,335.5 40,336 C41.2,336.5 41.6,337.2 43,339 C44.4,340.8 47.2,347.5 48.5,347 C49.8,346.5 49.9,340.5 51,336 C52.1,331.5 53.7,323.3 55,320 C56.3,316.7 57.7,317.2 59,316 C60.3,314.8 62,313.8 63,313 C64,312.2 64.2,314.2 65,311 C65.8,307.8 66.9,294.8 67.8,294 C68.7,293.2 69.6,302 70.5,306 C71.4,310 72.1,315 73,318 C73.9,321 74.5,323.8 75.7,324 C76.9,324.2 78.5,319.3 80,319 C81.5,318.7 83.4,322.7 85,322 C86.6,321.3 87.9,318.3 89.5,315 C91.1,311.7 93.3,303.8 94.6,302 C95.9,300.2 96.6,302.7 97.5,304 C98.4,305.3 98.8,307.3 100,310 C101.2,312.7 103.7,318 105,320 C106.3,322 106.8,323.3 108,322 C109.2,320.7 110.8,314.8 112,312 C113.2,309.2 114.2,304.4 115.5,305.4 C116.8,306.4 118.8,315.7 120,318 C121.2,320.3 122.1,318.3 123,319 C123.9,319.7 125.2,321.5 125.6,322" fill="none" stroke="#ec1b8c" stroke-width="1.1" stroke-linejoin="round" />
<line x1="25.5" y1="356.5" x2="25.5" y2="420.4" stroke="#8a8a8a" stroke-width="1" />
<line x1="22.5" y1="371.6" x2="25.5" y2="371.6" stroke="#555555" stroke-width="0.7" />
<text x="18.9" y="374.43" font-size="7.9" text-anchor="end" fill="#231f20">2</text>
<line x1="22.5" y1="397.3" x2="25.5" y2="397.3" stroke="#555555" stroke-width="0.7" />
<text x="18.9" y="400.13" font-size="7.9" text-anchor="end" fill="#231f20">0</text>
<line x1="25.5" y1="420.4" x2="131.2" y2="420.4" stroke="#8a8a8a" stroke-width="1" />
<line x1="30.4" y1="420.4" x2="30.4" y2="423.2" stroke="#555555" stroke-width="0.7" />
<text x="30.4" y="433.6" font-size="7.8" text-anchor="middle" fill="#231f20">−2.0</text>
<line x1="62.8" y1="420.4" x2="62.8" y2="423.2" stroke="#555555" stroke-width="0.7" />
<text x="62.8" y="433.6" font-size="7.8" text-anchor="middle" fill="#231f20">−1.3</text>
<line x1="95.1" y1="420.4" x2="95.1" y2="423.2" stroke="#555555" stroke-width="0.7" />
<text x="95.1" y="433.6" font-size="7.8" text-anchor="middle" fill="#231f20">−0.7</text>
<line x1="127.5" y1="420.4" x2="127.5" y2="423.2" stroke="#555555" stroke-width="0.7" />
<text x="127.5" y="433.6" font-size="7.8" text-anchor="middle" fill="#231f20">0</text>
<text x="78.5" y="446.5" font-size="8.0" text-anchor="middle" fill="#231f20">Time (s)</text>
<path d="M34,405 C34.7,406 36.7,410.8 38,411 C39.3,411.2 40.4,407.9 42,406 C43.6,404.1 46,399.5 47.5,399.5 C49,399.5 49.4,404.6 51,406 C52.6,407.4 55.2,408 57,408 C58.8,408 60.5,406.7 62,406 C63.5,405.3 64.2,404.1 66,404 C67.8,403.9 71.3,404.8 73,405.5 C74.7,406.2 74.8,409.9 76.1,408 C77.4,406.1 79.5,396.8 81,394 C82.5,391.2 83.5,391.8 85,391 C86.5,390.2 88.8,390 90,389 C91.2,388 91.2,385.7 92,385 C92.8,384.3 93.7,386.2 95,385 C96.3,383.8 98.7,379.2 100,378 C101.3,376.8 101.8,377.1 103,377.5 C104.2,377.9 105.3,380.8 107,380.5 C108.7,380.2 111.2,377.5 113,376 C114.8,374.5 116.5,371.8 118,371.5 C119.5,371.2 120.8,372.6 122,374 C123.2,375.4 124.5,379 125,380" fill="none" stroke="#33b8c4" stroke-width="1.1" stroke-linejoin="round" />
<path d="M34,414 C35,413.7 38,413.2 40,412 C42,410.8 44,407.8 46,407 C48,406.2 50,406.8 52,407 C54,407.2 56.3,408 58,408 C59.7,408 60.7,407.3 62,407 C63.3,406.7 64.7,406.2 66,406 C67.3,405.8 68.5,405.5 70,406 C71.5,406.5 73.5,408 75,409 C76.5,410 77.3,412.3 79,412 C80.7,411.7 83.2,409 85,407 C86.8,405 87.5,403.5 90,400 C92.5,396.5 96.7,390.8 100,386 C103.3,381.2 107.8,373.7 110,371.5 C112.2,369.3 111.8,371.8 113,373 C114.2,374.2 115.5,376.8 117,379 C118.5,381.2 120.7,383.7 122,386 C123.3,388.3 124.5,391.8 125,393" fill="none" stroke="#505aa6" stroke-width="1.1" stroke-linejoin="round" />
<path d="M34.1,415.5 C34.8,412.1 36.9,401.8 38,395 C39.1,388.2 39.9,380.2 41,375 C42.1,369.8 43.7,365.3 44.7,364 C45.7,362.7 46,364.3 47,367 C48,369.7 49.2,378.1 50.4,380.3 C51.6,382.5 52.9,379.8 54,380 C55.1,380.2 55.7,381.1 57,381.5 C58.3,381.9 60.7,381.8 62,382.5 C63.3,383.2 63.7,384.1 65,386 C66.3,387.9 68.7,392 70,394 C71.3,396 71.7,395.3 73,398 C74.3,400.7 76.4,406.8 78,410 C79.6,413.2 81.2,417.1 82.4,417.1 C83.6,417.1 84.1,412.2 85,410 C85.9,407.8 86.7,404.4 88,403.7 C89.3,403 91.4,406.6 93,406 C94.6,405.4 96.1,401.5 97.5,400 C98.9,398.5 100.3,398 101.5,397 C102.7,396 103.3,395.6 104.5,394 C105.7,392.4 107.1,388.2 108.5,387.5 C109.9,386.8 111.8,388.2 113,390 C114.2,391.8 115,398.2 116,398.5 C117,398.8 118.1,392.2 119,392 C119.9,391.8 120.6,395.2 121.5,397 C122.4,398.8 124,401.6 124.5,402.5" fill="none" stroke="#ec1b8c" stroke-width="1.1" stroke-linejoin="round" />
<line x1="56.9" y1="342.2" x2="68.6" y2="342.2" stroke="#ec1b8c" stroke-width="1.4" />
<text x="73" y="345" font-size="8.0" text-anchor="start" fill="#231f20">Spike rate</text>
<line x1="56.9" y1="351.2" x2="68.6" y2="351.2" stroke="#33b8c4" stroke-width="1.4" />
<text x="73" y="354" font-size="8.0" text-anchor="start" fill="#231f20">HGA</text>
<line x1="56.9" y1="360.8" x2="68.6" y2="360.8" stroke="#505aa6" stroke-width="1.4" />
<text x="73" y="363.6" font-size="8.0" text-anchor="start" fill="#231f20">Co-firing pattern</text>
<text x="6.3" y="348.5" font-size="8.0" text-anchor="middle" fill="#231f20" transform="rotate(-90 6.3 348.5)">Normalized activity (a.u.)</text>
<text x="140.2" y="270.7" font-size="10.5" text-anchor="start" fill="#000" font-weight="bold">i</text>
<rect x="174.9" y="334.28" width="33.9" height="85.92" fill="#1fadb8" />
<rect x="217" y="375.46" width="33.9" height="44.74" fill="#e9128b" />
<line x1="170.7" y1="286" x2="170.7" y2="420.2" stroke="#c4c4c4" stroke-width="1.2" />
<line x1="170.7" y1="420.2" x2="254.8" y2="420.2" stroke="#8a8a8a" stroke-width="1" />
<line x1="167.7" y1="310.4" x2="170.7" y2="310.4" stroke="#555555" stroke-width="0.7" />
<text x="164.8" y="313.23" font-size="7.9" text-anchor="end" fill="#231f20">0.8</text>
<line x1="167.7" y1="337.85" x2="170.7" y2="337.85" stroke="#555555" stroke-width="0.7" />
<text x="164.8" y="340.68" font-size="7.9" text-anchor="end" fill="#231f20">0.6</text>
<line x1="167.7" y1="365.3" x2="170.7" y2="365.3" stroke="#555555" stroke-width="0.7" />
<text x="164.8" y="368.13" font-size="7.9" text-anchor="end" fill="#231f20">0.4</text>
<line x1="167.7" y1="392.75" x2="170.7" y2="392.75" stroke="#555555" stroke-width="0.7" />
<text x="164.8" y="395.58" font-size="7.9" text-anchor="end" fill="#231f20">0.2</text>
<line x1="167.7" y1="420.2" x2="170.7" y2="420.2" stroke="#555555" stroke-width="0.7" />
<text x="164.8" y="423.03" font-size="7.9" text-anchor="end" fill="#231f20">0</text>
<line x1="191.5" y1="420.2" x2="191.5" y2="423.2" stroke="#555555" stroke-width="0.7" />
<text x="191.5" y="433.3" font-size="8.0" text-anchor="middle" fill="#231f20">HGA</text>
<line x1="234.2" y1="420.2" x2="234.2" y2="423.2" stroke="#555555" stroke-width="0.7" />
<text x="234.2" y="433.3" font-size="8.0" text-anchor="middle" fill="#231f20">Spike rate</text>
<text x="212.6" y="447.2" font-size="8.0" text-anchor="middle" fill="#231f20">Co-firing fitted to</text>
<text x="145.8" y="353.3" font-size="8.0" text-anchor="middle" fill="#231f20" font-style="italic" transform="rotate(-90 145.8 353.3)">R</text>
<line x1="191.5" y1="306.28" x2="234.2" y2="349.52" stroke="#111" stroke-width="0.9" />
<line x1="191.5" y1="306.28" x2="191.5" y2="362.56" stroke="#111" stroke-width="0.8" />
<line x1="234.2" y1="349.52" x2="234.2" y2="399.2" stroke="#111" stroke-width="0.8" />
<line x1="191.5" y1="310.4" x2="234.2" y2="352.95" stroke="#111" stroke-width="0.95" stroke-dasharray="2.2 1.1"/>
<line x1="191.5" y1="313.14" x2="234.2" y2="355.69" stroke="#111" stroke-width="0.95" stroke-dasharray="2.2 1.1"/>
<line x1="191.5" y1="314.52" x2="234.2" y2="358.44" stroke="#111" stroke-width="0.95" stroke-dasharray="2.2 1.1"/>
<line x1="191.5" y1="337.85" x2="234.2" y2="414.71" stroke="#111" stroke-width="0.95" stroke-dasharray="2.2 1.1"/>
<line x1="191.5" y1="361.18" x2="234.2" y2="383.14" stroke="#111" stroke-width="0.95" stroke-dasharray="2.2 1.1"/>
<line x1="191.5" y1="373.53" x2="234.2" y2="393.44" stroke="#111" stroke-width="0.95" stroke-dasharray="2.2 1.1"/>
<line x1="191.5" y1="382.32" x2="234.2" y2="407.85" stroke="#111" stroke-width="0.95" stroke-dasharray="2.2 1.1"/>
<path d="M191.5,296.8 L191.5,292.8 L234.2,292.8 L234.2,296.8" fill="none" stroke="#7a7a7a" stroke-width="0.9"/>
<text x="212.9" y="293.3" font-size="8.6" text-anchor="middle" fill="#231f20">***</text>
<text x="267" y="270.7" font-size="10.5" text-anchor="start" fill="#000" font-weight="bold">j</text>
<path d="M301,325.8 L313.56,325.5 L326.12,325.2 L338.68,324.8 L351.24,324.5 L363.8,324.3 L376.36,324 L388.92,323.6 L401.48,323.4 L414.04,323.2 L414.04,346.7 L401.48,348 L388.92,349.5 L376.36,352 L363.8,355.3 L351.24,356 L338.68,357.5 L326.12,362 L313.56,367 L301,372.6Z" fill="#1aa7b3" fill-opacity="0.39"/>
<path d="M301,363.2 L313.56,361 L326.12,359.6 L338.68,357.6 L351.24,357.5 L363.8,356.7 L376.36,355 L388.92,353.4 L401.48,352.8 L414.04,352.4 L414.04,370.4 L401.48,372 L388.92,373.3 L376.36,374 L363.8,379 L351.24,378.4 L338.68,380 L326.12,387.9 L313.56,388.7 L301,402.8Z" fill="#e6007e" fill-opacity="0.35"/>
<path d="M301,349.5 313.6,347.5 326.1,345.2 338.7,340.2 351.2,339 363.8,338.7 376.4,337.5 388.9,336.6 401.5,335.5 414,334.4" fill="none" stroke="#1aa7b3" stroke-width="0.9" stroke-linejoin="round" />
<path d="M301,383.4 313.6,375.5 326.1,374 338.7,369 351.2,367.6 363.8,366.8 376.4,364.7 388.9,363.5 401.5,363.2 414,361.8" fill="none" stroke="#e6007e" stroke-width="0.9" stroke-linejoin="round" />
<circle cx="302.92" cy="326.07" r="0.9" fill="#1aa7b3"/>
<circle cx="299.82" cy="324.6" r="0.9" fill="#1aa7b3"/>
<circle cx="301.21" cy="324.2" r="0.9" fill="#1aa7b3"/>
<circle cx="300.93" cy="333.18" r="0.9" fill="#1aa7b3"/>
<circle cx="300.41" cy="332.51" r="0.9" fill="#1aa7b3"/>
<circle cx="301.37" cy="334.96" r="0.9" fill="#1aa7b3"/>
<circle cx="299.94" cy="357.45" r="0.9" fill="#1aa7b3"/>
<circle cx="302.21" cy="356.84" r="0.9" fill="#1aa7b3"/>
<circle cx="302.47" cy="364.62" r="0.9" fill="#1aa7b3"/>
<circle cx="299.52" cy="358.06" r="0.9" fill="#e6007e"/>
<circle cx="300.87" cy="361.77" r="0.9" fill="#e6007e"/>
<circle cx="300.11" cy="359.68" r="0.9" fill="#e6007e"/>
<circle cx="299.33" cy="357.46" r="0.9" fill="#e6007e"/>
<circle cx="302.58" cy="363.15" r="0.9" fill="#e6007e"/>
<circle cx="300.72" cy="365.16" r="0.9" fill="#e6007e"/>
<circle cx="299.59" cy="369.57" r="0.9" fill="#e6007e"/>
<circle cx="301.69" cy="370.9" r="0.9" fill="#e6007e"/>
<circle cx="299.81" cy="372.68" r="0.9" fill="#e6007e"/>
<circle cx="302.61" cy="369.25" r="0.9" fill="#e6007e"/>
<circle cx="299.87" cy="348.8" r="0.9" fill="#e6007e"/>
<circle cx="299.13" cy="417.94" r="0.9" fill="#e6007e"/>
<circle cx="299.8" cy="410.61" r="0.9" fill="#e6007e"/>
<circle cx="300.38" cy="398.77" r="0.9" fill="#e6007e"/>
<circle cx="300.88" cy="390.87" r="0.9" fill="#e6007e"/>
<circle cx="314.52" cy="323" r="0.9" fill="#1aa7b3"/>
<circle cx="312.34" cy="323.82" r="0.9" fill="#1aa7b3"/>
<circle cx="311.81" cy="325.24" r="0.9" fill="#1aa7b3"/>
<circle cx="313.95" cy="333.25" r="0.9" fill="#1aa7b3"/>
<circle cx="315.14" cy="332.44" r="0.9" fill="#1aa7b3"/>
<circle cx="311.67" cy="334.5" r="0.9" fill="#1aa7b3"/>
<circle cx="314.78" cy="353.49" r="0.9" fill="#1aa7b3"/>
<circle cx="312.32" cy="351.14" r="0.9" fill="#1aa7b3"/>
<circle cx="311.93" cy="378.73" r="0.9" fill="#1aa7b3"/>
<circle cx="311.63" cy="366.01" r="0.9" fill="#e6007e"/>
<circle cx="312.73" cy="354.1" r="0.9" fill="#e6007e"/>
<circle cx="314.47" cy="357.89" r="0.9" fill="#e6007e"/>
<circle cx="313.53" cy="361.98" r="0.9" fill="#e6007e"/>
<circle cx="314.97" cy="361.85" r="0.9" fill="#e6007e"/>
<circle cx="312.43" cy="365.2" r="0.9" fill="#e6007e"/>
<circle cx="312.82" cy="375.84" r="0.9" fill="#e6007e"/>
<circle cx="312.59" cy="377.51" r="0.9" fill="#e6007e"/>
<circle cx="315.47" cy="368.32" r="0.9" fill="#e6007e"/>
<circle cx="315.32" cy="372.53" r="0.9" fill="#e6007e"/>
<circle cx="312.92" cy="351.66" r="0.9" fill="#e6007e"/>
<circle cx="313.3" cy="397.64" r="0.9" fill="#e6007e"/>
<circle cx="312.82" cy="388.62" r="0.9" fill="#e6007e"/>
<circle cx="325.56" cy="323.63" r="0.9" fill="#1aa7b3"/>
<circle cx="324.77" cy="326.42" r="0.9" fill="#1aa7b3"/>
<circle cx="328.12" cy="326.31" r="0.9" fill="#1aa7b3"/>
<circle cx="324.7" cy="331.07" r="0.9" fill="#1aa7b3"/>
<circle cx="325.1" cy="331.96" r="0.9" fill="#1aa7b3"/>
<circle cx="325.55" cy="335.52" r="0.9" fill="#1aa7b3"/>
<circle cx="324.36" cy="350.63" r="0.9" fill="#1aa7b3"/>
<circle cx="327.6" cy="352.62" r="0.9" fill="#1aa7b3"/>
<circle cx="326.67" cy="369.15" r="0.9" fill="#1aa7b3"/>
<circle cx="324.76" cy="355.68" r="0.9" fill="#e6007e"/>
<circle cx="326.11" cy="354.38" r="0.9" fill="#e6007e"/>
<circle cx="324.43" cy="352.23" r="0.9" fill="#e6007e"/>
<circle cx="326.56" cy="363.63" r="0.9" fill="#e6007e"/>
<circle cx="325.05" cy="356.65" r="0.9" fill="#e6007e"/>
<circle cx="324.27" cy="363.72" r="0.9" fill="#e6007e"/>
<circle cx="324.58" cy="372.11" r="0.9" fill="#e6007e"/>
<circle cx="326.34" cy="368.24" r="0.9" fill="#e6007e"/>
<circle cx="326.67" cy="367.02" r="0.9" fill="#e6007e"/>
<circle cx="325.42" cy="368.55" r="0.9" fill="#e6007e"/>
<circle cx="326.69" cy="352.28" r="0.9" fill="#e6007e"/>
<circle cx="325.53" cy="398.77" r="0.9" fill="#e6007e"/>
<circle cx="324.64" cy="387.49" r="0.9" fill="#e6007e"/>
<circle cx="339.84" cy="325.33" r="0.9" fill="#1aa7b3"/>
<circle cx="337.68" cy="325.02" r="0.9" fill="#1aa7b3"/>
<circle cx="337.23" cy="322.97" r="0.9" fill="#1aa7b3"/>
<circle cx="338.24" cy="332.69" r="0.9" fill="#1aa7b3"/>
<circle cx="338.67" cy="332.86" r="0.9" fill="#1aa7b3"/>
<circle cx="337.82" cy="337.44" r="0.9" fill="#1aa7b3"/>
<circle cx="339.1" cy="348.38" r="0.9" fill="#1aa7b3"/>
<circle cx="339.09" cy="348.95" r="0.9" fill="#1aa7b3"/>
<circle cx="337.64" cy="368.53" r="0.9" fill="#1aa7b3"/>
<circle cx="339.17" cy="364.17" r="0.9" fill="#e6007e"/>
<circle cx="338.11" cy="353.33" r="0.9" fill="#e6007e"/>
<circle cx="339.62" cy="355.13" r="0.9" fill="#e6007e"/>
<circle cx="337.84" cy="363.04" r="0.9" fill="#e6007e"/>
<circle cx="339.88" cy="358.34" r="0.9" fill="#e6007e"/>
<circle cx="338.34" cy="364.43" r="0.9" fill="#e6007e"/>
<circle cx="338.89" cy="367.39" r="0.9" fill="#e6007e"/>
<circle cx="339.37" cy="368.33" r="0.9" fill="#e6007e"/>
<circle cx="338.75" cy="367.36" r="0.9" fill="#e6007e"/>
<circle cx="337.71" cy="367.86" r="0.9" fill="#e6007e"/>
<circle cx="340.6" cy="350.71" r="0.9" fill="#e6007e"/>
<circle cx="337.06" cy="390.87" r="0.9" fill="#e6007e"/>
<circle cx="351.03" cy="325.29" r="0.9" fill="#1aa7b3"/>
<circle cx="351.5" cy="324.41" r="0.9" fill="#1aa7b3"/>
<circle cx="349.49" cy="326.46" r="0.9" fill="#1aa7b3"/>
<circle cx="351.46" cy="332.47" r="0.9" fill="#1aa7b3"/>
<circle cx="352.5" cy="328.84" r="0.9" fill="#1aa7b3"/>
<circle cx="352.06" cy="335.94" r="0.9" fill="#1aa7b3"/>
<circle cx="352.45" cy="351.69" r="0.9" fill="#1aa7b3"/>
<circle cx="351.22" cy="349" r="0.9" fill="#1aa7b3"/>
<circle cx="352.77" cy="367.66" r="0.9" fill="#1aa7b3"/>
<circle cx="349.67" cy="360.1" r="0.9" fill="#e6007e"/>
<circle cx="352.74" cy="355.02" r="0.9" fill="#e6007e"/>
<circle cx="350.73" cy="359.49" r="0.9" fill="#e6007e"/>
<circle cx="349.6" cy="353.48" r="0.9" fill="#e6007e"/>
<circle cx="351.72" cy="358.83" r="0.9" fill="#e6007e"/>
<circle cx="351.06" cy="362.23" r="0.9" fill="#e6007e"/>
<circle cx="350.95" cy="365.87" r="0.9" fill="#e6007e"/>
<circle cx="352.65" cy="367.97" r="0.9" fill="#e6007e"/>
<circle cx="349.79" cy="367.36" r="0.9" fill="#e6007e"/>
<circle cx="351.71" cy="369.44" r="0.9" fill="#e6007e"/>
<circle cx="350.9" cy="347.22" r="0.9" fill="#e6007e"/>
<circle cx="351.35" cy="390.87" r="0.9" fill="#e6007e"/>
<circle cx="364.86" cy="324.6" r="0.9" fill="#1aa7b3"/>
<circle cx="363.54" cy="326.05" r="0.9" fill="#1aa7b3"/>
<circle cx="363.42" cy="324.55" r="0.9" fill="#1aa7b3"/>
<circle cx="364.75" cy="328.48" r="0.9" fill="#1aa7b3"/>
<circle cx="365.68" cy="332.38" r="0.9" fill="#1aa7b3"/>
<circle cx="362.12" cy="341.16" r="0.9" fill="#1aa7b3"/>
<circle cx="362.44" cy="357.47" r="0.9" fill="#1aa7b3"/>
<circle cx="363.25" cy="353.49" r="0.9" fill="#1aa7b3"/>
<circle cx="363.83" cy="364.2" r="0.9" fill="#1aa7b3"/>
<circle cx="362.09" cy="363.15" r="0.9" fill="#e6007e"/>
<circle cx="362.01" cy="349.27" r="0.9" fill="#e6007e"/>
<circle cx="362.68" cy="355.94" r="0.9" fill="#e6007e"/>
<circle cx="363.34" cy="362.04" r="0.9" fill="#e6007e"/>
<circle cx="364.76" cy="357.66" r="0.9" fill="#e6007e"/>
<circle cx="364.24" cy="360.76" r="0.9" fill="#e6007e"/>
<circle cx="361.92" cy="367.02" r="0.9" fill="#e6007e"/>
<circle cx="361.98" cy="368.97" r="0.9" fill="#e6007e"/>
<circle cx="363.61" cy="371.83" r="0.9" fill="#e6007e"/>
<circle cx="365.3" cy="372.2" r="0.9" fill="#e6007e"/>
<circle cx="365.46" cy="346.65" r="0.9" fill="#e6007e"/>
<circle cx="363.26" cy="389.74" r="0.9" fill="#e6007e"/>
<circle cx="375.53" cy="323.07" r="0.9" fill="#1aa7b3"/>
<circle cx="377.24" cy="322.91" r="0.9" fill="#1aa7b3"/>
<circle cx="375.66" cy="324.97" r="0.9" fill="#1aa7b3"/>
<circle cx="377.13" cy="329.14" r="0.9" fill="#1aa7b3"/>
<circle cx="376.37" cy="331.28" r="0.9" fill="#1aa7b3"/>
<circle cx="376.16" cy="340.2" r="0.9" fill="#1aa7b3"/>
<circle cx="378.23" cy="352.32" r="0.9" fill="#1aa7b3"/>
<circle cx="375.02" cy="357.28" r="0.9" fill="#1aa7b3"/>
<circle cx="376.31" cy="369.12" r="0.9" fill="#1aa7b3"/>
<circle cx="375" cy="351.26" r="0.9" fill="#e6007e"/>
<circle cx="378.11" cy="349.7" r="0.9" fill="#e6007e"/>
<circle cx="376.31" cy="356.55" r="0.9" fill="#e6007e"/>
<circle cx="375.69" cy="361.4" r="0.9" fill="#e6007e"/>
<circle cx="375.03" cy="349.89" r="0.9" fill="#e6007e"/>
<circle cx="376.74" cy="350.36" r="0.9" fill="#e6007e"/>
<circle cx="375.96" cy="363.49" r="0.9" fill="#e6007e"/>
<circle cx="374.87" cy="367.7" r="0.9" fill="#e6007e"/>
<circle cx="374.49" cy="366.81" r="0.9" fill="#e6007e"/>
<circle cx="375.93" cy="370.19" r="0.9" fill="#e6007e"/>
<circle cx="376.69" cy="351.28" r="0.9" fill="#e6007e"/>
<circle cx="376.44" cy="385.23" r="0.9" fill="#e6007e"/>
<circle cx="389.04" cy="323.02" r="0.9" fill="#1aa7b3"/>
<circle cx="390.38" cy="322.98" r="0.9" fill="#1aa7b3"/>
<circle cx="388.58" cy="322.88" r="0.9" fill="#1aa7b3"/>
<circle cx="390.06" cy="328.83" r="0.9" fill="#1aa7b3"/>
<circle cx="386.99" cy="330.65" r="0.9" fill="#1aa7b3"/>
<circle cx="387.03" cy="337.69" r="0.9" fill="#1aa7b3"/>
<circle cx="389.31" cy="354.13" r="0.9" fill="#1aa7b3"/>
<circle cx="387.82" cy="354.1" r="0.9" fill="#1aa7b3"/>
<circle cx="387.19" cy="378.94" r="0.9" fill="#1aa7b3"/>
<circle cx="387.43" cy="350.73" r="0.9" fill="#e6007e"/>
<circle cx="388.42" cy="358.84" r="0.9" fill="#e6007e"/>
<circle cx="388.27" cy="362.02" r="0.9" fill="#e6007e"/>
<circle cx="389.18" cy="355.61" r="0.9" fill="#e6007e"/>
<circle cx="390.47" cy="351.92" r="0.9" fill="#e6007e"/>
<circle cx="388.38" cy="356.05" r="0.9" fill="#e6007e"/>
<circle cx="387.66" cy="369.62" r="0.9" fill="#e6007e"/>
<circle cx="389.23" cy="366.3" r="0.9" fill="#e6007e"/>
<circle cx="386.93" cy="371.89" r="0.9" fill="#e6007e"/>
<circle cx="388.46" cy="373.6" r="0.9" fill="#e6007e"/>
<circle cx="388.19" cy="348.51" r="0.9" fill="#e6007e"/>
<circle cx="388.47" cy="385.23" r="0.9" fill="#e6007e"/>
<circle cx="401.53" cy="326.38" r="0.9" fill="#1aa7b3"/>
<circle cx="402.52" cy="324.39" r="0.9" fill="#1aa7b3"/>
<circle cx="399.76" cy="324.11" r="0.9" fill="#1aa7b3"/>
<circle cx="402.19" cy="329.12" r="0.9" fill="#1aa7b3"/>
<circle cx="399.67" cy="327.94" r="0.9" fill="#1aa7b3"/>
<circle cx="400.47" cy="338.84" r="0.9" fill="#1aa7b3"/>
<circle cx="402.37" cy="351.5" r="0.9" fill="#1aa7b3"/>
<circle cx="402.21" cy="353.67" r="0.9" fill="#1aa7b3"/>
<circle cx="401.1" cy="376.2" r="0.9" fill="#1aa7b3"/>
<circle cx="400.66" cy="348.73" r="0.9" fill="#e6007e"/>
<circle cx="402.79" cy="350.83" r="0.9" fill="#e6007e"/>
<circle cx="400.58" cy="347.94" r="0.9" fill="#e6007e"/>
<circle cx="399.6" cy="349.72" r="0.9" fill="#e6007e"/>
<circle cx="400.47" cy="348.32" r="0.9" fill="#e6007e"/>
<circle cx="399.56" cy="359.89" r="0.9" fill="#e6007e"/>
<circle cx="402.72" cy="372.87" r="0.9" fill="#e6007e"/>
<circle cx="399.97" cy="370.81" r="0.9" fill="#e6007e"/>
<circle cx="403.38" cy="368.4" r="0.9" fill="#e6007e"/>
<circle cx="400.33" cy="365.29" r="0.9" fill="#e6007e"/>
<circle cx="400.7" cy="349.55" r="0.9" fill="#e6007e"/>
<circle cx="401.82" cy="385.23" r="0.9" fill="#e6007e"/>
<circle cx="415.63" cy="325.36" r="0.9" fill="#1aa7b3"/>
<circle cx="415.16" cy="325.08" r="0.9" fill="#1aa7b3"/>
<circle cx="413.72" cy="326.16" r="0.9" fill="#1aa7b3"/>
<circle cx="412.57" cy="331.15" r="0.9" fill="#1aa7b3"/>
<circle cx="415.6" cy="333.2" r="0.9" fill="#1aa7b3"/>
<circle cx="414.82" cy="339.72" r="0.9" fill="#1aa7b3"/>
<circle cx="414.35" cy="348.93" r="0.9" fill="#1aa7b3"/>
<circle cx="414.77" cy="355.31" r="0.9" fill="#1aa7b3"/>
<circle cx="413.58" cy="375.31" r="0.9" fill="#1aa7b3"/>
<circle cx="413.41" cy="351.13" r="0.9" fill="#e6007e"/>
<circle cx="414.34" cy="348.15" r="0.9" fill="#e6007e"/>
<circle cx="413.97" cy="356.75" r="0.9" fill="#e6007e"/>
<circle cx="414.88" cy="355.57" r="0.9" fill="#e6007e"/>
<circle cx="415.78" cy="350.61" r="0.9" fill="#e6007e"/>
<circle cx="415.43" cy="349.48" r="0.9" fill="#e6007e"/>
<circle cx="413.59" cy="365.45" r="0.9" fill="#e6007e"/>
<circle cx="413.53" cy="370.35" r="0.9" fill="#e6007e"/>
<circle cx="415.75" cy="370.33" r="0.9" fill="#e6007e"/>
<circle cx="413.62" cy="363.82" r="0.9" fill="#e6007e"/>
<circle cx="415.24" cy="347.74" r="0.9" fill="#e6007e"/>
<circle cx="412.41" cy="382.98" r="0.9" fill="#e6007e"/>
<line x1="295.4" y1="307" x2="295.4" y2="420.2" stroke="#c4c4c4" stroke-width="1.2" />
<line x1="295.4" y1="420.2" x2="420" y2="420.2" stroke="#8a8a8a" stroke-width="1" />
<line x1="292.4" y1="307.4" x2="295.4" y2="307.4" stroke="#555555" stroke-width="0.7" />
<text x="288.3" y="310.23" font-size="7.9" text-anchor="end" fill="#231f20">1.0</text>
<line x1="292.4" y1="329.96" x2="295.4" y2="329.96" stroke="#555555" stroke-width="0.7" />
<text x="288.3" y="332.79" font-size="7.9" text-anchor="end" fill="#231f20">0.8</text>
<line x1="292.4" y1="352.52" x2="295.4" y2="352.52" stroke="#555555" stroke-width="0.7" />
<text x="288.3" y="355.35" font-size="7.9" text-anchor="end" fill="#231f20">0.6</text>
<line x1="292.4" y1="375.08" x2="295.4" y2="375.08" stroke="#555555" stroke-width="0.7" />
<text x="288.3" y="377.91" font-size="7.9" text-anchor="end" fill="#231f20">0.4</text>
<line x1="292.4" y1="397.64" x2="295.4" y2="397.64" stroke="#555555" stroke-width="0.7" />
<text x="288.3" y="400.47" font-size="7.9" text-anchor="end" fill="#231f20">0.2</text>
<line x1="292.4" y1="420.2" x2="295.4" y2="420.2" stroke="#555555" stroke-width="0.7" />
<text x="288.3" y="423.03" font-size="7.9" text-anchor="end" fill="#231f20">0</text>
<line x1="301" y1="420.2" x2="301" y2="423.2" stroke="#555555" stroke-width="0.7" />
<text x="301" y="433.2" font-size="7.9" text-anchor="middle" fill="#231f20">1</text>
<line x1="313.56" y1="420.2" x2="313.56" y2="423.2" stroke="#555555" stroke-width="0.7" />
<text x="313.56" y="433.2" font-size="7.9" text-anchor="middle" fill="#231f20">2</text>
<line x1="326.12" y1="420.2" x2="326.12" y2="423.2" stroke="#555555" stroke-width="0.7" />
<text x="326.12" y="433.2" font-size="7.9" text-anchor="middle" fill="#231f20">3</text>
<line x1="338.68" y1="420.2" x2="338.68" y2="423.2" stroke="#555555" stroke-width="0.7" />
<text x="338.68" y="433.2" font-size="7.9" text-anchor="middle" fill="#231f20">4</text>
<line x1="351.24" y1="420.2" x2="351.24" y2="423.2" stroke="#555555" stroke-width="0.7" />
<text x="351.24" y="433.2" font-size="7.9" text-anchor="middle" fill="#231f20">5</text>
<line x1="363.8" y1="420.2" x2="363.8" y2="423.2" stroke="#555555" stroke-width="0.7" />
<text x="363.8" y="433.2" font-size="7.9" text-anchor="middle" fill="#231f20">6</text>
<line x1="376.36" y1="420.2" x2="376.36" y2="423.2" stroke="#555555" stroke-width="0.7" />
<text x="376.36" y="433.2" font-size="7.9" text-anchor="middle" fill="#231f20">7</text>
<line x1="388.92" y1="420.2" x2="388.92" y2="423.2" stroke="#555555" stroke-width="0.7" />
<text x="388.92" y="433.2" font-size="7.9" text-anchor="middle" fill="#231f20">8</text>
<line x1="401.48" y1="420.2" x2="401.48" y2="423.2" stroke="#555555" stroke-width="0.7" />
<text x="401.48" y="433.2" font-size="7.9" text-anchor="middle" fill="#231f20">9</text>
<line x1="414.04" y1="420.2" x2="414.04" y2="423.2" stroke="#555555" stroke-width="0.7" />
<text x="414.04" y="433.2" font-size="7.9" text-anchor="middle" fill="#231f20">10</text>
<text x="357.5" y="446.5" font-size="8.0" text-anchor="middle" fill="#231f20">Number of factors</text>
<text x="272" y="363" font-size="8.0" text-anchor="middle" fill="#231f20" font-style="italic" transform="rotate(-90 272 363)">R</text>
<text x="368.3" y="299.7" font-size="8.0" text-anchor="middle" fill="#231f20">Factors fitted to</text>
<line x1="343.6" y1="307" x2="354.8" y2="307" stroke="#e6007e" stroke-width="1.4" />
<line x1="343.6" y1="317.5" x2="354.8" y2="317.5" stroke="#1aa7b3" stroke-width="1.4" />
<text x="358.7" y="309.8" font-size="8.0" text-anchor="start" fill="#231f20">Spike rate</text>
<text x="358.7" y="320.3" font-size="8.0" text-anchor="start" fill="#231f20">HGA</text>
<rect x="440.1" y="271.4" width="7.83" height="7.83" fill="#ffffff" />
<rect x="447.48" y="271.4" width="7.83" height="7.83" fill="#ffffff" />
<rect x="454.86" y="271.4" width="7.83" height="7.83" fill="#472a79" />
<rect x="462.24" y="271.4" width="7.83" height="7.83" fill="#ffffff" />
<rect x="469.62" y="271.4" width="7.83" height="7.83" fill="#ffffff" />
<rect x="477" y="271.4" width="7.83" height="7.83" fill="#229c88" />
<rect x="484.38" y="271.4" width="7.83" height="7.83" fill="#21918c" />
<rect x="491.76" y="271.4" width="7.83" height="7.83" fill="#29ad80" />
<rect x="499.14" y="271.4" width="7.83" height="7.83" fill="#450c5e" />
<rect x="506.52" y="271.4" width="7.38" height="7.83" fill="#ffffff" />
<rect x="440.1" y="278.78" width="7.83" height="7.83" fill="#355f8d" />
<rect x="447.48" y="278.78" width="7.83" height="7.83" fill="#471a6b" />
<rect x="454.86" y="278.78" width="7.83" height="7.83" fill="#3dba74" />
<rect x="462.24" y="278.78" width="7.83" height="7.83" fill="#5fc860" />
<rect x="469.62" y="278.78" width="7.83" height="7.83" fill="#bddf26" />
<rect x="477" y="278.78" width="7.83" height="7.83" fill="#2c738e" />
<rect x="484.38" y="278.78" width="7.83" height="7.83" fill="#6fcd57" />
<rect x="491.76" y="278.78" width="7.83" height="7.83" fill="#482475" />
<rect x="499.14" y="278.78" width="7.83" height="7.83" fill="#a9db33" />
<rect x="506.52" y="278.78" width="7.38" height="7.83" fill="#45085b" />
<rect x="440.1" y="286.16" width="7.83" height="7.83" fill="#ffffff" />
<rect x="447.48" y="286.16" width="7.83" height="7.83" fill="#ffffff" />
<rect x="454.86" y="286.16" width="7.83" height="7.83" fill="#95d740" />
<rect x="462.24" y="286.16" width="7.83" height="7.83" fill="#21968a" />
<rect x="469.62" y="286.16" width="7.83" height="7.83" fill="#dde326" />
<rect x="477" y="286.16" width="7.83" height="7.83" fill="#d7e226" />
<rect x="484.38" y="286.16" width="7.83" height="7.83" fill="#21968a" />
<rect x="491.76" y="286.16" width="7.83" height="7.83" fill="#ffffff" />
<rect x="499.14" y="286.16" width="7.83" height="7.83" fill="#ffffff" />
<rect x="506.52" y="286.16" width="7.38" height="7.83" fill="#45085b" />
<rect x="440.1" y="293.54" width="7.83" height="7.83" fill="#ffffff" />
<rect x="447.48" y="293.54" width="7.83" height="7.83" fill="#ffffff" />
<rect x="454.86" y="293.54" width="7.83" height="7.83" fill="#a9db33" />
<rect x="462.24" y="293.54" width="7.83" height="7.83" fill="#460f61" />
<rect x="469.62" y="293.54" width="7.83" height="7.83" fill="#87d448" />
<rect x="477" y="293.54" width="7.83" height="7.83" fill="#3f4988" />
<rect x="484.38" y="293.54" width="7.83" height="7.83" fill="#6fcd57" />
<rect x="491.76" y="293.54" width="7.83" height="7.83" fill="#2c738e" />
<rect x="499.14" y="293.54" width="7.83" height="7.83" fill="#2caf7e" />
<rect x="506.52" y="293.54" width="7.38" height="7.83" fill="#22a386" />
<rect x="440.1" y="300.92" width="7.83" height="7.83" fill="#ffffff" />
<rect x="447.48" y="300.92" width="7.83" height="7.83" fill="#ffffff" />
<rect x="454.86" y="300.92" width="7.83" height="7.83" fill="#7ad151" />
<rect x="462.24" y="300.92" width="7.83" height="7.83" fill="#32668d" />
<rect x="469.62" y="300.92" width="7.83" height="7.83" fill="#229f87" />
<rect x="477" y="300.92" width="7.83" height="7.83" fill="#460f61" />
<rect x="484.38" y="300.92" width="7.83" height="7.83" fill="#ffffff" />
<rect x="491.76" y="300.92" width="7.83" height="7.83" fill="#2d708e" />
<rect x="499.14" y="300.92" width="7.83" height="7.83" fill="#ffffff" />
<rect x="506.52" y="300.92" width="7.38" height="7.83" fill="#45085b" />
<rect x="440.1" y="308.3" width="7.83" height="7.83" fill="#ffffff" />
<rect x="447.48" y="308.3" width="7.83" height="7.83" fill="#ffffff" />
<rect x="454.86" y="308.3" width="7.83" height="7.83" fill="#fde725" />
<rect x="462.24" y="308.3" width="7.83" height="7.83" fill="#482475" />
<rect x="469.62" y="308.3" width="7.83" height="7.83" fill="#2a788e" />
<rect x="477" y="308.3" width="7.83" height="7.83" fill="#22a884" />
<rect x="484.38" y="308.3" width="7.83" height="7.83" fill="#229f87" />
<rect x="491.76" y="308.3" width="7.83" height="7.83" fill="#29ad80" />
<rect x="499.14" y="308.3" width="7.83" height="7.83" fill="#ffffff" />
<rect x="506.52" y="308.3" width="7.38" height="7.83" fill="#ffffff" />
<rect x="440.1" y="315.68" width="7.83" height="7.83" fill="#ffffff" />
<rect x="447.48" y="315.68" width="7.83" height="7.83" fill="#ffffff" />
<rect x="454.86" y="315.68" width="7.83" height="7.83" fill="#229f87" />
<rect x="462.24" y="315.68" width="7.83" height="7.83" fill="#33b47a" />
<rect x="469.62" y="315.68" width="7.83" height="7.83" fill="#4fc36a" />
<rect x="477" y="315.68" width="7.83" height="7.83" fill="#2a788e" />
<rect x="484.38" y="315.68" width="7.83" height="7.83" fill="#7ad151" />
<rect x="491.76" y="315.68" width="7.83" height="7.83" fill="#ffffff" />
<rect x="499.14" y="315.68" width="7.83" height="7.83" fill="#ffffff" />
<rect x="506.52" y="315.68" width="7.38" height="7.83" fill="#423e83" />
<rect x="440.1" y="323.06" width="7.83" height="7.83" fill="#ffffff" />
<rect x="447.48" y="323.06" width="7.83" height="7.83" fill="#2c738e" />
<rect x="454.86" y="323.06" width="7.83" height="7.83" fill="#ffffff" />
<rect x="462.24" y="323.06" width="7.83" height="7.83" fill="#219a89" />
<rect x="469.62" y="323.06" width="7.83" height="7.83" fill="#25878d" />
<rect x="477" y="323.06" width="7.83" height="7.83" fill="#21918c" />
<rect x="484.38" y="323.06" width="7.83" height="7.83" fill="#e3e425" />
<rect x="491.76" y="323.06" width="7.83" height="7.83" fill="#ffffff" />
<rect x="499.14" y="323.06" width="7.83" height="7.83" fill="#ffffff" />
<rect x="506.52" y="323.06" width="7.38" height="7.83" fill="#ffffff" />
<rect x="440.1" y="330.44" width="7.83" height="7.83" fill="#423e83" />
<rect x="447.48" y="330.44" width="7.83" height="7.83" fill="#5fc860" />
<rect x="454.86" y="330.44" width="7.83" height="7.83" fill="#ffffff" />
<rect x="462.24" y="330.44" width="7.83" height="7.83" fill="#ffffff" />
<rect x="469.62" y="330.44" width="7.83" height="7.83" fill="#33b47a" />
<rect x="477" y="330.44" width="7.83" height="7.83" fill="#460f61" />
<rect x="484.38" y="330.44" width="7.83" height="7.83" fill="#2caf7e" />
<rect x="491.76" y="330.44" width="7.83" height="7.83" fill="#ffffff" />
<rect x="499.14" y="330.44" width="7.83" height="7.83" fill="#45085b" />
<rect x="506.52" y="330.44" width="7.38" height="7.83" fill="#26828d" />
<rect x="440.1" y="337.82" width="7.83" height="7.38" fill="#ffffff" />
<rect x="447.48" y="337.82" width="7.83" height="7.38" fill="#ffffff" />
<rect x="454.86" y="337.82" width="7.83" height="7.38" fill="#471d6e" />
<rect x="462.24" y="337.82" width="7.83" height="7.38" fill="#462e7a" />
<rect x="469.62" y="337.82" width="7.83" height="7.38" fill="#2c738e" />
<rect x="477" y="337.82" width="7.83" height="7.38" fill="#ffffff" />
<rect x="484.38" y="337.82" width="7.83" height="7.38" fill="#ffffff" />
<rect x="491.76" y="337.82" width="7.83" height="7.38" fill="#ffffff" />
<rect x="499.14" y="337.82" width="7.83" height="7.38" fill="#ffffff" />
<rect x="506.52" y="337.82" width="7.38" height="7.38" fill="#ffffff" />
<rect x="499.74" y="331.04" width="6.18" height="6.18" fill="none" stroke="#d62728" stroke-width="1"/>
<rect x="440.1" y="271.4" width="73.8" height="73.8" fill="none" stroke="#7a7a7a" stroke-width="0.8"/>
<rect x="440.3" y="357.5" width="7.81" height="7.81" fill="#ffffff" />
<rect x="447.66" y="357.5" width="7.81" height="7.81" fill="#45085b" />
<rect x="455.02" y="357.5" width="7.81" height="7.81" fill="#b0dc2f" />
<rect x="462.38" y="357.5" width="7.81" height="7.81" fill="#423e83" />
<rect x="469.74" y="357.5" width="7.81" height="7.81" fill="#460f61" />
<rect x="477.1" y="357.5" width="7.81" height="7.81" fill="#25878d" />
<rect x="484.46" y="357.5" width="7.81" height="7.81" fill="#e3e425" />
<rect x="491.82" y="357.5" width="7.81" height="7.81" fill="#482475" />
<rect x="499.18" y="357.5" width="7.81" height="7.81" fill="#2d708e" />
<rect x="506.54" y="357.5" width="7.36" height="7.81" fill="#ffffff" />
<rect x="440.3" y="364.86" width="7.81" height="7.81" fill="#482475" />
<rect x="447.66" y="364.86" width="7.81" height="7.81" fill="#21968a" />
<rect x="455.02" y="364.86" width="7.81" height="7.81" fill="#461264" />
<rect x="462.38" y="364.86" width="7.81" height="7.81" fill="#472a79" />
<rect x="469.74" y="364.86" width="7.81" height="7.81" fill="#45085b" />
<rect x="477.1" y="364.86" width="7.81" height="7.81" fill="#2d708e" />
<rect x="484.46" y="364.86" width="7.81" height="7.81" fill="#3f4988" />
<rect x="491.82" y="364.86" width="7.81" height="7.81" fill="#45085b" />
<rect x="499.18" y="364.86" width="7.81" height="7.81" fill="#45085b" />
<rect x="506.54" y="364.86" width="7.36" height="7.81" fill="#238c8c" />
<rect x="440.3" y="372.22" width="7.81" height="7.81" fill="#21988a" />
<rect x="447.66" y="372.22" width="7.81" height="7.81" fill="#fde725" />
<rect x="455.02" y="372.22" width="7.81" height="7.81" fill="#45317c" />
<rect x="462.38" y="372.22" width="7.81" height="7.81" fill="#ffffff" />
<rect x="469.74" y="372.22" width="7.81" height="7.81" fill="#21968a" />
<rect x="477.1" y="372.22" width="7.81" height="7.81" fill="#45085b" />
<rect x="484.46" y="372.22" width="7.81" height="7.81" fill="#33b47a" />
<rect x="491.82" y="372.22" width="7.81" height="7.81" fill="#472777" />
<rect x="499.18" y="372.22" width="7.81" height="7.81" fill="#45085b" />
<rect x="506.54" y="372.22" width="7.36" height="7.81" fill="#2caf7e" />
<rect x="440.3" y="379.58" width="7.81" height="7.81" fill="#fde725" />
<rect x="447.66" y="379.58" width="7.81" height="7.81" fill="#87d448" />
<rect x="455.02" y="379.58" width="7.81" height="7.81" fill="#21988a" />
<rect x="462.38" y="379.58" width="7.81" height="7.81" fill="#461668" />
<rect x="469.74" y="379.58" width="7.81" height="7.81" fill="#29ad80" />
<rect x="477.1" y="379.58" width="7.81" height="7.81" fill="#45085b" />
<rect x="484.46" y="379.58" width="7.81" height="7.81" fill="#33b47a" />
<rect x="491.82" y="379.58" width="7.81" height="7.81" fill="#45085b" />
<rect x="499.18" y="379.58" width="7.81" height="7.81" fill="#22a386" />
<rect x="506.54" y="379.58" width="7.36" height="7.81" fill="#472777" />
<rect x="440.3" y="386.94" width="7.81" height="7.81" fill="#45085b" />
<rect x="447.66" y="386.94" width="7.81" height="7.81" fill="#44347e" />
<rect x="455.02" y="386.94" width="7.81" height="7.81" fill="#2a788e" />
<rect x="462.38" y="386.94" width="7.81" height="7.81" fill="#29ad80" />
<rect x="469.74" y="386.94" width="7.81" height="7.81" fill="#21918c" />
<rect x="477.1" y="386.94" width="7.81" height="7.81" fill="#45085b" />
<rect x="484.46" y="386.94" width="7.81" height="7.81" fill="#27808d" />
<rect x="491.82" y="386.94" width="7.81" height="7.81" fill="#44347e" />
<rect x="499.18" y="386.94" width="7.81" height="7.81" fill="#e3e425" />
<rect x="506.54" y="386.94" width="7.36" height="7.81" fill="#3dba74" />
<rect x="440.3" y="394.3" width="7.81" height="7.81" fill="#472777" />
<rect x="447.66" y="394.3" width="7.81" height="7.81" fill="#45085b" />
<rect x="455.02" y="394.3" width="7.81" height="7.81" fill="#6fcd57" />
<rect x="462.38" y="394.3" width="7.81" height="7.81" fill="#45085b" />
<rect x="469.74" y="394.3" width="7.81" height="7.81" fill="#7ad151" />
<rect x="477.1" y="394.3" width="7.81" height="7.81" fill="#3f4988" />
<rect x="484.46" y="394.3" width="7.81" height="7.81" fill="#ffffff" />
<rect x="491.82" y="394.3" width="7.81" height="7.81" fill="#45085b" />
<rect x="499.18" y="394.3" width="7.81" height="7.81" fill="#45085b" />
<rect x="506.54" y="394.3" width="7.36" height="7.81" fill="#472777" />
<rect x="440.3" y="401.66" width="7.81" height="7.81" fill="#45085b" />
<rect x="447.66" y="401.66" width="7.81" height="7.81" fill="#45085b" />
<rect x="455.02" y="401.66" width="7.81" height="7.81" fill="#fde725" />
<rect x="462.38" y="401.66" width="7.81" height="7.81" fill="#cae126" />
<rect x="469.74" y="401.66" width="7.81" height="7.81" fill="#7ad151" />
<rect x="477.1" y="401.66" width="7.81" height="7.81" fill="#2a788e" />
<rect x="484.46" y="401.66" width="7.81" height="7.81" fill="#45085b" />
<rect x="491.82" y="401.66" width="7.81" height="7.81" fill="#45085b" />
<rect x="499.18" y="401.66" width="7.81" height="7.81" fill="#45085b" />
<rect x="506.54" y="401.66" width="7.36" height="7.81" fill="#44347e" />
<rect x="440.3" y="409.02" width="7.81" height="7.81" fill="#45085b" />
<rect x="447.66" y="409.02" width="7.81" height="7.81" fill="#ffffff" />
<rect x="455.02" y="409.02" width="7.81" height="7.81" fill="#ffffff" />
<rect x="462.38" y="409.02" width="7.81" height="7.81" fill="#21988a" />
<rect x="469.74" y="409.02" width="7.81" height="7.81" fill="#4fc36a" />
<rect x="477.1" y="409.02" width="7.81" height="7.81" fill="#2a788e" />
<rect x="484.46" y="409.02" width="7.81" height="7.81" fill="#45085b" />
<rect x="491.82" y="409.02" width="7.81" height="7.81" fill="#33b47a" />
<rect x="499.18" y="409.02" width="7.81" height="7.81" fill="#22a884" />
<rect x="506.54" y="409.02" width="7.36" height="7.81" fill="#fde725" />
<rect x="440.3" y="416.38" width="7.81" height="7.81" fill="#ffffff" />
<rect x="447.66" y="416.38" width="7.81" height="7.81" fill="#45085b" />
<rect x="455.02" y="416.38" width="7.81" height="7.81" fill="#45085b" />
<rect x="462.38" y="416.38" width="7.81" height="7.81" fill="#32668d" />
<rect x="469.74" y="416.38" width="7.81" height="7.81" fill="#45085b" />
<rect x="477.1" y="416.38" width="7.81" height="7.81" fill="#21968a" />
<rect x="484.46" y="416.38" width="7.81" height="7.81" fill="#2a788e" />
<rect x="491.82" y="416.38" width="7.81" height="7.81" fill="#3f4988" />
<rect x="499.18" y="416.38" width="7.81" height="7.81" fill="#482475" />
<rect x="506.54" y="416.38" width="7.36" height="7.81" fill="#29ad80" />
<rect x="440.3" y="423.74" width="7.81" height="7.36" fill="#ffffff" />
<rect x="447.66" y="423.74" width="7.81" height="7.36" fill="#2a788e" />
<rect x="455.02" y="423.74" width="7.81" height="7.36" fill="#fde725" />
<rect x="462.38" y="423.74" width="7.81" height="7.36" fill="#44347e" />
<rect x="469.74" y="423.74" width="7.81" height="7.36" fill="#21988a" />
<rect x="477.1" y="423.74" width="7.81" height="7.36" fill="#3f4988" />
<rect x="484.46" y="423.74" width="7.81" height="7.36" fill="#472a79" />
<rect x="491.82" y="423.74" width="7.81" height="7.36" fill="#45085b" />
<rect x="499.18" y="423.74" width="7.81" height="7.36" fill="#45085b" />
<rect x="506.54" y="423.74" width="7.36" height="7.36" fill="#ffffff" />
<rect x="492.42" y="416.98" width="6.16" height="6.16" fill="none" stroke="#d62728" stroke-width="1"/>
<rect x="440.3" y="357.5" width="73.6" height="73.6" fill="none" stroke="#7a7a7a" stroke-width="0.8"/>
<text x="428.5" y="270.7" font-size="10.5" text-anchor="start" fill="#000" font-weight="bold">k</text>
<text x="435.2" y="309" font-size="8.0" text-anchor="middle" fill="#231f20" transform="rotate(-90 435.2 309)">C CE 63</text>
<text x="435.2" y="394.4" font-size="8.0" text-anchor="middle" fill="#231f20" transform="rotate(-90 435.2 394.4)">J CE 52</text>
<defs><linearGradient id="vir" x1="0" y1="0" x2="0" y2="1"><stop offset="0.00" stop-color="#fde725"/><stop offset="0.10" stop-color="#bddf26"/><stop offset="0.20" stop-color="#7ad151"/><stop offset="0.30" stop-color="#44bf70"/><stop offset="0.40" stop-color="#22a884"/><stop offset="0.50" stop-color="#21918c"/><stop offset="0.60" stop-color="#2a788e"/><stop offset="0.70" stop-color="#355f8d"/><stop offset="0.80" stop-color="#414487"/><stop offset="0.90" stop-color="#482475"/><stop offset="1.00" stop-color="#440154"/></linearGradient></defs>
<rect x="521" y="292" width="6.9" height="115.3" fill="url(#vir)" />
<line x1="527.9" y1="292" x2="527.9" y2="407.3" stroke="#6a6a6a" stroke-width="0.6" />
<line x1="527.9" y1="292" x2="530.4" y2="292" stroke="#555555" stroke-width="0.7" />
<text x="533.3" y="294.83" font-size="7.9" text-anchor="start" fill="#231f20">1.0</text>
<line x1="527.9" y1="349.7" x2="530.4" y2="349.7" stroke="#555555" stroke-width="0.7" />
<text x="533.3" y="352.53" font-size="7.9" text-anchor="start" fill="#231f20">0.5</text>
<line x1="527.9" y1="407.3" x2="530.4" y2="407.3" stroke="#555555" stroke-width="0.7" />
<text x="533.3" y="410.13" font-size="7.9" text-anchor="start" fill="#231f20">0</text>
<text x="557.5" y="350" font-size="8.0" text-anchor="middle" fill="#231f20" transform="rotate(-90 557.5 350)">Absolute co-firing weights</text>
<text x="582.5" y="270.7" font-size="10.5" text-anchor="start" fill="#000" font-weight="bold">l</text>
<rect x="618.3" y="309.66" width="27" height="35.64" fill="#dc143c" />
<rect x="652.3" y="306.96" width="26.9" height="38.34" fill="#7a7a7a" />
<line x1="615.4" y1="269.4" x2="615.4" y2="345.3" stroke="#8a8a8a" stroke-width="1" />
<line x1="615.4" y1="345.3" x2="682.8" y2="345.3" stroke="#8a8a8a" stroke-width="1" />
<line x1="612.4" y1="280.5" x2="615.4" y2="280.5" stroke="#555555" stroke-width="0.7" />
<text x="608.5" y="283.33" font-size="7.9" text-anchor="end" fill="#231f20">0.6</text>
<line x1="612.4" y1="302.1" x2="615.4" y2="302.1" stroke="#555555" stroke-width="0.7" />
<text x="608.5" y="304.93" font-size="7.9" text-anchor="end" fill="#231f20">0.4</text>
<line x1="612.4" y1="323.7" x2="615.4" y2="323.7" stroke="#555555" stroke-width="0.7" />
<text x="608.5" y="326.53" font-size="7.9" text-anchor="end" fill="#231f20">0.2</text>
<line x1="612.4" y1="345.3" x2="615.4" y2="345.3" stroke="#555555" stroke-width="0.7" />
<text x="608.5" y="348.13" font-size="7.9" text-anchor="end" fill="#231f20">0</text>
<line x1="631.6" y1="345.3" x2="631.6" y2="348.3" stroke="#555555" stroke-width="0.7" />
<text x="631.6" y="358.1" font-size="8.0" text-anchor="middle" fill="#231f20">CE</text>
<line x1="665.5" y1="345.3" x2="665.5" y2="348.3" stroke="#555555" stroke-width="0.7" />
<text x="665.5" y="358.1" font-size="8.0" text-anchor="middle" fill="#231f20">Random</text>
<text x="648" y="273.8" font-size="8.0" text-anchor="middle" fill="#231f20">C CE 63</text>
<line x1="665.5" y1="296" x2="665.5" y2="319" stroke="#111" stroke-width="0.9" />
<circle cx="667.7" cy="280.5" r="1.0" fill="#3a3a3a"/>
<circle cx="665.5" cy="291.3" r="1.0" fill="#3a3a3a"/>
<circle cx="669.5" cy="293.46" r="1.0" fill="#3a3a3a"/>
<circle cx="661.5" cy="298.86" r="1.0" fill="#3a3a3a"/>
<circle cx="662.5" cy="299.94" r="1.0" fill="#3a3a3a"/>
<circle cx="663.5" cy="297.78" r="1.0" fill="#3a3a3a"/>
<circle cx="665.5" cy="303.18" r="1.0" fill="#3a3a3a"/>
<circle cx="662.5" cy="306.42" r="1.0" fill="#3a3a3a"/>
<circle cx="666.5" cy="308.58" r="1.0" fill="#3a3a3a"/>
<circle cx="666" cy="309.66" r="1.0" fill="#3a3a3a"/>
<circle cx="668" cy="312.9" r="1.0" fill="#3a3a3a"/>
<circle cx="667" cy="315.06" r="1.0" fill="#3a3a3a"/>
<circle cx="665" cy="318.3" r="1.0" fill="#3a3a3a"/>
<circle cx="666" cy="322.62" r="1.0" fill="#3a3a3a"/>
<circle cx="665.7" cy="325.86" r="1.0" fill="#3a3a3a"/>
<circle cx="667.3" cy="311.82" r="1.0" fill="#3a3a3a"/>
<rect x="618" y="414.42" width="25.7" height="22.98" fill="#dc143c" />
<rect x="650" y="409.25" width="26.6" height="28.15" fill="#7a7a7a" />
<line x1="615.4" y1="365.5" x2="615.4" y2="437.4" stroke="#8a8a8a" stroke-width="1" />
<line x1="615.4" y1="437.4" x2="679.6" y2="437.4" stroke="#8a8a8a" stroke-width="1" />
<line x1="612.4" y1="375.3" x2="615.4" y2="375.3" stroke="#555555" stroke-width="0.7" />
<text x="608.5" y="378.13" font-size="7.9" text-anchor="end" fill="#231f20">0.6</text>
<line x1="612.4" y1="396" x2="615.4" y2="396" stroke="#555555" stroke-width="0.7" />
<text x="608.5" y="398.83" font-size="7.9" text-anchor="end" fill="#231f20">0.4</text>
<line x1="612.4" y1="416.7" x2="615.4" y2="416.7" stroke="#555555" stroke-width="0.7" />
<text x="608.5" y="419.53" font-size="7.9" text-anchor="end" fill="#231f20">0.2</text>
<line x1="612.4" y1="437.4" x2="615.4" y2="437.4" stroke="#555555" stroke-width="0.7" />
<text x="608.5" y="440.23" font-size="7.9" text-anchor="end" fill="#231f20">0</text>
<line x1="631.6" y1="437.4" x2="631.6" y2="440.4" stroke="#555555" stroke-width="0.7" />
<text x="631.6" y="450.2" font-size="8.0" text-anchor="middle" fill="#231f20">CE</text>
<line x1="665.5" y1="437.4" x2="665.5" y2="440.4" stroke="#555555" stroke-width="0.7" />
<text x="665.5" y="450.2" font-size="8.0" text-anchor="middle" fill="#231f20">Random</text>
<text x="648" y="370.6" font-size="8.0" text-anchor="middle" fill="#231f20">J CE 52</text>
<line x1="663.5" y1="398.8" x2="663.5" y2="424" stroke="#111" stroke-width="0.9" />
<circle cx="668" cy="390.82" r="1.0" fill="#3a3a3a"/>
<circle cx="669.5" cy="396" r="1.0" fill="#3a3a3a"/>
<circle cx="663" cy="397.03" r="1.0" fill="#3a3a3a"/>
<circle cx="664.5" cy="399.1" r="1.0" fill="#3a3a3a"/>
<circle cx="667.5" cy="400.14" r="1.0" fill="#3a3a3a"/>
<circle cx="662.5" cy="403.25" r="1.0" fill="#3a3a3a"/>
<circle cx="668" cy="401.17" r="1.0" fill="#3a3a3a"/>
<circle cx="661.5" cy="414.63" r="1.0" fill="#3a3a3a"/>
<circle cx="663.5" cy="414.63" r="1.0" fill="#3a3a3a"/>
<circle cx="667" cy="413.59" r="1.0" fill="#3a3a3a"/>
<circle cx="665.5" cy="416.7" r="1.0" fill="#3a3a3a"/>
<circle cx="664.5" cy="417.73" r="1.0" fill="#3a3a3a"/>
<circle cx="666" cy="419.8" r="1.0" fill="#3a3a3a"/>
<circle cx="669.5" cy="419.8" r="1.0" fill="#3a3a3a"/>
<circle cx="665.5" cy="421.88" r="1.0" fill="#3a3a3a"/>
<circle cx="667.5" cy="429.12" r="1.0" fill="#3a3a3a"/>
<circle cx="662.5" cy="432.22" r="1.0" fill="#3a3a3a"/>
<circle cx="665.5" cy="409.45" r="1.0" fill="#3a3a3a"/>
<text x="590" y="353.8" font-size="8.0" text-anchor="middle" fill="#231f20" transform="rotate(-90 590 353.8)">DWM of absolute co-firing weights</text>
</svg>
</body></html>
